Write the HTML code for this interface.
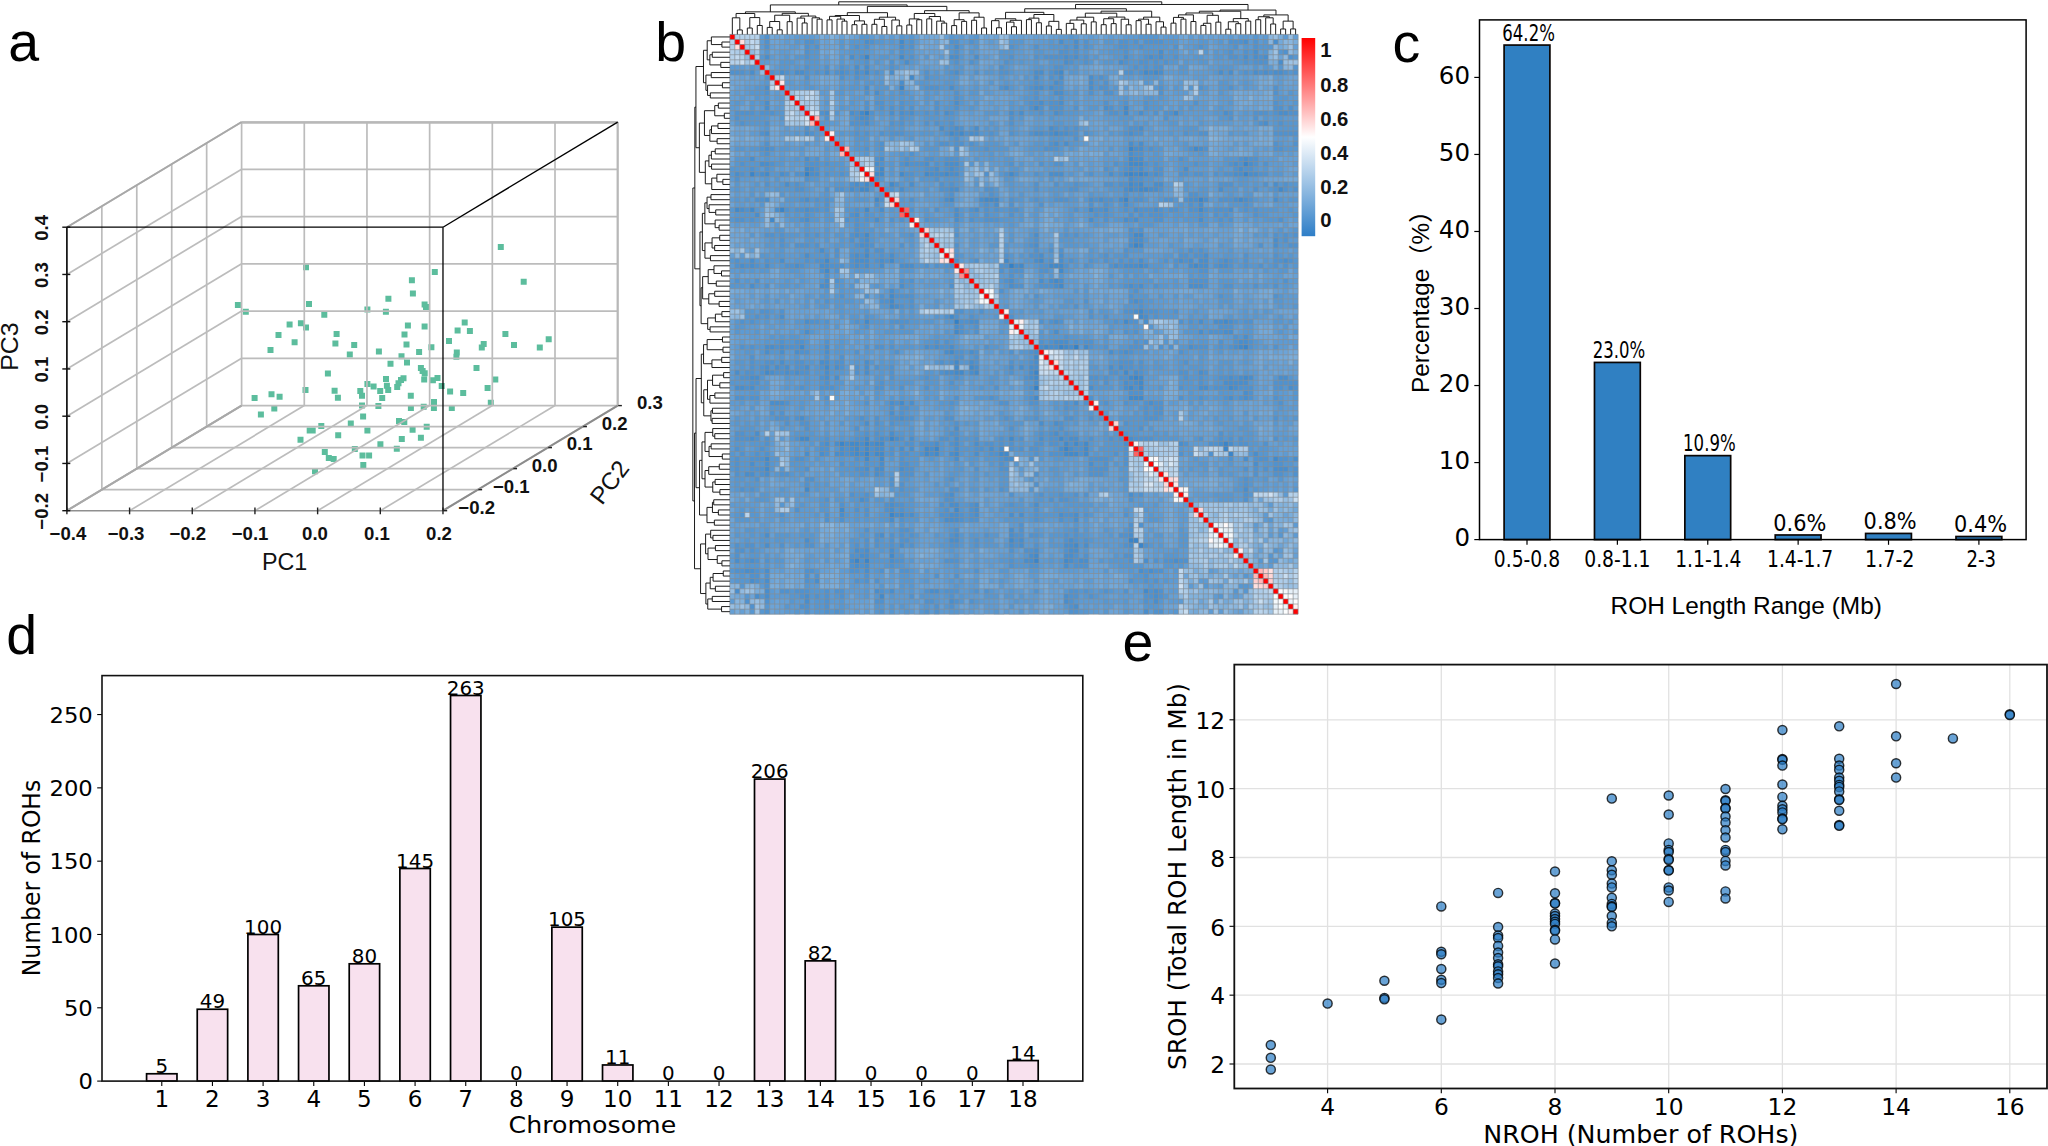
<!DOCTYPE html>
<html><head><meta charset="utf-8"><title>Figure</title>
<style>html,body{margin:0;padding:0;background:#fff}svg{display:block}text{white-space:pre}</style></head>
<body>
<svg width="2048" height="1146" viewBox="0 0 2048 1146">
<rect width="2048" height="1146" fill="#fff"/>
<g font-family="Liberation Sans, sans-serif" font-size="55.5" fill="#000"><text x="8.3" y="61.4">a</text><text x="655.2" y="61.1">b</text><text x="1392.4" y="62.2">c</text><text x="6.2" y="654.0">d</text><text x="1122.5" y="661.2">e</text></g>
<g id="pa"><path d="M497.8 244.1h6v6h-6zM303.0 264.2h6v6h-6zM431.8 268.9h6v6h-6zM408.9 277.3h6v6h-6zM520.7 278.8h6v6h-6zM409.9 290.4h6v6h-6zM385.4 295.8h6v6h-6zM234.9 301.9h6v6h-6zM306.0 300.9h6v6h-6zM421.6 301.6h6v6h-6zM423.0 303.9h6v6h-6zM364.4 306.4h6v6h-6zM242.8 308.7h6v6h-6zM382.9 308.7h6v6h-6zM321.3 311.7h6v6h-6zM461.7 319.5h6v6h-6zM297.9 320.2h6v6h-6zM286.6 321.6h6v6h-6zM404.9 322.6h6v6h-6zM421.6 323.5h6v6h-6zM303.0 324.6h6v6h-6zM454.6 327.6h6v6h-6zM466.9 328.0h6v6h-6zM333.6 330.9h6v6h-6zM502.4 330.9h6v6h-6zM275.5 331.9h6v6h-6zM401.5 331.4h6v6h-6zM545.7 336.3h6v6h-6zM446.0 337.9h6v6h-6zM291.6 339.2h6v6h-6zM332.4 340.4h6v6h-6zM480.7 341.1h6v6h-6zM351.2 341.9h6v6h-6zM403.5 341.6h6v6h-6zM511.0 341.9h6v6h-6zM428.4 344.2h6v6h-6zM478.8 344.6h6v6h-6zM536.8 344.4h6v6h-6zM267.5 347.0h6v6h-6zM375.9 348.5h6v6h-6zM416.1 348.9h6v6h-6zM453.8 349.4h6v6h-6zM346.8 351.5h6v6h-6zM398.5 353.2h6v6h-6zM453.4 353.7h6v6h-6zM387.5 360.7h6v6h-6zM404.0 359.5h6v6h-6zM473.5 364.9h6v6h-6zM417.9 364.9h6v6h-6zM419.6 368.1h6v6h-6zM421.7 370.3h6v6h-6zM324.9 370.6h6v6h-6zM434.5 374.9h6v6h-6zM400.5 375.2h6v6h-6zM383.0 376.1h6v6h-6zM421.2 376.4h6v6h-6zM492.3 376.6h6v6h-6zM429.9 377.2h6v6h-6zM398.0 376.9h6v6h-6zM395.5 380.2h6v6h-6zM364.4 381.1h6v6h-6zM383.9 382.7h6v6h-6zM438.7 383.0h6v6h-6zM370.6 383.5h6v6h-6zM394.2 384.0h6v6h-6zM484.6 384.9h6v6h-6zM302.5 386.9h6v6h-6zM385.2 386.9h6v6h-6zM331.6 387.7h6v6h-6zM357.3 388.0h6v6h-6zM377.2 388.0h6v6h-6zM447.1 388.5h6v6h-6zM460.2 390.0h6v6h-6zM268.5 391.2h6v6h-6zM359.0 392.7h6v6h-6zM407.8 392.8h6v6h-6zM276.6 393.8h6v6h-6zM251.6 395.0h6v6h-6zM334.9 394.8h6v6h-6zM379.2 395.0h6v6h-6zM431.0 399.1h6v6h-6zM487.8 399.8h6v6h-6zM359.0 402.6h6v6h-6zM375.4 403.1h6v6h-6zM420.7 403.8h6v6h-6zM407.9 405.1h6v6h-6zM430.9 405.1h6v6h-6zM448.8 405.1h6v6h-6zM271.3 405.5h6v6h-6zM257.9 411.6h6v6h-6zM360.1 413.6h6v6h-6zM396.0 418.1h6v6h-6zM401.3 418.9h6v6h-6zM347.8 420.4h6v6h-6zM318.3 422.9h6v6h-6zM423.7 423.7h6v6h-6zM409.6 426.7h6v6h-6zM306.7 427.5h6v6h-6zM309.7 427.5h6v6h-6zM364.4 427.4h6v6h-6zM335.2 432.2h6v6h-6zM417.9 434.7h6v6h-6zM398.8 436.0h6v6h-6zM297.5 436.8h6v6h-6zM377.4 441.3h6v6h-6zM393.8 445.8h6v6h-6zM351.8 446.1h6v6h-6zM321.8 449.1h6v6h-6zM359.5 452.4h6v6h-6zM366.1 452.4h6v6h-6zM325.8 454.9h6v6h-6zM330.7 456.1h6v6h-6zM360.3 461.9h6v6h-6zM312.0 468.2h6v6h-6z" fill="#5cbd9d"/>
<g><line x1="241.60" y1="405.60" x2="241.60" y2="122.10" stroke="#bcbcbc" stroke-width="1.7"/><line x1="304.28" y1="405.60" x2="304.28" y2="122.10" stroke="#bcbcbc" stroke-width="1.7"/><line x1="366.96" y1="405.60" x2="366.96" y2="122.10" stroke="#bcbcbc" stroke-width="1.7"/><line x1="429.64" y1="405.60" x2="429.64" y2="122.10" stroke="#bcbcbc" stroke-width="1.7"/><line x1="492.32" y1="405.60" x2="492.32" y2="122.10" stroke="#bcbcbc" stroke-width="1.7"/><line x1="555.00" y1="405.60" x2="555.00" y2="122.10" stroke="#bcbcbc" stroke-width="1.7"/><line x1="617.68" y1="405.60" x2="617.68" y2="122.10" stroke="#bcbcbc" stroke-width="1.7"/><line x1="241.60" y1="405.60" x2="617.68" y2="405.60" stroke="#bcbcbc" stroke-width="1.7"/><line x1="241.60" y1="358.35" x2="617.68" y2="358.35" stroke="#bcbcbc" stroke-width="1.7"/><line x1="241.60" y1="311.10" x2="617.68" y2="311.10" stroke="#bcbcbc" stroke-width="1.7"/><line x1="241.60" y1="263.85" x2="617.68" y2="263.85" stroke="#bcbcbc" stroke-width="1.7"/><line x1="241.60" y1="216.60" x2="617.68" y2="216.60" stroke="#bcbcbc" stroke-width="1.7"/><line x1="241.60" y1="169.35" x2="617.68" y2="169.35" stroke="#bcbcbc" stroke-width="1.7"/><line x1="241.60" y1="122.10" x2="617.68" y2="122.10" stroke="#bcbcbc" stroke-width="1.7"/><line x1="66.90" y1="510.70" x2="241.60" y2="405.60" stroke="#bcbcbc" stroke-width="1.7"/><line x1="66.90" y1="463.45" x2="241.60" y2="358.35" stroke="#bcbcbc" stroke-width="1.7"/><line x1="66.90" y1="416.20" x2="241.60" y2="311.10" stroke="#bcbcbc" stroke-width="1.7"/><line x1="66.90" y1="368.95" x2="241.60" y2="263.85" stroke="#bcbcbc" stroke-width="1.7"/><line x1="66.90" y1="321.70" x2="241.60" y2="216.60" stroke="#bcbcbc" stroke-width="1.7"/><line x1="66.90" y1="274.45" x2="241.60" y2="169.35" stroke="#bcbcbc" stroke-width="1.7"/><line x1="66.90" y1="227.20" x2="241.60" y2="122.10" stroke="#bcbcbc" stroke-width="1.7"/><line x1="101.84" y1="489.68" x2="101.84" y2="206.18" stroke="#bcbcbc" stroke-width="1.7"/><line x1="136.78" y1="468.66" x2="136.78" y2="185.16" stroke="#bcbcbc" stroke-width="1.7"/><line x1="171.72" y1="447.64" x2="171.72" y2="164.14" stroke="#bcbcbc" stroke-width="1.7"/><line x1="206.66" y1="426.62" x2="206.66" y2="143.12" stroke="#bcbcbc" stroke-width="1.7"/><line x1="66.90" y1="510.70" x2="241.60" y2="405.60" stroke="#bcbcbc" stroke-width="1.7"/><line x1="129.58" y1="510.70" x2="304.28" y2="405.60" stroke="#bcbcbc" stroke-width="1.7"/><line x1="192.26" y1="510.70" x2="366.96" y2="405.60" stroke="#bcbcbc" stroke-width="1.7"/><line x1="254.94" y1="510.70" x2="429.64" y2="405.60" stroke="#bcbcbc" stroke-width="1.7"/><line x1="317.62" y1="510.70" x2="492.32" y2="405.60" stroke="#bcbcbc" stroke-width="1.7"/><line x1="380.30" y1="510.70" x2="555.00" y2="405.60" stroke="#bcbcbc" stroke-width="1.7"/><line x1="442.98" y1="510.70" x2="617.68" y2="405.60" stroke="#bcbcbc" stroke-width="1.7"/><line x1="101.84" y1="489.68" x2="477.92" y2="489.68" stroke="#bcbcbc" stroke-width="1.7"/><line x1="136.78" y1="468.66" x2="512.86" y2="468.66" stroke="#bcbcbc" stroke-width="1.7"/><line x1="171.72" y1="447.64" x2="547.80" y2="447.64" stroke="#bcbcbc" stroke-width="1.7"/><line x1="206.66" y1="426.62" x2="582.74" y2="426.62" stroke="#bcbcbc" stroke-width="1.7"/><line x1="241.60" y1="122.50" x2="617.68" y2="122.50" stroke="#b8b8b8" stroke-width="2.5"/><line x1="617.68" y1="405.60" x2="617.68" y2="122.10" stroke="#b8b8b8" stroke-width="2.0"/><line x1="66.90" y1="510.70" x2="241.60" y2="405.60" stroke="#a8a8a8" stroke-width="2.0"/><line x1="66.90" y1="227.20" x2="241.60" y2="122.10" stroke="#a8a8a8" stroke-width="1.8"/><line x1="442.98" y1="510.70" x2="617.68" y2="405.60" stroke="#8c8c8c" stroke-width="2.0"/><line x1="66.90" y1="510.70" x2="442.98" y2="510.70" stroke="#8f8f8f" stroke-width="1.6"/><line x1="66.90" y1="227.20" x2="442.98" y2="227.20" stroke="#000" stroke-width="1.3"/><line x1="442.98" y1="227.20" x2="442.98" y2="510.70" stroke="#000" stroke-width="1.3"/><line x1="442.98" y1="227.20" x2="617.68" y2="122.10" stroke="#000" stroke-width="1.3"/><line x1="66.90" y1="227.20" x2="66.90" y2="510.70" stroke="#000" stroke-width="1.6"/><line x1="66.90" y1="507.50" x2="66.90" y2="514.30" stroke="#222" stroke-width="1.4"/><line x1="129.58" y1="507.50" x2="129.58" y2="514.30" stroke="#222" stroke-width="1.4"/><line x1="192.26" y1="507.50" x2="192.26" y2="514.30" stroke="#222" stroke-width="1.4"/><line x1="254.94" y1="507.50" x2="254.94" y2="514.30" stroke="#222" stroke-width="1.4"/><line x1="317.62" y1="507.50" x2="317.62" y2="514.30" stroke="#222" stroke-width="1.4"/><line x1="380.30" y1="507.50" x2="380.30" y2="514.30" stroke="#222" stroke-width="1.4"/><line x1="442.98" y1="507.50" x2="442.98" y2="514.30" stroke="#222" stroke-width="1.4"/><line x1="62.30" y1="510.70" x2="70.30" y2="510.70" stroke="#111" stroke-width="1.4"/><line x1="62.30" y1="463.45" x2="70.30" y2="463.45" stroke="#111" stroke-width="1.4"/><line x1="62.30" y1="416.20" x2="70.30" y2="416.20" stroke="#111" stroke-width="1.4"/><line x1="62.30" y1="368.95" x2="70.30" y2="368.95" stroke="#111" stroke-width="1.4"/><line x1="62.30" y1="321.70" x2="70.30" y2="321.70" stroke="#111" stroke-width="1.4"/><line x1="62.30" y1="274.45" x2="70.30" y2="274.45" stroke="#111" stroke-width="1.4"/><line x1="62.30" y1="227.20" x2="70.30" y2="227.20" stroke="#111" stroke-width="1.4"/><line x1="443.48" y1="510.70" x2="447.18" y2="510.70" stroke="#222" stroke-width="1.4"/><line x1="478.42" y1="489.68" x2="482.12" y2="489.68" stroke="#222" stroke-width="1.4"/><line x1="513.36" y1="468.66" x2="517.06" y2="468.66" stroke="#222" stroke-width="1.4"/><line x1="548.30" y1="447.64" x2="552.00" y2="447.64" stroke="#222" stroke-width="1.4"/><line x1="583.24" y1="426.62" x2="586.94" y2="426.62" stroke="#222" stroke-width="1.4"/><line x1="618.18" y1="405.60" x2="621.88" y2="405.60" stroke="#222" stroke-width="1.4"/></g>
<g font-family="Liberation Sans, sans-serif" font-weight="bold" font-size="18.6" fill="#111"><text x="49.6" y="540.2">−0.4</text><text x="107.7" y="540.2">−0.3</text><text x="169.4" y="540.2">−0.2</text><text x="231.7" y="540.2">−0.1</text><text x="302.1" y="540.2">0.0</text><text x="364.0" y="540.2">0.1</text><text x="426.1" y="540.2">0.2</text><text transform="translate(48.3,511.3) rotate(-90)" text-anchor="middle">−0.2</text><text transform="translate(48.3,464.1) rotate(-90)" text-anchor="middle">−0.1</text><text transform="translate(48.3,416.8) rotate(-90)" text-anchor="middle">0.0</text><text transform="translate(48.3,369.6) rotate(-90)" text-anchor="middle">0.1</text><text transform="translate(48.3,322.3) rotate(-90)" text-anchor="middle">0.2</text><text transform="translate(48.3,275.1) rotate(-90)" text-anchor="middle">0.3</text><text transform="translate(48.3,227.8) rotate(-90)" text-anchor="middle">0.4</text><text x="458.3" y="513.9">−0.2</text><text x="492.9" y="492.8">−0.1</text><text x="531.7" y="471.5">0.0</text><text x="566.7" y="450.4">0.1</text><text x="601.7" y="429.5">0.2</text><text x="636.9" y="408.6">0.3</text></g>
<g font-family="Liberation Sans, sans-serif" font-size="24.2" fill="#111"><text x="261.9" y="569.9" textLength="45.3" lengthAdjust="spacingAndGlyphs">PC1</text><text transform="translate(18.0,346.6) rotate(-90)" text-anchor="middle" textLength="48.3" lengthAdjust="spacingAndGlyphs">PC3</text><text transform="translate(616.1,487.3) rotate(-53)" text-anchor="middle">PC2</text></g></g>
<g id="pb"><rect x="729.85" y="34.40" width="568.25" height="579.80" fill="#5d9bd4"/>
<path fill="#3281c8" d="M864.44 110.69H869.42V115.78H864.44zM804.62 171.72H809.6V176.81H804.62zM1008.99 263.27H1013.97V268.35H1008.99zM954.16 319.21H959.14V324.3H954.16zM1073.79 344.64H1078.78V349.73H1073.79zM1033.91 385.33H1038.9V390.42H1033.91z"/>
<path fill="#3a85ca" d="M864.44 54.74H869.42V59.83H864.44zM899.33 85.26H904.31V90.35H899.33zM1128.62 146.29H1133.61V151.38H1128.62zM1243.27 161.55H1248.25V166.64H1243.27zM749.79 171.72H754.77V176.81H749.79zM1128.62 171.72H1133.61V176.81H1128.62zM1138.59 171.72H1143.58V176.81H1138.59zM1243.27 171.72H1248.25V176.81H1243.27zM1123.64 197.15H1128.62V202.24H1123.64zM1198.41 197.15H1203.39V202.24H1198.41zM779.7 207.32H784.68V212.41H779.7zM1133.61 242.92H1138.59V248.01H1133.61zM1058.84 344.64H1063.82V349.73H1058.84zM1243.27 344.64H1248.25V349.73H1243.27zM1033.91 370.07H1038.9V375.16H1033.91zM1133.61 375.16H1138.59V380.25H1133.61zM889.36 436.19H894.34V441.28H889.36zM839.51 441.28H844.5V446.36H839.51zM864.44 441.28H869.42V446.36H864.44zM1223.33 441.28H1228.31V446.36H1223.33zM934.22 446.36H939.21V451.45H934.22zM1063.82 446.36H1068.81V451.45H1063.82zM1223.33 446.36H1228.31V451.45H1223.33zM864.44 451.45H869.42V456.54H864.44zM1228.31 451.45H1233.3V456.54H1228.31zM889.36 512.48H894.34V517.57H889.36zM1128.62 537.91H1138.59V543H1128.62zM1138.59 543H1143.58V548.08H1138.59zM854.47 558.25H859.45V563.34H854.47zM864.44 558.25H869.42V563.34H864.44zM1033.91 558.25H1038.9V563.34H1033.91z"/>
<path fill="#418acc" d="M899.33 39.49H904.31V44.57H899.33zM899.33 54.74H904.31V59.83H899.33zM864.44 70H869.42V75.09H864.44zM1058.84 70H1063.82V75.09H1058.84zM1143.58 70H1148.56V75.09H1143.58zM1153.55 70H1158.53V75.09H1153.55zM909.3 75.09H914.28V80.17H909.3zM1033.91 105.6H1038.9V110.69H1033.91zM1123.64 105.6H1128.62V110.69H1123.64zM859.45 110.69H864.44V115.78H859.45zM1123.64 110.69H1128.62V115.78H1123.64zM1173.48 110.69H1178.47V115.78H1173.48zM949.17 131.03H954.16V136.12H949.17zM959.14 131.03H964.13V136.12H959.14zM1053.85 131.03H1058.84V136.12H1053.85zM1193.42 146.29H1198.41V151.38H1193.42zM1128.62 156.46H1133.61V161.55H1128.62zM1128.62 161.55H1143.58V166.64H1128.62zM804.62 166.64H809.6V171.72H804.62zM879.39 166.64H884.37V171.72H879.39zM764.74 171.72H769.73V176.81H764.74zM874.4 171.72H884.37V176.81H874.4zM899.33 171.72H904.31V176.81H899.33zM924.25 171.72H929.24V176.81H924.25zM944.19 171.72H949.17V176.81H944.19zM1008.99 171.72H1013.97V176.81H1008.99zM1123.64 171.72H1128.62V176.81H1123.64zM1133.61 171.72H1138.59V176.81H1133.61zM1143.58 171.72H1148.56V176.81H1143.58zM864.44 181.89H869.42V186.98H864.44zM889.36 181.89H894.34V186.98H889.36zM1128.62 181.89H1133.61V186.98H1128.62zM1138.59 181.89H1143.58V186.98H1138.59zM859.45 186.98H869.42V192.06H859.45zM1128.62 186.98H1133.61V192.06H1128.62zM1138.59 186.98H1148.56V192.06H1138.59zM1278.16 186.98H1283.15V192.06H1278.16zM874.4 197.15H879.39V202.24H874.4zM949.17 197.15H954.16V202.24H949.17zM984.07 197.15H999.02V202.24H984.07zM1238.28 197.15H1243.27V202.24H1238.28zM734.83 207.32H739.82V212.41H734.83zM749.79 207.32H754.77V212.41H749.79zM864.44 207.32H869.42V212.41H864.44zM1088.74 207.32H1093.73V212.41H1088.74zM1198.41 207.32H1203.39V212.41H1198.41zM769.73 217.49H774.71V222.58H769.73zM864.44 232.75H869.42V237.84H864.44zM1133.61 232.75H1143.58V237.84H1133.61zM1138.59 242.92H1143.58V248.01H1138.59zM864.44 253.1H869.42V258.18H864.44zM824.56 258.18H829.54V263.27H824.56zM889.36 258.18H894.34V263.27H889.36zM1004.01 258.18H1008.99V263.27H1004.01zM1038.9 258.18H1043.88V263.27H1038.9zM1018.96 263.27H1023.94V268.35H1018.96zM1048.87 263.27H1063.82V268.35H1048.87zM1138.59 263.27H1143.58V268.35H1138.59zM1193.42 263.27H1198.41V268.35H1193.42zM824.56 268.35H829.54V273.44H824.56zM1058.84 268.35H1063.82V273.44H1058.84zM1053.85 278.53H1058.84V283.61H1053.85zM1058.84 283.61H1063.82V288.7H1058.84zM889.36 293.78H894.34V298.87H889.36zM889.36 298.87H894.34V303.96H889.36zM889.36 303.96H894.34V309.04H889.36zM1138.59 309.04H1143.58V314.13H1138.59zM949.17 314.13H954.16V319.21H949.17zM1138.59 314.13H1143.58V319.21H1138.59zM864.44 319.21H869.42V324.3H864.44zM1123.64 319.21H1128.62V324.3H1123.64zM1223.33 319.21H1228.31V324.3H1223.33zM954.16 329.39H959.14V334.47H954.16zM799.64 344.64H804.62V349.73H799.64zM1043.88 344.64H1048.87V349.73H1043.88zM1063.82 344.64H1068.81V349.73H1063.82zM1083.76 344.64H1088.74V349.73H1083.76zM1238.28 344.64H1243.27V349.73H1238.28zM949.17 349.73H954.16V354.82H949.17zM1033.91 354.82H1038.9V359.9H1033.91zM954.16 359.9H959.14V364.99H954.16zM824.56 364.99H829.54V370.07H824.56zM954.16 364.99H959.14V370.07H954.16zM969.11 364.99H974.1V370.07H969.11zM764.74 370.07H769.73V375.16H764.74zM954.16 370.07H964.13V375.16H954.16zM974.1 370.07H979.08V375.16H974.1zM1123.64 370.07H1128.62V375.16H1123.64zM1033.91 375.16H1038.9V380.25H1033.91zM1128.62 375.16H1133.61V380.25H1128.62zM1138.59 375.16H1143.58V380.25H1138.59zM1243.27 375.16H1248.25V380.25H1243.27zM1138.59 380.25H1143.58V385.33H1138.59zM1128.62 385.33H1133.61V390.42H1128.62zM1138.59 385.33H1143.58V390.42H1138.59zM1228.31 385.33H1233.3V390.42H1228.31zM1033.91 395.5H1038.9V400.59H1033.91zM1128.62 395.5H1143.58V400.59H1128.62zM899.33 400.59H904.31V405.68H899.33zM799.64 436.19H809.6V441.28H799.64zM864.44 436.19H869.42V441.28H864.44zM1008.99 436.19H1013.97V441.28H1008.99zM1058.84 436.19H1063.82V441.28H1058.84zM849.48 441.28H859.45V446.36H849.48zM874.4 441.28H884.37V446.36H874.4zM1063.82 441.28H1068.81V446.36H1063.82zM1073.79 441.28H1078.78V446.36H1073.79zM1083.76 441.28H1088.74V446.36H1083.76zM854.47 446.36H859.45V451.45H854.47zM864.44 446.36H869.42V451.45H864.44zM924.25 446.36H929.24V451.45H924.25zM1083.76 446.36H1088.74V451.45H1083.76zM854.47 451.45H859.45V456.54H854.47zM874.4 451.45H884.37V456.54H874.4zM924.25 451.45H929.24V456.54H924.25zM934.22 451.45H939.21V456.54H934.22zM954.16 451.45H959.14V456.54H954.16zM999.02 451.45H1008.99V456.54H999.02zM1063.82 451.45H1078.78V456.54H1063.82zM1083.76 451.45H1088.74V456.54H1083.76zM764.74 456.54H769.73V461.62H764.74zM864.44 456.54H869.42V461.62H864.44zM879.39 456.54H884.37V461.62H879.39zM1273.18 456.54H1278.16V461.62H1273.18zM764.74 466.71H769.73V471.79H764.74zM804.62 487.05H809.6V492.14H804.62zM839.51 507.39H844.5V512.48H839.51zM954.16 507.39H959.14V512.48H954.16zM899.33 512.48H904.31V517.57H899.33zM1008.99 537.91H1013.97V543H1008.99zM1073.79 543H1078.78V548.08H1073.79zM889.36 553.17H894.34V558.25H889.36zM1033.91 553.17H1038.9V558.25H1033.91zM1063.82 558.25H1068.81V563.34H1063.82zM1143.58 588.77H1148.56V593.86H1143.58zM879.39 593.86H884.37V598.94H879.39z"/>
<path fill="#488ece" d="M864.44 39.49H869.42V44.57H864.44zM1058.84 39.49H1063.82V44.57H1058.84zM1073.79 39.49H1078.78V44.57H1073.79zM1243.27 39.49H1248.25V44.57H1243.27zM1273.18 39.49H1278.16V44.57H1273.18zM899.33 44.57H904.31V49.66H899.33zM954.16 44.57H959.14V49.66H954.16zM1073.79 44.57H1078.78V49.66H1073.79zM1158.53 49.66H1163.51V54.74H1158.53zM1253.24 49.66H1258.22V54.74H1253.24zM764.74 54.74H769.73V59.83H764.74zM849.48 54.74H854.47V59.83H849.48zM949.17 54.74H959.14V59.83H949.17zM974.1 54.74H979.08V59.83H974.1zM1063.82 54.74H1068.81V59.83H1063.82zM1073.79 54.74H1078.78V59.83H1073.79zM1123.64 54.74H1128.62V59.83H1123.64zM1148.56 54.74H1153.55V59.83H1148.56zM1158.53 54.74H1163.51V59.83H1158.53zM1243.27 54.74H1248.25V59.83H1243.27zM1253.24 54.74H1258.22V59.83H1253.24zM1263.21 54.74H1268.19V59.83H1263.21zM904.31 59.83H909.3V64.92H904.31zM1063.82 59.83H1068.81V64.92H1063.82zM1118.65 59.83H1123.64V64.92H1118.65zM1278.16 59.83H1283.15V64.92H1278.16zM854.47 64.92H859.45V70H854.47zM864.44 64.92H869.42V70H864.44zM749.79 70H754.77V75.09H749.79zM779.7 70H784.68V75.09H779.7zM794.65 70H804.62V75.09H794.65zM824.56 70H829.54V75.09H824.56zM839.51 70H844.5V75.09H839.51zM854.47 70H859.45V75.09H854.47zM889.36 70H894.34V75.09H889.36zM954.16 70H959.14V75.09H954.16zM1033.91 70H1043.88V75.09H1033.91zM1053.85 70H1058.84V75.09H1053.85zM1148.56 70H1153.55V75.09H1148.56zM1158.53 70H1163.51V75.09H1158.53zM1218.35 70H1223.33V75.09H1218.35zM1228.31 70H1233.3V75.09H1228.31zM1253.24 70H1258.22V75.09H1253.24zM1263.21 70H1268.19V75.09H1263.21zM1273.18 70H1283.15V75.09H1273.18zM1033.91 75.09H1038.9V80.17H1033.91zM1058.84 75.09H1063.82V80.17H1058.84zM1088.74 75.09H1093.73V80.17H1088.74zM899.33 80.17H904.31V85.26H899.33zM1053.85 80.17H1058.84V85.26H1053.85zM1088.74 80.17H1093.73V85.26H1088.74zM764.74 85.26H769.73V90.35H764.74zM864.44 85.26H869.42V90.35H864.44zM949.17 85.26H954.16V90.35H949.17zM1004.01 85.26H1008.99V90.35H1004.01zM1033.91 85.26H1043.88V90.35H1033.91zM1048.87 85.26H1053.85V90.35H1048.87zM1088.74 85.26H1093.73V90.35H1088.74zM874.4 90.35H879.39V95.43H874.4zM1053.85 90.35H1063.82V95.43H1053.85zM764.74 100.52H769.73V105.6H764.74zM954.16 100.52H959.14V105.6H954.16zM1038.9 100.52H1043.88V105.6H1038.9zM1058.84 100.52H1063.82V105.6H1058.84zM764.74 105.6H769.73V110.69H764.74zM1103.7 105.6H1108.68V110.69H1103.7zM824.56 110.69H829.54V115.78H824.56zM849.48 110.69H854.47V115.78H849.48zM889.36 110.69H894.34V115.78H889.36zM899.33 110.69H904.31V115.78H899.33zM909.3 110.69H914.28V115.78H909.3zM944.19 110.69H949.17V115.78H944.19zM1008.99 110.69H1013.97V115.78H1008.99zM1018.96 110.69H1023.94V115.78H1018.96zM1053.85 110.69H1058.84V115.78H1053.85zM1138.59 110.69H1143.58V115.78H1138.59zM1223.33 110.69H1228.31V115.78H1223.33zM1278.16 110.69H1288.13V115.78H1278.16zM859.45 115.78H869.42V120.86H859.45zM864.44 120.86H869.42V125.95H864.44zM1263.21 120.86H1268.19V125.95H1263.21zM939.21 125.95H944.19V131.03H939.21zM954.16 125.95H959.14V131.03H954.16zM974.1 125.95H979.08V131.03H974.1zM1048.87 125.95H1053.85V131.03H1048.87zM1138.59 125.95H1143.58V131.03H1138.59zM764.74 131.03H769.73V136.12H764.74zM804.62 131.03H809.6V136.12H804.62zM954.16 131.03H959.14V136.12H954.16zM969.11 131.03H979.08V136.12H969.11zM1033.91 131.03H1043.88V136.12H1033.91zM1048.87 131.03H1053.85V136.12H1048.87zM1058.84 131.03H1068.81V136.12H1058.84zM1128.62 131.03H1133.61V136.12H1128.62zM1053.85 141.21H1058.84V146.29H1053.85zM1063.82 141.21H1068.81V146.29H1063.82zM1128.62 141.21H1133.61V146.29H1128.62zM1138.59 141.21H1143.58V146.29H1138.59zM764.74 146.29H769.73V151.38H764.74zM1133.61 146.29H1143.58V151.38H1133.61zM1198.41 146.29H1203.39V151.38H1198.41zM1128.62 151.38H1133.61V156.46H1128.62zM749.79 156.46H754.77V161.55H749.79zM804.62 156.46H809.6V161.55H804.62zM879.39 156.46H884.37V161.55H879.39zM1133.61 156.46H1143.58V161.55H1133.61zM1243.27 156.46H1248.25V161.55H1243.27zM759.76 161.55H769.73V166.64H759.76zM874.4 161.55H879.39V166.64H874.4zM904.31 161.55H909.3V166.64H904.31zM924.25 161.55H929.24V166.64H924.25zM944.19 161.55H959.14V166.64H944.19zM1233.3 161.55H1238.28V166.64H1233.3zM1248.25 161.55H1253.24V166.64H1248.25zM809.6 166.64H814.59V171.72H809.6zM934.22 166.64H939.21V171.72H934.22zM949.17 166.64H954.16V171.72H949.17zM1128.62 166.64H1133.61V171.72H1128.62zM1138.59 166.64H1143.58V171.72H1138.59zM1183.45 166.64H1188.44V171.72H1183.45zM1238.28 166.64H1243.27V171.72H1238.28zM734.83 171.72H739.82V176.81H734.83zM759.76 171.72H764.74V176.81H759.76zM779.7 171.72H784.68V176.81H779.7zM809.6 171.72H819.57V176.81H809.6zM929.24 171.72H944.19V176.81H929.24zM949.17 171.72H959.14V176.81H949.17zM1048.87 171.72H1063.82V176.81H1048.87zM1108.68 171.72H1113.67V176.81H1108.68zM1153.55 171.72H1158.53V176.81H1153.55zM1233.3 171.72H1243.27V176.81H1233.3zM1248.25 171.72H1258.22V176.81H1248.25zM1128.62 176.81H1133.61V181.89H1128.62zM784.68 181.89H789.67V186.98H784.68zM854.47 181.89H859.45V186.98H854.47zM909.3 181.89H914.28V186.98H909.3zM1133.61 181.89H1138.59V186.98H1133.61zM1153.55 181.89H1163.51V186.98H1153.55zM1273.18 181.89H1278.16V186.98H1273.18zM849.48 186.98H854.47V192.06H849.48zM899.33 186.98H904.31V192.06H899.33zM949.17 186.98H959.14V192.06H949.17zM1123.64 186.98H1128.62V192.06H1123.64zM1133.61 186.98H1138.59V192.06H1133.61zM1148.56 186.98H1158.53V192.06H1148.56zM1218.35 186.98H1223.33V192.06H1218.35zM764.74 197.15H769.73V202.24H764.74zM804.62 197.15H809.6V202.24H804.62zM944.19 197.15H949.17V202.24H944.19zM979.08 197.15H984.07V202.24H979.08zM1088.74 197.15H1093.73V202.24H1088.74zM1098.71 197.15H1103.7V202.24H1098.71zM1118.65 197.15H1123.64V202.24H1118.65zM1188.44 197.15H1198.41V202.24H1188.44zM1203.39 197.15H1208.38V202.24H1203.39zM1233.3 197.15H1238.28V202.24H1233.3zM1243.27 197.15H1248.25V202.24H1243.27zM1273.18 197.15H1278.16V202.24H1273.18zM994.04 202.24H999.02V207.32H994.04zM1123.64 202.24H1128.62V207.32H1123.64zM1198.41 202.24H1203.39V207.32H1198.41zM739.82 207.32H744.8V212.41H739.82zM774.71 207.32H779.7V212.41H774.71zM804.62 207.32H809.6V212.41H804.62zM879.39 207.32H884.37V212.41H879.39zM954.16 207.32H959.14V212.41H954.16zM974.1 207.32H979.08V212.41H974.1zM1103.7 207.32H1108.68V212.41H1103.7zM1133.61 207.32H1138.59V212.41H1133.61zM1153.55 207.32H1158.53V212.41H1153.55zM1228.31 207.32H1233.3V212.41H1228.31zM754.77 212.41H759.76V217.49H754.77zM854.47 212.41H859.45V217.49H854.47zM954.16 212.41H959.14V217.49H954.16zM804.62 217.49H809.6V222.58H804.62zM874.4 217.49H879.39V222.58H874.4zM954.16 217.49H959.14V222.58H954.16zM1088.74 217.49H1093.73V222.58H1088.74zM1123.64 217.49H1128.62V222.58H1123.64zM1133.61 217.49H1138.59V222.58H1133.61zM1198.41 217.49H1203.39V222.58H1198.41zM854.47 232.75H859.45V237.84H854.47zM1033.91 232.75H1038.9V237.84H1033.91zM864.44 237.84H869.42V242.92H864.44zM1133.61 237.84H1143.58V242.92H1133.61zM1273.18 237.84H1278.16V242.92H1273.18zM859.45 242.92H869.42V248.01H859.45zM1033.91 242.92H1038.9V248.01H1033.91zM1128.62 242.92H1133.61V248.01H1128.62zM1273.18 242.92H1278.16V248.01H1273.18zM819.57 248.01H824.56V253.1H819.57zM864.44 248.01H869.42V253.1H864.44zM804.62 253.1H809.6V258.18H804.62zM854.47 253.1H859.45V258.18H854.47zM889.36 253.1H894.34V258.18H889.36zM1038.9 253.1H1043.88V258.18H1038.9zM1058.84 253.1H1063.82V258.18H1058.84zM1203.39 253.1H1208.38V258.18H1203.39zM749.79 258.18H754.77V263.27H749.79zM779.7 258.18H784.68V263.27H779.7zM854.47 258.18H869.42V263.27H854.47zM879.39 258.18H884.37V263.27H879.39zM954.16 258.18H959.14V263.27H954.16zM1033.91 258.18H1038.9V263.27H1033.91zM1058.84 258.18H1063.82V263.27H1058.84zM1138.59 258.18H1143.58V263.27H1138.59zM1178.47 258.18H1183.45V263.27H1178.47zM1188.44 258.18H1193.42V263.27H1188.44zM1198.41 258.18H1208.38V263.27H1198.41zM1223.33 258.18H1228.31V263.27H1223.33zM1283.15 258.18H1288.13V263.27H1283.15zM739.82 263.27H744.8V268.35H739.82zM749.79 263.27H754.77V268.35H749.79zM764.74 263.27H769.73V268.35H764.74zM794.65 263.27H799.64V268.35H794.65zM819.57 263.27H829.54V268.35H819.57zM854.47 263.27H859.45V268.35H854.47zM864.44 263.27H869.42V268.35H864.44zM879.39 263.27H884.37V268.35H879.39zM899.33 263.27H914.28V268.35H899.33zM949.17 263.27H954.16V268.35H949.17zM1013.97 263.27H1018.96V268.35H1013.97zM1113.67 263.27H1118.65V268.35H1113.67zM1123.64 263.27H1138.59V268.35H1123.64zM1143.58 263.27H1148.56V268.35H1143.58zM1188.44 263.27H1193.42V268.35H1188.44zM1198.41 263.27H1208.38V268.35H1198.41zM1218.35 263.27H1228.31V268.35H1218.35zM824.56 278.53H829.54V283.61H824.56zM1008.99 278.53H1013.97V283.61H1008.99zM1038.9 278.53H1043.88V283.61H1038.9zM1048.87 278.53H1053.85V283.61H1048.87zM1058.84 278.53H1063.82V283.61H1058.84zM749.79 283.61H754.77V288.7H749.79zM819.57 283.61H829.54V288.7H819.57zM899.33 283.61H904.31V288.7H899.33zM1008.99 283.61H1013.97V288.7H1008.99zM1053.85 283.61H1058.84V288.7H1053.85zM1128.62 283.61H1133.61V288.7H1128.62zM1138.59 283.61H1143.58V288.7H1138.59zM1188.44 283.61H1203.39V288.7H1188.44zM889.36 288.7H894.34V293.78H889.36zM1133.61 298.87H1138.59V303.96H1133.61zM894.34 303.96H899.33V309.04H894.34zM1133.61 309.04H1138.59V314.13H1133.61zM779.7 314.13H784.68V319.21H779.7zM1143.58 314.13H1148.56V319.21H1143.58zM804.62 319.21H809.6V324.3H804.62zM969.11 319.21H979.08V324.3H969.11zM1053.85 319.21H1058.84V324.3H1053.85zM1143.58 319.21H1148.56V324.3H1143.58zM1198.41 319.21H1203.39V324.3H1198.41zM1213.36 319.21H1223.33V324.3H1213.36zM1228.31 319.21H1233.3V324.3H1228.31zM954.16 324.3H959.14V329.39H954.16zM804.62 329.39H809.6V334.47H804.62zM1053.85 329.39H1058.84V334.47H1053.85zM1198.41 329.39H1203.39V334.47H1198.41zM1223.33 329.39H1233.3V334.47H1223.33zM1243.27 334.47H1248.25V339.56H1243.27zM1053.85 339.56H1068.81V344.64H1053.85zM1238.28 339.56H1248.25V344.64H1238.28zM764.74 344.64H774.71V349.73H764.74zM779.7 344.64H784.68V349.73H779.7zM824.56 344.64H829.54V349.73H824.56zM924.25 344.64H929.24V349.73H924.25zM934.22 344.64H939.21V349.73H934.22zM949.17 344.64H954.16V349.73H949.17zM1038.9 344.64H1043.88V349.73H1038.9zM1048.87 344.64H1058.84V349.73H1048.87zM1068.81 344.64H1073.79V349.73H1068.81zM1188.44 344.64H1193.42V349.73H1188.44zM1233.3 344.64H1238.28V349.73H1233.3zM764.74 349.73H769.73V354.82H764.74zM779.7 349.73H784.68V354.82H779.7zM794.65 349.73H799.64V354.82H794.65zM824.56 349.73H829.54V354.82H824.56zM944.19 349.73H949.17V354.82H944.19zM969.11 349.73H974.1V354.82H969.11zM1033.91 349.73H1038.9V354.82H1033.91zM1108.68 349.73H1113.67V354.82H1108.68zM1123.64 349.73H1128.62V354.82H1123.64zM779.7 359.9H784.68V364.99H779.7zM819.57 359.9H829.54V364.99H819.57zM864.44 359.9H869.42V364.99H864.44zM969.11 359.9H974.1V364.99H969.11zM1033.91 359.9H1038.9V364.99H1033.91zM764.74 364.99H769.73V370.07H764.74zM774.71 364.99H779.7V370.07H774.71zM784.68 364.99H789.67V370.07H784.68zM804.62 364.99H809.6V370.07H804.62zM834.53 364.99H839.51V370.07H834.53zM864.44 364.99H869.42V370.07H864.44zM974.1 364.99H979.08V370.07H974.1zM1008.99 364.99H1013.97V370.07H1008.99zM1018.96 364.99H1023.94V370.07H1018.96zM1028.93 364.99H1038.9V370.07H1028.93zM1108.68 364.99H1113.67V370.07H1108.68zM1118.65 364.99H1123.64V370.07H1118.65zM734.83 370.07H739.82V375.16H734.83zM769.73 370.07H774.71V375.16H769.73zM784.68 370.07H789.67V375.16H784.68zM794.65 370.07H799.64V375.16H794.65zM824.56 370.07H829.54V375.16H824.56zM864.44 370.07H869.42V375.16H864.44zM944.19 370.07H954.16V375.16H944.19zM969.11 370.07H974.1V375.16H969.11zM1028.93 370.07H1033.91V375.16H1028.93zM1133.61 370.07H1138.59V375.16H1133.61zM1198.41 370.07H1203.39V375.16H1198.41zM749.79 375.16H759.76V380.25H749.79zM824.56 375.16H829.54V380.25H824.56zM834.53 375.16H839.51V380.25H834.53zM1028.93 375.16H1033.91V380.25H1028.93zM1228.31 375.16H1233.3V380.25H1228.31zM1238.28 375.16H1243.27V380.25H1238.28zM1248.25 375.16H1253.24V380.25H1248.25zM1278.16 375.16H1288.13V380.25H1278.16zM1033.91 380.25H1038.9V385.33H1033.91zM1123.64 380.25H1128.62V385.33H1123.64zM1133.61 380.25H1138.59V385.33H1133.61zM1223.33 380.25H1248.25V385.33H1223.33zM734.83 385.33H744.8V390.42H734.83zM749.79 385.33H754.77V390.42H749.79zM1088.74 385.33H1093.73V390.42H1088.74zM1123.64 385.33H1128.62V390.42H1123.64zM1198.41 385.33H1208.38V390.42H1198.41zM1233.3 385.33H1238.28V390.42H1233.3zM1288.13 385.33H1293.12V390.42H1288.13zM1243.27 390.42H1248.25V395.5H1243.27zM1228.31 395.5H1233.3V400.59H1228.31zM1243.27 395.5H1248.25V400.59H1243.27zM769.73 400.59H784.68V405.68H769.73zM889.36 400.59H894.34V405.68H889.36zM909.3 400.59H914.28V405.68H909.3zM1073.79 400.59H1078.78V405.68H1073.79zM1148.56 400.59H1153.55V405.68H1148.56zM889.36 410.76H894.34V415.85H889.36zM799.64 415.85H804.62V420.93H799.64zM899.33 415.85H904.31V420.93H899.33zM864.44 420.93H869.42V426.02H864.44zM1038.9 420.93H1043.88V426.02H1038.9zM1053.85 420.93H1058.84V426.02H1053.85zM954.16 426.02H959.14V431.11H954.16zM754.77 431.11H759.76V436.19H754.77zM889.36 431.11H894.34V436.19H889.36zM1053.85 431.11H1058.84V436.19H1053.85zM749.79 436.19H754.77V441.28H749.79zM879.39 436.19H884.37V441.28H879.39zM894.34 436.19H899.33V441.28H894.34zM909.3 436.19H914.28V441.28H909.3zM954.16 436.19H959.14V441.28H954.16zM1038.9 436.19H1043.88V441.28H1038.9zM1068.81 436.19H1078.78V441.28H1068.81zM1128.62 436.19H1133.61V441.28H1128.62zM824.56 441.28H829.54V446.36H824.56zM834.53 441.28H839.51V446.36H834.53zM844.5 441.28H849.48V446.36H844.5zM859.45 441.28H864.44V446.36H859.45zM869.42 441.28H874.4V446.36H869.42zM934.22 441.28H939.21V446.36H934.22zM954.16 441.28H959.14V446.36H954.16zM974.1 441.28H979.08V446.36H974.1zM1123.64 441.28H1128.62V446.36H1123.64zM1178.47 441.28H1183.45V446.36H1178.47zM1218.35 441.28H1223.33V446.36H1218.35zM1228.31 441.28H1233.3V446.36H1228.31zM839.51 446.36H844.5V451.45H839.51zM849.48 446.36H854.47V451.45H849.48zM874.4 446.36H884.37V451.45H874.4zM899.33 446.36H904.31V451.45H899.33zM909.3 446.36H914.28V451.45H909.3zM929.24 446.36H934.22V451.45H929.24zM954.16 446.36H959.14V451.45H954.16zM989.05 446.36H994.04V451.45H989.05zM999.02 446.36H1004.01V451.45H999.02zM1058.84 446.36H1063.82V451.45H1058.84zM1068.81 446.36H1073.79V451.45H1068.81zM804.62 451.45H809.6V456.54H804.62zM819.57 451.45H824.56V456.54H819.57zM834.53 451.45H844.5V456.54H834.53zM849.48 451.45H854.47V456.54H849.48zM859.45 451.45H864.44V456.54H859.45zM929.24 451.45H934.22V456.54H929.24zM949.17 451.45H954.16V456.54H949.17zM974.1 451.45H979.08V456.54H974.1zM1253.24 451.45H1258.22V456.54H1253.24zM954.16 456.54H959.14V461.62H954.16zM1004.01 456.54H1013.97V461.62H1004.01zM1243.27 456.54H1248.25V461.62H1243.27zM1293.12 456.54H1298.1V461.62H1293.12zM749.79 461.62H754.77V466.71H749.79zM764.74 461.62H769.73V466.71H764.74zM879.39 461.62H884.37V466.71H879.39zM1088.74 461.62H1093.73V466.71H1088.74zM1253.24 461.62H1258.22V466.71H1253.24zM864.44 466.71H869.42V471.79H864.44zM874.4 466.71H884.37V471.79H874.4zM899.33 466.71H904.31V471.79H899.33zM1273.18 466.71H1288.13V471.79H1273.18zM744.8 471.79H754.77V476.88H744.8zM764.74 471.79H769.73V476.88H764.74zM874.4 471.79H879.39V476.88H874.4zM1243.27 487.05H1248.25V492.14H1243.27zM949.17 492.14H954.16V497.22H949.17zM1128.62 492.14H1133.61V497.22H1128.62zM859.45 497.22H864.44V502.31H859.45zM889.36 502.31H894.34V507.39H889.36zM949.17 502.31H959.14V507.39H949.17zM974.1 502.31H979.08V507.39H974.1zM1033.91 502.31H1038.9V507.39H1033.91zM889.36 507.39H894.34V512.48H889.36zM974.1 507.39H979.08V512.48H974.1zM839.51 512.48H844.5V517.57H839.51zM894.34 512.48H899.33V517.57H894.34zM909.3 512.48H914.28V517.57H909.3zM949.17 512.48H959.14V517.57H949.17zM974.1 512.48H979.08V517.57H974.1zM1008.99 512.48H1013.97V517.57H1008.99zM1018.96 512.48H1023.94V517.57H1018.96zM1058.84 512.48H1063.82V517.57H1058.84zM1073.79 512.48H1078.78V517.57H1073.79zM889.36 517.57H894.34V522.65H889.36zM944.19 517.57H959.14V522.65H944.19zM1073.79 517.57H1078.78V522.65H1073.79zM1008.99 527.74H1013.97V532.82H1008.99zM764.74 532.82H769.73V537.91H764.74zM879.39 532.82H884.37V537.91H879.39zM954.16 532.82H959.14V537.91H954.16zM1008.99 532.82H1013.97V537.91H1008.99zM1128.62 532.82H1133.61V537.91H1128.62zM804.62 537.91H809.6V543H804.62zM949.17 537.91H959.14V543H949.17zM1018.96 537.91H1023.94V543H1018.96zM1068.81 537.91H1073.79V543H1068.81zM764.74 543H769.73V548.08H764.74zM899.33 543H904.31V548.08H899.33zM1008.99 543H1013.97V548.08H1008.99zM1018.96 543H1023.94V548.08H1018.96zM1063.82 543H1073.79V548.08H1063.82zM1083.76 543H1088.74V548.08H1083.76zM1128.62 543H1133.61V548.08H1128.62zM854.47 548.08H859.45V553.17H854.47zM864.44 548.08H869.42V553.17H864.44zM889.36 548.08H894.34V553.17H889.36zM1033.91 548.08H1038.9V553.17H1033.91zM1068.81 548.08H1078.78V553.17H1068.81zM859.45 553.17H869.42V558.25H859.45zM1028.93 553.17H1033.91V558.25H1028.93zM1063.82 553.17H1073.79V558.25H1063.82zM734.83 558.25H739.82V563.34H734.83zM749.79 558.25H754.77V563.34H749.79zM849.48 558.25H854.47V563.34H849.48zM889.36 558.25H894.34V563.34H889.36zM1023.94 558.25H1033.91V563.34H1023.94zM1068.81 558.25H1073.79V563.34H1068.81zM1078.78 558.25H1088.74V563.34H1078.78zM1143.58 558.25H1148.56V563.34H1143.58zM1173.48 558.25H1178.47V563.34H1173.48zM854.47 563.34H859.45V568.43H854.47zM864.44 563.34H869.42V568.43H864.44zM1063.82 563.34H1068.81V568.43H1063.82zM744.8 568.43H754.77V573.51H744.8zM764.74 568.43H769.73V573.51H764.74zM864.44 568.43H869.42V573.51H864.44zM1138.59 568.43H1143.58V573.51H1138.59zM1148.56 568.43H1153.55V573.51H1148.56zM749.79 578.6H754.77V583.68H749.79zM764.74 578.6H769.73V583.68H764.74zM814.59 578.6H819.57V583.68H814.59zM734.83 588.77H739.82V593.86H734.83zM764.74 588.77H769.73V593.86H764.74zM874.4 588.77H879.39V593.86H874.4zM889.36 588.77H894.34V593.86H889.36zM929.24 588.77H939.21V593.86H929.24zM1153.55 588.77H1158.53V593.86H1153.55zM754.77 593.86H759.76V598.94H754.77zM764.74 593.86H769.73V598.94H764.74zM804.62 593.86H809.6V598.94H804.62zM1063.82 593.86H1068.81V598.94H1063.82zM1153.55 593.86H1158.53V598.94H1153.55zM804.62 598.94H809.6V604.03H804.62zM949.17 598.94H954.16V604.03H949.17zM1063.82 598.94H1068.81V604.03H1063.82zM1153.55 598.94H1158.53V604.03H1153.55zM1073.79 604.03H1078.78V609.11H1073.79zM1143.58 609.11H1148.56V614.2H1143.58z"/>
<path fill="#4f92d0" d="M764.74 34.4H769.73V39.49H764.74zM764.74 39.49H769.73V44.57H764.74zM804.62 39.49H814.59V44.57H804.62zM869.42 39.49H874.4V44.57H869.42zM909.3 39.49H914.28V44.57H909.3zM949.17 39.49H959.14V44.57H949.17zM969.11 39.49H974.1V44.57H969.11zM1083.76 39.49H1088.74V44.57H1083.76zM1118.65 39.49H1128.62V44.57H1118.65zM1133.61 39.49H1138.59V44.57H1133.61zM1143.58 39.49H1163.51V44.57H1143.58zM1228.31 39.49H1243.27V44.57H1228.31zM1253.24 39.49H1258.22V44.57H1253.24zM764.74 44.57H769.73V49.66H764.74zM804.62 44.57H809.6V49.66H804.62zM814.59 44.57H819.57V49.66H814.59zM854.47 44.57H859.45V49.66H854.47zM864.44 44.57H869.42V49.66H864.44zM909.3 44.57H914.28V49.66H909.3zM1008.99 44.57H1013.97V49.66H1008.99zM1033.91 44.57H1038.9V49.66H1033.91zM1063.82 44.57H1068.81V49.66H1063.82zM1083.76 44.57H1088.74V49.66H1083.76zM1118.65 44.57H1128.62V49.66H1118.65zM1138.59 44.57H1143.58V49.66H1138.59zM1173.48 44.57H1178.47V49.66H1173.48zM1198.41 44.57H1203.39V49.66H1198.41zM1233.3 44.57H1238.28V49.66H1233.3zM1253.24 44.57H1258.22V49.66H1253.24zM804.62 49.66H809.6V54.74H804.62zM899.33 49.66H904.31V54.74H899.33zM954.16 49.66H959.14V54.74H954.16zM1058.84 49.66H1068.81V54.74H1058.84zM1073.79 49.66H1078.78V54.74H1073.79zM1123.64 49.66H1128.62V54.74H1123.64zM1228.31 49.66H1233.3V54.74H1228.31zM1243.27 49.66H1248.25V54.74H1243.27zM1283.15 49.66H1288.13V54.74H1283.15zM804.62 54.74H809.6V59.83H804.62zM859.45 54.74H864.44V59.83H859.45zM909.3 54.74H914.28V59.83H909.3zM1008.99 54.74H1013.97V59.83H1008.99zM1033.91 54.74H1038.9V59.83H1033.91zM1043.88 54.74H1063.82V59.83H1043.88zM1068.81 54.74H1073.79V59.83H1068.81zM1083.76 54.74H1088.74V59.83H1083.76zM1143.58 54.74H1148.56V59.83H1143.58zM1153.55 54.74H1158.53V59.83H1153.55zM1173.48 54.74H1178.47V59.83H1173.48zM1228.31 54.74H1238.28V59.83H1228.31zM1258.22 54.74H1263.21V59.83H1258.22zM1288.13 54.74H1293.12V59.83H1288.13zM864.44 59.83H869.42V64.92H864.44zM889.36 59.83H894.34V64.92H889.36zM954.16 59.83H959.14V64.92H954.16zM969.11 59.83H974.1V64.92H969.11zM1004.01 59.83H1008.99V64.92H1004.01zM1068.81 59.83H1073.79V64.92H1068.81zM1083.76 59.83H1088.74V64.92H1083.76zM1123.64 59.83H1128.62V64.92H1123.64zM1138.59 59.83H1148.56V64.92H1138.59zM1153.55 59.83H1158.53V64.92H1153.55zM1163.51 59.83H1168.5V64.92H1163.51zM1243.27 59.83H1248.25V64.92H1243.27zM1253.24 59.83H1268.19V64.92H1253.24zM804.62 64.92H809.6V70H804.62zM824.56 64.92H829.54V70H824.56zM839.51 64.92H844.5V70H839.51zM889.36 64.92H894.34V70H889.36zM999.02 64.92H1004.01V70H999.02zM1053.85 64.92H1063.82V70H1053.85zM1133.61 64.92H1138.59V70H1133.61zM1143.58 64.92H1148.56V70H1143.58zM1153.55 64.92H1163.51V70H1153.55zM729.85 70H744.8V75.09H729.85zM769.73 70H774.71V75.09H769.73zM784.68 70H789.67V75.09H784.68zM804.62 70H809.6V75.09H804.62zM814.59 70H819.57V75.09H814.59zM834.53 70H839.51V75.09H834.53zM844.5 70H849.48V75.09H844.5zM859.45 70H864.44V75.09H859.45zM874.4 70H879.39V75.09H874.4zM924.25 70H929.24V75.09H924.25zM949.17 70H954.16V75.09H949.17zM974.1 70H979.08V75.09H974.1zM999.02 70H1008.99V75.09H999.02zM1048.87 70H1053.85V75.09H1048.87zM1123.64 70H1133.61V75.09H1123.64zM1138.59 70H1143.58V75.09H1138.59zM1243.27 70H1248.25V75.09H1243.27zM1258.22 70H1263.21V75.09H1258.22zM1268.19 70H1273.18V75.09H1268.19zM1283.15 70H1288.13V75.09H1283.15zM1293.12 70H1298.1V75.09H1293.12zM764.74 75.09H769.73V80.17H764.74zM804.62 75.09H809.6V80.17H804.62zM839.51 75.09H844.5V80.17H839.51zM854.47 75.09H859.45V80.17H854.47zM924.25 75.09H929.24V80.17H924.25zM1048.87 75.09H1053.85V80.17H1048.87zM1098.71 75.09H1103.7V80.17H1098.71zM1033.91 80.17H1038.9V85.26H1033.91zM1058.84 80.17H1063.82V85.26H1058.84zM1103.7 80.17H1108.68V85.26H1103.7zM924.25 85.26H939.21V90.35H924.25zM999.02 85.26H1004.01V90.35H999.02zM1028.93 85.26H1033.91V90.35H1028.93zM1053.85 85.26H1063.82V90.35H1053.85zM1098.71 85.26H1108.68V90.35H1098.71zM1158.53 85.26H1163.51V90.35H1158.53zM1198.41 85.26H1203.39V90.35H1198.41zM1228.31 85.26H1233.3V90.35H1228.31zM1273.18 85.26H1278.16V90.35H1273.18zM764.74 90.35H769.73V95.43H764.74zM864.44 90.35H869.42V95.43H864.44zM899.33 90.35H904.31V95.43H899.33zM954.16 90.35H959.14V95.43H954.16zM1033.91 90.35H1038.9V95.43H1033.91zM1088.74 90.35H1093.73V95.43H1088.74zM1103.7 90.35H1113.67V95.43H1103.7zM1158.53 90.35H1163.51V95.43H1158.53zM1273.18 90.35H1278.16V95.43H1273.18zM954.16 95.43H959.14V100.52H954.16zM1033.91 95.43H1038.9V100.52H1033.91zM1058.84 95.43H1063.82V100.52H1058.84zM864.44 100.52H869.42V105.6H864.44zM874.4 100.52H884.37V105.6H874.4zM899.33 100.52H904.31V105.6H899.33zM934.22 100.52H939.21V105.6H934.22zM1028.93 100.52H1038.9V105.6H1028.93zM1048.87 100.52H1058.84V105.6H1048.87zM1103.7 100.52H1108.68V105.6H1103.7zM1123.64 100.52H1128.62V105.6H1123.64zM1143.58 100.52H1148.56V105.6H1143.58zM1193.42 100.52H1198.41V105.6H1193.42zM1273.18 100.52H1278.16V105.6H1273.18zM864.44 105.6H869.42V110.69H864.44zM879.39 105.6H884.37V110.69H879.39zM889.36 105.6H894.34V110.69H889.36zM899.33 105.6H904.31V110.69H899.33zM909.3 105.6H914.28V110.69H909.3zM934.22 105.6H939.21V110.69H934.22zM954.16 105.6H959.14V110.69H954.16zM1028.93 105.6H1033.91V110.69H1028.93zM1038.9 105.6H1043.88V110.69H1038.9zM1048.87 105.6H1063.82V110.69H1048.87zM1073.79 105.6H1078.78V110.69H1073.79zM1108.68 105.6H1113.67V110.69H1108.68zM1143.58 105.6H1148.56V110.69H1143.58zM1273.18 105.6H1283.15V110.69H1273.18zM1288.13 105.6H1293.12V110.69H1288.13zM734.83 110.69H754.77V115.78H734.83zM759.76 110.69H774.71V115.78H759.76zM819.57 110.69H824.56V115.78H819.57zM854.47 110.69H859.45V115.78H854.47zM869.42 110.69H874.4V115.78H869.42zM904.31 110.69H909.3V115.78H904.31zM924.25 110.69H929.24V115.78H924.25zM934.22 110.69H939.21V115.78H934.22zM949.17 110.69H954.16V115.78H949.17zM1038.9 110.69H1043.88V115.78H1038.9zM1058.84 110.69H1063.82V115.78H1058.84zM1108.68 110.69H1118.65V115.78H1108.68zM1153.55 110.69H1158.53V115.78H1153.55zM1163.51 110.69H1173.48V115.78H1163.51zM1228.31 110.69H1233.3V115.78H1228.31zM1253.24 110.69H1268.19V115.78H1253.24zM1273.18 110.69H1278.16V115.78H1273.18zM1288.13 110.69H1298.1V115.78H1288.13zM734.83 115.78H739.82V120.86H734.83zM824.56 115.78H829.54V120.86H824.56zM854.47 115.78H859.45V120.86H854.47zM899.33 115.78H904.31V120.86H899.33zM1008.99 115.78H1013.97V120.86H1008.99zM1163.51 115.78H1168.5V120.86H1163.51zM1228.31 115.78H1233.3V120.86H1228.31zM1253.24 115.78H1258.22V120.86H1253.24zM739.82 120.86H744.8V125.95H739.82zM764.74 120.86H769.73V125.95H764.74zM849.48 120.86H864.44V125.95H849.48zM889.36 120.86H894.34V125.95H889.36zM899.33 120.86H904.31V125.95H899.33zM924.25 120.86H929.24V125.95H924.25zM934.22 120.86H939.21V125.95H934.22zM949.17 120.86H954.16V125.95H949.17zM1008.99 120.86H1013.97V125.95H1008.99zM1258.22 120.86H1263.21V125.95H1258.22zM1278.16 120.86H1283.15V125.95H1278.16zM804.62 125.95H809.6V131.03H804.62zM949.17 125.95H954.16V131.03H949.17zM959.14 125.95H964.13V131.03H959.14zM1053.85 125.95H1058.84V131.03H1053.85zM1063.82 125.95H1068.81V131.03H1063.82zM1073.79 125.95H1078.78V131.03H1073.79zM1128.62 125.95H1138.59V131.03H1128.62zM759.76 131.03H764.74V136.12H759.76zM809.6 131.03H814.59V136.12H809.6zM854.47 131.03H859.45V136.12H854.47zM864.44 131.03H869.42V136.12H864.44zM879.39 131.03H884.37V136.12H879.39zM889.36 131.03H904.31V136.12H889.36zM944.19 131.03H949.17V136.12H944.19zM964.13 131.03H969.11V136.12H964.13zM989.05 131.03H994.04V136.12H989.05zM1008.99 131.03H1013.97V136.12H1008.99zM1028.93 131.03H1033.91V136.12H1028.93zM1043.88 131.03H1048.87V136.12H1043.88zM1068.81 131.03H1078.78V136.12H1068.81zM1083.76 131.03H1088.74V136.12H1083.76zM1123.64 131.03H1128.62V136.12H1123.64zM1133.61 131.03H1143.58V136.12H1133.61zM1183.45 131.03H1188.44V136.12H1183.45zM1198.41 131.03H1208.38V136.12H1198.41zM1273.18 131.03H1298.1V136.12H1273.18zM954.16 136.12H959.14V141.21H954.16zM1073.79 136.12H1078.78V141.21H1073.79zM764.74 141.21H769.73V146.29H764.74zM879.39 141.21H884.37V146.29H879.39zM939.21 141.21H949.17V146.29H939.21zM954.16 141.21H964.13V146.29H954.16zM969.11 141.21H974.1V146.29H969.11zM1048.87 141.21H1053.85V146.29H1048.87zM1273.18 141.21H1278.16V146.29H1273.18zM1293.12 141.21H1298.1V146.29H1293.12zM759.76 146.29H764.74V151.38H759.76zM769.73 146.29H774.71V151.38H769.73zM864.44 146.29H869.42V151.38H864.44zM879.39 146.29H884.37V151.38H879.39zM954.16 146.29H959.14V151.38H954.16zM984.07 146.29H989.05V151.38H984.07zM1043.88 146.29H1058.84V151.38H1043.88zM1148.56 146.29H1153.55V151.38H1148.56zM1188.44 146.29H1193.42V151.38H1188.44zM1203.39 146.29H1208.38V151.38H1203.39zM1273.18 146.29H1283.15V151.38H1273.18zM764.74 151.38H769.73V156.46H764.74zM909.3 151.38H914.28V156.46H909.3zM1133.61 151.38H1143.58V156.46H1133.61zM814.59 156.46H819.57V161.55H814.59zM874.4 156.46H879.39V161.55H874.4zM904.31 156.46H909.3V161.55H904.31zM924.25 156.46H934.22V161.55H924.25zM944.19 156.46H959.14V161.55H944.19zM1178.47 156.46H1183.45V161.55H1178.47zM1238.28 156.46H1243.27V161.55H1238.28zM1248.25 156.46H1258.22V161.55H1248.25zM739.82 161.55H744.8V166.64H739.82zM769.73 161.55H774.71V166.64H769.73zM804.62 161.55H819.57V166.64H804.62zM824.56 161.55H829.54V166.64H824.56zM879.39 161.55H884.37V166.64H879.39zM899.33 161.55H904.31V166.64H899.33zM909.3 161.55H924.25V166.64H909.3zM934.22 161.55H939.21V166.64H934.22zM1008.99 161.55H1013.97V166.64H1008.99zM1038.9 161.55H1043.88V166.64H1038.9zM1053.85 161.55H1063.82V166.64H1053.85zM1113.67 161.55H1118.65V166.64H1113.67zM1123.64 161.55H1128.62V166.64H1123.64zM1143.58 161.55H1148.56V166.64H1143.58zM1153.55 161.55H1158.53V166.64H1153.55zM1193.42 161.55H1198.41V166.64H1193.42zM1228.31 161.55H1233.3V166.64H1228.31zM1238.28 161.55H1243.27V166.64H1238.28zM1253.24 161.55H1258.22V166.64H1253.24zM1263.21 161.55H1268.19V166.64H1263.21zM749.79 166.64H754.77V171.72H749.79zM764.74 166.64H769.73V171.72H764.74zM814.59 166.64H819.57V171.72H814.59zM874.4 166.64H879.39V171.72H874.4zM924.25 166.64H934.22V171.72H924.25zM944.19 166.64H949.17V171.72H944.19zM954.16 166.64H959.14V171.72H954.16zM1103.7 166.64H1108.68V171.72H1103.7zM1123.64 166.64H1128.62V171.72H1123.64zM1133.61 166.64H1138.59V171.72H1133.61zM1153.55 166.64H1163.51V171.72H1153.55zM1233.3 166.64H1238.28V171.72H1233.3zM1243.27 166.64H1253.24V171.72H1243.27zM739.82 171.72H744.8V176.81H739.82zM754.77 171.72H759.76V176.81H754.77zM784.68 171.72H789.67V176.81H784.68zM794.65 171.72H804.62V176.81H794.65zM824.56 171.72H829.54V176.81H824.56zM839.51 171.72H844.5V176.81H839.51zM904.31 171.72H914.28V176.81H904.31zM984.07 171.72H989.05V176.81H984.07zM1004.01 171.72H1008.99V176.81H1004.01zM1013.97 171.72H1018.96V176.81H1013.97zM1033.91 171.72H1038.9V176.81H1033.91zM1088.74 171.72H1093.73V176.81H1088.74zM1118.65 171.72H1123.64V176.81H1118.65zM1148.56 171.72H1153.55V176.81H1148.56zM1158.53 171.72H1163.51V176.81H1158.53zM1178.47 171.72H1188.44V176.81H1178.47zM1193.42 171.72H1203.39V176.81H1193.42zM1213.36 171.72H1218.35V176.81H1213.36zM1223.33 171.72H1233.3V176.81H1223.33zM1258.22 171.72H1268.19V176.81H1258.22zM734.83 176.81H739.82V181.89H734.83zM804.62 176.81H809.6V181.89H804.62zM874.4 176.81H879.39V181.89H874.4zM934.22 176.81H939.21V181.89H934.22zM1133.61 176.81H1143.58V181.89H1133.61zM764.74 181.89H769.73V186.98H764.74zM794.65 181.89H799.64V186.98H794.65zM849.48 181.89H854.47V186.98H849.48zM859.45 181.89H864.44V186.98H859.45zM869.42 181.89H874.4V186.98H869.42zM894.34 181.89H899.33V186.98H894.34zM939.21 181.89H944.19V186.98H939.21zM949.17 181.89H954.16V186.98H949.17zM1033.91 181.89H1038.9V186.98H1033.91zM1053.85 181.89H1058.84V186.98H1053.85zM1073.79 181.89H1078.78V186.98H1073.79zM1103.7 181.89H1113.67V186.98H1103.7zM1118.65 181.89H1128.62V186.98H1118.65zM1218.35 181.89H1233.3V186.98H1218.35zM1263.21 181.89H1268.19V186.98H1263.21zM1283.15 181.89H1288.13V186.98H1283.15zM794.65 186.98H804.62V192.06H794.65zM824.56 186.98H829.54V192.06H824.56zM834.53 186.98H844.5V192.06H834.53zM854.47 186.98H859.45V192.06H854.47zM889.36 186.98H894.34V192.06H889.36zM939.21 186.98H949.17V192.06H939.21zM984.07 186.98H994.04V192.06H984.07zM1033.91 186.98H1038.9V192.06H1033.91zM1068.81 186.98H1078.78V192.06H1068.81zM1158.53 186.98H1163.51V192.06H1158.53zM1253.24 186.98H1258.22V192.06H1253.24zM1273.18 186.98H1278.16V192.06H1273.18zM1283.15 186.98H1288.13V192.06H1283.15zM1293.12 186.98H1298.1V192.06H1293.12zM949.17 192.06H954.16V197.15H949.17zM989.05 192.06H994.04V197.15H989.05zM1123.64 192.06H1128.62V197.15H1123.64zM1188.44 192.06H1198.41V197.15H1188.44zM754.77 197.15H764.74V202.24H754.77zM799.64 197.15H804.62V202.24H799.64zM814.59 197.15H819.57V202.24H814.59zM824.56 197.15H829.54V202.24H824.56zM879.39 197.15H884.37V202.24H879.39zM909.3 197.15H914.28V202.24H909.3zM1008.99 197.15H1013.97V202.24H1008.99zM1033.91 197.15H1038.9V202.24H1033.91zM1053.85 197.15H1068.81V202.24H1053.85zM1093.73 197.15H1098.71V202.24H1093.73zM1103.7 197.15H1113.67V202.24H1103.7zM1133.61 197.15H1143.58V202.24H1133.61zM1163.51 197.15H1173.48V202.24H1163.51zM1183.45 197.15H1188.44V202.24H1183.45zM1218.35 197.15H1233.3V202.24H1218.35zM1248.25 197.15H1253.24V202.24H1248.25zM824.56 202.24H829.54V207.32H824.56zM874.4 202.24H879.39V207.32H874.4zM984.07 202.24H989.05V207.32H984.07zM1008.99 202.24H1013.97V207.32H1008.99zM1038.9 202.24H1043.88V207.32H1038.9zM1088.74 202.24H1093.73V207.32H1088.74zM1103.7 202.24H1108.68V207.32H1103.7zM1188.44 202.24H1193.42V207.32H1188.44zM1243.27 202.24H1248.25V207.32H1243.27zM744.8 207.32H749.79V212.41H744.8zM784.68 207.32H789.67V212.41H784.68zM794.65 207.32H804.62V212.41H794.65zM809.6 207.32H819.57V212.41H809.6zM824.56 207.32H829.54V212.41H824.56zM854.47 207.32H859.45V212.41H854.47zM909.3 207.32H914.28V212.41H909.3zM934.22 207.32H939.21V212.41H934.22zM969.11 207.32H974.1V212.41H969.11zM984.07 207.32H989.05V212.41H984.07zM994.04 207.32H999.02V212.41H994.04zM1008.99 207.32H1018.96V212.41H1008.99zM1073.79 207.32H1078.78V212.41H1073.79zM1093.73 207.32H1103.7V212.41H1093.73zM1123.64 207.32H1128.62V212.41H1123.64zM1138.59 207.32H1153.55V212.41H1138.59zM1158.53 207.32H1163.51V212.41H1158.53zM1168.5 207.32H1178.47V212.41H1168.5zM1188.44 207.32H1198.41V212.41H1188.44zM1203.39 207.32H1208.38V212.41H1203.39zM1213.36 207.32H1228.31V212.41H1213.36zM1243.27 207.32H1248.25V212.41H1243.27zM1253.24 207.32H1258.22V212.41H1253.24zM804.62 212.41H809.6V217.49H804.62zM849.48 212.41H854.47V217.49H849.48zM864.44 212.41H869.42V217.49H864.44zM984.07 212.41H989.05V217.49H984.07zM1008.99 212.41H1013.97V217.49H1008.99zM1093.73 212.41H1098.71V217.49H1093.73zM1103.7 212.41H1108.68V217.49H1103.7zM1128.62 212.41H1133.61V217.49H1128.62zM1138.59 212.41H1143.58V217.49H1138.59zM1148.56 212.41H1163.51V217.49H1148.56zM1198.41 212.41H1203.39V217.49H1198.41zM1213.36 212.41H1218.35V217.49H1213.36zM1223.33 212.41H1228.31V217.49H1223.33zM1253.24 212.41H1258.22V217.49H1253.24zM734.83 217.49H744.8V222.58H734.83zM749.79 217.49H754.77V222.58H749.79zM799.64 217.49H804.62V222.58H799.64zM844.5 217.49H849.48V222.58H844.5zM854.47 217.49H859.45V222.58H854.47zM864.44 217.49H869.42V222.58H864.44zM889.36 217.49H894.34V222.58H889.36zM899.33 217.49H904.31V222.58H899.33zM924.25 217.49H929.24V222.58H924.25zM969.11 217.49H974.1V222.58H969.11zM984.07 217.49H999.02V222.58H984.07zM1103.7 217.49H1108.68V222.58H1103.7zM1128.62 217.49H1133.61V222.58H1128.62zM1153.55 217.49H1163.51V222.58H1153.55zM1218.35 217.49H1223.33V222.58H1218.35zM1228.31 217.49H1233.3V222.58H1228.31zM1278.16 217.49H1283.15V222.58H1278.16zM854.47 222.58H859.45V227.67H854.47zM854.47 227.67H859.45V232.75H854.47zM1128.62 227.67H1133.61V232.75H1128.62zM1138.59 227.67H1143.58V232.75H1138.59zM764.74 232.75H774.71V237.84H764.74zM779.7 232.75H784.68V237.84H779.7zM804.62 232.75H809.6V237.84H804.62zM814.59 232.75H819.57V237.84H814.59zM849.48 232.75H854.47V237.84H849.48zM859.45 232.75H864.44V237.84H859.45zM909.3 232.75H914.28V237.84H909.3zM954.16 232.75H959.14V237.84H954.16zM1063.82 232.75H1068.81V237.84H1063.82zM1073.79 232.75H1078.78V237.84H1073.79zM1128.62 232.75H1133.61V237.84H1128.62zM1273.18 232.75H1278.16V237.84H1273.18zM1283.15 232.75H1288.13V237.84H1283.15zM1293.12 232.75H1298.1V237.84H1293.12zM779.7 237.84H784.68V242.92H779.7zM849.48 237.84H854.47V242.92H849.48zM859.45 237.84H864.44V242.92H859.45zM1033.91 237.84H1038.9V242.92H1033.91zM1128.62 237.84H1133.61V242.92H1128.62zM1283.15 237.84H1288.13V242.92H1283.15zM779.7 242.92H784.68V248.01H779.7zM794.65 242.92H809.6V248.01H794.65zM814.59 242.92H819.57V248.01H814.59zM854.47 242.92H859.45V248.01H854.47zM869.42 242.92H874.4V248.01H869.42zM899.33 242.92H904.31V248.01H899.33zM954.16 242.92H959.14V248.01H954.16zM1028.93 242.92H1033.91V248.01H1028.93zM1258.22 242.92H1263.21V248.01H1258.22zM1288.13 242.92H1298.1V248.01H1288.13zM834.53 248.01H839.51V253.1H834.53zM874.4 248.01H884.37V253.1H874.4zM1033.91 248.01H1038.9V253.1H1033.91zM1048.87 248.01H1053.85V253.1H1048.87zM1058.84 248.01H1063.82V253.1H1058.84zM1123.64 248.01H1128.62V253.1H1123.64zM1188.44 248.01H1193.42V253.1H1188.44zM1198.41 248.01H1203.39V253.1H1198.41zM824.56 253.1H829.54V258.18H824.56zM834.53 253.1H839.51V258.18H834.53zM849.48 253.1H854.47V258.18H849.48zM859.45 253.1H864.44V258.18H859.45zM879.39 253.1H884.37V258.18H879.39zM954.16 253.1H959.14V258.18H954.16zM1004.01 253.1H1008.99V258.18H1004.01zM1028.93 253.1H1038.9V258.18H1028.93zM1103.7 253.1H1108.68V258.18H1103.7zM1123.64 253.1H1128.62V258.18H1123.64zM1178.47 253.1H1188.44V258.18H1178.47zM1193.42 253.1H1203.39V258.18H1193.42zM1243.27 253.1H1248.25V258.18H1243.27zM1273.18 253.1H1278.16V258.18H1273.18zM734.83 258.18H739.82V263.27H734.83zM764.74 258.18H769.73V263.27H764.74zM804.62 258.18H809.6V263.27H804.62zM814.59 258.18H824.56V263.27H814.59zM849.48 258.18H854.47V263.27H849.48zM874.4 258.18H879.39V263.27H874.4zM884.37 258.18H889.36V263.27H884.37zM974.1 258.18H979.08V263.27H974.1zM1048.87 258.18H1053.85V263.27H1048.87zM1068.81 258.18H1073.79V263.27H1068.81zM1088.74 258.18H1093.73V263.27H1088.74zM1103.7 258.18H1108.68V263.27H1103.7zM1118.65 258.18H1123.64V263.27H1118.65zM1128.62 258.18H1133.61V263.27H1128.62zM1163.51 258.18H1168.5V263.27H1163.51zM1173.48 258.18H1178.47V263.27H1173.48zM1183.45 258.18H1188.44V263.27H1183.45zM1218.35 258.18H1223.33V263.27H1218.35zM1228.31 258.18H1233.3V263.27H1228.31zM1243.27 258.18H1248.25V263.27H1243.27zM1273.18 258.18H1283.15V263.27H1273.18zM1288.13 258.18H1293.12V263.27H1288.13zM734.83 263.27H739.82V268.35H734.83zM744.8 263.27H749.79V268.35H744.8zM754.77 263.27H759.76V268.35H754.77zM784.68 263.27H794.65V268.35H784.68zM799.64 263.27H804.62V268.35H799.64zM829.54 263.27H844.5V268.35H829.54zM849.48 263.27H854.47V268.35H849.48zM859.45 263.27H864.44V268.35H859.45zM924.25 263.27H929.24V268.35H924.25zM934.22 263.27H939.21V268.35H934.22zM944.19 263.27H949.17V268.35H944.19zM999.02 263.27H1008.99V268.35H999.02zM1038.9 263.27H1048.87V268.35H1038.9zM1063.82 263.27H1068.81V268.35H1063.82zM1083.76 263.27H1088.74V268.35H1083.76zM1108.68 263.27H1113.67V268.35H1108.68zM1118.65 263.27H1123.64V268.35H1118.65zM1173.48 263.27H1178.47V268.35H1173.48zM1213.36 263.27H1218.35V268.35H1213.36zM1228.31 263.27H1233.3V268.35H1228.31zM1243.27 263.27H1248.25V268.35H1243.27zM1258.22 263.27H1263.21V268.35H1258.22zM1273.18 263.27H1278.16V268.35H1273.18zM1283.15 263.27H1288.13V268.35H1283.15zM819.57 268.35H824.56V273.44H819.57zM834.53 268.35H839.51V273.44H834.53zM999.02 268.35H1004.01V273.44H999.02zM1008.99 268.35H1023.94V273.44H1008.99zM1038.9 268.35H1048.87V273.44H1038.9zM1198.41 268.35H1208.38V273.44H1198.41zM824.56 273.44H829.54V278.53H824.56zM1008.99 273.44H1013.97V278.53H1008.99zM734.83 278.53H739.82V283.61H734.83zM754.77 278.53H759.76V283.61H754.77zM834.53 278.53H839.51V283.61H834.53zM899.33 278.53H904.31V283.61H899.33zM909.3 278.53H914.28V283.61H909.3zM1004.01 278.53H1008.99V283.61H1004.01zM1188.44 278.53H1208.38V283.61H1188.44zM1283.15 278.53H1288.13V283.61H1283.15zM764.74 283.61H769.73V288.7H764.74zM949.17 283.61H954.16V288.7H949.17zM1013.97 283.61H1023.94V288.7H1013.97zM1038.9 283.61H1053.85V288.7H1038.9zM1123.64 283.61H1128.62V288.7H1123.64zM1133.61 283.61H1138.59V288.7H1133.61zM1153.55 283.61H1158.53V288.7H1153.55zM1203.39 283.61H1208.38V288.7H1203.39zM1223.33 283.61H1233.3V288.7H1223.33zM1253.24 283.61H1258.22V288.7H1253.24zM1273.18 283.61H1278.16V288.7H1273.18zM999.02 288.7H1004.01V293.78H999.02zM1133.61 288.7H1138.59V293.78H1133.61zM839.51 293.78H844.5V298.87H839.51zM864.44 293.78H869.42V298.87H864.44zM879.39 293.78H884.37V298.87H879.39zM894.34 293.78H914.28V298.87H894.34zM1033.91 293.78H1038.9V298.87H1033.91zM1128.62 293.78H1133.61V298.87H1128.62zM1218.35 293.78H1223.33V298.87H1218.35zM1273.18 293.78H1278.16V298.87H1273.18zM824.56 298.87H829.54V303.96H824.56zM879.39 298.87H889.36V303.96H879.39zM909.3 298.87H914.28V303.96H909.3zM1083.76 298.87H1088.74V303.96H1083.76zM1128.62 298.87H1133.61V303.96H1128.62zM1138.59 298.87H1143.58V303.96H1138.59zM899.33 303.96H904.31V309.04H899.33zM909.3 303.96H914.28V309.04H909.3zM1073.79 303.96H1078.78V309.04H1073.79zM1138.59 303.96H1143.58V309.04H1138.59zM759.76 309.04H769.73V314.13H759.76zM779.7 309.04H784.68V314.13H779.7zM954.16 309.04H964.13V314.13H954.16zM979.08 309.04H984.07V314.13H979.08zM1088.74 309.04H1093.73V314.13H1088.74zM1123.64 309.04H1133.61V314.13H1123.64zM1143.58 309.04H1158.53V314.13H1143.58zM1173.48 309.04H1178.47V314.13H1173.48zM754.77 314.13H759.76V319.21H754.77zM764.74 314.13H769.73V319.21H764.74zM864.44 314.13H869.42V319.21H864.44zM944.19 314.13H949.17V319.21H944.19zM954.16 314.13H959.14V319.21H954.16zM969.11 314.13H974.1V319.21H969.11zM1008.99 314.13H1013.97V319.21H1008.99zM1088.74 314.13H1093.73V319.21H1088.74zM1103.7 314.13H1108.68V319.21H1103.7zM1153.55 314.13H1158.53V319.21H1153.55zM739.82 319.21H744.8V324.3H739.82zM749.79 319.21H754.77V324.3H749.79zM809.6 319.21H819.57V324.3H809.6zM824.56 319.21H829.54V324.3H824.56zM854.47 319.21H859.45V324.3H854.47zM889.36 319.21H909.3V324.3H889.36zM959.14 319.21H969.11V324.3H959.14zM1004.01 319.21H1008.99V324.3H1004.01zM1038.9 319.21H1043.88V324.3H1038.9zM1048.87 319.21H1053.85V324.3H1048.87zM1058.84 319.21H1063.82V324.3H1058.84zM1113.67 319.21H1118.65V324.3H1113.67zM1128.62 319.21H1138.59V324.3H1128.62zM1178.47 319.21H1183.45V324.3H1178.47zM1188.44 319.21H1193.42V324.3H1188.44zM1233.3 319.21H1238.28V324.3H1233.3zM1243.27 319.21H1253.24V324.3H1243.27zM864.44 324.3H869.42V329.39H864.44zM899.33 324.3H904.31V329.39H899.33zM959.14 324.3H964.13V329.39H959.14zM974.1 324.3H979.08V329.39H974.1zM1218.35 324.3H1233.3V329.39H1218.35zM959.14 329.39H964.13V334.47H959.14zM974.1 329.39H979.08V334.47H974.1zM1123.64 329.39H1128.62V334.47H1123.64zM1133.61 329.39H1138.59V334.47H1133.61zM1208.38 329.39H1223.33V334.47H1208.38zM1063.82 334.47H1068.81V339.56H1063.82zM1233.3 334.47H1238.28V339.56H1233.3zM779.7 339.56H784.68V344.64H779.7zM794.65 339.56H804.62V344.64H794.65zM824.56 339.56H829.54V344.64H824.56zM934.22 339.56H939.21V344.64H934.22zM944.19 339.56H949.17V344.64H944.19zM1038.9 339.56H1043.88V344.64H1038.9zM1048.87 339.56H1053.85V344.64H1048.87zM1073.79 339.56H1078.78V344.64H1073.79zM1083.76 339.56H1093.73V344.64H1083.76zM1133.61 339.56H1138.59V344.64H1133.61zM1143.58 339.56H1148.56V344.64H1143.58zM1218.35 339.56H1223.33V344.64H1218.35zM1233.3 339.56H1238.28V344.64H1233.3zM1248.25 339.56H1253.24V344.64H1248.25zM739.82 344.64H744.8V349.73H739.82zM749.79 344.64H754.77V349.73H749.79zM774.71 344.64H779.7V349.73H774.71zM784.68 344.64H799.64V349.73H784.68zM864.44 344.64H869.42V349.73H864.44zM874.4 344.64H884.37V349.73H874.4zM889.36 344.64H894.34V349.73H889.36zM929.24 344.64H934.22V349.73H929.24zM939.21 344.64H949.17V349.73H939.21zM984.07 344.64H989.05V349.73H984.07zM1088.74 344.64H1093.73V349.73H1088.74zM1103.7 344.64H1108.68V349.73H1103.7zM1128.62 344.64H1143.58V349.73H1128.62zM1158.53 344.64H1163.51V349.73H1158.53zM1168.5 344.64H1173.48V349.73H1168.5zM1193.42 344.64H1208.38V349.73H1193.42zM1218.35 344.64H1223.33V349.73H1218.35zM1228.31 344.64H1233.3V349.73H1228.31zM1248.25 344.64H1253.24V349.73H1248.25zM1273.18 344.64H1278.16V349.73H1273.18zM799.64 349.73H809.6V354.82H799.64zM854.47 349.73H859.45V354.82H854.47zM894.34 349.73H899.33V354.82H894.34zM954.16 349.73H964.13V354.82H954.16zM974.1 349.73H979.08V354.82H974.1zM1008.99 349.73H1013.97V354.82H1008.99zM1028.93 349.73H1033.91V354.82H1028.93zM1118.65 349.73H1123.64V354.82H1118.65zM1128.62 349.73H1133.61V354.82H1128.62zM1178.47 349.73H1183.45V354.82H1178.47zM749.79 354.82H754.77V359.9H749.79zM824.56 354.82H829.54V359.9H824.56zM839.51 354.82H844.5V359.9H839.51zM954.16 354.82H964.13V359.9H954.16zM974.1 354.82H979.08V359.9H974.1zM749.79 359.9H754.77V364.99H749.79zM764.74 359.9H774.71V364.99H764.74zM794.65 359.9H804.62V364.99H794.65zM834.53 359.9H844.5V364.99H834.53zM939.21 359.9H944.19V364.99H939.21zM949.17 359.9H954.16V364.99H949.17zM974.1 359.9H979.08V364.99H974.1zM1008.99 359.9H1013.97V364.99H1008.99zM1028.93 359.9H1033.91V364.99H1028.93zM1118.65 359.9H1133.61V364.99H1118.65zM1138.59 359.9H1143.58V364.99H1138.59zM1183.45 359.9H1188.44V364.99H1183.45zM749.79 364.99H754.77V370.07H749.79zM759.76 364.99H764.74V370.07H759.76zM779.7 364.99H784.68V370.07H779.7zM794.65 364.99H804.62V370.07H794.65zM819.57 364.99H824.56V370.07H819.57zM839.51 364.99H844.5V370.07H839.51zM854.47 364.99H859.45V370.07H854.47zM874.4 364.99H879.39V370.07H874.4zM889.36 364.99H894.34V370.07H889.36zM1123.64 364.99H1133.61V370.07H1123.64zM1138.59 364.99H1143.58V370.07H1138.59zM744.8 370.07H754.77V375.16H744.8zM759.76 370.07H764.74V375.16H759.76zM774.71 370.07H784.68V375.16H774.71zM789.67 370.07H794.65V375.16H789.67zM799.64 370.07H809.6V375.16H799.64zM854.47 370.07H859.45V375.16H854.47zM889.36 370.07H894.34V375.16H889.36zM939.21 370.07H944.19V375.16H939.21zM1008.99 370.07H1013.97V375.16H1008.99zM1108.68 370.07H1118.65V375.16H1108.68zM1138.59 370.07H1143.58V375.16H1138.59zM1178.47 370.07H1188.44V375.16H1178.47zM1203.39 370.07H1208.38V375.16H1203.39zM739.82 375.16H749.79V380.25H739.82zM819.57 375.16H824.56V380.25H819.57zM889.36 375.16H894.34V380.25H889.36zM924.25 375.16H929.24V380.25H924.25zM954.16 375.16H959.14V380.25H954.16zM1023.94 375.16H1028.93V380.25H1023.94zM1088.74 375.16H1098.71V380.25H1088.74zM1103.7 375.16H1108.68V380.25H1103.7zM1118.65 375.16H1128.62V380.25H1118.65zM1183.45 375.16H1188.44V380.25H1183.45zM1198.41 375.16H1203.39V380.25H1198.41zM1218.35 375.16H1228.31V380.25H1218.35zM1233.3 375.16H1238.28V380.25H1233.3zM749.79 380.25H759.76V385.33H749.79zM824.56 380.25H829.54V385.33H824.56zM879.39 380.25H884.37V385.33H879.39zM949.17 380.25H954.16V385.33H949.17zM1103.7 380.25H1108.68V385.33H1103.7zM1128.62 380.25H1133.61V385.33H1128.62zM1198.41 380.25H1203.39V385.33H1198.41zM1273.18 380.25H1298.1V385.33H1273.18zM744.8 385.33H749.79V390.42H744.8zM799.64 385.33H804.62V390.42H799.64zM819.57 385.33H834.53V390.42H819.57zM874.4 385.33H884.37V390.42H874.4zM899.33 385.33H904.31V390.42H899.33zM924.25 385.33H929.24V390.42H924.25zM994.04 385.33H999.02V390.42H994.04zM1028.93 385.33H1033.91V390.42H1028.93zM1133.61 385.33H1138.59V390.42H1133.61zM1178.47 385.33H1183.45V390.42H1178.47zM1213.36 385.33H1228.31V390.42H1213.36zM1238.28 385.33H1253.24V390.42H1238.28zM1273.18 385.33H1283.15V390.42H1273.18zM1293.12 385.33H1298.1V390.42H1293.12zM1128.62 390.42H1143.58V395.5H1128.62zM1248.25 390.42H1253.24V395.5H1248.25zM734.83 395.5H744.8V400.59H734.83zM749.79 395.5H759.76V400.59H749.79zM824.56 395.5H829.54V400.59H824.56zM954.16 395.5H959.14V400.59H954.16zM989.05 395.5H994.04V400.59H989.05zM1028.93 395.5H1033.91V400.59H1028.93zM1088.74 395.5H1093.73V400.59H1088.74zM1178.47 395.5H1183.45V400.59H1178.47zM1198.41 395.5H1203.39V400.59H1198.41zM1223.33 395.5H1228.31V400.59H1223.33zM1238.28 395.5H1243.27V400.59H1238.28zM1248.25 395.5H1253.24V400.59H1248.25zM1273.18 395.5H1278.16V400.59H1273.18zM784.68 400.59H789.67V405.68H784.68zM864.44 400.59H869.42V405.68H864.44zM894.34 400.59H899.33V405.68H894.34zM949.17 400.59H954.16V405.68H949.17zM999.02 400.59H1008.99V405.68H999.02zM1028.93 400.59H1038.9V405.68H1028.93zM1063.82 400.59H1068.81V405.68H1063.82zM1083.76 400.59H1088.74V405.68H1083.76zM1103.7 400.59H1108.68V405.68H1103.7zM1123.64 400.59H1128.62V405.68H1123.64zM1143.58 400.59H1148.56V405.68H1143.58zM1153.55 400.59H1163.51V405.68H1153.55zM1278.16 400.59H1283.15V405.68H1278.16zM889.36 405.68H894.34V410.76H889.36zM899.33 405.68H909.3V410.76H899.33zM1063.82 405.68H1068.81V410.76H1063.82zM1143.58 405.68H1148.56V410.76H1143.58zM1153.55 405.68H1163.51V410.76H1153.55zM769.73 410.76H774.71V415.85H769.73zM779.7 410.76H784.68V415.85H779.7zM899.33 410.76H904.31V415.85H899.33zM1143.58 410.76H1148.56V415.85H1143.58zM1153.55 410.76H1163.51V415.85H1153.55zM774.71 415.85H789.67V420.93H774.71zM794.65 415.85H799.64V420.93H794.65zM859.45 415.85H864.44V420.93H859.45zM874.4 415.85H879.39V420.93H874.4zM889.36 415.85H899.33V420.93H889.36zM904.31 415.85H914.28V420.93H904.31zM944.19 415.85H954.16V420.93H944.19zM1004.01 415.85H1008.99V420.93H1004.01zM1033.91 415.85H1038.9V420.93H1033.91zM1063.82 415.85H1073.79V420.93H1063.82zM1088.74 415.85H1093.73V420.93H1088.74zM1143.58 415.85H1158.53V420.93H1143.58zM1273.18 415.85H1278.16V420.93H1273.18zM784.68 420.93H789.67V426.02H784.68zM799.64 420.93H809.6V426.02H799.64zM874.4 420.93H879.39V426.02H874.4zM889.36 420.93H894.34V426.02H889.36zM954.16 420.93H959.14V426.02H954.16zM1058.84 420.93H1063.82V426.02H1058.84zM1123.64 420.93H1128.62V426.02H1123.64zM804.62 426.02H809.6V431.11H804.62zM854.47 426.02H859.45V431.11H854.47zM1008.99 426.02H1013.97V431.11H1008.99zM1058.84 426.02H1063.82V431.11H1058.84zM1138.59 426.02H1143.58V431.11H1138.59zM734.83 431.11H744.8V436.19H734.83zM864.44 431.11H869.42V436.19H864.44zM874.4 431.11H879.39V436.19H874.4zM949.17 431.11H959.14V436.19H949.17zM1038.9 431.11H1043.88V436.19H1038.9zM1048.87 431.11H1053.85V436.19H1048.87zM1063.82 431.11H1068.81V436.19H1063.82zM1123.64 431.11H1128.62V436.19H1123.64zM1218.35 431.11H1223.33V436.19H1218.35zM734.83 436.19H749.79V441.28H734.83zM754.77 436.19H759.76V441.28H754.77zM764.74 436.19H769.73V441.28H764.74zM794.65 436.19H799.64V441.28H794.65zM824.56 436.19H829.54V441.28H824.56zM854.47 436.19H864.44V441.28H854.47zM874.4 436.19H879.39V441.28H874.4zM884.37 436.19H889.36V441.28H884.37zM899.33 436.19H904.31V441.28H899.33zM939.21 436.19H949.17V441.28H939.21zM974.1 436.19H979.08V441.28H974.1zM999.02 436.19H1004.01V441.28H999.02zM1018.96 436.19H1023.94V441.28H1018.96zM1048.87 436.19H1058.84V441.28H1048.87zM1063.82 436.19H1068.81V441.28H1063.82zM1088.74 436.19H1093.73V441.28H1088.74zM1108.68 436.19H1113.67V441.28H1108.68zM1118.65 436.19H1123.64V441.28H1118.65zM1133.61 436.19H1153.55V441.28H1133.61zM1198.41 436.19H1203.39V441.28H1198.41zM1218.35 436.19H1223.33V441.28H1218.35zM1228.31 436.19H1233.3V441.28H1228.31zM1238.28 436.19H1243.27V441.28H1238.28zM1273.18 436.19H1278.16V441.28H1273.18zM764.74 441.28H769.73V446.36H764.74zM819.57 441.28H824.56V446.36H819.57zM904.31 441.28H914.28V446.36H904.31zM919.27 441.28H934.22V446.36H919.27zM949.17 441.28H954.16V446.36H949.17zM984.07 441.28H994.04V446.36H984.07zM999.02 441.28H1004.01V446.36H999.02zM1008.99 441.28H1013.97V446.36H1008.99zM1033.91 441.28H1043.88V446.36H1033.91zM1048.87 441.28H1058.84V446.36H1048.87zM1068.81 441.28H1073.79V446.36H1068.81zM1078.78 441.28H1083.76V446.36H1078.78zM1183.45 441.28H1188.44V446.36H1183.45zM1208.38 441.28H1218.35V446.36H1208.38zM1238.28 441.28H1248.25V446.36H1238.28zM1263.21 441.28H1268.19V446.36H1263.21zM734.83 446.36H739.82V451.45H734.83zM759.76 446.36H764.74V451.45H759.76zM819.57 446.36H829.54V451.45H819.57zM844.5 446.36H849.48V451.45H844.5zM859.45 446.36H864.44V451.45H859.45zM869.42 446.36H874.4V451.45H869.42zM889.36 446.36H894.34V451.45H889.36zM974.1 446.36H984.07V451.45H974.1zM1008.99 446.36H1013.97V451.45H1008.99zM1018.96 446.36H1023.94V451.45H1018.96zM1028.93 446.36H1038.9V451.45H1028.93zM1073.79 446.36H1083.76V451.45H1073.79zM1123.64 446.36H1128.62V451.45H1123.64zM739.82 451.45H744.8V456.54H739.82zM754.77 451.45H759.76V456.54H754.77zM764.74 451.45H769.73V456.54H764.74zM824.56 451.45H829.54V456.54H824.56zM844.5 451.45H849.48V456.54H844.5zM869.42 451.45H874.4V456.54H869.42zM889.36 451.45H894.34V456.54H889.36zM899.33 451.45H909.3V456.54H899.33zM919.27 451.45H924.25V456.54H919.27zM989.05 451.45H999.02V456.54H989.05zM1033.91 451.45H1038.9V456.54H1033.91zM1048.87 451.45H1063.82V456.54H1048.87zM1078.78 451.45H1083.76V456.54H1078.78zM1113.67 451.45H1118.65V456.54H1113.67zM1123.64 451.45H1128.62V456.54H1123.64zM1178.47 451.45H1183.45V456.54H1178.47zM1208.38 451.45H1213.36V456.54H1208.38zM734.83 456.54H739.82V461.62H734.83zM749.79 456.54H764.74V461.62H749.79zM794.65 456.54H804.62V461.62H794.65zM854.47 456.54H859.45V461.62H854.47zM899.33 456.54H904.31V461.62H899.33zM999.02 456.54H1004.01V461.62H999.02zM1028.93 456.54H1033.91V461.62H1028.93zM1088.74 456.54H1108.68V461.62H1088.74zM1123.64 456.54H1128.62V461.62H1123.64zM1228.31 456.54H1233.3V461.62H1228.31zM1253.24 456.54H1268.19V461.62H1253.24zM1278.16 456.54H1288.13V461.62H1278.16zM734.83 461.62H739.82V466.71H734.83zM839.51 461.62H844.5V466.71H839.51zM864.44 461.62H869.42V466.71H864.44zM899.33 461.62H909.3V466.71H899.33zM999.02 461.62H1004.01V466.71H999.02zM1103.7 461.62H1108.68V466.71H1103.7zM1123.64 461.62H1128.62V466.71H1123.64zM1273.18 461.62H1283.15V466.71H1273.18zM734.83 466.71H739.82V471.79H734.83zM749.79 466.71H764.74V471.79H749.79zM804.62 466.71H809.6V471.79H804.62zM854.47 466.71H864.44V471.79H854.47zM904.31 466.71H914.28V471.79H904.31zM974.1 466.71H979.08V471.79H974.1zM999.02 466.71H1008.99V471.79H999.02zM1088.74 466.71H1108.68V471.79H1088.74zM1243.27 466.71H1248.25V471.79H1243.27zM1253.24 466.71H1258.22V471.79H1253.24zM1263.21 466.71H1268.19V471.79H1263.21zM1293.12 466.71H1298.1V471.79H1293.12zM734.83 471.79H739.82V476.88H734.83zM759.76 471.79H764.74V476.88H759.76zM779.7 471.79H789.67V476.88H779.7zM859.45 471.79H869.42V476.88H859.45zM879.39 471.79H884.37V476.88H879.39zM899.33 471.79H914.28V476.88H899.33zM1033.91 471.79H1038.9V476.88H1033.91zM1088.74 471.79H1103.7V476.88H1088.74zM1253.24 471.79H1258.22V476.88H1253.24zM1273.18 471.79H1283.15V476.88H1273.18zM1293.12 471.79H1298.1V476.88H1293.12zM754.77 476.88H759.76V481.96H754.77zM804.62 476.88H814.59V481.96H804.62zM889.36 476.88H894.34V481.96H889.36zM949.17 476.88H954.16V481.96H949.17zM1243.27 476.88H1248.25V481.96H1243.27zM804.62 481.96H809.6V487.05H804.62zM889.36 481.96H894.34V487.05H889.36zM899.33 481.96H904.31V487.05H899.33zM1033.91 481.96H1038.9V487.05H1033.91zM1243.27 481.96H1248.25V487.05H1243.27zM739.82 487.05H744.8V492.14H739.82zM749.79 487.05H754.77V492.14H749.79zM899.33 487.05H904.31V492.14H899.33zM949.17 487.05H959.14V492.14H949.17zM999.02 487.05H1004.01V492.14H999.02zM849.48 492.14H854.47V497.22H849.48zM864.44 492.14H869.42V497.22H864.44zM944.19 492.14H949.17V497.22H944.19zM1008.99 492.14H1013.97V497.22H1008.99zM1038.9 492.14H1043.88V497.22H1038.9zM1058.84 492.14H1063.82V497.22H1058.84zM1073.79 492.14H1078.78V497.22H1073.79zM1083.76 492.14H1088.74V497.22H1083.76zM1138.59 492.14H1143.58V497.22H1138.59zM1243.27 492.14H1248.25V497.22H1243.27zM824.56 497.22H829.54V502.31H824.56zM864.44 497.22H869.42V502.31H864.44zM889.36 497.22H894.34V502.31H889.36zM944.19 497.22H954.16V502.31H944.19zM1048.87 497.22H1053.85V502.31H1048.87zM1058.84 497.22H1068.81V502.31H1058.84zM1128.62 497.22H1133.61V502.31H1128.62zM1243.27 497.22H1248.25V502.31H1243.27zM839.51 502.31H844.5V507.39H839.51zM884.37 502.31H889.36V507.39H884.37zM894.34 502.31H904.31V507.39H894.34zM939.21 502.31H944.19V507.39H939.21zM969.11 502.31H974.1V507.39H969.11zM1008.99 502.31H1013.97V507.39H1008.99zM794.65 507.39H799.64V512.48H794.65zM854.47 507.39H859.45V512.48H854.47zM864.44 507.39H869.42V512.48H864.44zM884.37 507.39H889.36V512.48H884.37zM899.33 507.39H904.31V512.48H899.33zM944.19 507.39H949.17V512.48H944.19zM969.11 507.39H974.1V512.48H969.11zM1033.91 507.39H1038.9V512.48H1033.91zM739.82 512.48H744.8V517.57H739.82zM779.7 512.48H784.68V517.57H779.7zM824.56 512.48H829.54V517.57H824.56zM864.44 512.48H869.42V517.57H864.44zM904.31 512.48H909.3V517.57H904.31zM939.21 512.48H949.17V517.57H939.21zM959.14 512.48H964.13V517.57H959.14zM969.11 512.48H974.1V517.57H969.11zM1033.91 512.48H1038.9V517.57H1033.91zM1063.82 512.48H1073.79V517.57H1063.82zM1083.76 512.48H1088.74V517.57H1083.76zM1123.64 512.48H1128.62V517.57H1123.64zM824.56 517.57H829.54V522.65H824.56zM839.51 517.57H844.5V522.65H839.51zM899.33 517.57H904.31V522.65H899.33zM959.14 517.57H964.13V522.65H959.14zM969.11 517.57H979.08V522.65H969.11zM1033.91 517.57H1038.9V522.65H1033.91zM1058.84 517.57H1063.82V522.65H1058.84zM1018.96 522.65H1023.94V527.74H1018.96zM1128.62 522.65H1133.61V527.74H1128.62zM1138.59 522.65H1143.58V527.74H1138.59zM864.44 527.74H869.42V532.82H864.44zM899.33 527.74H909.3V532.82H899.33zM954.16 527.74H959.14V532.82H954.16zM1018.96 527.74H1023.94V532.82H1018.96zM1073.79 527.74H1078.78V532.82H1073.79zM1128.62 527.74H1133.61V532.82H1128.62zM874.4 532.82H879.39V537.91H874.4zM889.36 532.82H894.34V537.91H889.36zM899.33 532.82H904.31V537.91H899.33zM909.3 532.82H914.28V537.91H909.3zM949.17 532.82H954.16V537.91H949.17zM984.07 532.82H989.05V537.91H984.07zM1013.97 532.82H1023.94V537.91H1013.97zM1028.93 532.82H1038.9V537.91H1028.93zM1063.82 532.82H1068.81V537.91H1063.82zM1073.79 532.82H1078.78V537.91H1073.79zM1118.65 532.82H1128.62V537.91H1118.65zM864.44 537.91H869.42V543H864.44zM874.4 537.91H879.39V543H874.4zM889.36 537.91H894.34V543H889.36zM899.33 537.91H909.3V543H899.33zM974.1 537.91H979.08V543H974.1zM1013.97 537.91H1018.96V543H1013.97zM1063.82 537.91H1068.81V543H1063.82zM1073.79 537.91H1078.78V543H1073.79zM1083.76 537.91H1088.74V543H1083.76zM734.83 543H739.82V548.08H734.83zM744.8 543H754.77V548.08H744.8zM779.7 543H784.68V548.08H779.7zM804.62 543H814.59V548.08H804.62zM854.47 543H859.45V548.08H854.47zM864.44 543H869.42V548.08H864.44zM874.4 543H879.39V548.08H874.4zM889.36 543H894.34V548.08H889.36zM909.3 543H914.28V548.08H909.3zM949.17 543H959.14V548.08H949.17zM974.1 543H979.08V548.08H974.1zM1013.97 543H1018.96V548.08H1013.97zM1033.91 543H1038.9V548.08H1033.91zM1123.64 543H1128.62V548.08H1123.64zM1143.58 543H1148.56V548.08H1143.58zM734.83 548.08H744.8V553.17H734.83zM749.79 548.08H754.77V553.17H749.79zM859.45 548.08H864.44V553.17H859.45zM1008.99 548.08H1013.97V553.17H1008.99zM1023.94 548.08H1033.91V553.17H1023.94zM1063.82 548.08H1068.81V553.17H1063.82zM734.83 553.17H739.82V558.25H734.83zM849.48 553.17H859.45V558.25H849.48zM1073.79 553.17H1078.78V558.25H1073.79zM1083.76 553.17H1088.74V558.25H1083.76zM1123.64 553.17H1133.61V558.25H1123.64zM744.8 558.25H749.79V563.34H744.8zM754.77 558.25H759.76V563.34H754.77zM764.74 558.25H769.73V563.34H764.74zM859.45 558.25H864.44V563.34H859.45zM894.34 558.25H904.31V563.34H894.34zM944.19 558.25H959.14V563.34H944.19zM1008.99 558.25H1013.97V563.34H1008.99zM1073.79 558.25H1078.78V563.34H1073.79zM1128.62 558.25H1133.61V563.34H1128.62zM1153.55 558.25H1158.53V563.34H1153.55zM1163.51 558.25H1173.48V563.34H1163.51zM1178.47 558.25H1188.44V563.34H1178.47zM849.48 563.34H854.47V568.43H849.48zM859.45 563.34H864.44V568.43H859.45zM889.36 563.34H894.34V568.43H889.36zM1008.99 563.34H1013.97V568.43H1008.99zM1028.93 563.34H1038.9V568.43H1028.93zM1073.79 563.34H1088.74V568.43H1073.79zM734.83 568.43H744.8V573.51H734.83zM754.77 568.43H759.76V573.51H754.77zM804.62 568.43H814.59V573.51H804.62zM849.48 568.43H859.45V573.51H849.48zM879.39 568.43H884.37V573.51H879.39zM899.33 568.43H909.3V573.51H899.33zM974.1 568.43H979.08V573.51H974.1zM1143.58 568.43H1148.56V573.51H1143.58zM1153.55 568.43H1163.51V573.51H1153.55zM749.79 573.51H759.76V578.6H749.79zM764.74 573.51H769.73V578.6H764.74zM804.62 573.51H809.6V578.6H804.62zM814.59 573.51H819.57V578.6H814.59zM864.44 573.51H869.42V578.6H864.44zM934.22 573.51H939.21V578.6H934.22zM954.16 573.51H959.14V578.6H954.16zM1143.58 573.51H1148.56V578.6H1143.58zM754.77 578.6H759.76V583.68H754.77zM804.62 578.6H809.6V583.68H804.62zM854.47 578.6H859.45V583.68H854.47zM864.44 578.6H869.42V583.68H864.44zM874.4 578.6H879.39V583.68H874.4zM1128.62 578.6H1133.61V583.68H1128.62zM1143.58 578.6H1148.56V583.68H1143.58zM1153.55 578.6H1158.53V583.68H1153.55zM764.74 583.68H769.73V588.77H764.74zM779.7 588.77H789.67V593.86H779.7zM794.65 588.77H809.6V593.86H794.65zM824.56 588.77H829.54V593.86H824.56zM834.53 588.77H844.5V593.86H834.53zM879.39 588.77H884.37V593.86H879.39zM924.25 588.77H929.24V593.86H924.25zM944.19 588.77H959.14V593.86H944.19zM974.1 588.77H979.08V593.86H974.1zM984.07 588.77H989.05V593.86H984.07zM1033.91 588.77H1038.9V593.86H1033.91zM1068.81 588.77H1078.78V593.86H1068.81zM1083.76 588.77H1088.74V593.86H1083.76zM1103.7 588.77H1108.68V593.86H1103.7zM1123.64 588.77H1128.62V593.86H1123.64zM1148.56 588.77H1153.55V593.86H1148.56zM1158.53 588.77H1163.51V593.86H1158.53zM799.64 593.86H804.62V598.94H799.64zM814.59 593.86H819.57V598.94H814.59zM824.56 593.86H829.54V598.94H824.56zM839.51 593.86H844.5V598.94H839.51zM909.3 593.86H914.28V598.94H909.3zM949.17 593.86H954.16V598.94H949.17zM1068.81 593.86H1078.78V598.94H1068.81zM1088.74 593.86H1093.73V598.94H1088.74zM1143.58 593.86H1153.55V598.94H1143.58zM1158.53 593.86H1163.51V598.94H1158.53zM744.8 598.94H749.79V604.03H744.8zM764.74 598.94H769.73V604.03H764.74zM824.56 598.94H829.54V604.03H824.56zM874.4 598.94H884.37V604.03H874.4zM924.25 598.94H934.22V604.03H924.25zM954.16 598.94H959.14V604.03H954.16zM969.11 598.94H974.1V604.03H969.11zM1068.81 598.94H1073.79V604.03H1068.81zM1143.58 598.94H1148.56V604.03H1143.58zM749.79 604.03H754.77V609.11H749.79zM799.64 604.03H809.6V609.11H799.64zM824.56 604.03H829.54V609.11H824.56zM934.22 604.03H939.21V609.11H934.22zM949.17 604.03H954.16V609.11H949.17zM1068.81 604.03H1073.79V609.11H1068.81zM764.74 609.11H769.73V614.2H764.74zM804.62 609.11H809.6V614.2H804.62zM824.56 609.11H829.54V614.2H824.56zM834.53 609.11H839.51V614.2H834.53zM879.39 609.11H884.37V614.2H879.39zM924.25 609.11H929.24V614.2H924.25zM934.22 609.11H939.21V614.2H934.22zM1068.81 609.11H1078.78V614.2H1068.81zM1153.55 609.11H1163.51V614.2H1153.55z"/>
<path fill="#5697d2" d="M859.45 34.4H869.42V39.49H859.45zM899.33 34.4H904.31V39.49H899.33zM909.3 34.4H914.28V39.49H909.3zM949.17 34.4H954.16V39.49H949.17zM974.1 34.4H979.08V39.49H974.1zM1068.81 34.4H1073.79V39.49H1068.81zM1138.59 34.4H1158.53V39.49H1138.59zM1253.24 34.4H1258.22V39.49H1253.24zM794.65 39.49H799.64V44.57H794.65zM814.59 39.49H819.57V44.57H814.59zM839.51 39.49H844.5V44.57H839.51zM849.48 39.49H864.44V44.57H849.48zM874.4 39.49H884.37V44.57H874.4zM889.36 39.49H894.34V44.57H889.36zM904.31 39.49H909.3V44.57H904.31zM974.1 39.49H979.08V44.57H974.1zM1008.99 39.49H1023.94V44.57H1008.99zM1048.87 39.49H1053.85V44.57H1048.87zM1063.82 39.49H1073.79V44.57H1063.82zM1103.7 39.49H1113.67V44.57H1103.7zM1128.62 39.49H1133.61V44.57H1128.62zM1163.51 39.49H1178.47V44.57H1163.51zM1198.41 39.49H1208.38V44.57H1198.41zM1218.35 39.49H1223.33V44.57H1218.35zM1263.21 39.49H1268.19V44.57H1263.21zM809.6 44.57H814.59V49.66H809.6zM839.51 44.57H844.5V49.66H839.51zM849.48 44.57H854.47V49.66H849.48zM859.45 44.57H864.44V49.66H859.45zM904.31 44.57H909.3V49.66H904.31zM949.17 44.57H954.16V49.66H949.17zM959.14 44.57H964.13V49.66H959.14zM974.1 44.57H979.08V49.66H974.1zM1013.97 44.57H1018.96V49.66H1013.97zM1048.87 44.57H1063.82V49.66H1048.87zM1068.81 44.57H1073.79V49.66H1068.81zM1088.74 44.57H1093.73V49.66H1088.74zM1113.67 44.57H1118.65V49.66H1113.67zM1128.62 44.57H1138.59V49.66H1128.62zM1143.58 44.57H1168.5V49.66H1143.58zM1193.42 44.57H1198.41V49.66H1193.42zM1203.39 44.57H1208.38V49.66H1203.39zM1228.31 44.57H1233.3V49.66H1228.31zM1243.27 44.57H1248.25V49.66H1243.27zM1258.22 44.57H1273.18V49.66H1258.22zM764.74 49.66H769.73V54.74H764.74zM809.6 49.66H819.57V54.74H809.6zM849.48 49.66H869.42V54.74H849.48zM889.36 49.66H894.34V54.74H889.36zM904.31 49.66H914.28V54.74H904.31zM949.17 49.66H954.16V54.74H949.17zM969.11 49.66H974.1V54.74H969.11zM999.02 49.66H1013.97V54.74H999.02zM1033.91 49.66H1043.88V54.74H1033.91zM1068.81 49.66H1073.79V54.74H1068.81zM1083.76 49.66H1088.74V54.74H1083.76zM1108.68 49.66H1123.64V54.74H1108.68zM1143.58 49.66H1158.53V54.74H1143.58zM1168.5 49.66H1178.47V54.74H1168.5zM1203.39 49.66H1208.38V54.74H1203.39zM1213.36 49.66H1218.35V54.74H1213.36zM1223.33 49.66H1228.31V54.74H1223.33zM1248.25 49.66H1253.24V54.74H1248.25zM1263.21 49.66H1268.19V54.74H1263.21zM1278.16 49.66H1283.15V54.74H1278.16zM759.76 54.74H764.74V59.83H759.76zM784.68 54.74H789.67V59.83H784.68zM794.65 54.74H804.62V59.83H794.65zM809.6 54.74H819.57V59.83H809.6zM839.51 54.74H844.5V59.83H839.51zM854.47 54.74H859.45V59.83H854.47zM879.39 54.74H889.36V59.83H879.39zM904.31 54.74H909.3V59.83H904.31zM924.25 54.74H929.24V59.83H924.25zM959.14 54.74H964.13V59.83H959.14zM999.02 54.74H1008.99V59.83H999.02zM1038.9 54.74H1043.88V59.83H1038.9zM1078.78 54.74H1083.76V59.83H1078.78zM1093.73 54.74H1098.71V59.83H1093.73zM1113.67 54.74H1123.64V59.83H1113.67zM1128.62 54.74H1133.61V59.83H1128.62zM1138.59 54.74H1143.58V59.83H1138.59zM1163.51 54.74H1173.48V59.83H1163.51zM1193.42 54.74H1203.39V59.83H1193.42zM1213.36 54.74H1223.33V59.83H1213.36zM1238.28 54.74H1243.27V59.83H1238.28zM1248.25 54.74H1253.24V59.83H1248.25zM1293.12 54.74H1298.1V59.83H1293.12zM779.7 59.83H794.65V64.92H779.7zM804.62 59.83H819.57V64.92H804.62zM839.51 59.83H844.5V64.92H839.51zM854.47 59.83H864.44V64.92H854.47zM874.4 59.83H879.39V64.92H874.4zM899.33 59.83H904.31V64.92H899.33zM909.3 59.83H914.28V64.92H909.3zM949.17 59.83H954.16V64.92H949.17zM974.1 59.83H979.08V64.92H974.1zM1008.99 59.83H1013.97V64.92H1008.99zM1018.96 59.83H1023.94V64.92H1018.96zM1033.91 59.83H1038.9V64.92H1033.91zM1048.87 59.83H1063.82V64.92H1048.87zM1073.79 59.83H1083.76V64.92H1073.79zM1088.74 59.83H1093.73V64.92H1088.74zM1103.7 59.83H1113.67V64.92H1103.7zM1128.62 59.83H1138.59V64.92H1128.62zM1148.56 59.83H1153.55V64.92H1148.56zM1158.53 59.83H1163.51V64.92H1158.53zM1168.5 59.83H1178.47V64.92H1168.5zM1183.45 59.83H1188.44V64.92H1183.45zM1198.41 59.83H1208.38V64.92H1198.41zM1233.3 59.83H1243.27V64.92H1233.3zM1248.25 59.83H1253.24V64.92H1248.25zM749.79 64.92H754.77V70H749.79zM779.7 64.92H789.67V70H779.7zM794.65 64.92H799.64V70H794.65zM809.6 64.92H819.57V70H809.6zM844.5 64.92H849.48V70H844.5zM894.34 64.92H899.33V70H894.34zM944.19 64.92H949.17V70H944.19zM954.16 64.92H964.13V70H954.16zM1004.01 64.92H1008.99V70H1004.01zM1033.91 64.92H1043.88V70H1033.91zM1048.87 64.92H1053.85V70H1048.87zM1063.82 64.92H1068.81V70H1063.82zM1073.79 64.92H1078.78V70H1073.79zM1128.62 64.92H1133.61V70H1128.62zM1138.59 64.92H1143.58V70H1138.59zM1148.56 64.92H1153.55V70H1148.56zM1178.47 64.92H1188.44V70H1178.47zM1218.35 64.92H1233.3V70H1218.35zM1253.24 64.92H1258.22V70H1253.24zM1263.21 64.92H1268.19V70H1263.21zM1278.16 64.92H1283.15V70H1278.16zM1293.12 64.92H1298.1V70H1293.12zM744.8 70H749.79V75.09H744.8zM774.71 70H779.7V75.09H774.71zM789.67 70H794.65V75.09H789.67zM809.6 70H814.59V75.09H809.6zM819.57 70H824.56V75.09H819.57zM849.48 70H854.47V75.09H849.48zM869.42 70H874.4V75.09H869.42zM879.39 70H884.37V75.09H879.39zM934.22 70H939.21V75.09H934.22zM944.19 70H949.17V75.09H944.19zM959.14 70H964.13V75.09H959.14zM984.07 70H994.04V75.09H984.07zM1008.99 70H1013.97V75.09H1008.99zM1028.93 70H1033.91V75.09H1028.93zM1068.81 70H1078.78V75.09H1068.81zM1133.61 70H1138.59V75.09H1133.61zM1178.47 70H1188.44V75.09H1178.47zM1213.36 70H1218.35V75.09H1213.36zM1223.33 70H1228.31V75.09H1223.33zM1238.28 70H1243.27V75.09H1238.28zM1248.25 70H1253.24V75.09H1248.25zM1288.13 70H1293.12V75.09H1288.13zM859.45 75.09H869.42V80.17H859.45zM929.24 75.09H939.21V80.17H929.24zM949.17 75.09H959.14V80.17H949.17zM999.02 75.09H1004.01V80.17H999.02zM1023.94 75.09H1028.93V80.17H1023.94zM1038.9 75.09H1043.88V80.17H1038.9zM1053.85 75.09H1058.84V80.17H1053.85zM1093.73 75.09H1098.71V80.17H1093.73zM1103.7 75.09H1108.68V80.17H1103.7zM1143.58 75.09H1158.53V80.17H1143.58zM764.74 80.17H769.73V85.26H764.74zM804.62 80.17H809.6V85.26H804.62zM854.47 80.17H859.45V85.26H854.47zM864.44 80.17H874.4V85.26H864.44zM879.39 80.17H884.37V85.26H879.39zM919.27 80.17H929.24V85.26H919.27zM944.19 80.17H954.16V85.26H944.19zM989.05 80.17H994.04V85.26H989.05zM1004.01 80.17H1008.99V85.26H1004.01zM1028.93 80.17H1033.91V85.26H1028.93zM1038.9 80.17H1043.88V85.26H1038.9zM1048.87 80.17H1053.85V85.26H1048.87zM1093.73 80.17H1098.71V85.26H1093.73zM1143.58 80.17H1148.56V85.26H1143.58zM1158.53 80.17H1163.51V85.26H1158.53zM1218.35 80.17H1228.31V85.26H1218.35zM1243.27 80.17H1248.25V85.26H1243.27zM754.77 85.26H764.74V90.35H754.77zM804.62 85.26H814.59V90.35H804.62zM839.51 85.26H844.5V90.35H839.51zM849.48 85.26H859.45V90.35H849.48zM874.4 85.26H889.36V90.35H874.4zM919.27 85.26H924.25V90.35H919.27zM939.21 85.26H949.17V90.35H939.21zM954.16 85.26H959.14V90.35H954.16zM974.1 85.26H979.08V90.35H974.1zM1008.99 85.26H1013.97V90.35H1008.99zM1023.94 85.26H1028.93V90.35H1023.94zM1043.88 85.26H1048.87V90.35H1043.88zM1093.73 85.26H1098.71V90.35H1093.73zM1113.67 85.26H1118.65V90.35H1113.67zM1153.55 85.26H1158.53V90.35H1153.55zM1173.48 85.26H1178.47V90.35H1173.48zM1188.44 85.26H1193.42V90.35H1188.44zM1203.39 85.26H1208.38V90.35H1203.39zM1218.35 85.26H1228.31V90.35H1218.35zM1243.27 85.26H1248.25V90.35H1243.27zM749.79 90.35H764.74V95.43H749.79zM839.51 90.35H844.5V95.43H839.51zM879.39 90.35H884.37V95.43H879.39zM889.36 90.35H894.34V95.43H889.36zM904.31 90.35H909.3V95.43H904.31zM924.25 90.35H929.24V95.43H924.25zM934.22 90.35H939.21V95.43H934.22zM969.11 90.35H979.08V95.43H969.11zM1028.93 90.35H1033.91V95.43H1028.93zM1048.87 90.35H1053.85V95.43H1048.87zM1063.82 90.35H1068.81V95.43H1063.82zM1073.79 90.35H1078.78V95.43H1073.79zM1218.35 90.35H1223.33V95.43H1218.35zM1288.13 90.35H1293.12V95.43H1288.13zM754.77 95.43H759.76V100.52H754.77zM764.74 95.43H769.73V100.52H764.74zM874.4 95.43H884.37V100.52H874.4zM889.36 95.43H894.34V100.52H889.36zM899.33 95.43H904.31V100.52H899.33zM909.3 95.43H914.28V100.52H909.3zM924.25 95.43H929.24V100.52H924.25zM959.14 95.43H964.13V100.52H959.14zM1023.94 95.43H1033.91V100.52H1023.94zM1048.87 95.43H1053.85V100.52H1048.87zM1123.64 95.43H1128.62V100.52H1123.64zM1143.58 95.43H1153.55V100.52H1143.58zM1158.53 95.43H1163.51V100.52H1158.53zM1273.18 95.43H1288.13V100.52H1273.18zM734.83 100.52H739.82V105.6H734.83zM749.79 100.52H754.77V105.6H749.79zM759.76 100.52H764.74V105.6H759.76zM824.56 100.52H829.54V105.6H824.56zM849.48 100.52H854.47V105.6H849.48zM889.36 100.52H894.34V105.6H889.36zM904.31 100.52H914.28V105.6H904.31zM924.25 100.52H929.24V105.6H924.25zM949.17 100.52H954.16V105.6H949.17zM959.14 100.52H964.13V105.6H959.14zM974.1 100.52H979.08V105.6H974.1zM1008.99 100.52H1013.97V105.6H1008.99zM1023.94 100.52H1028.93V105.6H1023.94zM1043.88 100.52H1048.87V105.6H1043.88zM1073.79 100.52H1078.78V105.6H1073.79zM1118.65 100.52H1123.64V105.6H1118.65zM1148.56 100.52H1158.53V105.6H1148.56zM1228.31 100.52H1233.3V105.6H1228.31zM1278.16 100.52H1283.15V105.6H1278.16zM1293.12 100.52H1298.1V105.6H1293.12zM749.79 105.6H754.77V110.69H749.79zM839.51 105.6H844.5V110.69H839.51zM874.4 105.6H879.39V110.69H874.4zM944.19 105.6H954.16V110.69H944.19zM969.11 105.6H974.1V110.69H969.11zM1008.99 105.6H1013.97V110.69H1008.99zM1018.96 105.6H1023.94V110.69H1018.96zM1088.74 105.6H1098.71V110.69H1088.74zM1118.65 105.6H1123.64V110.69H1118.65zM1148.56 105.6H1163.51V110.69H1148.56zM1178.47 105.6H1183.45V110.69H1178.47zM1188.44 105.6H1193.42V110.69H1188.44zM1218.35 105.6H1223.33V110.69H1218.35zM754.77 110.69H759.76V115.78H754.77zM774.71 110.69H784.68V115.78H774.71zM834.53 110.69H839.51V115.78H834.53zM879.39 110.69H884.37V115.78H879.39zM914.28 110.69H924.25V115.78H914.28zM929.24 110.69H934.22V115.78H929.24zM954.16 110.69H959.14V115.78H954.16zM984.07 110.69H999.02V115.78H984.07zM1013.97 110.69H1018.96V115.78H1013.97zM1028.93 110.69H1038.9V115.78H1028.93zM1048.87 110.69H1053.85V115.78H1048.87zM1063.82 110.69H1078.78V115.78H1063.82zM1103.7 110.69H1108.68V115.78H1103.7zM1118.65 110.69H1123.64V115.78H1118.65zM1133.61 110.69H1138.59V115.78H1133.61zM1143.58 110.69H1148.56V115.78H1143.58zM1178.47 110.69H1183.45V115.78H1178.47zM1213.36 110.69H1223.33V115.78H1213.36zM1243.27 110.69H1248.25V115.78H1243.27zM1268.19 110.69H1273.18V115.78H1268.19zM739.82 115.78H769.73V120.86H739.82zM779.7 115.78H784.68V120.86H779.7zM849.48 115.78H854.47V120.86H849.48zM869.42 115.78H874.4V120.86H869.42zM889.36 115.78H894.34V120.86H889.36zM904.31 115.78H914.28V120.86H904.31zM924.25 115.78H939.21V120.86H924.25zM944.19 115.78H954.16V120.86H944.19zM1018.96 115.78H1023.94V120.86H1018.96zM1048.87 115.78H1053.85V120.86H1048.87zM1118.65 115.78H1133.61V120.86H1118.65zM1218.35 115.78H1228.31V120.86H1218.35zM1263.21 115.78H1268.19V120.86H1263.21zM1273.18 115.78H1283.15V120.86H1273.18zM734.83 120.86H739.82V125.95H734.83zM744.8 120.86H764.74V125.95H744.8zM819.57 120.86H829.54V125.95H819.57zM869.42 120.86H874.4V125.95H869.42zM894.34 120.86H899.33V125.95H894.34zM909.3 120.86H914.28V125.95H909.3zM939.21 120.86H949.17V125.95H939.21zM989.05 120.86H994.04V125.95H989.05zM1053.85 120.86H1063.82V125.95H1053.85zM1123.64 120.86H1128.62V125.95H1123.64zM1133.61 120.86H1138.59V125.95H1133.61zM1143.58 120.86H1148.56V125.95H1143.58zM1168.5 120.86H1178.47V125.95H1168.5zM1198.41 120.86H1203.39V125.95H1198.41zM1253.24 120.86H1258.22V125.95H1253.24zM1273.18 120.86H1278.16V125.95H1273.18zM1283.15 120.86H1298.1V125.95H1283.15zM764.74 125.95H769.73V131.03H764.74zM814.59 125.95H819.57V131.03H814.59zM854.47 125.95H859.45V131.03H854.47zM889.36 125.95H894.34V131.03H889.36zM899.33 125.95H904.31V131.03H899.33zM944.19 125.95H949.17V131.03H944.19zM969.11 125.95H974.1V131.03H969.11zM984.07 125.95H989.05V131.03H984.07zM994.04 125.95H999.02V131.03H994.04zM1008.99 125.95H1013.97V131.03H1008.99zM1033.91 125.95H1043.88V131.03H1033.91zM1058.84 125.95H1063.82V131.03H1058.84zM1068.81 125.95H1073.79V131.03H1068.81zM1123.64 125.95H1128.62V131.03H1123.64zM1183.45 125.95H1198.41V131.03H1183.45zM1273.18 125.95H1298.1V131.03H1273.18zM794.65 131.03H799.64V136.12H794.65zM814.59 131.03H819.57V136.12H814.59zM839.51 131.03H844.5V136.12H839.51zM849.48 131.03H854.47V136.12H849.48zM859.45 131.03H864.44V136.12H859.45zM884.37 131.03H889.36V136.12H884.37zM904.31 131.03H914.28V136.12H904.31zM919.27 131.03H934.22V136.12H919.27zM939.21 131.03H944.19V136.12H939.21zM979.08 131.03H989.05V136.12H979.08zM994.04 131.03H999.02V136.12H994.04zM1013.97 131.03H1018.96V136.12H1013.97zM1088.74 131.03H1093.73V136.12H1088.74zM1108.68 131.03H1113.67V136.12H1108.68zM1118.65 131.03H1123.64V136.12H1118.65zM1168.5 131.03H1173.48V136.12H1168.5zM1188.44 131.03H1198.41V136.12H1188.44zM1228.31 131.03H1233.3V136.12H1228.31zM1243.27 131.03H1248.25V136.12H1243.27zM854.47 136.12H869.42V141.21H854.47zM889.36 136.12H894.34V141.21H889.36zM909.3 136.12H914.28V141.21H909.3zM949.17 136.12H954.16V141.21H949.17zM1048.87 136.12H1063.82V141.21H1048.87zM1293.12 136.12H1298.1V141.21H1293.12zM804.62 141.21H809.6V146.29H804.62zM854.47 141.21H859.45V146.29H854.47zM864.44 141.21H869.42V146.29H864.44zM874.4 141.21H879.39V146.29H874.4zM924.25 141.21H929.24V146.29H924.25zM934.22 141.21H939.21V146.29H934.22zM949.17 141.21H954.16V146.29H949.17zM974.1 141.21H979.08V146.29H974.1zM984.07 141.21H999.02V146.29H984.07zM1013.97 141.21H1018.96V146.29H1013.97zM1033.91 141.21H1043.88V146.29H1033.91zM1058.84 141.21H1063.82V146.29H1058.84zM1068.81 141.21H1078.78V146.29H1068.81zM1133.61 141.21H1138.59V146.29H1133.61zM1183.45 141.21H1188.44V146.29H1183.45zM1278.16 141.21H1283.15V146.29H1278.16zM734.83 146.29H744.8V151.38H734.83zM749.79 146.29H759.76V151.38H749.79zM779.7 146.29H789.67V151.38H779.7zM799.64 146.29H804.62V151.38H799.64zM824.56 146.29H829.54V151.38H824.56zM854.47 146.29H864.44V151.38H854.47zM874.4 146.29H879.39V151.38H874.4zM924.25 146.29H939.21V151.38H924.25zM969.11 146.29H984.07V151.38H969.11zM989.05 146.29H1008.99V151.38H989.05zM1028.93 146.29H1043.88V151.38H1028.93zM1058.84 146.29H1063.82V151.38H1058.84zM1068.81 146.29H1073.79V151.38H1068.81zM1108.68 146.29H1113.67V151.38H1108.68zM1123.64 146.29H1128.62V151.38H1123.64zM1143.58 146.29H1148.56V151.38H1143.58zM1153.55 146.29H1163.51V151.38H1153.55zM1183.45 146.29H1188.44V151.38H1183.45zM1283.15 146.29H1298.1V151.38H1283.15zM759.76 151.38H764.74V156.46H759.76zM864.44 151.38H869.42V156.46H864.44zM879.39 151.38H884.37V156.46H879.39zM899.33 151.38H904.31V156.46H899.33zM989.05 151.38H994.04V156.46H989.05zM1153.55 151.38H1158.53V156.46H1153.55zM1198.41 151.38H1203.39V156.46H1198.41zM734.83 156.46H749.79V161.55H734.83zM764.74 156.46H769.73V161.55H764.74zM779.7 156.46H784.68V161.55H779.7zM794.65 156.46H799.64V161.55H794.65zM809.6 156.46H814.59V161.55H809.6zM824.56 156.46H829.54V161.55H824.56zM899.33 156.46H904.31V161.55H899.33zM909.3 156.46H914.28V161.55H909.3zM934.22 156.46H944.19V161.55H934.22zM974.1 156.46H979.08V161.55H974.1zM989.05 156.46H994.04V161.55H989.05zM1004.01 156.46H1013.97V161.55H1004.01zM1123.64 156.46H1128.62V161.55H1123.64zM1148.56 156.46H1163.51V161.55H1148.56zM1183.45 156.46H1188.44V161.55H1183.45zM1223.33 156.46H1238.28V161.55H1223.33zM734.83 161.55H739.82V166.64H734.83zM744.8 161.55H759.76V166.64H744.8zM774.71 161.55H784.68V166.64H774.71zM819.57 161.55H824.56V166.64H819.57zM829.54 161.55H844.5V166.64H829.54zM889.36 161.55H894.34V166.64H889.36zM939.21 161.55H944.19V166.64H939.21zM959.14 161.55H964.13V166.64H959.14zM969.11 161.55H974.1V166.64H969.11zM1004.01 161.55H1008.99V166.64H1004.01zM1018.96 161.55H1023.94V166.64H1018.96zM1048.87 161.55H1053.85V166.64H1048.87zM1073.79 161.55H1078.78V166.64H1073.79zM1103.7 161.55H1108.68V166.64H1103.7zM1118.65 161.55H1123.64V166.64H1118.65zM1148.56 161.55H1153.55V166.64H1148.56zM1158.53 161.55H1163.51V166.64H1158.53zM1178.47 161.55H1193.42V166.64H1178.47zM1198.41 161.55H1208.38V166.64H1198.41zM1223.33 161.55H1228.31V166.64H1223.33zM729.85 166.64H749.79V171.72H729.85zM754.77 166.64H759.76V171.72H754.77zM769.73 166.64H774.71V171.72H769.73zM824.56 166.64H834.53V171.72H824.56zM839.51 166.64H844.5V171.72H839.51zM889.36 166.64H894.34V171.72H889.36zM899.33 166.64H904.31V171.72H899.33zM909.3 166.64H924.25V171.72H909.3zM939.21 166.64H944.19V171.72H939.21zM959.14 166.64H964.13V171.72H959.14zM1008.99 166.64H1018.96V171.72H1008.99zM1108.68 166.64H1113.67V171.72H1108.68zM1118.65 166.64H1123.64V171.72H1118.65zM1143.58 166.64H1148.56V171.72H1143.58zM1178.47 166.64H1183.45V171.72H1178.47zM1218.35 166.64H1223.33V171.72H1218.35zM1253.24 166.64H1258.22V171.72H1253.24zM1263.21 166.64H1268.19V171.72H1263.21zM729.85 171.72H734.83V176.81H729.85zM744.8 171.72H749.79V176.81H744.8zM769.73 171.72H779.7V176.81H769.73zM829.54 171.72H839.51V176.81H829.54zM844.5 171.72H849.48V176.81H844.5zM889.36 171.72H894.34V176.81H889.36zM914.28 171.72H924.25V176.81H914.28zM959.14 171.72H964.13V176.81H959.14zM999.02 171.72H1004.01V176.81H999.02zM1038.9 171.72H1043.88V176.81H1038.9zM1068.81 171.72H1073.79V176.81H1068.81zM1083.76 171.72H1088.74V176.81H1083.76zM1103.7 171.72H1108.68V176.81H1103.7zM1113.67 171.72H1118.65V176.81H1113.67zM1188.44 171.72H1193.42V176.81H1188.44zM1203.39 171.72H1208.38V176.81H1203.39zM1218.35 171.72H1223.33V176.81H1218.35zM1273.18 171.72H1283.15V176.81H1273.18zM764.74 176.81H769.73V181.89H764.74zM774.71 176.81H779.7V181.89H774.71zM809.6 176.81H819.57V181.89H809.6zM879.39 176.81H884.37V181.89H879.39zM904.31 176.81H914.28V181.89H904.31zM919.27 176.81H934.22V181.89H919.27zM944.19 176.81H959.14V181.89H944.19zM1004.01 176.81H1013.97V181.89H1004.01zM1048.87 176.81H1053.85V181.89H1048.87zM1143.58 176.81H1153.55V181.89H1143.58zM1238.28 176.81H1248.25V181.89H1238.28zM734.83 181.89H739.82V186.98H734.83zM754.77 181.89H759.76V186.98H754.77zM779.7 181.89H784.68V186.98H779.7zM789.67 181.89H794.65V186.98H789.67zM799.64 181.89H804.62V186.98H799.64zM834.53 181.89H844.5V186.98H834.53zM899.33 181.89H904.31V186.98H899.33zM944.19 181.89H949.17V186.98H944.19zM954.16 181.89H959.14V186.98H954.16zM974.1 181.89H979.08V186.98H974.1zM1008.99 181.89H1013.97V186.98H1008.99zM1063.82 181.89H1073.79V186.98H1063.82zM1078.78 181.89H1088.74V186.98H1078.78zM1113.67 181.89H1118.65V186.98H1113.67zM1143.58 181.89H1153.55V186.98H1143.58zM1183.45 181.89H1188.44V186.98H1183.45zM1238.28 181.89H1248.25V186.98H1238.28zM1253.24 181.89H1258.22V186.98H1253.24zM1278.16 181.89H1283.15V186.98H1278.16zM1288.13 181.89H1298.1V186.98H1288.13zM734.83 186.98H739.82V192.06H734.83zM749.79 186.98H754.77V192.06H749.79zM764.74 186.98H769.73V192.06H764.74zM774.71 186.98H794.65V192.06H774.71zM804.62 186.98H809.6V192.06H804.62zM844.5 186.98H849.48V192.06H844.5zM869.42 186.98H874.4V192.06H869.42zM884.37 186.98H889.36V192.06H884.37zM904.31 186.98H914.28V192.06H904.31zM924.25 186.98H929.24V192.06H924.25zM994.04 186.98H999.02V192.06H994.04zM1008.99 186.98H1013.97V192.06H1008.99zM1048.87 186.98H1068.81V192.06H1048.87zM1108.68 186.98H1123.64V192.06H1108.68zM1183.45 186.98H1188.44V192.06H1183.45zM1198.41 186.98H1208.38V192.06H1198.41zM1223.33 186.98H1238.28V192.06H1223.33zM1243.27 186.98H1248.25V192.06H1243.27zM1268.19 186.98H1273.18V192.06H1268.19zM1288.13 186.98H1293.12V192.06H1288.13zM749.79 192.06H754.77V197.15H749.79zM779.7 192.06H784.68V197.15H779.7zM824.56 192.06H829.54V197.15H824.56zM879.39 192.06H884.37V197.15H879.39zM944.19 192.06H949.17V197.15H944.19zM994.04 192.06H999.02V197.15H994.04zM1018.96 192.06H1023.94V197.15H1018.96zM1053.85 192.06H1058.84V197.15H1053.85zM1088.74 192.06H1093.73V197.15H1088.74zM1138.59 192.06H1143.58V197.15H1138.59zM1198.41 192.06H1208.38V197.15H1198.41zM1228.31 192.06H1233.3V197.15H1228.31zM1243.27 192.06H1253.24V197.15H1243.27zM1273.18 192.06H1278.16V197.15H1273.18zM734.83 197.15H739.82V202.24H734.83zM744.8 197.15H749.79V202.24H744.8zM784.68 197.15H799.64V202.24H784.68zM809.6 197.15H814.59V202.24H809.6zM819.57 197.15H824.56V202.24H819.57zM829.54 197.15H834.53V202.24H829.54zM854.47 197.15H869.42V202.24H854.47zM899.33 197.15H904.31V202.24H899.33zM939.21 197.15H944.19V202.24H939.21zM1013.97 197.15H1023.94V202.24H1013.97zM1028.93 197.15H1033.91V202.24H1028.93zM1038.9 197.15H1043.88V202.24H1038.9zM1048.87 197.15H1053.85V202.24H1048.87zM1068.81 197.15H1078.78V202.24H1068.81zM1083.76 197.15H1088.74V202.24H1083.76zM1113.67 197.15H1118.65V202.24H1113.67zM1128.62 197.15H1133.61V202.24H1128.62zM1143.58 197.15H1148.56V202.24H1143.58zM1158.53 197.15H1163.51V202.24H1158.53zM1173.48 197.15H1178.47V202.24H1173.48zM1253.24 197.15H1258.22V202.24H1253.24zM1278.16 197.15H1283.15V202.24H1278.16zM1288.13 197.15H1298.1V202.24H1288.13zM759.76 202.24H764.74V207.32H759.76zM814.59 202.24H819.57V207.32H814.59zM944.19 202.24H954.16V207.32H944.19zM979.08 202.24H984.07V207.32H979.08zM989.05 202.24H994.04V207.32H989.05zM1108.68 202.24H1113.67V207.32H1108.68zM1118.65 202.24H1123.64V207.32H1118.65zM1128.62 202.24H1133.61V207.32H1128.62zM1178.47 202.24H1183.45V207.32H1178.47zM1193.42 202.24H1198.41V207.32H1193.42zM1228.31 202.24H1243.27V207.32H1228.31zM1248.25 202.24H1253.24V207.32H1248.25zM729.85 207.32H734.83V212.41H729.85zM754.77 207.32H759.76V212.41H754.77zM789.67 207.32H794.65V212.41H789.67zM819.57 207.32H824.56V212.41H819.57zM844.5 207.32H854.47V212.41H844.5zM859.45 207.32H864.44V212.41H859.45zM874.4 207.32H879.39V212.41H874.4zM889.36 207.32H894.34V212.41H889.36zM924.25 207.32H929.24V212.41H924.25zM949.17 207.32H954.16V212.41H949.17zM959.14 207.32H964.13V212.41H959.14zM989.05 207.32H994.04V212.41H989.05zM999.02 207.32H1008.99V212.41H999.02zM1018.96 207.32H1023.94V212.41H1018.96zM1033.91 207.32H1038.9V212.41H1033.91zM1068.81 207.32H1073.79V212.41H1068.81zM1083.76 207.32H1088.74V212.41H1083.76zM1108.68 207.32H1113.67V212.41H1108.68zM1118.65 207.32H1123.64V212.41H1118.65zM1128.62 207.32H1133.61V212.41H1128.62zM1163.51 207.32H1168.5V212.41H1163.51zM1178.47 207.32H1183.45V212.41H1178.47zM1208.38 207.32H1213.36V212.41H1208.38zM1238.28 207.32H1243.27V212.41H1238.28zM1248.25 207.32H1253.24V212.41H1248.25zM1258.22 207.32H1278.16V212.41H1258.22zM1288.13 207.32H1293.12V212.41H1288.13zM734.83 212.41H754.77V217.49H734.83zM784.68 212.41H789.67V217.49H784.68zM794.65 212.41H799.64V217.49H794.65zM809.6 212.41H814.59V217.49H809.6zM824.56 212.41H829.54V217.49H824.56zM869.42 212.41H874.4V217.49H869.42zM879.39 212.41H884.37V217.49H879.39zM924.25 212.41H929.24V217.49H924.25zM959.14 212.41H964.13V217.49H959.14zM969.11 212.41H979.08V217.49H969.11zM989.05 212.41H999.02V217.49H989.05zM1018.96 212.41H1023.94V217.49H1018.96zM1033.91 212.41H1038.9V217.49H1033.91zM1068.81 212.41H1073.79V217.49H1068.81zM1088.74 212.41H1093.73V217.49H1088.74zM1098.71 212.41H1103.7V217.49H1098.71zM1108.68 212.41H1113.67V217.49H1108.68zM1143.58 212.41H1148.56V217.49H1143.58zM1163.51 212.41H1168.5V217.49H1163.51zM1173.48 212.41H1183.45V217.49H1173.48zM1188.44 212.41H1198.41V217.49H1188.44zM1203.39 212.41H1208.38V217.49H1203.39zM1218.35 212.41H1223.33V217.49H1218.35zM1228.31 212.41H1233.3V217.49H1228.31zM1258.22 212.41H1268.19V217.49H1258.22zM1293.12 212.41H1298.1V217.49H1293.12zM729.85 217.49H734.83V222.58H729.85zM744.8 217.49H749.79V222.58H744.8zM754.77 217.49H759.76V222.58H754.77zM789.67 217.49H799.64V222.58H789.67zM809.6 217.49H819.57V222.58H809.6zM824.56 217.49H834.53V222.58H824.56zM849.48 217.49H854.47V222.58H849.48zM859.45 217.49H864.44V222.58H859.45zM869.42 217.49H874.4V222.58H869.42zM879.39 217.49H884.37V222.58H879.39zM929.24 217.49H939.21V222.58H929.24zM959.14 217.49H964.13V222.58H959.14zM974.1 217.49H984.07V222.58H974.1zM999.02 217.49H1013.97V222.58H999.02zM1018.96 217.49H1023.94V222.58H1018.96zM1033.91 217.49H1038.9V222.58H1033.91zM1068.81 217.49H1073.79V222.58H1068.81zM1093.73 217.49H1098.71V222.58H1093.73zM1113.67 217.49H1123.64V222.58H1113.67zM1138.59 217.49H1153.55V222.58H1138.59zM1173.48 217.49H1178.47V222.58H1173.48zM1183.45 217.49H1198.41V222.58H1183.45zM1203.39 217.49H1208.38V222.58H1203.39zM1213.36 217.49H1218.35V222.58H1213.36zM1223.33 217.49H1228.31V222.58H1223.33zM1243.27 217.49H1248.25V222.58H1243.27zM1253.24 217.49H1258.22V222.58H1253.24zM1263.21 217.49H1278.16V222.58H1263.21zM804.62 222.58H809.6V227.67H804.62zM859.45 222.58H869.42V227.67H859.45zM954.16 222.58H959.14V227.67H954.16zM1008.99 222.58H1013.97V227.67H1008.99zM1093.73 222.58H1098.71V227.67H1093.73zM1138.59 222.58H1153.55V227.67H1138.59zM1198.41 222.58H1208.38V227.67H1198.41zM1218.35 222.58H1223.33V227.67H1218.35zM774.71 227.67H784.68V232.75H774.71zM804.62 227.67H809.6V232.75H804.62zM824.56 227.67H829.54V232.75H824.56zM859.45 227.67H874.4V232.75H859.45zM954.16 227.67H959.14V232.75H954.16zM1033.91 227.67H1038.9V232.75H1033.91zM1063.82 227.67H1068.81V232.75H1063.82zM1133.61 227.67H1138.59V232.75H1133.61zM1278.16 227.67H1283.15V232.75H1278.16zM1293.12 227.67H1298.1V232.75H1293.12zM749.79 232.75H754.77V237.84H749.79zM774.71 232.75H779.7V237.84H774.71zM784.68 232.75H799.64V237.84H784.68zM809.6 232.75H814.59V237.84H809.6zM824.56 232.75H829.54V237.84H824.56zM834.53 232.75H844.5V237.84H834.53zM869.42 232.75H874.4V237.84H869.42zM879.39 232.75H884.37V237.84H879.39zM899.33 232.75H909.3V237.84H899.33zM1008.99 232.75H1013.97V237.84H1008.99zM1028.93 232.75H1033.91V237.84H1028.93zM1058.84 232.75H1063.82V237.84H1058.84zM1068.81 232.75H1073.79V237.84H1068.81zM1083.76 232.75H1088.74V237.84H1083.76zM1158.53 232.75H1163.51V237.84H1158.53zM1253.24 232.75H1258.22V237.84H1253.24zM1263.21 232.75H1268.19V237.84H1263.21zM1278.16 232.75H1283.15V237.84H1278.16zM1288.13 232.75H1293.12V237.84H1288.13zM769.73 237.84H774.71V242.92H769.73zM804.62 237.84H814.59V242.92H804.62zM824.56 237.84H829.54V242.92H824.56zM839.51 237.84H844.5V242.92H839.51zM869.42 237.84H874.4V242.92H869.42zM909.3 237.84H914.28V242.92H909.3zM1008.99 237.84H1013.97V242.92H1008.99zM1028.93 237.84H1033.91V242.92H1028.93zM1058.84 237.84H1073.79V242.92H1058.84zM1143.58 237.84H1148.56V242.92H1143.58zM1278.16 237.84H1283.15V242.92H1278.16zM764.74 242.92H774.71V248.01H764.74zM784.68 242.92H789.67V248.01H784.68zM809.6 242.92H814.59V248.01H809.6zM834.53 242.92H844.5V248.01H834.53zM849.48 242.92H854.47V248.01H849.48zM909.3 242.92H914.28V248.01H909.3zM989.05 242.92H999.02V248.01H989.05zM1004.01 242.92H1008.99V248.01H1004.01zM1023.94 242.92H1028.93V248.01H1023.94zM1048.87 242.92H1053.85V248.01H1048.87zM1063.82 242.92H1078.78V248.01H1063.82zM1083.76 242.92H1088.74V248.01H1083.76zM1168.5 242.92H1173.48V248.01H1168.5zM1218.35 242.92H1223.33V248.01H1218.35zM1278.16 242.92H1288.13V248.01H1278.16zM779.7 248.01H784.68V253.1H779.7zM814.59 248.01H819.57V253.1H814.59zM824.56 248.01H829.54V253.1H824.56zM849.48 248.01H864.44V253.1H849.48zM889.36 248.01H894.34V253.1H889.36zM954.16 248.01H959.14V253.1H954.16zM1088.74 248.01H1093.73V253.1H1088.74zM1128.62 248.01H1143.58V253.1H1128.62zM1178.47 248.01H1183.45V253.1H1178.47zM1193.42 248.01H1198.41V253.1H1193.42zM1203.39 248.01H1208.38V253.1H1203.39zM1228.31 248.01H1233.3V253.1H1228.31zM1273.18 248.01H1278.16V253.1H1273.18zM759.76 253.1H769.73V258.18H759.76zM774.71 253.1H784.68V258.18H774.71zM799.64 253.1H804.62V258.18H799.64zM809.6 253.1H824.56V258.18H809.6zM869.42 253.1H879.39V258.18H869.42zM884.37 253.1H889.36V258.18H884.37zM894.34 253.1H899.33V258.18H894.34zM959.14 253.1H964.13V258.18H959.14zM1008.99 253.1H1013.97V258.18H1008.99zM1018.96 253.1H1023.94V258.18H1018.96zM1048.87 253.1H1053.85V258.18H1048.87zM1088.74 253.1H1093.73V258.18H1088.74zM1098.71 253.1H1103.7V258.18H1098.71zM1113.67 253.1H1123.64V258.18H1113.67zM1163.51 253.1H1173.48V258.18H1163.51zM1188.44 253.1H1193.42V258.18H1188.44zM1223.33 253.1H1233.3V258.18H1223.33zM1278.16 253.1H1283.15V258.18H1278.16zM1288.13 253.1H1293.12V258.18H1288.13zM729.85 258.18H734.83V263.27H729.85zM739.82 258.18H749.79V263.27H739.82zM754.77 258.18H759.76V263.27H754.77zM769.73 258.18H779.7V263.27H769.73zM794.65 258.18H804.62V263.27H794.65zM809.6 258.18H814.59V263.27H809.6zM829.54 258.18H839.51V263.27H829.54zM869.42 258.18H874.4V263.27H869.42zM894.34 258.18H904.31V263.27H894.34zM969.11 258.18H974.1V263.27H969.11zM1008.99 258.18H1013.97V263.27H1008.99zM1023.94 258.18H1033.91V263.27H1023.94zM1043.88 258.18H1048.87V263.27H1043.88zM1063.82 258.18H1068.81V263.27H1063.82zM1073.79 258.18H1078.78V263.27H1073.79zM1093.73 258.18H1098.71V263.27H1093.73zM1108.68 258.18H1113.67V263.27H1108.68zM1123.64 258.18H1128.62V263.27H1123.64zM1133.61 258.18H1138.59V263.27H1133.61zM1143.58 258.18H1148.56V263.27H1143.58zM1158.53 258.18H1163.51V263.27H1158.53zM1213.36 258.18H1218.35V263.27H1213.36zM1233.3 258.18H1238.28V263.27H1233.3zM1263.21 258.18H1268.19V263.27H1263.21zM1293.12 258.18H1298.1V263.27H1293.12zM759.76 263.27H764.74V268.35H759.76zM769.73 263.27H774.71V268.35H769.73zM779.7 263.27H784.68V268.35H779.7zM804.62 263.27H809.6V268.35H804.62zM869.42 263.27H879.39V268.35H869.42zM914.28 263.27H924.25V268.35H914.28zM939.21 263.27H944.19V268.35H939.21zM1033.91 263.27H1038.9V268.35H1033.91zM1073.79 263.27H1078.78V268.35H1073.79zM1088.74 263.27H1093.73V268.35H1088.74zM1148.56 263.27H1163.51V268.35H1148.56zM1238.28 263.27H1243.27V268.35H1238.28zM1248.25 263.27H1258.22V268.35H1248.25zM1268.19 263.27H1273.18V268.35H1268.19zM1293.12 263.27H1298.1V268.35H1293.12zM739.82 268.35H744.8V273.44H739.82zM749.79 268.35H754.77V273.44H749.79zM759.76 268.35H769.73V273.44H759.76zM789.67 268.35H799.64V273.44H789.67zM854.47 268.35H869.42V273.44H854.47zM899.33 268.35H914.28V273.44H899.33zM944.19 268.35H949.17V273.44H944.19zM1048.87 268.35H1053.85V273.44H1048.87zM1063.82 268.35H1068.81V273.44H1063.82zM1123.64 268.35H1143.58V273.44H1123.64zM1153.55 268.35H1158.53V273.44H1153.55zM1188.44 268.35H1198.41V273.44H1188.44zM1218.35 268.35H1233.3V273.44H1218.35zM1263.21 268.35H1268.19V273.44H1263.21zM1278.16 268.35H1288.13V273.44H1278.16zM1018.96 273.44H1023.94V278.53H1018.96zM1038.9 273.44H1043.88V278.53H1038.9zM1048.87 273.44H1053.85V278.53H1048.87zM1058.84 273.44H1063.82V278.53H1058.84zM1108.68 273.44H1113.67V278.53H1108.68zM1123.64 273.44H1128.62V278.53H1123.64zM1133.61 273.44H1138.59V278.53H1133.61zM1188.44 273.44H1193.42V278.53H1188.44zM1198.41 273.44H1208.38V278.53H1198.41zM744.8 278.53H749.79V283.61H744.8zM784.68 278.53H789.67V283.61H784.68zM799.64 278.53H804.62V283.61H799.64zM819.57 278.53H824.56V283.61H819.57zM839.51 278.53H844.5V283.61H839.51zM854.47 278.53H859.45V283.61H854.47zM904.31 278.53H909.3V283.61H904.31zM949.17 278.53H954.16V283.61H949.17zM999.02 278.53H1004.01V283.61H999.02zM1013.97 278.53H1018.96V283.61H1013.97zM1043.88 278.53H1048.87V283.61H1043.88zM1123.64 278.53H1153.55V283.61H1123.64zM1173.48 278.53H1178.47V283.61H1173.48zM1218.35 278.53H1233.3V283.61H1218.35zM1273.18 278.53H1278.16V283.61H1273.18zM729.85 283.61H744.8V288.7H729.85zM754.77 283.61H759.76V288.7H754.77zM779.7 283.61H789.67V288.7H779.7zM794.65 283.61H799.64V288.7H794.65zM834.53 283.61H844.5V288.7H834.53zM849.48 283.61H854.47V288.7H849.48zM874.4 283.61H879.39V288.7H874.4zM904.31 283.61H914.28V288.7H904.31zM1004.01 283.61H1008.99V288.7H1004.01zM1033.91 283.61H1038.9V288.7H1033.91zM1083.76 283.61H1088.74V288.7H1083.76zM1108.68 283.61H1113.67V288.7H1108.68zM1118.65 283.61H1123.64V288.7H1118.65zM1143.58 283.61H1148.56V288.7H1143.58zM1158.53 283.61H1168.5V288.7H1158.53zM1173.48 283.61H1178.47V288.7H1173.48zM1218.35 283.61H1223.33V288.7H1218.35zM1243.27 283.61H1248.25V288.7H1243.27zM1263.21 283.61H1268.19V288.7H1263.21zM1283.15 283.61H1288.13V288.7H1283.15zM824.56 288.7H829.54V293.78H824.56zM839.51 288.7H844.5V293.78H839.51zM894.34 288.7H899.33V293.78H894.34zM909.3 288.7H914.28V293.78H909.3zM1073.79 288.7H1078.78V293.78H1073.79zM1083.76 288.7H1088.74V293.78H1083.76zM1128.62 288.7H1133.61V293.78H1128.62zM764.74 293.78H769.73V298.87H764.74zM804.62 293.78H809.6V298.87H804.62zM819.57 293.78H829.54V298.87H819.57zM834.53 293.78H839.51V298.87H834.53zM1083.76 293.78H1088.74V298.87H1083.76zM1133.61 293.78H1148.56V298.87H1133.61zM1158.53 293.78H1163.51V298.87H1158.53zM1173.48 293.78H1178.47V298.87H1173.48zM1223.33 293.78H1233.3V298.87H1223.33zM1278.16 293.78H1283.15V298.87H1278.16zM764.74 298.87H769.73V303.96H764.74zM774.71 298.87H779.7V303.96H774.71zM804.62 298.87H809.6V303.96H804.62zM814.59 298.87H819.57V303.96H814.59zM834.53 298.87H854.47V303.96H834.53zM894.34 298.87H909.3V303.96H894.34zM934.22 298.87H939.21V303.96H934.22zM1033.91 298.87H1038.9V303.96H1033.91zM1063.82 298.87H1073.79V303.96H1063.82zM1143.58 298.87H1153.55V303.96H1143.58zM1218.35 298.87H1233.3V303.96H1218.35zM1273.18 298.87H1283.15V303.96H1273.18zM804.62 303.96H809.6V309.04H804.62zM819.57 303.96H829.54V309.04H819.57zM834.53 303.96H844.5V309.04H834.53zM879.39 303.96H889.36V309.04H879.39zM904.31 303.96H909.3V309.04H904.31zM934.22 303.96H939.21V309.04H934.22zM1004.01 303.96H1008.99V309.04H1004.01zM1033.91 303.96H1038.9V309.04H1033.91zM1058.84 303.96H1068.81V309.04H1058.84zM1083.76 303.96H1088.74V309.04H1083.76zM1123.64 303.96H1138.59V309.04H1123.64zM1143.58 303.96H1148.56V309.04H1143.58zM1218.35 303.96H1223.33V309.04H1218.35zM1228.31 303.96H1233.3V309.04H1228.31zM1278.16 303.96H1283.15V309.04H1278.16zM1293.12 303.96H1298.1V309.04H1293.12zM744.8 309.04H754.77V314.13H744.8zM769.73 309.04H774.71V314.13H769.73zM839.51 309.04H844.5V314.13H839.51zM864.44 309.04H869.42V314.13H864.44zM899.33 309.04H904.31V314.13H899.33zM909.3 309.04H914.28V314.13H909.3zM969.11 309.04H974.1V314.13H969.11zM1008.99 309.04H1013.97V314.13H1008.99zM1018.96 309.04H1023.94V314.13H1018.96zM1038.9 309.04H1043.88V314.13H1038.9zM1098.71 309.04H1108.68V314.13H1098.71zM1158.53 309.04H1173.48V314.13H1158.53zM1193.42 309.04H1198.41V314.13H1193.42zM1243.27 309.04H1248.25V314.13H1243.27zM1253.24 309.04H1258.22V314.13H1253.24zM1263.21 309.04H1268.19V314.13H1263.21zM744.8 314.13H754.77V319.21H744.8zM759.76 314.13H764.74V319.21H759.76zM774.71 314.13H779.7V319.21H774.71zM839.51 314.13H844.5V319.21H839.51zM849.48 314.13H859.45V319.21H849.48zM869.42 314.13H874.4V319.21H869.42zM899.33 314.13H904.31V319.21H899.33zM909.3 314.13H914.28V319.21H909.3zM934.22 314.13H939.21V319.21H934.22zM974.1 314.13H979.08V319.21H974.1zM994.04 314.13H999.02V319.21H994.04zM1053.85 314.13H1063.82V319.21H1053.85zM1123.64 314.13H1133.61V319.21H1123.64zM1148.56 314.13H1153.55V319.21H1148.56zM1158.53 314.13H1178.47V319.21H1158.53zM1188.44 314.13H1193.42V319.21H1188.44zM1203.39 314.13H1208.38V319.21H1203.39zM1228.31 314.13H1233.3V319.21H1228.31zM1243.27 314.13H1248.25V319.21H1243.27zM1253.24 314.13H1258.22V319.21H1253.24zM1278.16 314.13H1283.15V319.21H1278.16zM734.83 319.21H739.82V324.3H734.83zM744.8 319.21H749.79V324.3H744.8zM754.77 319.21H759.76V324.3H754.77zM764.74 319.21H769.73V324.3H764.74zM779.7 319.21H784.68V324.3H779.7zM794.65 319.21H804.62V324.3H794.65zM819.57 319.21H824.56V324.3H819.57zM849.48 319.21H854.47V324.3H849.48zM859.45 319.21H864.44V324.3H859.45zM869.42 319.21H884.37V324.3H869.42zM909.3 319.21H919.27V324.3H909.3zM924.25 319.21H934.22V324.3H924.25zM944.19 319.21H954.16V324.3H944.19zM999.02 319.21H1004.01V324.3H999.02zM1103.7 319.21H1113.67V324.3H1103.7zM1118.65 319.21H1123.64V324.3H1118.65zM1193.42 319.21H1198.41V324.3H1193.42zM1203.39 319.21H1208.38V324.3H1203.39zM1238.28 319.21H1243.27V324.3H1238.28zM1273.18 319.21H1283.15V324.3H1273.18zM1288.13 319.21H1293.12V324.3H1288.13zM734.83 324.3H744.8V329.39H734.83zM804.62 324.3H809.6V329.39H804.62zM824.56 324.3H829.54V329.39H824.56zM834.53 324.3H839.51V329.39H834.53zM859.45 324.3H864.44V329.39H859.45zM889.36 324.3H894.34V329.39H889.36zM969.11 324.3H974.1V329.39H969.11zM1108.68 324.3H1113.67V329.39H1108.68zM1123.64 324.3H1128.62V329.39H1123.64zM1133.61 324.3H1138.59V329.39H1133.61zM1148.56 324.3H1153.55V329.39H1148.56zM1188.44 324.3H1198.41V329.39H1188.44zM1203.39 324.3H1208.38V329.39H1203.39zM1243.27 324.3H1253.24V329.39H1243.27zM1283.15 324.3H1288.13V329.39H1283.15zM734.83 329.39H739.82V334.47H734.83zM754.77 329.39H759.76V334.47H754.77zM799.64 329.39H804.62V334.47H799.64zM809.6 329.39H814.59V334.47H809.6zM854.47 329.39H859.45V334.47H854.47zM884.37 329.39H894.34V334.47H884.37zM899.33 329.39H914.28V334.47H899.33zM944.19 329.39H949.17V334.47H944.19zM964.13 329.39H969.11V334.47H964.13zM999.02 329.39H1004.01V334.47H999.02zM1038.9 329.39H1043.88V334.47H1038.9zM1048.87 329.39H1053.85V334.47H1048.87zM1108.68 329.39H1113.67V334.47H1108.68zM1128.62 329.39H1133.61V334.47H1128.62zM1183.45 329.39H1198.41V334.47H1183.45zM1203.39 329.39H1208.38V334.47H1203.39zM1243.27 329.39H1253.24V334.47H1243.27zM1278.16 329.39H1283.15V334.47H1278.16zM1293.12 329.39H1298.1V334.47H1293.12zM769.73 334.47H774.71V339.56H769.73zM779.7 334.47H784.68V339.56H779.7zM789.67 334.47H799.64V339.56H789.67zM934.22 334.47H939.21V339.56H934.22zM949.17 334.47H954.16V339.56H949.17zM1038.9 334.47H1043.88V339.56H1038.9zM1048.87 334.47H1063.82V339.56H1048.87zM1068.81 334.47H1078.78V339.56H1068.81zM1083.76 334.47H1088.74V339.56H1083.76zM1103.7 334.47H1108.68V339.56H1103.7zM1238.28 334.47H1243.27V339.56H1238.28zM1248.25 334.47H1253.24V339.56H1248.25zM764.74 339.56H769.73V344.64H764.74zM774.71 339.56H779.7V344.64H774.71zM784.68 339.56H794.65V344.64H784.68zM804.62 339.56H809.6V344.64H804.62zM839.51 339.56H844.5V344.64H839.51zM889.36 339.56H894.34V344.64H889.36zM924.25 339.56H934.22V344.64H924.25zM949.17 339.56H954.16V344.64H949.17zM1043.88 339.56H1048.87V344.64H1043.88zM1068.81 339.56H1073.79V344.64H1068.81zM1078.78 339.56H1083.76V344.64H1078.78zM1103.7 339.56H1108.68V344.64H1103.7zM1138.59 339.56H1143.58V344.64H1138.59zM1163.51 339.56H1168.5V344.64H1163.51zM1173.48 339.56H1178.47V344.64H1173.48zM1188.44 339.56H1193.42V344.64H1188.44zM1198.41 339.56H1208.38V344.64H1198.41zM1253.24 339.56H1258.22V344.64H1253.24zM744.8 344.64H749.79V349.73H744.8zM754.77 344.64H764.74V349.73H754.77zM804.62 344.64H809.6V349.73H804.62zM819.57 344.64H824.56V349.73H819.57zM834.53 344.64H844.5V349.73H834.53zM899.33 344.64H914.28V349.73H899.33zM919.27 344.64H924.25V349.73H919.27zM954.16 344.64H959.14V349.73H954.16zM974.1 344.64H979.08V349.73H974.1zM989.05 344.64H999.02V349.73H989.05zM1093.73 344.64H1103.7V349.73H1093.73zM1118.65 344.64H1128.62V349.73H1118.65zM1178.47 344.64H1188.44V349.73H1178.47zM1213.36 344.64H1218.35V349.73H1213.36zM1223.33 344.64H1228.31V349.73H1223.33zM1253.24 344.64H1258.22V349.73H1253.24zM1263.21 344.64H1268.19V349.73H1263.21zM744.8 349.73H754.77V354.82H744.8zM759.76 349.73H764.74V354.82H759.76zM769.73 349.73H779.7V354.82H769.73zM819.57 349.73H824.56V354.82H819.57zM834.53 349.73H844.5V354.82H834.53zM864.44 349.73H869.42V354.82H864.44zM889.36 349.73H894.34V354.82H889.36zM964.13 349.73H969.11V354.82H964.13zM999.02 349.73H1004.01V354.82H999.02zM1018.96 349.73H1028.93V354.82H1018.96zM1113.67 349.73H1118.65V354.82H1113.67zM1133.61 349.73H1148.56V354.82H1133.61zM1183.45 349.73H1188.44V354.82H1183.45zM1198.41 349.73H1208.38V354.82H1198.41zM1218.35 349.73H1223.33V354.82H1218.35zM779.7 354.82H784.68V359.9H779.7zM794.65 354.82H799.64V359.9H794.65zM949.17 354.82H954.16V359.9H949.17zM969.11 354.82H974.1V359.9H969.11zM1028.93 354.82H1033.91V359.9H1028.93zM1118.65 354.82H1128.62V359.9H1118.65zM1198.41 354.82H1203.39V359.9H1198.41zM734.83 359.9H744.8V364.99H734.83zM754.77 359.9H764.74V364.99H754.77zM774.71 359.9H779.7V364.99H774.71zM784.68 359.9H794.65V364.99H784.68zM804.62 359.9H814.59V364.99H804.62zM829.54 359.9H834.53V364.99H829.54zM854.47 359.9H859.45V364.99H854.47zM869.42 359.9H874.4V364.99H869.42zM879.39 359.9H884.37V364.99H879.39zM889.36 359.9H894.34V364.99H889.36zM934.22 359.9H939.21V364.99H934.22zM944.19 359.9H949.17V364.99H944.19zM959.14 359.9H969.11V364.99H959.14zM1018.96 359.9H1028.93V364.99H1018.96zM1108.68 359.9H1118.65V364.99H1108.68zM1153.55 359.9H1158.53V364.99H1153.55zM1178.47 359.9H1183.45V364.99H1178.47zM1198.41 359.9H1203.39V364.99H1198.41zM1218.35 359.9H1233.3V364.99H1218.35zM1243.27 359.9H1248.25V364.99H1243.27zM739.82 364.99H744.8V370.07H739.82zM754.77 364.99H759.76V370.07H754.77zM769.73 364.99H774.71V370.07H769.73zM814.59 364.99H819.57V370.07H814.59zM829.54 364.99H834.53V370.07H829.54zM879.39 364.99H889.36V370.07H879.39zM1004.01 364.99H1008.99V370.07H1004.01zM1023.94 364.99H1028.93V370.07H1023.94zM1088.74 364.99H1098.71V370.07H1088.74zM1113.67 364.99H1118.65V370.07H1113.67zM1133.61 364.99H1138.59V370.07H1133.61zM1143.58 364.99H1148.56V370.07H1143.58zM1153.55 364.99H1163.51V370.07H1153.55zM1178.47 364.99H1183.45V370.07H1178.47zM1188.44 364.99H1203.39V370.07H1188.44zM1218.35 364.99H1223.33V370.07H1218.35zM1228.31 364.99H1233.3V370.07H1228.31zM739.82 370.07H744.8V375.16H739.82zM754.77 370.07H759.76V375.16H754.77zM814.59 370.07H824.56V375.16H814.59zM829.54 370.07H844.5V375.16H829.54zM879.39 370.07H884.37V375.16H879.39zM924.25 370.07H934.22V375.16H924.25zM964.13 370.07H969.11V375.16H964.13zM994.04 370.07H999.02V375.16H994.04zM1004.01 370.07H1008.99V375.16H1004.01zM1023.94 370.07H1028.93V375.16H1023.94zM1118.65 370.07H1123.64V375.16H1118.65zM1128.62 370.07H1133.61V375.16H1128.62zM1143.58 370.07H1148.56V375.16H1143.58zM1193.42 370.07H1198.41V375.16H1193.42zM1218.35 370.07H1223.33V375.16H1218.35zM1228.31 370.07H1233.3V375.16H1228.31zM1243.27 370.07H1248.25V375.16H1243.27zM734.83 375.16H739.82V380.25H734.83zM759.76 375.16H764.74V380.25H759.76zM784.68 375.16H789.67V380.25H784.68zM804.62 375.16H809.6V380.25H804.62zM874.4 375.16H884.37V380.25H874.4zM919.27 375.16H924.25V380.25H919.27zM929.24 375.16H939.21V380.25H929.24zM949.17 375.16H954.16V380.25H949.17zM959.14 375.16H964.13V380.25H959.14zM989.05 375.16H999.02V380.25H989.05zM1098.71 375.16H1103.7V380.25H1098.71zM1108.68 375.16H1113.67V380.25H1108.68zM1178.47 375.16H1183.45V380.25H1178.47zM1188.44 375.16H1198.41V380.25H1188.44zM1203.39 375.16H1208.38V380.25H1203.39zM1213.36 375.16H1218.35V380.25H1213.36zM1273.18 375.16H1278.16V380.25H1273.18zM1288.13 375.16H1293.12V380.25H1288.13zM729.85 380.25H749.79V385.33H729.85zM764.74 380.25H769.73V385.33H764.74zM804.62 380.25H809.6V385.33H804.62zM819.57 380.25H824.56V385.33H819.57zM834.53 380.25H844.5V385.33H834.53zM864.44 380.25H869.42V385.33H864.44zM874.4 380.25H879.39V385.33H874.4zM889.36 380.25H894.34V385.33H889.36zM899.33 380.25H914.28V385.33H899.33zM924.25 380.25H939.21V385.33H924.25zM989.05 380.25H994.04V385.33H989.05zM1023.94 380.25H1033.91V385.33H1023.94zM1088.74 380.25H1098.71V385.33H1088.74zM1118.65 380.25H1123.64V385.33H1118.65zM1178.47 380.25H1193.42V385.33H1178.47zM1203.39 380.25H1208.38V385.33H1203.39zM1213.36 380.25H1223.33V385.33H1213.36zM1248.25 380.25H1253.24V385.33H1248.25zM754.77 385.33H769.73V390.42H754.77zM784.68 385.33H789.67V390.42H784.68zM794.65 385.33H799.64V390.42H794.65zM804.62 385.33H809.6V390.42H804.62zM834.53 385.33H839.51V390.42H834.53zM854.47 385.33H859.45V390.42H854.47zM889.36 385.33H894.34V390.42H889.36zM934.22 385.33H939.21V390.42H934.22zM949.17 385.33H959.14V390.42H949.17zM979.08 385.33H984.07V390.42H979.08zM1023.94 385.33H1028.93V390.42H1023.94zM1093.73 385.33H1113.67V390.42H1093.73zM1118.65 385.33H1123.64V390.42H1118.65zM1158.53 385.33H1163.51V390.42H1158.53zM1183.45 385.33H1198.41V390.42H1183.45zM1208.38 385.33H1213.36V390.42H1208.38zM1283.15 385.33H1288.13V390.42H1283.15zM749.79 390.42H759.76V395.5H749.79zM874.4 390.42H879.39V395.5H874.4zM1028.93 390.42H1033.91V395.5H1028.93zM1188.44 390.42H1193.42V395.5H1188.44zM1218.35 390.42H1233.3V395.5H1218.35zM1273.18 390.42H1278.16V395.5H1273.18zM1293.12 390.42H1298.1V395.5H1293.12zM744.8 395.5H749.79V400.59H744.8zM864.44 395.5H869.42V400.59H864.44zM874.4 395.5H879.39V400.59H874.4zM889.36 395.5H894.34V400.59H889.36zM899.33 395.5H904.31V400.59H899.33zM924.25 395.5H929.24V400.59H924.25zM934.22 395.5H939.21V400.59H934.22zM974.1 395.5H989.05V400.59H974.1zM994.04 395.5H999.02V400.59H994.04zM1023.94 395.5H1028.93V400.59H1023.94zM1123.64 395.5H1128.62V400.59H1123.64zM1188.44 395.5H1198.41V400.59H1188.44zM1203.39 395.5H1208.38V400.59H1203.39zM1213.36 395.5H1223.33V400.59H1213.36zM1233.3 395.5H1238.28V400.59H1233.3zM1278.16 395.5H1283.15V400.59H1278.16zM1293.12 395.5H1298.1V400.59H1293.12zM739.82 400.59H744.8V405.68H739.82zM754.77 400.59H759.76V405.68H754.77zM799.64 400.59H804.62V405.68H799.64zM824.56 400.59H829.54V405.68H824.56zM884.37 400.59H889.36V405.68H884.37zM904.31 400.59H909.3V405.68H904.31zM939.21 400.59H949.17V405.68H939.21zM954.16 400.59H959.14V405.68H954.16zM1053.85 400.59H1058.84V405.68H1053.85zM1068.81 400.59H1073.79V405.68H1068.81zM1098.71 400.59H1103.7V405.68H1098.71zM1128.62 400.59H1138.59V405.68H1128.62zM1188.44 400.59H1193.42V405.68H1188.44zM1198.41 400.59H1203.39V405.68H1198.41zM1223.33 400.59H1228.31V405.68H1223.33zM1273.18 400.59H1278.16V405.68H1273.18zM749.79 405.68H754.77V410.76H749.79zM769.73 405.68H784.68V410.76H769.73zM799.64 405.68H804.62V410.76H799.64zM909.3 405.68H919.27V410.76H909.3zM949.17 405.68H954.16V410.76H949.17zM1033.91 405.68H1038.9V410.76H1033.91zM1053.85 405.68H1058.84V410.76H1053.85zM1068.81 405.68H1078.78V410.76H1068.81zM1138.59 405.68H1143.58V410.76H1138.59zM1148.56 405.68H1153.55V410.76H1148.56zM1278.16 405.68H1283.15V410.76H1278.16zM904.31 410.76H909.3V415.85H904.31zM944.19 410.76H949.17V415.85H944.19zM999.02 410.76H1004.01V415.85H999.02zM1033.91 410.76H1038.9V415.85H1033.91zM1063.82 410.76H1068.81V415.85H1063.82zM1073.79 410.76H1078.78V415.85H1073.79zM1088.74 410.76H1093.73V415.85H1088.74zM1103.7 410.76H1108.68V415.85H1103.7zM1133.61 410.76H1138.59V415.85H1133.61zM1148.56 410.76H1153.55V415.85H1148.56zM1243.27 410.76H1248.25V415.85H1243.27zM1273.18 410.76H1278.16V415.85H1273.18zM734.83 415.85H739.82V420.93H734.83zM754.77 415.85H759.76V420.93H754.77zM769.73 415.85H774.71V420.93H769.73zM804.62 415.85H809.6V420.93H804.62zM854.47 415.85H859.45V420.93H854.47zM864.44 415.85H869.42V420.93H864.44zM999.02 415.85H1004.01V420.93H999.02zM1008.99 415.85H1013.97V420.93H1008.99zM1023.94 415.85H1033.91V420.93H1023.94zM1073.79 415.85H1078.78V420.93H1073.79zM1098.71 415.85H1103.7V420.93H1098.71zM1118.65 415.85H1143.58V420.93H1118.65zM1158.53 415.85H1163.51V420.93H1158.53zM1213.36 415.85H1218.35V420.93H1213.36zM1228.31 415.85H1233.3V420.93H1228.31zM1253.24 415.85H1258.22V420.93H1253.24zM1283.15 415.85H1288.13V420.93H1283.15zM1293.12 415.85H1298.1V420.93H1293.12zM734.83 420.93H739.82V426.02H734.83zM744.8 420.93H749.79V426.02H744.8zM754.77 420.93H759.76V426.02H754.77zM824.56 420.93H829.54V426.02H824.56zM839.51 420.93H844.5V426.02H839.51zM859.45 420.93H864.44V426.02H859.45zM879.39 420.93H884.37V426.02H879.39zM894.34 420.93H909.3V426.02H894.34zM949.17 420.93H954.16V426.02H949.17zM964.13 420.93H969.11V426.02H964.13zM974.1 420.93H979.08V426.02H974.1zM1008.99 420.93H1023.94V426.02H1008.99zM1048.87 420.93H1053.85V426.02H1048.87zM1063.82 420.93H1068.81V426.02H1063.82zM1073.79 420.93H1078.78V426.02H1073.79zM1128.62 420.93H1148.56V426.02H1128.62zM1218.35 420.93H1223.33V426.02H1218.35zM1243.27 420.93H1248.25V426.02H1243.27zM1273.18 420.93H1278.16V426.02H1273.18zM739.82 426.02H754.77V431.11H739.82zM779.7 426.02H784.68V431.11H779.7zM864.44 426.02H869.42V431.11H864.44zM874.4 426.02H884.37V431.11H874.4zM889.36 426.02H894.34V431.11H889.36zM909.3 426.02H914.28V431.11H909.3zM944.19 426.02H949.17V431.11H944.19zM1038.9 426.02H1043.88V431.11H1038.9zM1048.87 426.02H1058.84V431.11H1048.87zM1118.65 426.02H1138.59V431.11H1118.65zM1148.56 426.02H1153.55V431.11H1148.56zM1238.28 426.02H1248.25V431.11H1238.28zM744.8 431.11H754.77V436.19H744.8zM794.65 431.11H814.59V436.19H794.65zM824.56 431.11H829.54V436.19H824.56zM854.47 431.11H864.44V436.19H854.47zM879.39 431.11H884.37V436.19H879.39zM894.34 431.11H904.31V436.19H894.34zM909.3 431.11H914.28V436.19H909.3zM944.19 431.11H949.17V436.19H944.19zM974.1 431.11H979.08V436.19H974.1zM1008.99 431.11H1013.97V436.19H1008.99zM1033.91 431.11H1038.9V436.19H1033.91zM1043.88 431.11H1048.87V436.19H1043.88zM1058.84 431.11H1063.82V436.19H1058.84zM1068.81 431.11H1078.78V436.19H1068.81zM1103.7 431.11H1108.68V436.19H1103.7zM1113.67 431.11H1118.65V436.19H1113.67zM1128.62 431.11H1138.59V436.19H1128.62zM1153.55 431.11H1158.53V436.19H1153.55zM1163.51 431.11H1168.5V436.19H1163.51zM1228.31 431.11H1233.3V436.19H1228.31zM1243.27 431.11H1253.24V436.19H1243.27zM789.67 436.19H794.65V441.28H789.67zM809.6 436.19H824.56V441.28H809.6zM839.51 436.19H844.5V441.28H839.51zM849.48 436.19H854.47V441.28H849.48zM949.17 436.19H954.16V441.28H949.17zM959.14 436.19H974.1V441.28H959.14zM994.04 436.19H999.02V441.28H994.04zM1004.01 436.19H1008.99V441.28H1004.01zM1013.97 436.19H1018.96V441.28H1013.97zM1033.91 436.19H1038.9V441.28H1033.91zM1043.88 436.19H1048.87V441.28H1043.88zM1083.76 436.19H1088.74V441.28H1083.76zM1103.7 436.19H1108.68V441.28H1103.7zM1113.67 436.19H1118.65V441.28H1113.67zM1153.55 436.19H1178.47V441.28H1153.55zM1193.42 436.19H1198.41V441.28H1193.42zM1213.36 436.19H1218.35V441.28H1213.36zM1223.33 436.19H1228.31V441.28H1223.33zM1243.27 436.19H1253.24V441.28H1243.27zM1283.15 436.19H1288.13V441.28H1283.15zM1293.12 436.19H1298.1V441.28H1293.12zM734.83 441.28H744.8V446.36H734.83zM749.79 441.28H764.74V446.36H749.79zM809.6 441.28H814.59V446.36H809.6zM889.36 441.28H904.31V446.36H889.36zM939.21 441.28H944.19V446.36H939.21zM959.14 441.28H964.13V446.36H959.14zM969.11 441.28H974.1V446.36H969.11zM979.08 441.28H984.07V446.36H979.08zM994.04 441.28H999.02V446.36H994.04zM1004.01 441.28H1008.99V446.36H1004.01zM1018.96 441.28H1023.94V446.36H1018.96zM1058.84 441.28H1063.82V446.36H1058.84zM1088.74 441.28H1093.73V446.36H1088.74zM1103.7 441.28H1123.64V446.36H1103.7zM1233.3 441.28H1238.28V446.36H1233.3zM1248.25 441.28H1258.22V446.36H1248.25zM739.82 446.36H744.8V451.45H739.82zM754.77 446.36H759.76V451.45H754.77zM764.74 446.36H769.73V451.45H764.74zM804.62 446.36H809.6V451.45H804.62zM814.59 446.36H819.57V451.45H814.59zM834.53 446.36H839.51V451.45H834.53zM919.27 446.36H924.25V451.45H919.27zM939.21 446.36H944.19V451.45H939.21zM949.17 446.36H954.16V451.45H949.17zM959.14 446.36H974.1V451.45H959.14zM984.07 446.36H989.05V451.45H984.07zM994.04 446.36H999.02V451.45H994.04zM1013.97 446.36H1018.96V451.45H1013.97zM1038.9 446.36H1043.88V451.45H1038.9zM1053.85 446.36H1058.84V451.45H1053.85zM1088.74 446.36H1093.73V451.45H1088.74zM1098.71 446.36H1123.64V451.45H1098.71zM1178.47 446.36H1183.45V451.45H1178.47zM1248.25 446.36H1253.24V451.45H1248.25zM1258.22 446.36H1268.19V451.45H1258.22zM729.85 451.45H734.83V456.54H729.85zM749.79 451.45H754.77V456.54H749.79zM759.76 451.45H764.74V456.54H759.76zM884.37 451.45H889.36V456.54H884.37zM909.3 451.45H919.27V456.54H909.3zM939.21 451.45H944.19V456.54H939.21zM959.14 451.45H964.13V456.54H959.14zM969.11 451.45H974.1V456.54H969.11zM984.07 451.45H989.05V456.54H984.07zM1028.93 451.45H1033.91V456.54H1028.93zM1038.9 451.45H1043.88V456.54H1038.9zM1093.73 451.45H1098.71V456.54H1093.73zM1103.7 451.45H1113.67V456.54H1103.7zM1188.44 451.45H1193.42V456.54H1188.44zM1248.25 451.45H1253.24V456.54H1248.25zM1258.22 451.45H1268.19V456.54H1258.22zM729.85 456.54H734.83V461.62H729.85zM739.82 456.54H749.79V461.62H739.82zM769.73 456.54H779.7V461.62H769.73zM789.67 456.54H794.65V461.62H789.67zM804.62 456.54H809.6V461.62H804.62zM814.59 456.54H819.57V461.62H814.59zM839.51 456.54H844.5V461.62H839.51zM859.45 456.54H864.44V461.62H859.45zM869.42 456.54H879.39V461.62H869.42zM889.36 456.54H894.34V461.62H889.36zM904.31 456.54H919.27V461.62H904.31zM929.24 456.54H934.22V461.62H929.24zM949.17 456.54H954.16V461.62H949.17zM969.11 456.54H979.08V461.62H969.11zM984.07 456.54H999.02V461.62H984.07zM1038.9 456.54H1043.88V461.62H1038.9zM1053.85 456.54H1063.82V461.62H1053.85zM1108.68 456.54H1113.67V461.62H1108.68zM1193.42 456.54H1198.41V461.62H1193.42zM1288.13 456.54H1293.12V461.62H1288.13zM729.85 461.62H734.83V466.71H729.85zM739.82 461.62H749.79V466.71H739.82zM754.77 461.62H764.74V466.71H754.77zM769.73 461.62H774.71V466.71H769.73zM789.67 461.62H804.62V466.71H789.67zM849.48 461.62H859.45V466.71H849.48zM869.42 461.62H879.39V466.71H869.42zM909.3 461.62H919.27V466.71H909.3zM954.16 461.62H959.14V466.71H954.16zM969.11 461.62H974.1V466.71H969.11zM989.05 461.62H994.04V466.71H989.05zM1004.01 461.62H1008.99V466.71H1004.01zM1013.97 461.62H1018.96V466.71H1013.97zM1093.73 461.62H1103.7V466.71H1093.73zM1113.67 461.62H1118.65V466.71H1113.67zM1198.41 461.62H1208.38V466.71H1198.41zM1228.31 461.62H1233.3V466.71H1228.31zM1263.21 461.62H1273.18V466.71H1263.21zM1283.15 461.62H1293.12V466.71H1283.15zM729.85 466.71H734.83V471.79H729.85zM739.82 466.71H749.79V471.79H739.82zM769.73 466.71H774.71V471.79H769.73zM779.7 466.71H784.68V471.79H779.7zM794.65 466.71H804.62V471.79H794.65zM839.51 466.71H854.47V471.79H839.51zM954.16 466.71H964.13V471.79H954.16zM1048.87 466.71H1058.84V471.79H1048.87zM1118.65 466.71H1128.62V471.79H1118.65zM1188.44 466.71H1193.42V471.79H1188.44zM1203.39 466.71H1208.38V471.79H1203.39zM1218.35 466.71H1223.33V471.79H1218.35zM1288.13 466.71H1293.12V471.79H1288.13zM739.82 471.79H744.8V476.88H739.82zM754.77 471.79H759.76V476.88H754.77zM774.71 471.79H779.7V476.88H774.71zM789.67 471.79H794.65V476.88H789.67zM799.64 471.79H804.62V476.88H799.64zM839.51 471.79H844.5V476.88H839.51zM849.48 471.79H859.45V476.88H849.48zM889.36 471.79H894.34V476.88H889.36zM924.25 471.79H929.24V476.88H924.25zM949.17 471.79H959.14V476.88H949.17zM974.1 471.79H979.08V476.88H974.1zM984.07 471.79H989.05V476.88H984.07zM999.02 471.79H1008.99V476.88H999.02zM1053.85 471.79H1058.84V476.88H1053.85zM1073.79 471.79H1078.78V476.88H1073.79zM1103.7 471.79H1108.68V476.88H1103.7zM1123.64 471.79H1128.62V476.88H1123.64zM1218.35 471.79H1223.33V476.88H1218.35zM1228.31 471.79H1233.3V476.88H1228.31zM1283.15 471.79H1288.13V476.88H1283.15zM734.83 476.88H744.8V481.96H734.83zM749.79 476.88H754.77V481.96H749.79zM899.33 476.88H909.3V481.96H899.33zM944.19 476.88H949.17V481.96H944.19zM974.1 476.88H979.08V481.96H974.1zM999.02 476.88H1008.99V481.96H999.02zM1028.93 476.88H1033.91V481.96H1028.93zM1118.65 476.88H1128.62V481.96H1118.65zM1238.28 476.88H1243.27V481.96H1238.28zM1248.25 476.88H1253.24V481.96H1248.25zM1263.21 476.88H1268.19V481.96H1263.21zM1278.16 476.88H1283.15V481.96H1278.16zM734.83 481.96H739.82V487.05H734.83zM744.8 481.96H759.76V487.05H744.8zM814.59 481.96H819.57V487.05H814.59zM824.56 481.96H829.54V487.05H824.56zM934.22 481.96H939.21V487.05H934.22zM944.19 481.96H949.17V487.05H944.19zM999.02 481.96H1008.99V487.05H999.02zM1123.64 481.96H1128.62V487.05H1123.64zM1238.28 481.96H1243.27V487.05H1238.28zM1248.25 481.96H1253.24V487.05H1248.25zM734.83 487.05H739.82V492.14H734.83zM744.8 487.05H749.79V492.14H744.8zM754.77 487.05H759.76V492.14H754.77zM779.7 487.05H784.68V492.14H779.7zM814.59 487.05H819.57V492.14H814.59zM889.36 487.05H894.34V492.14H889.36zM904.31 487.05H914.28V492.14H904.31zM969.11 487.05H979.08V492.14H969.11zM984.07 487.05H989.05V492.14H984.07zM1004.01 487.05H1008.99V492.14H1004.01zM1028.93 487.05H1033.91V492.14H1028.93zM1123.64 487.05H1128.62V492.14H1123.64zM1233.3 487.05H1243.27V492.14H1233.3zM1253.24 487.05H1258.22V492.14H1253.24zM1293.12 487.05H1298.1V492.14H1293.12zM759.76 492.14H769.73V497.22H759.76zM799.64 492.14H809.6V497.22H799.64zM854.47 492.14H864.44V497.22H854.47zM894.34 492.14H909.3V497.22H894.34zM939.21 492.14H944.19V497.22H939.21zM1033.91 492.14H1038.9V497.22H1033.91zM1048.87 492.14H1058.84V497.22H1048.87zM1063.82 492.14H1073.79V497.22H1063.82zM1133.61 492.14H1138.59V497.22H1133.61zM1213.36 492.14H1233.3V497.22H1213.36zM1248.25 492.14H1253.24V497.22H1248.25zM754.77 497.22H769.73V502.31H754.77zM819.57 497.22H824.56V502.31H819.57zM834.53 497.22H844.5V502.31H834.53zM849.48 497.22H859.45V502.31H849.48zM874.4 497.22H884.37V502.31H874.4zM909.3 497.22H914.28V502.31H909.3zM1018.96 497.22H1023.94V502.31H1018.96zM1033.91 497.22H1043.88V502.31H1033.91zM1068.81 497.22H1078.78V502.31H1068.81zM1218.35 497.22H1233.3V502.31H1218.35zM779.7 502.31H784.68V507.39H779.7zM799.64 502.31H804.62V507.39H799.64zM819.57 502.31H829.54V507.39H819.57zM854.47 502.31H859.45V507.39H854.47zM864.44 502.31H869.42V507.39H864.44zM904.31 502.31H914.28V507.39H904.31zM944.19 502.31H949.17V507.39H944.19zM959.14 502.31H969.11V507.39H959.14zM1004.01 502.31H1008.99V507.39H1004.01zM1013.97 502.31H1023.94V507.39H1013.97zM1028.93 502.31H1033.91V507.39H1028.93zM1053.85 502.31H1058.84V507.39H1053.85zM1063.82 502.31H1093.73V507.39H1063.82zM1138.59 502.31H1143.58V507.39H1138.59zM1153.55 502.31H1158.53V507.39H1153.55zM739.82 507.39H744.8V512.48H739.82zM749.79 507.39H754.77V512.48H749.79zM819.57 507.39H829.54V512.48H819.57zM894.34 507.39H899.33V512.48H894.34zM904.31 507.39H914.28V512.48H904.31zM939.21 507.39H944.19V512.48H939.21zM959.14 507.39H964.13V512.48H959.14zM999.02 507.39H1004.01V512.48H999.02zM1008.99 507.39H1023.94V512.48H1008.99zM1053.85 507.39H1068.81V512.48H1053.85zM1073.79 507.39H1078.78V512.48H1073.79zM1083.76 507.39H1088.74V512.48H1083.76zM1123.64 507.39H1128.62V512.48H1123.64zM1143.58 507.39H1148.56V512.48H1143.58zM734.83 512.48H739.82V517.57H734.83zM749.79 512.48H759.76V517.57H749.79zM814.59 512.48H819.57V517.57H814.59zM844.5 512.48H849.48V517.57H844.5zM854.47 512.48H859.45V517.57H854.47zM879.39 512.48H889.36V517.57H879.39zM914.28 512.48H919.27V517.57H914.28zM964.13 512.48H969.11V517.57H964.13zM1028.93 512.48H1033.91V517.57H1028.93zM1038.9 512.48H1058.84V517.57H1038.9zM1088.74 512.48H1093.73V517.57H1088.74zM1148.56 512.48H1153.55V517.57H1148.56zM734.83 517.57H749.79V522.65H734.83zM754.77 517.57H759.76V522.65H754.77zM779.7 517.57H784.68V522.65H779.7zM854.47 517.57H859.45V522.65H854.47zM864.44 517.57H869.42V522.65H864.44zM879.39 517.57H889.36V522.65H879.39zM904.31 517.57H919.27V522.65H904.31zM939.21 517.57H944.19V522.65H939.21zM964.13 517.57H969.11V522.65H964.13zM1004.01 517.57H1023.94V522.65H1004.01zM1028.93 517.57H1033.91V522.65H1028.93zM1038.9 517.57H1043.88V522.65H1038.9zM1063.82 517.57H1073.79V522.65H1063.82zM1083.76 517.57H1088.74V522.65H1083.76zM1148.56 517.57H1158.53V522.65H1148.56zM1268.19 517.57H1273.18V522.65H1268.19zM899.33 522.65H904.31V527.74H899.33zM1073.79 522.65H1078.78V527.74H1073.79zM744.8 527.74H754.77V532.82H744.8zM764.74 527.74H769.73V532.82H764.74zM804.62 527.74H809.6V532.82H804.62zM909.3 527.74H914.28V532.82H909.3zM949.17 527.74H954.16V532.82H949.17zM1033.91 527.74H1038.9V532.82H1033.91zM1063.82 527.74H1073.79V532.82H1063.82zM1083.76 527.74H1088.74V532.82H1083.76zM1103.7 527.74H1108.68V532.82H1103.7zM1123.64 527.74H1128.62V532.82H1123.64zM1178.47 527.74H1183.45V532.82H1178.47zM734.83 532.82H739.82V537.91H734.83zM749.79 532.82H754.77V537.91H749.79zM759.76 532.82H764.74V537.91H759.76zM774.71 532.82H789.67V537.91H774.71zM799.64 532.82H814.59V537.91H799.64zM859.45 532.82H869.42V537.91H859.45zM904.31 532.82H909.3V537.91H904.31zM914.28 532.82H919.27V537.91H914.28zM934.22 532.82H939.21V537.91H934.22zM959.14 532.82H964.13V537.91H959.14zM969.11 532.82H979.08V537.91H969.11zM989.05 532.82H999.02V537.91H989.05zM1038.9 532.82H1043.88V537.91H1038.9zM1048.87 532.82H1063.82V537.91H1048.87zM1068.81 532.82H1073.79V537.91H1068.81zM1078.78 532.82H1088.74V537.91H1078.78zM1108.68 532.82H1113.67V537.91H1108.68zM1153.55 532.82H1163.51V537.91H1153.55zM1178.47 532.82H1188.44V537.91H1178.47zM1278.16 532.82H1283.15V537.91H1278.16zM744.8 537.91H749.79V543H744.8zM759.76 537.91H769.73V543H759.76zM774.71 537.91H784.68V543H774.71zM809.6 537.91H814.59V543H809.6zM849.48 537.91H859.45V543H849.48zM879.39 537.91H884.37V543H879.39zM909.3 537.91H914.28V543H909.3zM944.19 537.91H949.17V543H944.19zM959.14 537.91H964.13V543H959.14zM969.11 537.91H974.1V543H969.11zM984.07 537.91H994.04V543H984.07zM1033.91 537.91H1038.9V543H1033.91zM1048.87 537.91H1053.85V543H1048.87zM1078.78 537.91H1083.76V543H1078.78zM1088.74 537.91H1093.73V543H1088.74zM1123.64 537.91H1128.62V543H1123.64zM1178.47 537.91H1188.44V543H1178.47zM739.82 543H744.8V548.08H739.82zM759.76 543H764.74V548.08H759.76zM794.65 543H799.64V548.08H794.65zM824.56 543H829.54V548.08H824.56zM849.48 543H854.47V548.08H849.48zM879.39 543H889.36V548.08H879.39zM894.34 543H899.33V548.08H894.34zM904.31 543H909.3V548.08H904.31zM939.21 543H949.17V548.08H939.21zM959.14 543H964.13V548.08H959.14zM969.11 543H974.1V548.08H969.11zM984.07 543H999.02V548.08H984.07zM1004.01 543H1008.99V548.08H1004.01zM1048.87 543H1063.82V548.08H1048.87zM1078.78 543H1083.76V548.08H1078.78zM1103.7 543H1108.68V548.08H1103.7zM1118.65 543H1123.64V548.08H1118.65zM1148.56 543H1153.55V548.08H1148.56zM1158.53 543H1163.51V548.08H1158.53zM1178.47 543H1188.44V548.08H1178.47zM754.77 548.08H759.76V553.17H754.77zM849.48 548.08H854.47V553.17H849.48zM879.39 548.08H884.37V553.17H879.39zM894.34 548.08H899.33V553.17H894.34zM949.17 548.08H954.16V553.17H949.17zM1083.76 548.08H1088.74V553.17H1083.76zM1128.62 548.08H1133.61V553.17H1128.62zM1173.48 548.08H1178.47V553.17H1173.48zM1273.18 548.08H1278.16V553.17H1273.18zM749.79 553.17H759.76V558.25H749.79zM764.74 553.17H769.73V558.25H764.74zM869.42 553.17H879.39V558.25H869.42zM894.34 553.17H904.31V558.25H894.34zM954.16 553.17H959.14V558.25H954.16zM1008.99 553.17H1013.97V558.25H1008.99zM1023.94 553.17H1028.93V558.25H1023.94zM1113.67 553.17H1118.65V558.25H1113.67zM1163.51 553.17H1178.47V558.25H1163.51zM1268.19 553.17H1273.18V558.25H1268.19zM739.82 558.25H744.8V563.34H739.82zM774.71 558.25H784.68V563.34H774.71zM804.62 558.25H809.6V563.34H804.62zM824.56 558.25H829.54V563.34H824.56zM869.42 558.25H889.36V563.34H869.42zM909.3 558.25H914.28V563.34H909.3zM974.1 558.25H979.08V563.34H974.1zM999.02 558.25H1008.99V563.34H999.02zM1013.97 558.25H1023.94V563.34H1013.97zM1048.87 558.25H1053.85V563.34H1048.87zM1058.84 558.25H1063.82V563.34H1058.84zM1098.71 558.25H1103.7V563.34H1098.71zM1108.68 558.25H1128.62V563.34H1108.68zM1258.22 558.25H1263.21V563.34H1258.22zM1268.19 558.25H1278.16V563.34H1268.19zM744.8 563.34H759.76V568.43H744.8zM764.74 563.34H769.73V568.43H764.74zM884.37 563.34H889.36V568.43H884.37zM894.34 563.34H904.31V568.43H894.34zM954.16 563.34H959.14V568.43H954.16zM1013.97 563.34H1028.93V568.43H1013.97zM1068.81 563.34H1073.79V568.43H1068.81zM1118.65 563.34H1143.58V568.43H1118.65zM1163.51 563.34H1173.48V568.43H1163.51zM1178.47 563.34H1183.45V568.43H1178.47zM729.85 568.43H734.83V573.51H729.85zM759.76 568.43H764.74V573.51H759.76zM814.59 568.43H819.57V573.51H814.59zM859.45 568.43H864.44V573.51H859.45zM874.4 568.43H879.39V573.51H874.4zM889.36 568.43H894.34V573.51H889.36zM909.3 568.43H914.28V573.51H909.3zM924.25 568.43H929.24V573.51H924.25zM954.16 568.43H959.14V573.51H954.16zM999.02 568.43H1008.99V573.51H999.02zM1028.93 568.43H1038.9V573.51H1028.93zM1103.7 568.43H1108.68V573.51H1103.7zM1128.62 568.43H1133.61V573.51H1128.62zM1173.48 568.43H1178.47V573.51H1173.48zM739.82 573.51H744.8V578.6H739.82zM899.33 573.51H909.3V578.6H899.33zM1133.61 573.51H1143.58V578.6H1133.61zM1243.27 573.51H1248.25V578.6H1243.27zM734.83 578.6H749.79V583.68H734.83zM759.76 578.6H764.74V583.68H759.76zM809.6 578.6H814.59V583.68H809.6zM859.45 578.6H864.44V583.68H859.45zM899.33 578.6H914.28V583.68H899.33zM924.25 578.6H929.24V583.68H924.25zM949.17 578.6H954.16V583.68H949.17zM959.14 578.6H964.13V583.68H959.14zM974.1 578.6H979.08V583.68H974.1zM999.02 578.6H1004.01V583.68H999.02zM1033.91 578.6H1038.9V583.68H1033.91zM1133.61 578.6H1143.58V583.68H1133.61zM1148.56 578.6H1153.55V583.68H1148.56zM1163.51 578.6H1168.5V583.68H1163.51zM739.82 583.68H744.8V588.77H739.82zM804.62 583.68H809.6V588.77H804.62zM879.39 583.68H884.37V588.77H879.39zM899.33 583.68H904.31V588.77H899.33zM909.3 583.68H914.28V588.77H909.3zM954.16 583.68H959.14V588.77H954.16zM1148.56 583.68H1153.55V588.77H1148.56zM1203.39 583.68H1208.38V588.77H1203.39zM1238.28 583.68H1248.25V588.77H1238.28zM789.67 588.77H794.65V593.86H789.67zM809.6 588.77H824.56V593.86H809.6zM864.44 588.77H869.42V593.86H864.44zM884.37 588.77H889.36V593.86H884.37zM899.33 588.77H904.31V593.86H899.33zM909.3 588.77H914.28V593.86H909.3zM939.21 588.77H944.19V593.86H939.21zM969.11 588.77H974.1V593.86H969.11zM989.05 588.77H994.04V593.86H989.05zM1008.99 588.77H1013.97V593.86H1008.99zM1063.82 588.77H1068.81V593.86H1063.82zM1078.78 588.77H1083.76V593.86H1078.78zM1088.74 588.77H1093.73V593.86H1088.74zM1098.71 588.77H1103.7V593.86H1098.71zM1108.68 588.77H1113.67V593.86H1108.68zM1233.3 588.77H1238.28V593.86H1233.3zM1243.27 588.77H1248.25V593.86H1243.27zM744.8 593.86H749.79V598.94H744.8zM759.76 593.86H764.74V598.94H759.76zM789.67 593.86H799.64V598.94H789.67zM809.6 593.86H814.59V598.94H809.6zM819.57 593.86H824.56V598.94H819.57zM834.53 593.86H839.51V598.94H834.53zM864.44 593.86H869.42V598.94H864.44zM874.4 593.86H879.39V598.94H874.4zM889.36 593.86H894.34V598.94H889.36zM919.27 593.86H939.21V598.94H919.27zM944.19 593.86H949.17V598.94H944.19zM959.14 593.86H964.13V598.94H959.14zM984.07 593.86H999.02V598.94H984.07zM1004.01 593.86H1013.97V598.94H1004.01zM1018.96 593.86H1023.94V598.94H1018.96zM1083.76 593.86H1088.74V598.94H1083.76zM1093.73 593.86H1098.71V598.94H1093.73zM1163.51 593.86H1168.5V598.94H1163.51zM1218.35 593.86H1223.33V598.94H1218.35zM789.67 598.94H794.65V604.03H789.67zM814.59 598.94H824.56V604.03H814.59zM839.51 598.94H844.5V604.03H839.51zM934.22 598.94H939.21V604.03H934.22zM959.14 598.94H964.13V604.03H959.14zM974.1 598.94H979.08V604.03H974.1zM1013.97 598.94H1018.96V604.03H1013.97zM1073.79 598.94H1078.78V604.03H1073.79zM1103.7 598.94H1108.68V604.03H1103.7zM1123.64 598.94H1128.62V604.03H1123.64zM1148.56 598.94H1153.55V604.03H1148.56zM1158.53 598.94H1163.51V604.03H1158.53zM764.74 604.03H769.73V609.11H764.74zM784.68 604.03H789.67V609.11H784.68zM814.59 604.03H824.56V609.11H814.59zM839.51 604.03H844.5V609.11H839.51zM874.4 604.03H884.37V609.11H874.4zM889.36 604.03H894.34V609.11H889.36zM899.33 604.03H904.31V609.11H899.33zM924.25 604.03H929.24V609.11H924.25zM944.19 604.03H949.17V609.11H944.19zM1008.99 604.03H1013.97V609.11H1008.99zM1063.82 604.03H1068.81V609.11H1063.82zM1143.58 604.03H1158.53V609.11H1143.58zM749.79 609.11H754.77V614.2H749.79zM759.76 609.11H764.74V614.2H759.76zM794.65 609.11H799.64V614.2H794.65zM814.59 609.11H824.56V614.2H814.59zM829.54 609.11H834.53V614.2H829.54zM839.51 609.11H844.5V614.2H839.51zM874.4 609.11H879.39V614.2H874.4zM889.36 609.11H894.34V614.2H889.36zM904.31 609.11H909.3V614.2H904.31zM919.27 609.11H924.25V614.2H919.27zM949.17 609.11H959.14V614.2H949.17zM994.04 609.11H999.02V614.2H994.04zM1018.96 609.11H1023.94V614.2H1018.96zM1078.78 609.11H1088.74V614.2H1078.78zM1103.7 609.11H1108.68V614.2H1103.7zM1123.64 609.11H1128.62V614.2H1123.64zM1173.48 609.11H1178.47V614.2H1173.48z"/>
<path fill="#65a0d6" d="M784.68 34.4H794.65V39.49H784.68zM814.59 34.4H819.57V39.49H814.59zM839.51 34.4H844.5V39.49H839.51zM854.47 34.4H859.45V39.49H854.47zM914.28 34.4H919.27V39.49H914.28zM944.19 34.4H949.17V39.49H944.19zM1008.99 34.4H1023.94V39.49H1008.99zM1033.91 34.4H1038.9V39.49H1033.91zM1048.87 34.4H1058.84V39.49H1048.87zM1083.76 34.4H1088.74V39.49H1083.76zM1093.73 34.4H1098.71V39.49H1093.73zM1103.7 34.4H1108.68V39.49H1103.7zM1113.67 34.4H1123.64V39.49H1113.67zM1158.53 34.4H1163.51V39.49H1158.53zM1208.38 34.4H1213.36V39.49H1208.38zM1218.35 34.4H1228.31V39.49H1218.35zM1248.25 34.4H1253.24V39.49H1248.25zM1258.22 34.4H1263.21V39.49H1258.22zM1293.12 34.4H1298.1V39.49H1293.12zM779.7 39.49H784.68V44.57H779.7zM789.67 39.49H794.65V44.57H789.67zM824.56 39.49H829.54V44.57H824.56zM834.53 39.49H839.51V44.57H834.53zM844.5 39.49H849.48V44.57H844.5zM934.22 39.49H939.21V44.57H934.22zM984.07 39.49H989.05V44.57H984.07zM994.04 39.49H999.02V44.57H994.04zM1023.94 39.49H1033.91V44.57H1023.94zM1178.47 39.49H1188.44V44.57H1178.47zM1208.38 39.49H1213.36V44.57H1208.38zM1223.33 39.49H1228.31V44.57H1223.33zM769.73 44.57H774.71V49.66H769.73zM779.7 44.57H789.67V49.66H779.7zM824.56 44.57H829.54V49.66H824.56zM874.4 44.57H879.39V49.66H874.4zM884.37 44.57H889.36V49.66H884.37zM914.28 44.57H919.27V49.66H914.28zM989.05 44.57H999.02V49.66H989.05zM1023.94 44.57H1028.93V49.66H1023.94zM1093.73 44.57H1103.7V49.66H1093.73zM1213.36 44.57H1218.35V49.66H1213.36zM1238.28 44.57H1243.27V49.66H1238.28zM1293.12 44.57H1298.1V49.66H1293.12zM759.76 49.66H764.74V54.74H759.76zM774.71 49.66H779.7V54.74H774.71zM789.67 49.66H794.65V54.74H789.67zM874.4 49.66H889.36V54.74H874.4zM894.34 49.66H899.33V54.74H894.34zM914.28 49.66H924.25V54.74H914.28zM929.24 49.66H939.21V54.74H929.24zM1023.94 49.66H1033.91V54.74H1023.94zM1088.74 49.66H1093.73V54.74H1088.74zM1133.61 49.66H1138.59V54.74H1133.61zM1178.47 49.66H1183.45V54.74H1178.47zM1193.42 49.66H1198.41V54.74H1193.42zM774.71 54.74H779.7V59.83H774.71zM789.67 54.74H794.65V59.83H789.67zM844.5 54.74H849.48V59.83H844.5zM934.22 54.74H939.21V59.83H934.22zM964.13 54.74H969.11V59.83H964.13zM979.08 54.74H984.07V59.83H979.08zM989.05 54.74H994.04V59.83H989.05zM1028.93 54.74H1033.91V59.83H1028.93zM1098.71 54.74H1108.68V59.83H1098.71zM1208.38 54.74H1213.36V59.83H1208.38zM769.73 59.83H779.7V64.92H769.73zM799.64 59.83H804.62V64.92H799.64zM819.57 59.83H824.56V64.92H819.57zM844.5 59.83H849.48V64.92H844.5zM869.42 59.83H874.4V64.92H869.42zM894.34 59.83H899.33V64.92H894.34zM934.22 59.83H939.21V64.92H934.22zM964.13 59.83H969.11V64.92H964.13zM994.04 59.83H999.02V64.92H994.04zM1038.9 59.83H1048.87V64.92H1038.9zM744.8 64.92H749.79V70H744.8zM769.73 64.92H774.71V70H769.73zM874.4 64.92H879.39V70H874.4zM904.31 64.92H909.3V70H904.31zM919.27 64.92H924.25V70H919.27zM929.24 64.92H939.21V70H929.24zM969.11 64.92H974.1V70H969.11zM984.07 64.92H989.05V70H984.07zM1018.96 64.92H1028.93V70H1018.96zM1083.76 64.92H1088.74V70H1083.76zM1103.7 64.92H1108.68V70H1103.7zM1113.67 64.92H1123.64V70H1113.67zM1168.5 64.92H1173.48V70H1168.5zM1203.39 64.92H1208.38V70H1203.39zM1238.28 64.92H1253.24V70H1238.28zM1258.22 64.92H1263.21V70H1258.22zM939.21 70H944.19V75.09H939.21zM964.13 70H969.11V75.09H964.13zM979.08 70H984.07V75.09H979.08zM1063.82 70H1068.81V75.09H1063.82zM1078.78 70H1083.76V75.09H1078.78zM1088.74 70H1098.71V75.09H1088.74zM1188.44 70H1193.42V75.09H1188.44zM1233.3 70H1238.28V75.09H1233.3zM739.82 75.09H744.8V80.17H739.82zM754.77 75.09H764.74V80.17H754.77zM784.68 75.09H794.65V80.17H784.68zM799.64 75.09H804.62V80.17H799.64zM809.6 75.09H819.57V80.17H809.6zM869.42 75.09H874.4V80.17H869.42zM919.27 75.09H924.25V80.17H919.27zM989.05 75.09H999.02V80.17H989.05zM1008.99 75.09H1013.97V80.17H1008.99zM1043.88 75.09H1048.87V80.17H1043.88zM1118.65 75.09H1123.64V80.17H1118.65zM1133.61 75.09H1138.59V80.17H1133.61zM1173.48 75.09H1193.42V80.17H1173.48zM1213.36 75.09H1223.33V80.17H1213.36zM1233.3 75.09H1243.27V80.17H1233.3zM1248.25 75.09H1258.22V80.17H1248.25zM1283.15 75.09H1288.13V80.17H1283.15zM744.8 80.17H759.76V85.26H744.8zM794.65 80.17H799.64V85.26H794.65zM809.6 80.17H819.57V85.26H809.6zM844.5 80.17H849.48V85.26H844.5zM859.45 80.17H864.44V85.26H859.45zM969.11 80.17H974.1V85.26H969.11zM984.07 80.17H989.05V85.26H984.07zM1013.97 80.17H1018.96V85.26H1013.97zM1108.68 80.17H1113.67V85.26H1108.68zM1163.51 80.17H1168.5V85.26H1163.51zM1173.48 80.17H1178.47V85.26H1173.48zM1253.24 80.17H1258.22V85.26H1253.24zM1273.18 80.17H1278.16V85.26H1273.18zM1293.12 80.17H1298.1V85.26H1293.12zM734.83 85.26H744.8V90.35H734.83zM784.68 85.26H789.67V90.35H784.68zM819.57 85.26H824.56V90.35H819.57zM834.53 85.26H839.51V90.35H834.53zM869.42 85.26H874.4V90.35H869.42zM964.13 85.26H969.11V90.35H964.13zM979.08 85.26H984.07V90.35H979.08zM989.05 85.26H999.02V90.35H989.05zM1018.96 85.26H1023.94V90.35H1018.96zM1063.82 85.26H1068.81V90.35H1063.82zM1083.76 85.26H1088.74V90.35H1083.76zM1208.38 85.26H1218.35V90.35H1208.38zM1238.28 85.26H1243.27V90.35H1238.28zM1263.21 85.26H1268.19V90.35H1263.21zM1283.15 85.26H1298.1V90.35H1283.15zM729.85 90.35H734.83V95.43H729.85zM739.82 90.35H744.8V95.43H739.82zM769.73 90.35H774.71V95.43H769.73zM779.7 90.35H784.68V95.43H779.7zM844.5 90.35H849.48V95.43H844.5zM854.47 90.35H864.44V95.43H854.47zM869.42 90.35H874.4V95.43H869.42zM884.37 90.35H889.36V95.43H884.37zM914.28 90.35H919.27V95.43H914.28zM939.21 90.35H944.19V95.43H939.21zM964.13 90.35H969.11V95.43H964.13zM994.04 90.35H1008.99V95.43H994.04zM1013.97 90.35H1023.94V95.43H1013.97zM1043.88 90.35H1048.87V95.43H1043.88zM1098.71 90.35H1103.7V95.43H1098.71zM1163.51 90.35H1173.48V95.43H1163.51zM1228.31 90.35H1233.3V95.43H1228.31zM1283.15 90.35H1288.13V95.43H1283.15zM729.85 95.43H739.82V100.52H729.85zM744.8 95.43H754.77V100.52H744.8zM769.73 95.43H774.71V100.52H769.73zM834.53 95.43H839.51V100.52H834.53zM864.44 95.43H869.42V100.52H864.44zM919.27 95.43H924.25V100.52H919.27zM934.22 95.43H944.19V100.52H934.22zM964.13 95.43H969.11V100.52H964.13zM979.08 95.43H984.07V100.52H979.08zM994.04 95.43H999.02V100.52H994.04zM1008.99 95.43H1018.96V100.52H1008.99zM1093.73 95.43H1103.7V100.52H1093.73zM1128.62 95.43H1143.58V100.52H1128.62zM1168.5 95.43H1183.45V100.52H1168.5zM1193.42 95.43H1208.38V100.52H1193.42zM1213.36 95.43H1218.35V100.52H1213.36zM774.71 100.52H779.7V105.6H774.71zM819.57 100.52H824.56V105.6H819.57zM859.45 100.52H864.44V105.6H859.45zM894.34 100.52H899.33V105.6H894.34zM929.24 100.52H934.22V105.6H929.24zM969.11 100.52H974.1V105.6H969.11zM984.07 100.52H989.05V105.6H984.07zM994.04 100.52H1008.99V105.6H994.04zM1018.96 100.52H1023.94V105.6H1018.96zM1068.81 100.52H1073.79V105.6H1068.81zM1078.78 100.52H1083.76V105.6H1078.78zM1113.67 100.52H1118.65V105.6H1113.67zM1128.62 100.52H1133.61V105.6H1128.62zM1168.5 100.52H1178.47V105.6H1168.5zM1253.24 100.52H1258.22V105.6H1253.24zM754.77 105.6H759.76V110.69H754.77zM769.73 105.6H774.71V110.69H769.73zM819.57 105.6H824.56V110.69H819.57zM834.53 105.6H839.51V110.69H834.53zM859.45 105.6H864.44V110.69H859.45zM914.28 105.6H919.27V110.69H914.28zM929.24 105.6H934.22V110.69H929.24zM984.07 105.6H994.04V110.69H984.07zM999.02 105.6H1004.01V110.69H999.02zM1043.88 105.6H1048.87V110.69H1043.88zM1098.71 105.6H1103.7V110.69H1098.71zM1133.61 105.6H1143.58V110.69H1133.61zM1173.48 105.6H1178.47V110.69H1173.48zM1183.45 105.6H1188.44V110.69H1183.45zM1243.27 105.6H1248.25V110.69H1243.27zM1253.24 105.6H1258.22V110.69H1253.24zM839.51 110.69H844.5V115.78H839.51zM959.14 110.69H969.11V115.78H959.14zM974.1 110.69H984.07V115.78H974.1zM999.02 110.69H1004.01V115.78H999.02zM1093.73 110.69H1098.71V115.78H1093.73zM1158.53 110.69H1163.51V115.78H1158.53zM1233.3 110.69H1238.28V115.78H1233.3zM769.73 115.78H779.7V120.86H769.73zM819.57 115.78H824.56V120.86H819.57zM834.53 115.78H839.51V120.86H834.53zM884.37 115.78H889.36V120.86H884.37zM894.34 115.78H899.33V120.86H894.34zM914.28 115.78H919.27V120.86H914.28zM969.11 115.78H984.07V120.86H969.11zM1043.88 115.78H1048.87V120.86H1043.88zM1088.74 115.78H1103.7V120.86H1088.74zM1133.61 115.78H1148.56V120.86H1133.61zM1158.53 115.78H1163.51V120.86H1158.53zM1178.47 115.78H1183.45V120.86H1178.47zM1188.44 115.78H1193.42V120.86H1188.44zM1203.39 115.78H1208.38V120.86H1203.39zM1213.36 115.78H1218.35V120.86H1213.36zM1248.25 115.78H1253.24V120.86H1248.25zM1258.22 115.78H1263.21V120.86H1258.22zM729.85 120.86H734.83V125.95H729.85zM769.73 120.86H779.7V125.95H769.73zM879.39 120.86H889.36V125.95H879.39zM914.28 120.86H919.27V125.95H914.28zM959.14 120.86H964.13V125.95H959.14zM969.11 120.86H974.1V125.95H969.11zM979.08 120.86H989.05V125.95H979.08zM1028.93 120.86H1033.91V125.95H1028.93zM1043.88 120.86H1048.87V125.95H1043.88zM1088.74 120.86H1093.73V125.95H1088.74zM1103.7 120.86H1108.68V125.95H1103.7zM1128.62 120.86H1133.61V125.95H1128.62zM1148.56 120.86H1158.53V125.95H1148.56zM1188.44 120.86H1198.41V125.95H1188.44zM1208.38 120.86H1213.36V125.95H1208.38zM1233.3 120.86H1243.27V125.95H1233.3zM754.77 125.95H759.76V131.03H754.77zM779.7 125.95H784.68V131.03H779.7zM794.65 125.95H804.62V131.03H794.65zM809.6 125.95H814.59V131.03H809.6zM849.48 125.95H854.47V131.03H849.48zM869.42 125.95H884.37V131.03H869.42zM904.31 125.95H914.28V131.03H904.31zM919.27 125.95H924.25V131.03H919.27zM929.24 125.95H939.21V131.03H929.24zM964.13 125.95H969.11V131.03H964.13zM979.08 125.95H984.07V131.03H979.08zM999.02 125.95H1008.99V131.03H999.02zM1018.96 125.95H1023.94V131.03H1018.96zM1088.74 125.95H1098.71V131.03H1088.74zM1118.65 125.95H1123.64V131.03H1118.65zM1158.53 125.95H1168.5V131.03H1158.53zM1198.41 125.95H1203.39V131.03H1198.41zM1233.3 125.95H1243.27V131.03H1233.3zM1253.24 125.95H1258.22V131.03H1253.24zM734.83 131.03H744.8V136.12H734.83zM1078.78 131.03H1083.76V136.12H1078.78zM1098.71 131.03H1108.68V136.12H1098.71zM1143.58 131.03H1148.56V136.12H1143.58zM1248.25 131.03H1258.22V136.12H1248.25zM1263.21 131.03H1268.19V136.12H1263.21zM839.51 136.12H844.5V141.21H839.51zM849.48 136.12H854.47V141.21H849.48zM894.34 136.12H904.31V141.21H894.34zM919.27 136.12H929.24V141.21H919.27zM939.21 136.12H949.17V141.21H939.21zM964.13 136.12H969.11V141.21H964.13zM999.02 136.12H1004.01V141.21H999.02zM1008.99 136.12H1013.97V141.21H1008.99zM1028.93 136.12H1038.9V141.21H1028.93zM1043.88 136.12H1048.87V141.21H1043.88zM1078.78 136.12H1083.76V141.21H1078.78zM1103.7 136.12H1108.68V141.21H1103.7zM1133.61 136.12H1153.55V141.21H1133.61zM1158.53 136.12H1163.51V141.21H1158.53zM1198.41 136.12H1208.38V141.21H1198.41zM1288.13 136.12H1293.12V141.21H1288.13zM734.83 141.21H739.82V146.29H734.83zM779.7 141.21H784.68V146.29H779.7zM789.67 141.21H794.65V146.29H789.67zM799.64 141.21H804.62V146.29H799.64zM809.6 141.21H814.59V146.29H809.6zM849.48 141.21H854.47V146.29H849.48zM869.42 141.21H874.4V146.29H869.42zM929.24 141.21H934.22V146.29H929.24zM979.08 141.21H984.07V146.29H979.08zM1023.94 141.21H1028.93V146.29H1023.94zM1098.71 141.21H1123.64V146.29H1098.71zM1148.56 141.21H1153.55V146.29H1148.56zM1163.51 141.21H1173.48V146.29H1163.51zM1188.44 141.21H1203.39V146.29H1188.44zM729.85 146.29H734.83V151.38H729.85zM804.62 146.29H809.6V151.38H804.62zM829.54 146.29H834.53V151.38H829.54zM869.42 146.29H874.4V151.38H869.42zM1008.99 146.29H1013.97V151.38H1008.99zM1018.96 146.29H1023.94V151.38H1018.96zM1063.82 146.29H1068.81V151.38H1063.82zM1088.74 146.29H1108.68V151.38H1088.74zM1113.67 146.29H1118.65V151.38H1113.67zM1168.5 146.29H1173.48V151.38H1168.5zM1223.33 146.29H1228.31V151.38H1223.33zM1233.3 146.29H1238.28V151.38H1233.3zM1243.27 146.29H1248.25V151.38H1243.27zM1258.22 146.29H1263.21V151.38H1258.22zM1268.19 146.29H1273.18V151.38H1268.19zM734.83 151.38H739.82V156.46H734.83zM749.79 151.38H759.76V156.46H749.79zM774.71 151.38H779.7V156.46H774.71zM784.68 151.38H789.67V156.46H784.68zM854.47 151.38H859.45V156.46H854.47zM919.27 151.38H929.24V156.46H919.27zM969.11 151.38H979.08V156.46H969.11zM994.04 151.38H999.02V156.46H994.04zM1004.01 151.38H1008.99V156.46H1004.01zM1023.94 151.38H1028.93V156.46H1023.94zM1033.91 151.38H1038.9V156.46H1033.91zM1048.87 151.38H1053.85V156.46H1048.87zM1118.65 151.38H1123.64V156.46H1118.65zM1183.45 151.38H1188.44V156.46H1183.45zM1283.15 151.38H1288.13V156.46H1283.15zM1293.12 151.38H1298.1V156.46H1293.12zM819.57 156.46H824.56V161.55H819.57zM829.54 156.46H839.51V161.55H829.54zM894.34 156.46H899.33V161.55H894.34zM964.13 156.46H974.1V161.55H964.13zM1018.96 156.46H1023.94V161.55H1018.96zM1043.88 156.46H1048.87V161.55H1043.88zM1068.81 156.46H1078.78V161.55H1068.81zM1083.76 156.46H1093.73V161.55H1083.76zM1098.71 156.46H1103.7V161.55H1098.71zM1118.65 156.46H1123.64V161.55H1118.65zM1188.44 156.46H1193.42V161.55H1188.44zM1208.38 156.46H1223.33V161.55H1208.38zM1283.15 156.46H1298.1V161.55H1283.15zM729.85 161.55H734.83V166.64H729.85zM784.68 161.55H789.67V166.64H784.68zM844.5 161.55H849.48V166.64H844.5zM894.34 161.55H899.33V166.64H894.34zM1013.97 161.55H1018.96V166.64H1013.97zM1023.94 161.55H1028.93V166.64H1023.94zM1033.91 161.55H1038.9V166.64H1033.91zM1063.82 161.55H1073.79V166.64H1063.82zM1083.76 161.55H1088.74V166.64H1083.76zM1093.73 161.55H1103.7V166.64H1093.73zM1168.5 161.55H1173.48V166.64H1168.5zM1208.38 161.55H1213.36V166.64H1208.38zM1283.15 161.55H1293.12V166.64H1283.15zM774.71 166.64H779.7V171.72H774.71zM784.68 166.64H789.67V171.72H784.68zM794.65 166.64H804.62V171.72H794.65zM1004.01 166.64H1008.99V171.72H1004.01zM1028.93 166.64H1043.88V171.72H1028.93zM1063.82 166.64H1073.79V171.72H1063.82zM1093.73 166.64H1098.71V171.72H1093.73zM1113.67 166.64H1118.65V171.72H1113.67zM1163.51 166.64H1168.5V171.72H1163.51zM1268.19 166.64H1273.18V171.72H1268.19zM1283.15 166.64H1288.13V171.72H1283.15zM789.67 171.72H794.65V176.81H789.67zM884.37 171.72H889.36V176.81H884.37zM894.34 171.72H899.33V176.81H894.34zM1163.51 171.72H1178.47V176.81H1163.51zM1208.38 171.72H1213.36V176.81H1208.38zM1283.15 171.72H1293.12V176.81H1283.15zM754.77 176.81H759.76V181.89H754.77zM769.73 176.81H774.71V181.89H769.73zM779.7 176.81H789.67V181.89H779.7zM819.57 176.81H824.56V181.89H819.57zM834.53 176.81H844.5V181.89H834.53zM889.36 176.81H894.34V181.89H889.36zM1013.97 176.81H1018.96V181.89H1013.97zM1033.91 176.81H1038.9V181.89H1033.91zM1053.85 176.81H1058.84V181.89H1053.85zM1073.79 176.81H1078.78V181.89H1073.79zM1103.7 176.81H1118.65V181.89H1103.7zM1173.48 176.81H1178.47V181.89H1173.48zM1183.45 176.81H1203.39V181.89H1183.45zM1213.36 176.81H1223.33V181.89H1213.36zM1228.31 176.81H1233.3V181.89H1228.31zM1258.22 176.81H1263.21V181.89H1258.22zM739.82 181.89H749.79V186.98H739.82zM759.76 181.89H764.74V186.98H759.76zM819.57 181.89H824.56V186.98H819.57zM879.39 181.89H884.37V186.98H879.39zM919.27 181.89H924.25V186.98H919.27zM934.22 181.89H939.21V186.98H934.22zM1023.94 181.89H1028.93V186.98H1023.94zM1038.9 181.89H1053.85V186.98H1038.9zM1093.73 181.89H1103.7V186.98H1093.73zM1193.42 181.89H1198.41V186.98H1193.42zM1208.38 181.89H1213.36V186.98H1208.38zM1268.19 181.89H1273.18V186.98H1268.19zM744.8 186.98H749.79V192.06H744.8zM814.59 186.98H824.56V192.06H814.59zM874.4 186.98H879.39V192.06H874.4zM929.24 186.98H934.22V192.06H929.24zM969.11 186.98H974.1V192.06H969.11zM979.08 186.98H984.07V192.06H979.08zM1004.01 186.98H1008.99V192.06H1004.01zM1088.74 186.98H1093.73V192.06H1088.74zM1098.71 186.98H1103.7V192.06H1098.71zM1208.38 186.98H1213.36V192.06H1208.38zM1238.28 186.98H1243.27V192.06H1238.28zM739.82 192.06H749.79V197.15H739.82zM784.68 192.06H789.67V197.15H784.68zM809.6 192.06H819.57V197.15H809.6zM864.44 192.06H869.42V197.15H864.44zM899.33 192.06H904.31V197.15H899.33zM929.24 192.06H944.19V197.15H929.24zM954.16 192.06H959.14V197.15H954.16zM1013.97 192.06H1018.96V197.15H1013.97zM1023.94 192.06H1033.91V197.15H1023.94zM1038.9 192.06H1043.88V197.15H1038.9zM1073.79 192.06H1078.78V197.15H1073.79zM1083.76 192.06H1088.74V197.15H1083.76zM1108.68 192.06H1113.67V197.15H1108.68zM1143.58 192.06H1158.53V197.15H1143.58zM1163.51 192.06H1173.48V197.15H1163.51zM1183.45 192.06H1188.44V197.15H1183.45zM1213.36 192.06H1223.33V197.15H1213.36zM1238.28 192.06H1243.27V197.15H1238.28zM1263.21 192.06H1268.19V197.15H1263.21zM1278.16 192.06H1298.1V197.15H1278.16zM869.42 197.15H874.4V202.24H869.42zM919.27 197.15H924.25V202.24H919.27zM959.14 197.15H964.13V202.24H959.14zM1004.01 197.15H1008.99V202.24H1004.01zM1023.94 197.15H1028.93V202.24H1023.94zM1148.56 197.15H1153.55V202.24H1148.56zM1268.19 197.15H1273.18V202.24H1268.19zM744.8 202.24H749.79V207.32H744.8zM754.77 202.24H759.76V207.32H754.77zM794.65 202.24H799.64V207.32H794.65zM809.6 202.24H814.59V207.32H809.6zM829.54 202.24H834.53V207.32H829.54zM849.48 202.24H859.45V207.32H849.48zM864.44 202.24H869.42V207.32H864.44zM929.24 202.24H939.21V207.32H929.24zM1053.85 202.24H1063.82V207.32H1053.85zM1083.76 202.24H1088.74V207.32H1083.76zM1093.73 202.24H1098.71V207.32H1093.73zM1113.67 202.24H1118.65V207.32H1113.67zM1138.59 202.24H1153.55V207.32H1138.59zM1203.39 202.24H1208.38V207.32H1203.39zM1223.33 202.24H1228.31V207.32H1223.33zM1258.22 202.24H1263.21V207.32H1258.22zM1288.13 202.24H1298.1V207.32H1288.13zM829.54 207.32H834.53V212.41H829.54zM884.37 207.32H889.36V212.41H884.37zM914.28 207.32H919.27V212.41H914.28zM929.24 207.32H934.22V212.41H929.24zM1028.93 207.32H1033.91V212.41H1028.93zM1058.84 207.32H1063.82V212.41H1058.84zM1233.3 207.32H1238.28V212.41H1233.3zM759.76 212.41H764.74V217.49H759.76zM819.57 212.41H824.56V217.49H819.57zM919.27 212.41H924.25V217.49H919.27zM934.22 212.41H944.19V217.49H934.22zM979.08 212.41H984.07V217.49H979.08zM999.02 212.41H1004.01V217.49H999.02zM1048.87 212.41H1053.85V217.49H1048.87zM1058.84 212.41H1063.82V217.49H1058.84zM1073.79 212.41H1083.76V217.49H1073.79zM1208.38 212.41H1213.36V217.49H1208.38zM819.57 217.49H824.56V222.58H819.57zM919.27 217.49H924.25V222.58H919.27zM949.17 217.49H954.16V222.58H949.17zM964.13 217.49H969.11V222.58H964.13zM1028.93 217.49H1033.91V222.58H1028.93zM1038.9 217.49H1043.88V222.58H1038.9zM1058.84 217.49H1063.82V222.58H1058.84zM1233.3 217.49H1243.27V222.58H1233.3zM1248.25 217.49H1253.24V222.58H1248.25zM1288.13 217.49H1293.12V222.58H1288.13zM729.85 222.58H734.83V227.67H729.85zM739.82 222.58H749.79V227.67H739.82zM784.68 222.58H789.67V227.67H784.68zM799.64 222.58H804.62V227.67H799.64zM809.6 222.58H819.57V227.67H809.6zM899.33 222.58H904.31V227.67H899.33zM924.25 222.58H939.21V227.67H924.25zM949.17 222.58H954.16V227.67H949.17zM959.14 222.58H964.13V227.67H959.14zM969.11 222.58H979.08V227.67H969.11zM989.05 222.58H994.04V227.67H989.05zM999.02 222.58H1004.01V227.67H999.02zM1068.81 222.58H1073.79V227.67H1068.81zM1133.61 222.58H1138.59V227.67H1133.61zM1158.53 222.58H1173.48V227.67H1158.53zM1193.42 222.58H1198.41V227.67H1193.42zM1258.22 222.58H1278.16V227.67H1258.22zM744.8 227.67H749.79V232.75H744.8zM759.76 227.67H764.74V232.75H759.76zM769.73 227.67H774.71V232.75H769.73zM789.67 227.67H794.65V232.75H789.67zM819.57 227.67H824.56V232.75H819.57zM829.54 227.67H834.53V232.75H829.54zM844.5 227.67H849.48V232.75H844.5zM874.4 227.67H879.39V232.75H874.4zM889.36 227.67H894.34V232.75H889.36zM904.31 227.67H914.28V232.75H904.31zM974.1 227.67H979.08V232.75H974.1zM984.07 227.67H994.04V232.75H984.07zM1004.01 227.67H1008.99V232.75H1004.01zM1018.96 227.67H1028.93V232.75H1018.96zM1048.87 227.67H1053.85V232.75H1048.87zM1058.84 227.67H1063.82V232.75H1058.84zM1068.81 227.67H1073.79V232.75H1068.81zM1078.78 227.67H1093.73V232.75H1078.78zM1123.64 227.67H1128.62V232.75H1123.64zM1153.55 227.67H1168.5V232.75H1153.55zM1188.44 227.67H1193.42V232.75H1188.44zM1198.41 227.67H1203.39V232.75H1198.41zM1218.35 227.67H1233.3V232.75H1218.35zM1243.27 227.67H1248.25V232.75H1243.27zM1258.22 227.67H1263.21V232.75H1258.22zM1283.15 227.67H1288.13V232.75H1283.15zM829.54 232.75H834.53V237.84H829.54zM844.5 232.75H849.48V237.84H844.5zM914.28 232.75H919.27V237.84H914.28zM959.14 232.75H964.13V237.84H959.14zM969.11 232.75H974.1V237.84H969.11zM989.05 232.75H994.04V237.84H989.05zM1004.01 232.75H1008.99V237.84H1004.01zM1013.97 232.75H1028.93V237.84H1013.97zM1038.9 232.75H1053.85V237.84H1038.9zM1093.73 232.75H1098.71V237.84H1093.73zM1118.65 232.75H1123.64V237.84H1118.65zM1148.56 232.75H1158.53V237.84H1148.56zM1168.5 232.75H1178.47V237.84H1168.5zM1193.42 232.75H1198.41V237.84H1193.42zM1203.39 232.75H1213.36V237.84H1203.39zM1218.35 232.75H1233.3V237.84H1218.35zM1243.27 232.75H1248.25V237.84H1243.27zM1268.19 232.75H1273.18V237.84H1268.19zM744.8 237.84H749.79V242.92H744.8zM759.76 237.84H764.74V242.92H759.76zM794.65 237.84H804.62V242.92H794.65zM819.57 237.84H824.56V242.92H819.57zM834.53 237.84H839.51V242.92H834.53zM879.39 237.84H889.36V242.92H879.39zM894.34 237.84H904.31V242.92H894.34zM914.28 237.84H919.27V242.92H914.28zM959.14 237.84H964.13V242.92H959.14zM984.07 237.84H994.04V242.92H984.07zM1004.01 237.84H1008.99V242.92H1004.01zM1038.9 237.84H1043.88V242.92H1038.9zM1088.74 237.84H1098.71V242.92H1088.74zM1148.56 237.84H1158.53V242.92H1148.56zM1168.5 237.84H1178.47V242.92H1168.5zM1198.41 237.84H1203.39V242.92H1198.41zM1218.35 237.84H1228.31V242.92H1218.35zM1243.27 237.84H1248.25V242.92H1243.27zM1253.24 237.84H1268.19V242.92H1253.24zM734.83 242.92H739.82V248.01H734.83zM744.8 242.92H764.74V248.01H744.8zM789.67 242.92H794.65V248.01H789.67zM819.57 242.92H824.56V248.01H819.57zM874.4 242.92H879.39V248.01H874.4zM884.37 242.92H889.36V248.01H884.37zM894.34 242.92H899.33V248.01H894.34zM904.31 242.92H909.3V248.01H904.31zM914.28 242.92H919.27V248.01H914.28zM959.14 242.92H964.13V248.01H959.14zM984.07 242.92H989.05V248.01H984.07zM1038.9 242.92H1048.87V248.01H1038.9zM1103.7 242.92H1108.68V248.01H1103.7zM1113.67 242.92H1118.65V248.01H1113.67zM1158.53 242.92H1168.5V248.01H1158.53zM1188.44 242.92H1193.42V248.01H1188.44zM1203.39 242.92H1208.38V248.01H1203.39zM1263.21 242.92H1273.18V248.01H1263.21zM764.74 248.01H769.73V253.1H764.74zM784.68 248.01H794.65V253.1H784.68zM829.54 248.01H834.53V253.1H829.54zM884.37 248.01H889.36V253.1H884.37zM904.31 248.01H909.3V253.1H904.31zM969.11 248.01H979.08V253.1H969.11zM989.05 248.01H994.04V253.1H989.05zM1073.79 248.01H1078.78V253.1H1073.79zM1113.67 248.01H1123.64V253.1H1113.67zM1163.51 248.01H1173.48V253.1H1163.51zM1208.38 248.01H1218.35V253.1H1208.38zM1233.3 248.01H1243.27V253.1H1233.3zM1248.25 248.01H1258.22V253.1H1248.25zM1263.21 248.01H1268.19V253.1H1263.21zM1288.13 248.01H1293.12V253.1H1288.13zM729.85 253.1H734.83V258.18H729.85zM829.54 253.1H834.53V258.18H829.54zM964.13 253.1H969.11V258.18H964.13zM974.1 253.1H979.08V258.18H974.1zM984.07 253.1H989.05V258.18H984.07zM994.04 253.1H999.02V258.18H994.04zM1013.97 253.1H1018.96V258.18H1013.97zM1173.48 253.1H1178.47V258.18H1173.48zM1238.28 253.1H1243.27V258.18H1238.28zM1268.19 253.1H1273.18V258.18H1268.19zM909.3 258.18H919.27V263.27H909.3zM964.13 258.18H969.11V263.27H964.13zM984.07 258.18H999.02V263.27H984.07zM1013.97 258.18H1018.96V263.27H1013.97zM1078.78 258.18H1083.76V263.27H1078.78zM1148.56 258.18H1153.55V263.27H1148.56zM1258.22 258.18H1263.21V263.27H1258.22zM884.37 263.27H889.36V268.35H884.37zM1078.78 263.27H1083.76V268.35H1078.78zM1093.73 263.27H1108.68V268.35H1093.73zM804.62 268.35H809.6V273.44H804.62zM814.59 268.35H819.57V273.44H814.59zM889.36 268.35H894.34V273.44H889.36zM914.28 268.35H919.27V273.44H914.28zM924.25 268.35H939.21V273.44H924.25zM1073.79 268.35H1078.78V273.44H1073.79zM1083.76 268.35H1088.74V273.44H1083.76zM1113.67 268.35H1118.65V273.44H1113.67zM1143.58 268.35H1148.56V273.44H1143.58zM1163.51 268.35H1168.5V273.44H1163.51zM1178.47 268.35H1183.45V273.44H1178.47zM1208.38 268.35H1213.36V273.44H1208.38zM1233.3 268.35H1243.27V273.44H1233.3zM1258.22 268.35H1263.21V273.44H1258.22zM749.79 273.44H759.76V278.53H749.79zM764.74 273.44H769.73V278.53H764.74zM779.7 273.44H794.65V278.53H779.7zM804.62 273.44H809.6V278.53H804.62zM819.57 273.44H824.56V278.53H819.57zM829.54 273.44H834.53V278.53H829.54zM849.48 273.44H854.47V278.53H849.48zM909.3 273.44H914.28V278.53H909.3zM944.19 273.44H954.16V278.53H944.19zM1033.91 273.44H1038.9V278.53H1033.91zM1043.88 273.44H1048.87V278.53H1043.88zM1063.82 273.44H1068.81V278.53H1063.82zM1113.67 273.44H1118.65V278.53H1113.67zM1128.62 273.44H1133.61V278.53H1128.62zM1153.55 273.44H1163.51V278.53H1153.55zM1218.35 273.44H1233.3V278.53H1218.35zM1263.21 273.44H1273.18V278.53H1263.21zM1293.12 273.44H1298.1V278.53H1293.12zM759.76 278.53H764.74V283.61H759.76zM774.71 278.53H779.7V283.61H774.71zM794.65 278.53H799.64V283.61H794.65zM809.6 278.53H819.57V283.61H809.6zM844.5 278.53H854.47V283.61H844.5zM879.39 278.53H884.37V283.61H879.39zM914.28 278.53H919.27V283.61H914.28zM924.25 278.53H929.24V283.61H924.25zM939.21 278.53H944.19V283.61H939.21zM1028.93 278.53H1038.9V283.61H1028.93zM1083.76 278.53H1088.74V283.61H1083.76zM1103.7 278.53H1108.68V283.61H1103.7zM1113.67 278.53H1118.65V283.61H1113.67zM1153.55 278.53H1158.53V283.61H1153.55zM1178.47 278.53H1188.44V283.61H1178.47zM1208.38 278.53H1218.35V283.61H1208.38zM1248.25 278.53H1253.24V283.61H1248.25zM804.62 283.61H814.59V288.7H804.62zM844.5 283.61H849.48V288.7H844.5zM914.28 283.61H924.25V288.7H914.28zM939.21 283.61H949.17V288.7H939.21zM1028.93 283.61H1033.91V288.7H1028.93zM1068.81 283.61H1073.79V288.7H1068.81zM1088.74 283.61H1093.73V288.7H1088.74zM1098.71 283.61H1108.68V288.7H1098.71zM1183.45 283.61H1188.44V288.7H1183.45zM1208.38 283.61H1218.35V288.7H1208.38zM1293.12 283.61H1298.1V288.7H1293.12zM749.79 288.7H754.77V293.78H749.79zM764.74 288.7H769.73V293.78H764.74zM779.7 288.7H784.68V293.78H779.7zM789.67 288.7H794.65V293.78H789.67zM804.62 288.7H824.56V293.78H804.62zM834.53 288.7H839.51V293.78H834.53zM879.39 288.7H884.37V293.78H879.39zM904.31 288.7H909.3V293.78H904.31zM1028.93 288.7H1038.9V293.78H1028.93zM1053.85 288.7H1073.79V293.78H1053.85zM1143.58 288.7H1148.56V293.78H1143.58zM1153.55 288.7H1163.51V293.78H1153.55zM1198.41 288.7H1203.39V293.78H1198.41zM1213.36 288.7H1218.35V293.78H1213.36zM1243.27 288.7H1248.25V293.78H1243.27zM1253.24 288.7H1258.22V293.78H1253.24zM1273.18 288.7H1283.15V293.78H1273.18zM734.83 293.78H739.82V298.87H734.83zM759.76 293.78H764.74V298.87H759.76zM774.71 293.78H779.7V298.87H774.71zM794.65 293.78H804.62V298.87H794.65zM814.59 293.78H819.57V298.87H814.59zM919.27 293.78H924.25V298.87H919.27zM929.24 293.78H939.21V298.87H929.24zM944.19 293.78H954.16V298.87H944.19zM1043.88 293.78H1053.85V298.87H1043.88zM1078.78 293.78H1083.76V298.87H1078.78zM1088.74 293.78H1098.71V298.87H1088.74zM1123.64 293.78H1128.62V298.87H1123.64zM1148.56 293.78H1158.53V298.87H1148.56zM1163.51 293.78H1173.48V298.87H1163.51zM1203.39 293.78H1208.38V298.87H1203.39zM1248.25 293.78H1253.24V298.87H1248.25zM739.82 298.87H744.8V303.96H739.82zM749.79 298.87H754.77V303.96H749.79zM769.73 298.87H774.71V303.96H769.73zM779.7 298.87H784.68V303.96H779.7zM799.64 298.87H804.62V303.96H799.64zM914.28 298.87H934.22V303.96H914.28zM939.21 298.87H944.19V303.96H939.21zM949.17 298.87H954.16V303.96H949.17zM1023.94 298.87H1028.93V303.96H1023.94zM1053.85 298.87H1063.82V303.96H1053.85zM1078.78 298.87H1083.76V303.96H1078.78zM1088.74 298.87H1093.73V303.96H1088.74zM1118.65 298.87H1123.64V303.96H1118.65zM1168.5 298.87H1173.48V303.96H1168.5zM1183.45 298.87H1193.42V303.96H1183.45zM1198.41 298.87H1203.39V303.96H1198.41zM1208.38 298.87H1218.35V303.96H1208.38zM1233.3 298.87H1238.28V303.96H1233.3zM1253.24 298.87H1258.22V303.96H1253.24zM734.83 303.96H744.8V309.04H734.83zM754.77 303.96H759.76V309.04H754.77zM769.73 303.96H774.71V309.04H769.73zM779.7 303.96H799.64V309.04H779.7zM844.5 303.96H849.48V309.04H844.5zM944.19 303.96H954.16V309.04H944.19zM1023.94 303.96H1033.91V309.04H1023.94zM1053.85 303.96H1058.84V309.04H1053.85zM1078.78 303.96H1083.76V309.04H1078.78zM1098.71 303.96H1108.68V309.04H1098.71zM1118.65 303.96H1123.64V309.04H1118.65zM1163.51 303.96H1178.47V309.04H1163.51zM1193.42 303.96H1198.41V309.04H1193.42zM1203.39 303.96H1218.35V309.04H1203.39zM1223.33 303.96H1228.31V309.04H1223.33zM1233.3 303.96H1243.27V309.04H1233.3zM1248.25 303.96H1258.22V309.04H1248.25zM1263.21 303.96H1268.19V309.04H1263.21zM784.68 309.04H789.67V314.13H784.68zM794.65 309.04H809.6V314.13H794.65zM819.57 309.04H824.56V314.13H819.57zM829.54 309.04H834.53V314.13H829.54zM904.31 309.04H909.3V314.13H904.31zM914.28 309.04H919.27V314.13H914.28zM1023.94 309.04H1028.93V314.13H1023.94zM1043.88 309.04H1053.85V314.13H1043.88zM1058.84 309.04H1078.78V314.13H1058.84zM1083.76 309.04H1088.74V314.13H1083.76zM1093.73 309.04H1098.71V314.13H1093.73zM1178.47 309.04H1188.44V314.13H1178.47zM1228.31 309.04H1238.28V314.13H1228.31zM1248.25 309.04H1253.24V314.13H1248.25zM1258.22 309.04H1263.21V314.13H1258.22zM1273.18 309.04H1278.16V314.13H1273.18zM784.68 314.13H789.67V319.21H784.68zM794.65 314.13H799.64V319.21H794.65zM819.57 314.13H824.56V319.21H819.57zM844.5 314.13H849.48V319.21H844.5zM859.45 314.13H864.44V319.21H859.45zM879.39 314.13H884.37V319.21H879.39zM889.36 314.13H894.34V319.21H889.36zM919.27 314.13H934.22V319.21H919.27zM1023.94 314.13H1038.9V319.21H1023.94zM1043.88 314.13H1053.85V319.21H1043.88zM1073.79 314.13H1078.78V319.21H1073.79zM1083.76 314.13H1088.74V319.21H1083.76zM1183.45 314.13H1188.44V319.21H1183.45zM1233.3 314.13H1238.28V319.21H1233.3zM1283.15 314.13H1288.13V319.21H1283.15zM729.85 319.21H734.83V324.3H729.85zM769.73 319.21H774.71V324.3H769.73zM789.67 319.21H794.65V324.3H789.67zM829.54 319.21H834.53V324.3H829.54zM839.51 319.21H844.5V324.3H839.51zM1083.76 319.21H1093.73V324.3H1083.76zM1098.71 319.21H1103.7V324.3H1098.71zM1253.24 319.21H1273.18V324.3H1253.24zM1293.12 319.21H1298.1V324.3H1293.12zM729.85 324.3H734.83V329.39H729.85zM774.71 324.3H779.7V329.39H774.71zM784.68 324.3H794.65V329.39H784.68zM854.47 324.3H859.45V329.39H854.47zM869.42 324.3H874.4V329.39H869.42zM884.37 324.3H889.36V329.39H884.37zM924.25 324.3H929.24V329.39H924.25zM944.19 324.3H954.16V329.39H944.19zM1063.82 324.3H1068.81V329.39H1063.82zM1178.47 324.3H1188.44V329.39H1178.47zM1238.28 324.3H1243.27V329.39H1238.28zM1253.24 324.3H1258.22V329.39H1253.24zM1278.16 324.3H1283.15V329.39H1278.16zM1293.12 324.3H1298.1V329.39H1293.12zM729.85 329.39H734.83V334.47H729.85zM759.76 329.39H764.74V334.47H759.76zM779.7 329.39H789.67V334.47H779.7zM794.65 329.39H799.64V334.47H794.65zM819.57 329.39H824.56V334.47H819.57zM839.51 329.39H844.5V334.47H839.51zM849.48 329.39H854.47V334.47H849.48zM919.27 329.39H929.24V334.47H919.27zM1073.79 329.39H1078.78V334.47H1073.79zM1083.76 329.39H1093.73V334.47H1083.76zM1103.7 329.39H1108.68V334.47H1103.7zM1113.67 329.39H1123.64V334.47H1113.67zM1158.53 329.39H1163.51V334.47H1158.53zM1178.47 329.39H1183.45V334.47H1178.47zM1233.3 329.39H1238.28V334.47H1233.3zM1253.24 329.39H1258.22V334.47H1253.24zM1288.13 329.39H1293.12V334.47H1288.13zM734.83 334.47H749.79V339.56H734.83zM759.76 334.47H764.74V339.56H759.76zM834.53 334.47H839.51V339.56H834.53zM844.5 334.47H849.48V339.56H844.5zM854.47 334.47H859.45V339.56H854.47zM874.4 334.47H879.39V339.56H874.4zM884.37 334.47H894.34V339.56H884.37zM919.27 334.47H929.24V339.56H919.27zM989.05 334.47H1008.99V339.56H989.05zM1098.71 334.47H1103.7V339.56H1098.71zM1133.61 334.47H1138.59V339.56H1133.61zM1163.51 334.47H1168.5V339.56H1163.51zM1188.44 334.47H1193.42V339.56H1188.44zM1218.35 334.47H1223.33V339.56H1218.35zM1278.16 334.47H1283.15V339.56H1278.16zM734.83 339.56H739.82V344.64H734.83zM744.8 339.56H754.77V344.64H744.8zM814.59 339.56H819.57V344.64H814.59zM829.54 339.56H834.53V344.64H829.54zM859.45 339.56H864.44V344.64H859.45zM884.37 339.56H889.36V344.64H884.37zM899.33 339.56H904.31V344.64H899.33zM909.3 339.56H914.28V344.64H909.3zM969.11 339.56H984.07V344.64H969.11zM994.04 339.56H999.02V344.64H994.04zM1004.01 339.56H1008.99V344.64H1004.01zM1098.71 339.56H1103.7V344.64H1098.71zM1108.68 339.56H1113.67V344.64H1108.68zM1118.65 339.56H1123.64V344.64H1118.65zM1178.47 339.56H1188.44V344.64H1178.47zM1208.38 339.56H1218.35V344.64H1208.38zM1263.21 339.56H1268.19V344.64H1263.21zM729.85 344.64H734.83V349.73H729.85zM829.54 344.64H834.53V349.73H829.54zM844.5 344.64H849.48V349.73H844.5zM854.47 344.64H864.44V349.73H854.47zM869.42 344.64H874.4V349.73H869.42zM964.13 344.64H974.1V349.73H964.13zM979.08 344.64H984.07V349.73H979.08zM1004.01 344.64H1008.99V349.73H1004.01zM1108.68 344.64H1118.65V349.73H1108.68zM1148.56 344.64H1153.55V349.73H1148.56zM1208.38 344.64H1213.36V349.73H1208.38zM1268.19 344.64H1273.18V349.73H1268.19zM754.77 349.73H759.76V354.82H754.77zM859.45 349.73H864.44V354.82H859.45zM874.4 349.73H879.39V354.82H874.4zM884.37 349.73H889.36V354.82H884.37zM909.3 349.73H914.28V354.82H909.3zM924.25 349.73H939.21V354.82H924.25zM1088.74 349.73H1103.7V354.82H1088.74zM1148.56 349.73H1153.55V354.82H1148.56zM1158.53 349.73H1168.5V354.82H1158.53zM1173.48 349.73H1178.47V354.82H1173.48zM1223.33 349.73H1228.31V354.82H1223.33zM1238.28 349.73H1243.27V354.82H1238.28zM1253.24 349.73H1258.22V354.82H1253.24zM1273.18 349.73H1278.16V354.82H1273.18zM754.77 354.82H759.76V359.9H754.77zM769.73 354.82H774.71V359.9H769.73zM784.68 354.82H789.67V359.9H784.68zM799.64 354.82H804.62V359.9H799.64zM809.6 354.82H819.57V359.9H809.6zM829.54 354.82H834.53V359.9H829.54zM849.48 354.82H854.47V359.9H849.48zM874.4 354.82H879.39V359.9H874.4zM924.25 354.82H929.24V359.9H924.25zM934.22 354.82H939.21V359.9H934.22zM964.13 354.82H969.11V359.9H964.13zM984.07 354.82H989.05V359.9H984.07zM999.02 354.82H1008.99V359.9H999.02zM1103.7 354.82H1108.68V359.9H1103.7zM1113.67 354.82H1118.65V359.9H1113.67zM1133.61 354.82H1138.59V359.9H1133.61zM1143.58 354.82H1163.51V359.9H1143.58zM1213.36 354.82H1223.33V359.9H1213.36zM1228.31 354.82H1233.3V359.9H1228.31zM1248.25 354.82H1253.24V359.9H1248.25zM729.85 359.9H734.83V364.99H729.85zM844.5 359.9H849.48V364.99H844.5zM874.4 359.9H879.39V364.99H874.4zM904.31 359.9H909.3V364.99H904.31zM919.27 359.9H929.24V364.99H919.27zM984.07 359.9H989.05V364.99H984.07zM999.02 359.9H1008.99V364.99H999.02zM1093.73 359.9H1098.71V364.99H1093.73zM1103.7 359.9H1108.68V364.99H1103.7zM1148.56 359.9H1153.55V364.99H1148.56zM1168.5 359.9H1173.48V364.99H1168.5zM1208.38 359.9H1218.35V364.99H1208.38zM1233.3 359.9H1238.28V364.99H1233.3zM1263.21 359.9H1278.16V364.99H1263.21zM1283.15 359.9H1288.13V364.99H1283.15zM1293.12 359.9H1298.1V364.99H1293.12zM729.85 364.99H734.83V370.07H729.85zM869.42 364.99H874.4V370.07H869.42zM894.34 364.99H899.33V370.07H894.34zM979.08 364.99H984.07V370.07H979.08zM989.05 364.99H999.02V370.07H989.05zM1098.71 364.99H1103.7V370.07H1098.71zM1168.5 364.99H1173.48V370.07H1168.5zM1233.3 364.99H1243.27V370.07H1233.3zM1248.25 364.99H1258.22V370.07H1248.25zM1273.18 364.99H1298.1V370.07H1273.18zM894.34 370.07H914.28V375.16H894.34zM919.27 370.07H924.25V375.16H919.27zM979.08 370.07H984.07V375.16H979.08zM989.05 370.07H994.04V375.16H989.05zM999.02 370.07H1004.01V375.16H999.02zM1103.7 370.07H1108.68V375.16H1103.7zM1148.56 370.07H1153.55V375.16H1148.56zM1208.38 370.07H1213.36V375.16H1208.38zM1238.28 370.07H1243.27V375.16H1238.28zM1268.19 370.07H1273.18V375.16H1268.19zM1278.16 370.07H1283.15V375.16H1278.16zM1288.13 370.07H1298.1V375.16H1288.13zM764.74 375.16H769.73V380.25H764.74zM779.7 375.16H784.68V380.25H779.7zM839.51 375.16H844.5V380.25H839.51zM854.47 375.16H864.44V380.25H854.47zM964.13 375.16H969.11V380.25H964.13zM979.08 375.16H984.07V380.25H979.08zM999.02 375.16H1004.01V380.25H999.02zM1013.97 375.16H1018.96V380.25H1013.97zM1263.21 375.16H1268.19V380.25H1263.21zM794.65 380.25H799.64V385.33H794.65zM849.48 380.25H864.44V385.33H849.48zM914.28 380.25H924.25V385.33H914.28zM974.1 380.25H984.07V385.33H974.1zM999.02 380.25H1004.01V385.33H999.02zM1098.71 380.25H1103.7V385.33H1098.71zM1113.67 380.25H1118.65V385.33H1113.67zM1148.56 380.25H1168.5V385.33H1148.56zM1208.38 380.25H1213.36V385.33H1208.38zM1263.21 380.25H1273.18V385.33H1263.21zM849.48 385.33H854.47V390.42H849.48zM869.42 385.33H874.4V390.42H869.42zM884.37 385.33H889.36V390.42H884.37zM904.31 385.33H909.3V390.42H904.31zM939.21 385.33H944.19V390.42H939.21zM959.14 385.33H964.13V390.42H959.14zM999.02 385.33H1008.99V390.42H999.02zM1018.96 385.33H1023.94V390.42H1018.96zM1113.67 385.33H1118.65V390.42H1113.67zM1258.22 385.33H1263.21V390.42H1258.22zM764.74 390.42H769.73V395.5H764.74zM794.65 390.42H799.64V395.5H794.65zM824.56 390.42H834.53V395.5H824.56zM904.31 390.42H909.3V395.5H904.31zM919.27 390.42H924.25V395.5H919.27zM949.17 390.42H959.14V395.5H949.17zM984.07 390.42H999.02V395.5H984.07zM1088.74 390.42H1108.68V395.5H1088.74zM1148.56 390.42H1153.55V395.5H1148.56zM1158.53 390.42H1163.51V395.5H1158.53zM1178.47 390.42H1188.44V395.5H1178.47zM1203.39 390.42H1218.35V395.5H1203.39zM1253.24 390.42H1258.22V395.5H1253.24zM1288.13 390.42H1293.12V395.5H1288.13zM729.85 395.5H734.83V400.59H729.85zM759.76 395.5H764.74V400.59H759.76zM779.7 395.5H784.68V400.59H779.7zM849.48 395.5H859.45V400.59H849.48zM884.37 395.5H889.36V400.59H884.37zM894.34 395.5H899.33V400.59H894.34zM919.27 395.5H924.25V400.59H919.27zM959.14 395.5H964.13V400.59H959.14zM969.11 395.5H974.1V400.59H969.11zM999.02 395.5H1013.97V400.59H999.02zM1018.96 395.5H1023.94V400.59H1018.96zM1093.73 395.5H1098.71V400.59H1093.73zM1108.68 395.5H1118.65V400.59H1108.68zM1268.19 395.5H1273.18V400.59H1268.19zM744.8 400.59H749.79V405.68H744.8zM764.74 400.59H769.73V405.68H764.74zM809.6 400.59H824.56V405.68H809.6zM839.51 400.59H844.5V405.68H839.51zM849.48 400.59H854.47V405.68H849.48zM879.39 400.59H884.37V405.68H879.39zM919.27 400.59H924.25V405.68H919.27zM929.24 400.59H934.22V405.68H929.24zM974.1 400.59H979.08V405.68H974.1zM984.07 400.59H994.04V405.68H984.07zM1008.99 400.59H1013.97V405.68H1008.99zM1018.96 400.59H1023.94V405.68H1018.96zM1038.9 400.59H1043.88V405.68H1038.9zM1078.78 400.59H1083.76V405.68H1078.78zM1113.67 400.59H1123.64V405.68H1113.67zM1193.42 400.59H1198.41V405.68H1193.42zM1208.38 400.59H1218.35V405.68H1208.38zM1238.28 400.59H1248.25V405.68H1238.28zM1253.24 400.59H1258.22V405.68H1253.24zM1268.19 400.59H1273.18V405.68H1268.19zM1288.13 400.59H1293.12V405.68H1288.13zM729.85 405.68H734.83V410.76H729.85zM739.82 405.68H744.8V410.76H739.82zM764.74 405.68H769.73V410.76H764.74zM789.67 405.68H794.65V410.76H789.67zM804.62 405.68H814.59V410.76H804.62zM819.57 405.68H824.56V410.76H819.57zM839.51 405.68H844.5V410.76H839.51zM854.47 405.68H864.44V410.76H854.47zM874.4 405.68H879.39V410.76H874.4zM894.34 405.68H899.33V410.76H894.34zM924.25 405.68H934.22V410.76H924.25zM954.16 405.68H959.14V410.76H954.16zM984.07 405.68H989.05V410.76H984.07zM999.02 405.68H1004.01V410.76H999.02zM1038.9 405.68H1043.88V410.76H1038.9zM1048.87 405.68H1053.85V410.76H1048.87zM1078.78 405.68H1088.74V410.76H1078.78zM1098.71 405.68H1103.7V410.76H1098.71zM1133.61 405.68H1138.59V410.76H1133.61zM1188.44 405.68H1193.42V410.76H1188.44zM1198.41 405.68H1208.38V410.76H1198.41zM1218.35 405.68H1223.33V410.76H1218.35zM1243.27 405.68H1248.25V410.76H1243.27zM1253.24 405.68H1258.22V410.76H1253.24zM739.82 410.76H744.8V415.85H739.82zM749.79 410.76H754.77V415.85H749.79zM784.68 410.76H794.65V415.85H784.68zM799.64 410.76H804.62V415.85H799.64zM809.6 410.76H814.59V415.85H809.6zM824.56 410.76H829.54V415.85H824.56zM834.53 410.76H844.5V415.85H834.53zM849.48 410.76H859.45V415.85H849.48zM874.4 410.76H884.37V415.85H874.4zM954.16 410.76H959.14V415.85H954.16zM974.1 410.76H979.08V415.85H974.1zM994.04 410.76H999.02V415.85H994.04zM1008.99 410.76H1013.97V415.85H1008.99zM1023.94 410.76H1033.91V415.85H1023.94zM1038.9 410.76H1043.88V415.85H1038.9zM1053.85 410.76H1058.84V415.85H1053.85zM1068.81 410.76H1073.79V415.85H1068.81zM1078.78 410.76H1083.76V415.85H1078.78zM1093.73 410.76H1098.71V415.85H1093.73zM1118.65 410.76H1123.64V415.85H1118.65zM1128.62 410.76H1133.61V415.85H1128.62zM1168.5 410.76H1173.48V415.85H1168.5zM1193.42 410.76H1198.41V415.85H1193.42zM1208.38 410.76H1218.35V415.85H1208.38zM1253.24 410.76H1258.22V415.85H1253.24zM1288.13 410.76H1298.1V415.85H1288.13zM729.85 415.85H734.83V420.93H729.85zM749.79 415.85H754.77V420.93H749.79zM759.76 415.85H764.74V420.93H759.76zM814.59 415.85H819.57V420.93H814.59zM824.56 415.85H844.5V420.93H824.56zM869.42 415.85H874.4V420.93H869.42zM934.22 415.85H939.21V420.93H934.22zM954.16 415.85H959.14V420.93H954.16zM969.11 415.85H979.08V420.93H969.11zM994.04 415.85H999.02V420.93H994.04zM1018.96 415.85H1023.94V420.93H1018.96zM1043.88 415.85H1053.85V420.93H1043.88zM1058.84 415.85H1063.82V420.93H1058.84zM1078.78 415.85H1083.76V420.93H1078.78zM1113.67 415.85H1118.65V420.93H1113.67zM1163.51 415.85H1168.5V420.93H1163.51zM1193.42 415.85H1203.39V420.93H1193.42zM1208.38 415.85H1213.36V420.93H1208.38zM1233.3 415.85H1243.27V420.93H1233.3zM1258.22 415.85H1273.18V420.93H1258.22zM774.71 420.93H779.7V426.02H774.71zM834.53 420.93H839.51V426.02H834.53zM869.42 420.93H874.4V426.02H869.42zM884.37 420.93H889.36V426.02H884.37zM1028.93 420.93H1038.9V426.02H1028.93zM1083.76 420.93H1088.74V426.02H1083.76zM1118.65 420.93H1123.64V426.02H1118.65zM1148.56 420.93H1178.47V426.02H1148.56zM1238.28 420.93H1243.27V426.02H1238.28zM1278.16 420.93H1283.15V426.02H1278.16zM729.85 426.02H734.83V431.11H729.85zM759.76 426.02H764.74V431.11H759.76zM794.65 426.02H799.64V431.11H794.65zM834.53 426.02H844.5V431.11H834.53zM859.45 426.02H864.44V431.11H859.45zM869.42 426.02H874.4V431.11H869.42zM894.34 426.02H899.33V431.11H894.34zM934.22 426.02H944.19V431.11H934.22zM959.14 426.02H974.1V431.11H959.14zM1018.96 426.02H1023.94V431.11H1018.96zM1033.91 426.02H1038.9V431.11H1033.91zM1043.88 426.02H1048.87V431.11H1043.88zM1068.81 426.02H1078.78V431.11H1068.81zM1083.76 426.02H1093.73V431.11H1083.76zM1103.7 426.02H1108.68V431.11H1103.7zM1143.58 426.02H1148.56V431.11H1143.58zM1153.55 426.02H1168.5V431.11H1153.55zM1173.48 426.02H1178.47V431.11H1173.48zM1198.41 426.02H1203.39V431.11H1198.41zM1213.36 426.02H1223.33V431.11H1213.36zM1253.24 426.02H1258.22V431.11H1253.24zM1278.16 426.02H1283.15V431.11H1278.16zM729.85 431.11H734.83V436.19H729.85zM759.76 431.11H764.74V436.19H759.76zM769.73 431.11H774.71V436.19H769.73zM819.57 431.11H824.56V436.19H819.57zM834.53 431.11H839.51V436.19H834.53zM844.5 431.11H854.47V436.19H844.5zM924.25 431.11H929.24V436.19H924.25zM939.21 431.11H944.19V436.19H939.21zM989.05 431.11H999.02V436.19H989.05zM1018.96 431.11H1023.94V436.19H1018.96zM1028.93 431.11H1033.91V436.19H1028.93zM1088.74 431.11H1093.73V436.19H1088.74zM1098.71 431.11H1103.7V436.19H1098.71zM1108.68 431.11H1113.67V436.19H1108.68zM1168.5 431.11H1173.48V436.19H1168.5zM1188.44 431.11H1218.35V436.19H1188.44zM1288.13 431.11H1298.1V436.19H1288.13zM919.27 436.19H924.25V441.28H919.27zM984.07 436.19H989.05V441.28H984.07zM1183.45 436.19H1193.42V441.28H1183.45zM1203.39 436.19H1213.36V441.28H1203.39zM1263.21 436.19H1268.19V441.28H1263.21zM789.67 441.28H799.64V446.36H789.67zM814.59 441.28H819.57V446.36H814.59zM964.13 441.28H969.11V446.36H964.13zM1098.71 441.28H1103.7V446.36H1098.71zM1268.19 441.28H1278.16V446.36H1268.19zM1283.15 441.28H1293.12V446.36H1283.15zM744.8 446.36H749.79V451.45H744.8zM769.73 446.36H774.71V451.45H769.73zM789.67 446.36H794.65V451.45H789.67zM799.64 446.36H804.62V451.45H799.64zM809.6 446.36H814.59V451.45H809.6zM829.54 446.36H834.53V451.45H829.54zM914.28 446.36H919.27V451.45H914.28zM1023.94 446.36H1028.93V451.45H1023.94zM1043.88 446.36H1048.87V451.45H1043.88zM1093.73 446.36H1098.71V451.45H1093.73zM1278.16 446.36H1298.1V451.45H1278.16zM789.67 451.45H794.65V456.54H789.67zM799.64 451.45H804.62V456.54H799.64zM809.6 451.45H814.59V456.54H809.6zM829.54 451.45H834.53V456.54H829.54zM894.34 451.45H899.33V456.54H894.34zM1268.19 451.45H1273.18V456.54H1268.19zM1278.16 451.45H1283.15V456.54H1278.16zM1293.12 451.45H1298.1V456.54H1293.12zM809.6 456.54H814.59V461.62H809.6zM824.56 456.54H834.53V461.62H824.56zM884.37 456.54H889.36V461.62H884.37zM894.34 456.54H899.33V461.62H894.34zM959.14 456.54H964.13V461.62H959.14zM979.08 456.54H984.07V461.62H979.08zM1043.88 456.54H1048.87V461.62H1043.88zM1113.67 456.54H1118.65V461.62H1113.67zM1178.47 456.54H1183.45V461.62H1178.47zM1213.36 456.54H1218.35V461.62H1213.36zM1233.3 456.54H1243.27V461.62H1233.3zM1248.25 456.54H1253.24V461.62H1248.25zM814.59 461.62H819.57V466.71H814.59zM829.54 461.62H839.51V466.71H829.54zM884.37 461.62H899.33V466.71H884.37zM924.25 461.62H934.22V466.71H924.25zM949.17 461.62H954.16V466.71H949.17zM984.07 461.62H989.05V466.71H984.07zM1033.91 461.62H1053.85V466.71H1033.91zM1058.84 461.62H1063.82V466.71H1058.84zM1068.81 461.62H1073.79V466.71H1068.81zM1078.78 461.62H1083.76V466.71H1078.78zM1108.68 461.62H1113.67V466.71H1108.68zM1178.47 461.62H1188.44V466.71H1178.47zM1218.35 461.62H1223.33V466.71H1218.35zM1233.3 461.62H1248.25V466.71H1233.3zM814.59 466.71H819.57V471.79H814.59zM884.37 466.71H889.36V471.79H884.37zM919.27 466.71H934.22V471.79H919.27zM964.13 466.71H974.1V471.79H964.13zM979.08 466.71H989.05V471.79H979.08zM1043.88 466.71H1048.87V471.79H1043.88zM1068.81 466.71H1073.79V471.79H1068.81zM1108.68 466.71H1118.65V471.79H1108.68zM1183.45 466.71H1188.44V471.79H1183.45zM1213.36 466.71H1218.35V471.79H1213.36zM1248.25 466.71H1253.24V471.79H1248.25zM729.85 471.79H734.83V476.88H729.85zM804.62 471.79H814.59V476.88H804.62zM819.57 471.79H824.56V476.88H819.57zM829.54 471.79H834.53V476.88H829.54zM914.28 471.79H924.25V476.88H914.28zM934.22 471.79H939.21V476.88H934.22zM964.13 471.79H969.11V476.88H964.13zM979.08 471.79H984.07V476.88H979.08zM1018.96 471.79H1023.94V476.88H1018.96zM1038.9 471.79H1048.87V476.88H1038.9zM1068.81 471.79H1073.79V476.88H1068.81zM1078.78 471.79H1083.76V476.88H1078.78zM1108.68 471.79H1118.65V476.88H1108.68zM1188.44 471.79H1198.41V476.88H1188.44zM1238.28 471.79H1243.27V476.88H1238.28zM1258.22 471.79H1263.21V476.88H1258.22zM774.71 476.88H779.7V481.96H774.71zM784.68 476.88H789.67V481.96H784.68zM819.57 476.88H824.56V481.96H819.57zM834.53 476.88H839.51V481.96H834.53zM859.45 476.88H869.42V481.96H859.45zM884.37 476.88H889.36V481.96H884.37zM914.28 476.88H924.25V481.96H914.28zM934.22 476.88H944.19V481.96H934.22zM959.14 476.88H964.13V481.96H959.14zM984.07 476.88H989.05V481.96H984.07zM994.04 476.88H999.02V481.96H994.04zM1023.94 476.88H1028.93V481.96H1023.94zM1038.9 476.88H1043.88V481.96H1038.9zM1068.81 476.88H1073.79V481.96H1068.81zM1103.7 476.88H1118.65V481.96H1103.7zM1228.31 476.88H1233.3V481.96H1228.31zM1273.18 476.88H1278.16V481.96H1273.18zM1283.15 476.88H1288.13V481.96H1283.15zM1293.12 476.88H1298.1V481.96H1293.12zM759.76 481.96H764.74V487.05H759.76zM784.68 481.96H799.64V487.05H784.68zM834.53 481.96H844.5V487.05H834.53zM854.47 481.96H859.45V487.05H854.47zM864.44 481.96H869.42V487.05H864.44zM884.37 481.96H889.36V487.05H884.37zM914.28 481.96H919.27V487.05H914.28zM924.25 481.96H934.22V487.05H924.25zM939.21 481.96H944.19V487.05H939.21zM984.07 481.96H999.02V487.05H984.07zM1048.87 481.96H1058.84V487.05H1048.87zM1098.71 481.96H1103.7V487.05H1098.71zM1108.68 481.96H1113.67V487.05H1108.68zM1118.65 481.96H1123.64V487.05H1118.65zM1218.35 481.96H1223.33V487.05H1218.35zM1253.24 481.96H1263.21V487.05H1253.24zM1268.19 481.96H1273.18V487.05H1268.19zM1278.16 481.96H1283.15V487.05H1278.16zM769.73 487.05H779.7V492.14H769.73zM789.67 487.05H804.62V492.14H789.67zM864.44 487.05H874.4V492.14H864.44zM924.25 487.05H934.22V492.14H924.25zM944.19 487.05H949.17V492.14H944.19zM994.04 487.05H999.02V492.14H994.04zM1038.9 487.05H1043.88V492.14H1038.9zM1108.68 487.05H1118.65V492.14H1108.68zM1193.42 487.05H1203.39V492.14H1193.42zM1223.33 487.05H1233.3V492.14H1223.33zM1268.19 487.05H1273.18V492.14H1268.19zM1278.16 487.05H1283.15V492.14H1278.16zM734.83 492.14H739.82V497.22H734.83zM744.8 492.14H749.79V497.22H744.8zM769.73 492.14H774.71V497.22H769.73zM789.67 492.14H794.65V497.22H789.67zM809.6 492.14H814.59V497.22H809.6zM959.14 492.14H964.13V497.22H959.14zM969.11 492.14H974.1V497.22H969.11zM999.02 492.14H1004.01V497.22H999.02zM1013.97 492.14H1023.94V497.22H1013.97zM1028.93 492.14H1033.91V497.22H1028.93zM1078.78 492.14H1083.76V497.22H1078.78zM1143.58 492.14H1153.55V497.22H1143.58zM1188.44 492.14H1193.42V497.22H1188.44zM734.83 497.22H739.82V502.31H734.83zM769.73 497.22H774.71V502.31H769.73zM799.64 497.22H804.62V502.31H799.64zM844.5 497.22H849.48V502.31H844.5zM869.42 497.22H874.4V502.31H869.42zM884.37 497.22H889.36V502.31H884.37zM969.11 497.22H979.08V502.31H969.11zM989.05 497.22H994.04V502.31H989.05zM999.02 497.22H1008.99V502.31H999.02zM1013.97 497.22H1018.96V502.31H1013.97zM1028.93 497.22H1033.91V502.31H1028.93zM1078.78 497.22H1083.76V502.31H1078.78zM1123.64 497.22H1128.62V502.31H1123.64zM1148.56 497.22H1158.53V502.31H1148.56zM1193.42 497.22H1198.41V502.31H1193.42zM1208.38 497.22H1213.36V502.31H1208.38zM1248.25 497.22H1253.24V502.31H1248.25zM764.74 502.31H774.71V507.39H764.74zM809.6 502.31H819.57V507.39H809.6zM834.53 502.31H839.51V507.39H834.53zM849.48 502.31H854.47V507.39H849.48zM869.42 502.31H874.4V507.39H869.42zM919.27 502.31H924.25V507.39H919.27zM934.22 502.31H939.21V507.39H934.22zM989.05 502.31H994.04V507.39H989.05zM1023.94 502.31H1028.93V507.39H1023.94zM1093.73 502.31H1098.71V507.39H1093.73zM1118.65 502.31H1128.62V507.39H1118.65zM1158.53 502.31H1163.51V507.39H1158.53zM1178.47 502.31H1183.45V507.39H1178.47zM744.8 507.39H749.79V512.48H744.8zM789.67 507.39H794.65V512.48H789.67zM814.59 507.39H819.57V512.48H814.59zM834.53 507.39H839.51V512.48H834.53zM869.42 507.39H879.39V512.48H869.42zM914.28 507.39H919.27V512.48H914.28zM924.25 507.39H929.24V512.48H924.25zM994.04 507.39H999.02V512.48H994.04zM1088.74 507.39H1093.73V512.48H1088.74zM1098.71 507.39H1108.68V512.48H1098.71zM1118.65 507.39H1123.64V512.48H1118.65zM1158.53 507.39H1163.51V512.48H1158.53zM1173.48 507.39H1178.47V512.48H1173.48zM1183.45 507.39H1188.44V512.48H1183.45zM789.67 512.48H794.65V517.57H789.67zM819.57 512.48H824.56V517.57H819.57zM829.54 512.48H839.51V517.57H829.54zM869.42 512.48H874.4V517.57H869.42zM919.27 512.48H924.25V517.57H919.27zM929.24 512.48H934.22V517.57H929.24zM979.08 512.48H984.07V517.57H979.08zM989.05 512.48H994.04V517.57H989.05zM1093.73 512.48H1098.71V517.57H1093.73zM1103.7 512.48H1108.68V517.57H1103.7zM1113.67 512.48H1123.64V517.57H1113.67zM1173.48 512.48H1178.47V517.57H1173.48zM759.76 517.57H764.74V522.65H759.76zM789.67 517.57H794.65V522.65H789.67zM809.6 517.57H814.59V522.65H809.6zM829.54 517.57H834.53V522.65H829.54zM894.34 517.57H899.33V522.65H894.34zM924.25 517.57H929.24V522.65H924.25zM934.22 517.57H939.21V522.65H934.22zM984.07 517.57H989.05V522.65H984.07zM994.04 517.57H999.02V522.65H994.04zM1078.78 517.57H1083.76V522.65H1078.78zM1093.73 517.57H1098.71V522.65H1093.73zM1118.65 517.57H1128.62V522.65H1118.65zM729.85 522.65H739.82V527.74H729.85zM749.79 522.65H754.77V527.74H749.79zM779.7 522.65H784.68V527.74H779.7zM814.59 522.65H819.57V527.74H814.59zM849.48 522.65H859.45V527.74H849.48zM864.44 522.65H869.42V527.74H864.44zM874.4 522.65H884.37V527.74H874.4zM904.31 522.65H909.3V527.74H904.31zM924.25 522.65H929.24V527.74H924.25zM939.21 522.65H944.19V527.74H939.21zM959.14 522.65H964.13V527.74H959.14zM969.11 522.65H979.08V527.74H969.11zM989.05 522.65H999.02V527.74H989.05zM1028.93 522.65H1038.9V527.74H1028.93zM1048.87 522.65H1053.85V527.74H1048.87zM1058.84 522.65H1063.82V527.74H1058.84zM1068.81 522.65H1073.79V527.74H1068.81zM1078.78 522.65H1083.76V527.74H1078.78zM1088.74 522.65H1093.73V527.74H1088.74zM1098.71 522.65H1108.68V527.74H1098.71zM1118.65 522.65H1128.62V527.74H1118.65zM1183.45 522.65H1188.44V527.74H1183.45zM739.82 527.74H744.8V532.82H739.82zM769.73 527.74H774.71V532.82H769.73zM779.7 527.74H784.68V532.82H779.7zM789.67 527.74H794.65V532.82H789.67zM809.6 527.74H814.59V532.82H809.6zM849.48 527.74H854.47V532.82H849.48zM869.42 527.74H874.4V532.82H869.42zM884.37 527.74H889.36V532.82H884.37zM939.21 527.74H944.19V532.82H939.21zM969.11 527.74H984.07V532.82H969.11zM989.05 527.74H999.02V532.82H989.05zM1028.93 527.74H1033.91V532.82H1028.93zM1043.88 527.74H1053.85V532.82H1043.88zM1078.78 527.74H1083.76V532.82H1078.78zM1088.74 527.74H1093.73V532.82H1088.74zM1098.71 527.74H1103.7V532.82H1098.71zM1113.67 527.74H1123.64V532.82H1113.67zM1143.58 527.74H1148.56V532.82H1143.58zM1153.55 527.74H1158.53V532.82H1153.55zM1253.24 527.74H1258.22V532.82H1253.24zM1268.19 527.74H1273.18V532.82H1268.19zM1283.15 527.74H1288.13V532.82H1283.15zM729.85 532.82H734.83V537.91H729.85zM769.73 532.82H774.71V537.91H769.73zM849.48 532.82H854.47V537.91H849.48zM869.42 532.82H874.4V537.91H869.42zM884.37 532.82H889.36V537.91H884.37zM919.27 532.82H934.22V537.91H919.27zM964.13 532.82H969.11V537.91H964.13zM1023.94 532.82H1028.93V537.91H1023.94zM1043.88 532.82H1048.87V537.91H1043.88zM1093.73 532.82H1098.71V537.91H1093.73zM1113.67 532.82H1118.65V537.91H1113.67zM1148.56 532.82H1153.55V537.91H1148.56zM1168.5 532.82H1173.48V537.91H1168.5zM729.85 537.91H739.82V543H729.85zM839.51 537.91H844.5V543H839.51zM894.34 537.91H899.33V543H894.34zM919.27 537.91H934.22V543H919.27zM964.13 537.91H969.11V543H964.13zM994.04 537.91H999.02V543H994.04zM1038.9 537.91H1043.88V543H1038.9zM1173.48 537.91H1178.47V543H1173.48zM784.68 543H789.67V548.08H784.68zM869.42 543H874.4V548.08H869.42zM919.27 543H929.24V548.08H919.27zM964.13 543H969.11V548.08H964.13zM999.02 543H1004.01V548.08H999.02zM1043.88 543H1048.87V548.08H1043.88zM1163.51 543H1168.5V548.08H1163.51zM1173.48 543H1178.47V548.08H1173.48zM764.74 548.08H774.71V553.17H764.74zM804.62 548.08H809.6V553.17H804.62zM814.59 548.08H824.56V553.17H814.59zM839.51 548.08H844.5V553.17H839.51zM899.33 548.08H904.31V553.17H899.33zM909.3 548.08H914.28V553.17H909.3zM939.21 548.08H944.19V553.17H939.21zM959.14 548.08H964.13V553.17H959.14zM989.05 548.08H1008.99V553.17H989.05zM1018.96 548.08H1023.94V553.17H1018.96zM1048.87 548.08H1058.84V553.17H1048.87zM1103.7 548.08H1108.68V553.17H1103.7zM1143.58 548.08H1153.55V553.17H1143.58zM1258.22 548.08H1263.21V553.17H1258.22zM739.82 553.17H744.8V558.25H739.82zM759.76 553.17H764.74V558.25H759.76zM769.73 553.17H774.71V558.25H769.73zM779.7 553.17H784.68V558.25H779.7zM814.59 553.17H824.56V558.25H814.59zM879.39 553.17H889.36V558.25H879.39zM909.3 553.17H914.28V558.25H909.3zM939.21 553.17H949.17V558.25H939.21zM959.14 553.17H964.13V558.25H959.14zM994.04 553.17H999.02V558.25H994.04zM1013.97 553.17H1018.96V558.25H1013.97zM1038.9 553.17H1043.88V558.25H1038.9zM1053.85 553.17H1063.82V558.25H1053.85zM1088.74 553.17H1093.73V558.25H1088.74zM1103.7 553.17H1113.67V558.25H1103.7zM1143.58 553.17H1153.55V558.25H1143.58zM1158.53 553.17H1163.51V558.25H1158.53zM1278.16 553.17H1283.15V558.25H1278.16zM1293.12 553.17H1298.1V558.25H1293.12zM759.76 558.25H764.74V563.34H759.76zM799.64 558.25H804.62V563.34H799.64zM839.51 558.25H844.5V563.34H839.51zM919.27 558.25H934.22V563.34H919.27zM979.08 558.25H984.07V563.34H979.08zM1088.74 558.25H1098.71V563.34H1088.74zM1148.56 558.25H1153.55V563.34H1148.56zM729.85 563.34H734.83V568.43H729.85zM759.76 563.34H764.74V568.43H759.76zM769.73 563.34H774.71V568.43H769.73zM809.6 563.34H814.59V568.43H809.6zM824.56 563.34H829.54V568.43H824.56zM909.3 563.34H914.28V568.43H909.3zM939.21 563.34H944.19V568.43H939.21zM969.11 563.34H974.1V568.43H969.11zM984.07 563.34H989.05V568.43H984.07zM994.04 563.34H1004.01V568.43H994.04zM1043.88 563.34H1048.87V568.43H1043.88zM1053.85 563.34H1058.84V568.43H1053.85zM1143.58 563.34H1148.56V568.43H1143.58zM1153.55 563.34H1158.53V568.43H1153.55zM1183.45 563.34H1188.44V568.43H1183.45zM1258.22 563.34H1263.21V568.43H1258.22zM769.73 568.43H779.7V573.51H769.73zM794.65 568.43H804.62V573.51H794.65zM819.57 568.43H829.54V573.51H819.57zM929.24 568.43H934.22V573.51H929.24zM939.21 568.43H944.19V573.51H939.21zM979.08 568.43H984.07V573.51H979.08zM989.05 568.43H999.02V573.51H989.05zM1008.99 568.43H1023.94V573.51H1008.99zM1038.9 568.43H1043.88V573.51H1038.9zM1053.85 568.43H1058.84V573.51H1053.85zM1078.78 568.43H1083.76V573.51H1078.78zM1088.74 568.43H1103.7V573.51H1088.74zM1113.67 568.43H1118.65V573.51H1113.67zM1168.5 568.43H1173.48V573.51H1168.5zM1213.36 568.43H1218.35V573.51H1213.36zM729.85 573.51H734.83V578.6H729.85zM759.76 573.51H764.74V578.6H759.76zM809.6 573.51H814.59V578.6H809.6zM839.51 573.51H844.5V578.6H839.51zM869.42 573.51H874.4V578.6H869.42zM894.34 573.51H899.33V578.6H894.34zM914.28 573.51H924.25V578.6H914.28zM929.24 573.51H934.22V578.6H929.24zM949.17 573.51H954.16V578.6H949.17zM959.14 573.51H964.13V578.6H959.14zM999.02 573.51H1004.01V578.6H999.02zM1008.99 573.51H1013.97V578.6H1008.99zM1073.79 573.51H1078.78V578.6H1073.79zM1103.7 573.51H1108.68V578.6H1103.7zM1158.53 573.51H1163.51V578.6H1158.53zM1168.5 573.51H1173.48V578.6H1168.5zM1233.3 573.51H1238.28V578.6H1233.3zM1248.25 573.51H1253.24V578.6H1248.25zM779.7 578.6H784.68V583.68H779.7zM824.56 578.6H829.54V583.68H824.56zM884.37 578.6H889.36V583.68H884.37zM914.28 578.6H919.27V583.68H914.28zM929.24 578.6H944.19V583.68H929.24zM964.13 578.6H969.11V583.68H964.13zM994.04 578.6H999.02V583.68H994.04zM1008.99 578.6H1013.97V583.68H1008.99zM1028.93 578.6H1033.91V583.68H1028.93zM1048.87 578.6H1053.85V583.68H1048.87zM1063.82 578.6H1073.79V583.68H1063.82zM1103.7 578.6H1108.68V583.68H1103.7zM1123.64 578.6H1128.62V583.68H1123.64zM839.51 583.68H844.5V588.77H839.51zM859.45 583.68H864.44V588.77H859.45zM874.4 583.68H879.39V588.77H874.4zM889.36 583.68H894.34V588.77H889.36zM914.28 583.68H919.27V588.77H914.28zM924.25 583.68H929.24V588.77H924.25zM934.22 583.68H939.21V588.77H934.22zM944.19 583.68H949.17V588.77H944.19zM964.13 583.68H969.11V588.77H964.13zM1008.99 583.68H1013.97V588.77H1008.99zM1033.91 583.68H1038.9V588.77H1033.91zM1048.87 583.68H1053.85V588.77H1048.87zM1058.84 583.68H1063.82V588.77H1058.84zM1068.81 583.68H1073.79V588.77H1068.81zM1083.76 583.68H1093.73V588.77H1083.76zM1103.7 583.68H1108.68V588.77H1103.7zM1128.62 583.68H1133.61V588.77H1128.62zM1138.59 583.68H1143.58V588.77H1138.59zM1168.5 583.68H1178.47V588.77H1168.5zM1213.36 583.68H1218.35V588.77H1213.36zM774.71 588.77H779.7V593.86H774.71zM914.28 588.77H919.27V593.86H914.28zM979.08 588.77H984.07V593.86H979.08zM999.02 588.77H1004.01V593.86H999.02zM1038.9 588.77H1043.88V593.86H1038.9zM1048.87 588.77H1058.84V593.86H1048.87zM1128.62 588.77H1133.61V593.86H1128.62zM1163.51 588.77H1168.5V593.86H1163.51zM884.37 593.86H889.36V598.94H884.37zM979.08 593.86H984.07V598.94H979.08zM1013.97 593.86H1018.96V598.94H1013.97zM1023.94 593.86H1028.93V598.94H1023.94zM1053.85 593.86H1063.82V598.94H1053.85zM1108.68 593.86H1118.65V598.94H1108.68zM1133.61 593.86H1143.58V598.94H1133.61zM1168.5 593.86H1178.47V598.94H1168.5zM1238.28 593.86H1243.27V598.94H1238.28zM769.73 598.94H774.71V604.03H769.73zM779.7 598.94H789.67V604.03H779.7zM844.5 598.94H869.42V604.03H844.5zM884.37 598.94H889.36V604.03H884.37zM919.27 598.94H924.25V604.03H919.27zM1004.01 598.94H1008.99V604.03H1004.01zM1048.87 598.94H1058.84V604.03H1048.87zM1128.62 598.94H1138.59V604.03H1128.62zM1163.51 598.94H1168.5V604.03H1163.51zM1213.36 598.94H1218.35V604.03H1213.36zM779.7 604.03H784.68V609.11H779.7zM829.54 604.03H834.53V609.11H829.54zM849.48 604.03H859.45V609.11H849.48zM864.44 604.03H869.42V609.11H864.44zM884.37 604.03H889.36V609.11H884.37zM894.34 604.03H899.33V609.11H894.34zM909.3 604.03H914.28V609.11H909.3zM939.21 604.03H944.19V609.11H939.21zM1018.96 604.03H1023.94V609.11H1018.96zM1053.85 604.03H1063.82V609.11H1053.85zM1078.78 604.03H1083.76V609.11H1078.78zM1088.74 604.03H1093.73V609.11H1088.74zM1098.71 604.03H1103.7V609.11H1098.71zM1118.65 604.03H1123.64V609.11H1118.65zM1128.62 604.03H1138.59V609.11H1128.62zM729.85 609.11H734.83V614.2H729.85zM739.82 609.11H744.8V614.2H739.82zM774.71 609.11H784.68V614.2H774.71zM844.5 609.11H854.47V614.2H844.5zM884.37 609.11H889.36V614.2H884.37zM894.34 609.11H899.33V614.2H894.34zM964.13 609.11H969.11V614.2H964.13zM974.1 609.11H979.08V614.2H974.1zM1008.99 609.11H1018.96V614.2H1008.99zM1048.87 609.11H1063.82V614.2H1048.87zM1098.71 609.11H1103.7V614.2H1098.71zM1118.65 609.11H1123.64V614.2H1118.65zM1133.61 609.11H1143.58V614.2H1133.61zM1163.51 609.11H1168.5V614.2H1163.51zM1238.28 609.11H1243.27V614.2H1238.28z"/>
<path fill="#6ca4d8" d="M774.71 34.4H779.7V39.49H774.71zM824.56 34.4H829.54V39.49H824.56zM849.48 34.4H854.47V39.49H849.48zM874.4 34.4H879.39V39.49H874.4zM884.37 34.4H889.36V39.49H884.37zM894.34 34.4H899.33V39.49H894.34zM924.25 34.4H929.24V39.49H924.25zM964.13 34.4H969.11V39.49H964.13zM984.07 34.4H989.05V39.49H984.07zM994.04 34.4H999.02V39.49H994.04zM1023.94 34.4H1033.91V39.49H1023.94zM1038.9 34.4H1043.88V39.49H1038.9zM1078.78 34.4H1083.76V39.49H1078.78zM1178.47 34.4H1183.45V39.49H1178.47zM1193.42 34.4H1198.41V39.49H1193.42zM1203.39 34.4H1208.38V39.49H1203.39zM1213.36 34.4H1218.35V39.49H1213.36zM1233.3 34.4H1238.28V39.49H1233.3zM769.73 39.49H779.7V44.57H769.73zM819.57 39.49H824.56V44.57H819.57zM919.27 39.49H929.24V44.57H919.27zM1098.71 39.49H1103.7V44.57H1098.71zM774.71 44.57H779.7V49.66H774.71zM799.64 44.57H804.62V49.66H799.64zM819.57 44.57H824.56V49.66H819.57zM829.54 44.57H839.51V49.66H829.54zM844.5 44.57H849.48V49.66H844.5zM924.25 44.57H939.21V49.66H924.25zM964.13 44.57H969.11V49.66H964.13zM984.07 44.57H989.05V49.66H984.07zM1208.38 44.57H1213.36V49.66H1208.38zM769.73 49.66H774.71V54.74H769.73zM794.65 49.66H804.62V54.74H794.65zM824.56 49.66H829.54V54.74H824.56zM834.53 49.66H839.51V54.74H834.53zM924.25 49.66H929.24V54.74H924.25zM939.21 49.66H944.19V54.74H939.21zM964.13 49.66H969.11V54.74H964.13zM979.08 49.66H999.02V54.74H979.08zM1093.73 49.66H1098.71V54.74H1093.73zM1208.38 49.66H1213.36V54.74H1208.38zM819.57 54.74H824.56V59.83H819.57zM834.53 54.74H839.51V59.83H834.53zM919.27 54.74H924.25V59.83H919.27zM1278.16 54.74H1283.15V59.83H1278.16zM829.54 59.83H839.51V64.92H829.54zM884.37 59.83H889.36V64.92H884.37zM919.27 59.83H934.22V64.92H919.27zM984.07 59.83H994.04V64.92H984.07zM1093.73 59.83H1098.71V64.92H1093.73zM1178.47 59.83H1183.45V64.92H1178.47zM1208.38 59.83H1213.36V64.92H1208.38zM829.54 64.92H834.53V70H829.54zM914.28 64.92H919.27V70H914.28zM939.21 64.92H944.19V70H939.21zM964.13 64.92H969.11V70H964.13zM979.08 64.92H984.07V70H979.08zM994.04 64.92H999.02V70H994.04zM1013.97 64.92H1018.96V70H1013.97zM1078.78 64.92H1083.76V70H1078.78zM1088.74 64.92H1093.73V70H1088.74zM1108.68 64.92H1113.67V70H1108.68zM1163.51 64.92H1168.5V70H1163.51zM1173.48 64.92H1178.47V70H1173.48zM1193.42 64.92H1203.39V70H1193.42zM1098.71 70H1103.7V75.09H1098.71zM734.83 75.09H739.82V80.17H734.83zM744.8 75.09H749.79V80.17H744.8zM794.65 75.09H799.64V80.17H794.65zM824.56 75.09H829.54V80.17H824.56zM834.53 75.09H839.51V80.17H834.53zM959.14 75.09H964.13V80.17H959.14zM974.1 75.09H979.08V80.17H974.1zM984.07 75.09H989.05V80.17H984.07zM1018.96 75.09H1023.94V80.17H1018.96zM1063.82 75.09H1068.81V80.17H1063.82zM1073.79 75.09H1078.78V80.17H1073.79zM1083.76 75.09H1088.74V80.17H1083.76zM1208.38 75.09H1213.36V80.17H1208.38zM1263.21 75.09H1268.19V80.17H1263.21zM1288.13 75.09H1298.1V80.17H1288.13zM729.85 80.17H744.8V85.26H729.85zM824.56 80.17H829.54V85.26H824.56zM834.53 80.17H839.51V85.26H834.53zM889.36 80.17H894.34V85.26H889.36zM994.04 80.17H999.02V85.26H994.04zM1063.82 80.17H1068.81V85.26H1063.82zM1073.79 80.17H1078.78V85.26H1073.79zM1083.76 80.17H1088.74V85.26H1083.76zM1168.5 80.17H1173.48V85.26H1168.5zM1203.39 80.17H1218.35V85.26H1203.39zM1233.3 80.17H1238.28V85.26H1233.3zM1283.15 80.17H1293.12V85.26H1283.15zM829.54 85.26H834.53V90.35H829.54zM904.31 85.26H909.3V90.35H904.31zM1068.81 85.26H1073.79V90.35H1068.81zM1078.78 85.26H1083.76V90.35H1078.78zM1168.5 85.26H1173.48V90.35H1168.5zM1268.19 85.26H1273.18V90.35H1268.19zM919.27 90.35H924.25V95.43H919.27zM1078.78 90.35H1083.76V95.43H1078.78zM1208.38 90.35H1218.35V95.43H1208.38zM1243.27 90.35H1248.25V95.43H1243.27zM1253.24 90.35H1263.21V95.43H1253.24zM819.57 95.43H824.56V100.52H819.57zM914.28 95.43H919.27V100.52H914.28zM989.05 95.43H994.04V100.52H989.05zM999.02 95.43H1008.99V100.52H999.02zM1078.78 95.43H1083.76V100.52H1078.78zM1208.38 95.43H1213.36V100.52H1208.38zM1243.27 95.43H1248.25V100.52H1243.27zM1253.24 95.43H1258.22V100.52H1253.24zM744.8 100.52H749.79V105.6H744.8zM769.73 100.52H774.71V105.6H769.73zM834.53 100.52H839.51V105.6H834.53zM844.5 100.52H849.48V105.6H844.5zM869.42 100.52H874.4V105.6H869.42zM919.27 100.52H924.25V105.6H919.27zM979.08 100.52H984.07V105.6H979.08zM1208.38 100.52H1218.35V105.6H1208.38zM1233.3 100.52H1238.28V105.6H1233.3zM1258.22 100.52H1273.18V105.6H1258.22zM739.82 105.6H749.79V110.69H739.82zM869.42 105.6H874.4V110.69H869.42zM979.08 105.6H984.07V110.69H979.08zM1004.01 105.6H1008.99V110.69H1004.01zM1078.78 105.6H1083.76V110.69H1078.78zM1163.51 105.6H1168.5V110.69H1163.51zM1233.3 105.6H1238.28V110.69H1233.3zM1248.25 105.6H1253.24V110.69H1248.25zM1263.21 105.6H1268.19V110.69H1263.21zM1098.71 110.69H1103.7V115.78H1098.71zM839.51 115.78H844.5V120.86H839.51zM874.4 115.78H879.39V120.86H874.4zM959.14 115.78H969.11V120.86H959.14zM989.05 115.78H1008.99V120.86H989.05zM1023.94 115.78H1033.91V120.86H1023.94zM1153.55 115.78H1158.53V120.86H1153.55zM1208.38 115.78H1213.36V120.86H1208.38zM1233.3 115.78H1238.28V120.86H1233.3zM839.51 120.86H844.5V125.95H839.51zM964.13 120.86H969.11V125.95H964.13zM974.1 120.86H979.08V125.95H974.1zM999.02 120.86H1004.01V125.95H999.02zM1023.94 120.86H1028.93V125.95H1023.94zM1093.73 120.86H1103.7V125.95H1093.73zM1178.47 120.86H1183.45V125.95H1178.47zM1248.25 120.86H1253.24V125.95H1248.25zM734.83 125.95H744.8V131.03H734.83zM749.79 125.95H754.77V131.03H749.79zM789.67 125.95H794.65V131.03H789.67zM834.53 125.95H849.48V131.03H834.53zM914.28 125.95H919.27V131.03H914.28zM1023.94 125.95H1028.93V131.03H1023.94zM1098.71 125.95H1103.7V131.03H1098.71zM1108.68 125.95H1118.65V131.03H1108.68zM1153.55 125.95H1158.53V131.03H1153.55zM1203.39 125.95H1208.38V131.03H1203.39zM1228.31 125.95H1233.3V131.03H1228.31zM1243.27 125.95H1253.24V131.03H1243.27zM729.85 131.03H734.83V136.12H729.85zM744.8 131.03H749.79V136.12H744.8zM769.73 131.03H779.7V136.12H769.73zM999.02 131.03H1008.99V136.12H999.02zM1218.35 131.03H1228.31V136.12H1218.35zM739.82 136.12H744.8V141.21H739.82zM754.77 136.12H764.74V141.21H754.77zM779.7 136.12H784.68V141.21H779.7zM834.53 136.12H839.51V141.21H834.53zM879.39 136.12H889.36V141.21H879.39zM914.28 136.12H919.27V141.21H914.28zM929.24 136.12H934.22V141.21H929.24zM984.07 136.12H989.05V141.21H984.07zM994.04 136.12H999.02V141.21H994.04zM1013.97 136.12H1028.93V141.21H1013.97zM1088.74 136.12H1093.73V141.21H1088.74zM1108.68 136.12H1123.64V141.21H1108.68zM1163.51 136.12H1173.48V141.21H1163.51zM1178.47 136.12H1188.44V141.21H1178.47zM1193.42 136.12H1198.41V141.21H1193.42zM1228.31 136.12H1233.3V141.21H1228.31zM1243.27 136.12H1248.25V141.21H1243.27zM1253.24 136.12H1258.22V141.21H1253.24zM739.82 141.21H759.76V146.29H739.82zM769.73 141.21H779.7V146.29H769.73zM794.65 141.21H799.64V146.29H794.65zM819.57 141.21H824.56V146.29H819.57zM829.54 141.21H834.53V146.29H829.54zM914.28 141.21H924.25V146.29H914.28zM1004.01 141.21H1008.99V146.29H1004.01zM1018.96 141.21H1023.94V146.29H1018.96zM1088.74 141.21H1093.73V146.29H1088.74zM1158.53 141.21H1163.51V146.29H1158.53zM1218.35 141.21H1233.3V146.29H1218.35zM1238.28 141.21H1243.27V146.29H1238.28zM1248.25 141.21H1253.24V146.29H1248.25zM809.6 146.29H824.56V151.38H809.6zM939.21 146.29H949.17V151.38H939.21zM1013.97 146.29H1018.96V151.38H1013.97zM1083.76 146.29H1088.74V151.38H1083.76zM1163.51 146.29H1168.5V151.38H1163.51zM1173.48 146.29H1178.47V151.38H1173.48zM1213.36 146.29H1223.33V151.38H1213.36zM1248.25 146.29H1253.24V151.38H1248.25zM739.82 151.38H744.8V156.46H739.82zM794.65 151.38H799.64V156.46H794.65zM819.57 151.38H824.56V156.46H819.57zM849.48 151.38H854.47V156.46H849.48zM884.37 151.38H889.36V156.46H884.37zM944.19 151.38H949.17V156.46H944.19zM1043.88 151.38H1048.87V156.46H1043.88zM1073.79 151.38H1078.78V156.46H1073.79zM1083.76 151.38H1088.74V156.46H1083.76zM1108.68 151.38H1118.65V156.46H1108.68zM1173.48 151.38H1183.45V156.46H1173.48zM1218.35 151.38H1228.31V156.46H1218.35zM1258.22 151.38H1268.19V156.46H1258.22zM729.85 156.46H734.83V161.55H729.85zM844.5 156.46H849.48V161.55H844.5zM884.37 156.46H889.36V161.55H884.37zM1013.97 156.46H1018.96V161.55H1013.97zM1023.94 156.46H1033.91V161.55H1023.94zM1078.78 156.46H1083.76V161.55H1078.78zM1093.73 156.46H1098.71V161.55H1093.73zM1163.51 156.46H1168.5V161.55H1163.51zM1278.16 156.46H1283.15V161.55H1278.16zM884.37 166.64H889.36V171.72H884.37zM894.34 166.64H899.33V171.72H894.34zM979.08 166.64H984.07V171.72H979.08zM1083.76 166.64H1088.74V171.72H1083.76zM1098.71 166.64H1103.7V171.72H1098.71zM1168.5 166.64H1173.48V171.72H1168.5zM1208.38 166.64H1213.36V171.72H1208.38zM1288.13 166.64H1298.1V171.72H1288.13zM994.04 171.72H999.02V176.81H994.04zM1078.78 171.72H1083.76V176.81H1078.78zM794.65 176.81H804.62V181.89H794.65zM914.28 176.81H919.27V181.89H914.28zM984.07 176.81H989.05V181.89H984.07zM999.02 176.81H1004.01V181.89H999.02zM1028.93 176.81H1033.91V181.89H1028.93zM1043.88 176.81H1048.87V181.89H1043.88zM1063.82 176.81H1068.81V181.89H1063.82zM1088.74 176.81H1103.7V181.89H1088.74zM1168.5 176.81H1173.48V181.89H1168.5zM1223.33 176.81H1228.31V181.89H1223.33zM1263.21 176.81H1283.15V181.89H1263.21zM729.85 181.89H734.83V186.98H729.85zM809.6 181.89H814.59V186.98H809.6zM989.05 181.89H994.04V186.98H989.05zM999.02 181.89H1004.01V186.98H999.02zM829.54 186.98H834.53V192.06H829.54zM964.13 186.98H969.11V192.06H964.13zM999.02 186.98H1004.01V192.06H999.02zM729.85 192.06H734.83V197.15H729.85zM754.77 192.06H759.76V197.15H754.77zM829.54 192.06H834.53V197.15H829.54zM844.5 192.06H854.47V197.15H844.5zM859.45 192.06H864.44V197.15H859.45zM904.31 192.06H919.27V197.15H904.31zM999.02 192.06H1004.01V197.15H999.02zM1043.88 192.06H1048.87V197.15H1043.88zM1063.82 192.06H1068.81V197.15H1063.82zM1078.78 192.06H1083.76V197.15H1078.78zM774.71 197.15H779.7V202.24H774.71zM969.11 197.15H974.1V202.24H969.11zM1078.78 197.15H1083.76V202.24H1078.78zM729.85 202.24H734.83V207.32H729.85zM859.45 202.24H864.44V207.32H859.45zM914.28 202.24H929.24V207.32H914.28zM954.16 202.24H959.14V207.32H954.16zM974.1 202.24H979.08V207.32H974.1zM1004.01 202.24H1008.99V207.32H1004.01zM1013.97 202.24H1018.96V207.32H1013.97zM1023.94 202.24H1033.91V207.32H1023.94zM1043.88 202.24H1048.87V207.32H1043.88zM1078.78 202.24H1083.76V207.32H1078.78zM1253.24 202.24H1258.22V207.32H1253.24zM1263.21 202.24H1268.19V207.32H1263.21zM1023.94 207.32H1028.93V212.41H1023.94zM1048.87 207.32H1058.84V212.41H1048.87zM779.7 212.41H784.68V217.49H779.7zM884.37 212.41H889.36V217.49H884.37zM914.28 212.41H919.27V217.49H914.28zM964.13 212.41H969.11V217.49H964.13zM1038.9 212.41H1043.88V217.49H1038.9zM1233.3 212.41H1243.27V217.49H1233.3zM884.37 217.49H889.36V222.58H884.37zM1023.94 217.49H1028.93V222.58H1023.94zM1078.78 217.49H1083.76V222.58H1078.78zM759.76 222.58H764.74V227.67H759.76zM789.67 222.58H794.65V227.67H789.67zM819.57 222.58H824.56V227.67H819.57zM829.54 222.58H839.51V227.67H829.54zM869.42 222.58H874.4V227.67H869.42zM884.37 222.58H889.36V227.67H884.37zM894.34 222.58H899.33V227.67H894.34zM904.31 222.58H909.3V227.67H904.31zM939.21 222.58H949.17V227.67H939.21zM979.08 222.58H984.07V227.67H979.08zM1018.96 222.58H1023.94V227.67H1018.96zM1073.79 222.58H1078.78V227.67H1073.79zM1083.76 222.58H1088.74V227.67H1083.76zM1108.68 222.58H1123.64V227.67H1108.68zM1178.47 222.58H1188.44V227.67H1178.47zM1208.38 222.58H1218.35V227.67H1208.38zM1243.27 222.58H1253.24V227.67H1243.27zM1278.16 222.58H1283.15V227.67H1278.16zM1288.13 222.58H1298.1V227.67H1288.13zM734.83 227.67H739.82V232.75H734.83zM749.79 227.67H759.76V232.75H749.79zM784.68 227.67H789.67V232.75H784.68zM794.65 227.67H799.64V232.75H794.65zM834.53 227.67H839.51V232.75H834.53zM894.34 227.67H899.33V232.75H894.34zM1013.97 227.67H1018.96V232.75H1013.97zM1038.9 227.67H1043.88V232.75H1038.9zM1053.85 227.67H1058.84V232.75H1053.85zM1093.73 227.67H1098.71V232.75H1093.73zM1103.7 227.67H1108.68V232.75H1103.7zM1143.58 227.67H1153.55V232.75H1143.58zM1168.5 227.67H1183.45V232.75H1168.5zM1193.42 227.67H1198.41V232.75H1193.42zM1203.39 227.67H1208.38V232.75H1203.39zM1213.36 227.67H1218.35V232.75H1213.36zM1268.19 227.67H1273.18V232.75H1268.19zM729.85 232.75H749.79V237.84H729.85zM754.77 232.75H759.76V237.84H754.77zM894.34 232.75H899.33V237.84H894.34zM964.13 232.75H969.11V237.84H964.13zM979.08 232.75H984.07V237.84H979.08zM1098.71 232.75H1103.7V237.84H1098.71zM1183.45 232.75H1188.44V237.84H1183.45zM1248.25 232.75H1253.24V237.84H1248.25zM739.82 237.84H744.8V242.92H739.82zM754.77 237.84H759.76V242.92H754.77zM829.54 237.84H834.53V242.92H829.54zM979.08 237.84H984.07V242.92H979.08zM1013.97 237.84H1023.94V242.92H1013.97zM1043.88 237.84H1053.85V242.92H1043.88zM1098.71 237.84H1103.7V242.92H1098.71zM1108.68 237.84H1118.65V242.92H1108.68zM1123.64 237.84H1128.62V242.92H1123.64zM1158.53 237.84H1168.5V242.92H1158.53zM1188.44 237.84H1198.41V242.92H1188.44zM1208.38 237.84H1213.36V242.92H1208.38zM1268.19 237.84H1273.18V242.92H1268.19zM739.82 242.92H744.8V248.01H739.82zM979.08 242.92H984.07V248.01H979.08zM1098.71 242.92H1103.7V248.01H1098.71zM1108.68 242.92H1113.67V248.01H1108.68zM1118.65 242.92H1123.64V248.01H1118.65zM1183.45 242.92H1188.44V248.01H1183.45zM1208.38 242.92H1218.35V248.01H1208.38zM1238.28 242.92H1253.24V248.01H1238.28zM744.8 248.01H749.79V253.1H744.8zM759.76 248.01H764.74V253.1H759.76zM839.51 248.01H844.5V253.1H839.51zM914.28 248.01H919.27V253.1H914.28zM959.14 248.01H969.11V253.1H959.14zM1008.99 248.01H1023.94V253.1H1008.99zM1063.82 248.01H1073.79V253.1H1063.82zM1098.71 248.01H1103.7V253.1H1098.71zM1143.58 248.01H1163.51V253.1H1143.58zM1258.22 248.01H1263.21V253.1H1258.22zM1268.19 248.01H1273.18V253.1H1268.19zM839.51 253.1H849.48V258.18H839.51zM914.28 253.1H919.27V258.18H914.28zM979.08 253.1H984.07V258.18H979.08zM989.05 253.1H994.04V258.18H989.05zM1078.78 253.1H1083.76V258.18H1078.78zM894.34 263.27H899.33V268.35H894.34zM1168.5 263.27H1173.48V268.35H1168.5zM769.73 268.35H774.71V273.44H769.73zM809.6 268.35H814.59V273.44H809.6zM939.21 268.35H944.19V273.44H939.21zM1023.94 268.35H1033.91V273.44H1023.94zM1078.78 268.35H1083.76V273.44H1078.78zM1103.7 268.35H1108.68V273.44H1103.7zM1213.36 268.35H1218.35V273.44H1213.36zM1248.25 268.35H1253.24V273.44H1248.25zM1288.13 268.35H1293.12V273.44H1288.13zM729.85 273.44H734.83V278.53H729.85zM739.82 273.44H749.79V278.53H739.82zM759.76 273.44H764.74V278.53H759.76zM809.6 273.44H819.57V278.53H809.6zM879.39 273.44H884.37V278.53H879.39zM904.31 273.44H909.3V278.53H904.31zM924.25 273.44H929.24V278.53H924.25zM939.21 273.44H944.19V278.53H939.21zM1073.79 273.44H1078.78V278.53H1073.79zM1083.76 273.44H1093.73V278.53H1083.76zM1103.7 273.44H1108.68V278.53H1103.7zM1118.65 273.44H1123.64V278.53H1118.65zM1163.51 273.44H1178.47V278.53H1163.51zM1183.45 273.44H1188.44V278.53H1183.45zM1213.36 273.44H1218.35V278.53H1213.36zM1233.3 273.44H1248.25V278.53H1233.3zM1283.15 273.44H1293.12V278.53H1283.15zM889.36 278.53H894.34V283.61H889.36zM1078.78 278.53H1083.76V283.61H1078.78zM1088.74 278.53H1093.73V283.61H1088.74zM1238.28 278.53H1243.27V283.61H1238.28zM1258.22 278.53H1263.21V283.61H1258.22zM769.73 283.61H774.71V288.7H769.73zM814.59 283.61H819.57V288.7H814.59zM894.34 283.61H899.33V288.7H894.34zM1078.78 283.61H1083.76V288.7H1078.78zM744.8 288.7H749.79V293.78H744.8zM759.76 288.7H764.74V293.78H759.76zM794.65 288.7H804.62V293.78H794.65zM859.45 288.7H864.44V293.78H859.45zM914.28 288.7H919.27V293.78H914.28zM924.25 288.7H939.21V293.78H924.25zM944.19 288.7H949.17V293.78H944.19zM1008.99 288.7H1013.97V293.78H1008.99zM1048.87 288.7H1053.85V293.78H1048.87zM1078.78 288.7H1083.76V293.78H1078.78zM1093.73 288.7H1098.71V293.78H1093.73zM1103.7 288.7H1108.68V293.78H1103.7zM1123.64 288.7H1128.62V293.78H1123.64zM1148.56 288.7H1153.55V293.78H1148.56zM1163.51 288.7H1178.47V293.78H1163.51zM1193.42 288.7H1198.41V293.78H1193.42zM1203.39 288.7H1213.36V293.78H1203.39zM1238.28 288.7H1243.27V293.78H1238.28zM1248.25 288.7H1253.24V293.78H1248.25zM1288.13 288.7H1298.1V293.78H1288.13zM729.85 293.78H734.83V298.87H729.85zM739.82 293.78H749.79V298.87H739.82zM754.77 293.78H759.76V298.87H754.77zM769.73 293.78H774.71V298.87H769.73zM829.54 293.78H834.53V298.87H829.54zM869.42 293.78H874.4V298.87H869.42zM1008.99 293.78H1013.97V298.87H1008.99zM1028.93 293.78H1033.91V298.87H1028.93zM1098.71 293.78H1103.7V298.87H1098.71zM1108.68 293.78H1123.64V298.87H1108.68zM1178.47 293.78H1183.45V298.87H1178.47zM1193.42 293.78H1203.39V298.87H1193.42zM1208.38 293.78H1213.36V298.87H1208.38zM1233.3 293.78H1243.27V298.87H1233.3zM1253.24 293.78H1258.22V298.87H1253.24zM744.8 298.87H749.79V303.96H744.8zM754.77 298.87H759.76V303.96H754.77zM789.67 298.87H794.65V303.96H789.67zM809.6 298.87H814.59V303.96H809.6zM874.4 298.87H879.39V303.96H874.4zM944.19 298.87H949.17V303.96H944.19zM1008.99 298.87H1013.97V303.96H1008.99zM1018.96 298.87H1023.94V303.96H1018.96zM1043.88 298.87H1053.85V303.96H1043.88zM1093.73 298.87H1098.71V303.96H1093.73zM1108.68 298.87H1118.65V303.96H1108.68zM1123.64 298.87H1128.62V303.96H1123.64zM1178.47 298.87H1183.45V303.96H1178.47zM1238.28 298.87H1243.27V303.96H1238.28zM1258.22 298.87H1263.21V303.96H1258.22zM729.85 303.96H734.83V309.04H729.85zM744.8 303.96H749.79V309.04H744.8zM759.76 303.96H764.74V309.04H759.76zM774.71 303.96H779.7V309.04H774.71zM809.6 303.96H814.59V309.04H809.6zM829.54 303.96H834.53V309.04H829.54zM864.44 303.96H869.42V309.04H864.44zM1008.99 303.96H1013.97V309.04H1008.99zM1018.96 303.96H1023.94V309.04H1018.96zM1038.9 303.96H1048.87V309.04H1038.9zM1093.73 303.96H1098.71V309.04H1093.73zM1113.67 303.96H1118.65V309.04H1113.67zM1178.47 303.96H1193.42V309.04H1178.47zM789.67 309.04H794.65V314.13H789.67zM809.6 309.04H819.57V314.13H809.6zM824.56 309.04H829.54V314.13H824.56zM869.42 309.04H889.36V314.13H869.42zM1113.67 309.04H1118.65V314.13H1113.67zM1213.36 309.04H1228.31V314.13H1213.36zM1278.16 309.04H1298.1V314.13H1278.16zM789.67 314.13H794.65V319.21H789.67zM799.64 314.13H804.62V319.21H799.64zM809.6 314.13H814.59V319.21H809.6zM824.56 314.13H829.54V319.21H824.56zM834.53 314.13H839.51V319.21H834.53zM894.34 314.13H899.33V319.21H894.34zM1078.78 314.13H1083.76V319.21H1078.78zM1178.47 314.13H1183.45V319.21H1178.47zM1213.36 314.13H1223.33V319.21H1213.36zM1268.19 314.13H1273.18V319.21H1268.19zM1288.13 314.13H1293.12V319.21H1288.13zM939.21 319.21H944.19V324.3H939.21zM979.08 319.21H999.02V324.3H979.08zM1063.82 319.21H1068.81V324.3H1063.82zM1093.73 319.21H1098.71V324.3H1093.73zM759.76 324.3H764.74V329.39H759.76zM829.54 324.3H834.53V329.39H829.54zM839.51 324.3H844.5V329.39H839.51zM849.48 324.3H854.47V329.39H849.48zM894.34 324.3H899.33V329.39H894.34zM919.27 324.3H924.25V329.39H919.27zM929.24 324.3H934.22V329.39H929.24zM939.21 324.3H944.19V329.39H939.21zM1038.9 324.3H1043.88V329.39H1038.9zM1073.79 324.3H1078.78V329.39H1073.79zM1083.76 324.3H1098.71V329.39H1083.76zM1103.7 324.3H1108.68V329.39H1103.7zM1263.21 324.3H1268.19V329.39H1263.21zM1288.13 324.3H1293.12V329.39H1288.13zM769.73 329.39H774.71V334.47H769.73zM829.54 329.39H839.51V334.47H829.54zM914.28 329.39H919.27V334.47H914.28zM929.24 329.39H934.22V334.47H929.24zM939.21 329.39H944.19V334.47H939.21zM989.05 329.39H999.02V334.47H989.05zM1043.88 329.39H1048.87V334.47H1043.88zM729.85 334.47H734.83V339.56H729.85zM809.6 334.47H824.56V339.56H809.6zM829.54 334.47H834.53V339.56H829.54zM849.48 334.47H854.47V339.56H849.48zM894.34 334.47H904.31V339.56H894.34zM909.3 334.47H914.28V339.56H909.3zM959.14 334.47H964.13V339.56H959.14zM1093.73 334.47H1098.71V339.56H1093.73zM1123.64 334.47H1128.62V339.56H1123.64zM1178.47 334.47H1188.44V339.56H1178.47zM1213.36 334.47H1218.35V339.56H1213.36zM1253.24 334.47H1278.16V339.56H1253.24zM1293.12 334.47H1298.1V339.56H1293.12zM729.85 339.56H734.83V344.64H729.85zM809.6 339.56H814.59V344.64H809.6zM849.48 339.56H854.47V344.64H849.48zM869.42 339.56H874.4V344.64H869.42zM894.34 339.56H899.33V344.64H894.34zM959.14 339.56H964.13V344.64H959.14zM984.07 339.56H989.05V344.64H984.07zM1113.67 339.56H1118.65V344.64H1113.67zM1268.19 339.56H1273.18V344.64H1268.19zM1163.51 344.64H1168.5V349.73H1163.51zM1288.13 344.64H1293.12V349.73H1288.13zM729.85 349.73H734.83V354.82H729.85zM904.31 349.73H909.3V354.82H904.31zM919.27 349.73H924.25V354.82H919.27zM994.04 349.73H999.02V354.82H994.04zM1013.97 349.73H1018.96V354.82H1013.97zM1208.38 349.73H1213.36V354.82H1208.38zM1263.21 349.73H1268.19V354.82H1263.21zM1278.16 349.73H1288.13V354.82H1278.16zM844.5 354.82H849.48V359.9H844.5zM869.42 354.82H874.4V359.9H869.42zM884.37 354.82H889.36V359.9H884.37zM894.34 354.82H899.33V359.9H894.34zM929.24 354.82H934.22V359.9H929.24zM989.05 354.82H999.02V359.9H989.05zM1018.96 354.82H1023.94V359.9H1018.96zM1088.74 354.82H1098.71V359.9H1088.74zM1168.5 354.82H1173.48V359.9H1168.5zM1193.42 354.82H1198.41V359.9H1193.42zM1223.33 354.82H1228.31V359.9H1223.33zM1233.3 354.82H1243.27V359.9H1233.3zM1253.24 354.82H1258.22V359.9H1253.24zM1263.21 354.82H1268.19V359.9H1263.21zM899.33 359.9H904.31V364.99H899.33zM929.24 359.9H934.22V364.99H929.24zM979.08 359.9H984.07V364.99H979.08zM989.05 359.9H994.04V364.99H989.05zM1098.71 359.9H1103.7V364.99H1098.71zM1253.24 359.9H1258.22V364.99H1253.24zM1278.16 359.9H1283.15V364.99H1278.16zM899.33 364.99H904.31V370.07H899.33zM919.27 364.99H924.25V370.07H919.27zM1208.38 364.99H1213.36V370.07H1208.38zM1268.19 364.99H1273.18V370.07H1268.19zM1258.22 370.07H1268.19V375.16H1258.22zM1273.18 370.07H1278.16V375.16H1273.18zM1283.15 370.07H1288.13V375.16H1283.15zM769.73 375.16H779.7V380.25H769.73zM869.42 375.16H874.4V380.25H869.42zM884.37 375.16H889.36V380.25H884.37zM939.21 375.16H944.19V380.25H939.21zM1008.99 375.16H1013.97V380.25H1008.99zM1158.53 375.16H1168.5V380.25H1158.53zM1258.22 375.16H1263.21V380.25H1258.22zM1268.19 375.16H1273.18V380.25H1268.19zM779.7 380.25H784.68V385.33H779.7zM939.21 380.25H944.19V385.33H939.21zM1258.22 380.25H1263.21V385.33H1258.22zM769.73 385.33H779.7V390.42H769.73zM844.5 385.33H849.48V390.42H844.5zM914.28 385.33H919.27V390.42H914.28zM964.13 385.33H969.11V390.42H964.13zM1013.97 385.33H1018.96V390.42H1013.97zM1163.51 385.33H1168.5V390.42H1163.51zM1268.19 385.33H1273.18V390.42H1268.19zM729.85 390.42H734.83V395.5H729.85zM759.76 390.42H764.74V395.5H759.76zM779.7 390.42H794.65V395.5H779.7zM799.64 390.42H804.62V395.5H799.64zM849.48 390.42H854.47V395.5H849.48zM864.44 390.42H869.42V395.5H864.44zM884.37 390.42H899.33V395.5H884.37zM909.3 390.42H914.28V395.5H909.3zM944.19 390.42H949.17V395.5H944.19zM959.14 390.42H964.13V395.5H959.14zM969.11 390.42H984.07V395.5H969.11zM1004.01 390.42H1008.99V395.5H1004.01zM1108.68 390.42H1123.64V395.5H1108.68zM1143.58 390.42H1148.56V395.5H1143.58zM1153.55 390.42H1158.53V395.5H1153.55zM1258.22 390.42H1268.19V395.5H1258.22zM769.73 395.5H779.7V400.59H769.73zM839.51 395.5H849.48V400.59H839.51zM859.45 395.5H864.44V400.59H859.45zM914.28 395.5H919.27V400.59H914.28zM964.13 395.5H969.11V400.59H964.13zM1013.97 395.5H1018.96V400.59H1013.97zM1173.48 395.5H1178.47V400.59H1173.48zM1258.22 395.5H1263.21V400.59H1258.22zM759.76 400.59H764.74V405.68H759.76zM829.54 400.59H839.51V405.68H829.54zM869.42 400.59H874.4V405.68H869.42zM964.13 400.59H974.1V405.68H964.13zM1013.97 400.59H1018.96V405.68H1013.97zM1043.88 400.59H1048.87V405.68H1043.88zM1163.51 400.59H1168.5V405.68H1163.51zM1178.47 400.59H1188.44V405.68H1178.47zM1203.39 400.59H1208.38V405.68H1203.39zM1233.3 400.59H1238.28V405.68H1233.3zM1248.25 400.59H1253.24V405.68H1248.25zM1258.22 400.59H1263.21V405.68H1258.22zM744.8 405.68H749.79V410.76H744.8zM754.77 405.68H759.76V410.76H754.77zM814.59 405.68H819.57V410.76H814.59zM849.48 405.68H854.47V410.76H849.48zM869.42 405.68H874.4V410.76H869.42zM919.27 405.68H924.25V410.76H919.27zM979.08 405.68H984.07V410.76H979.08zM989.05 405.68H999.02V410.76H989.05zM1008.99 405.68H1018.96V410.76H1008.99zM1023.94 405.68H1028.93V410.76H1023.94zM1043.88 405.68H1048.87V410.76H1043.88zM1113.67 405.68H1123.64V410.76H1113.67zM1163.51 405.68H1183.45V410.76H1163.51zM1213.36 405.68H1218.35V410.76H1213.36zM1233.3 405.68H1243.27V410.76H1233.3zM1248.25 405.68H1253.24V410.76H1248.25zM1258.22 405.68H1273.18V410.76H1258.22zM734.83 410.76H739.82V415.85H734.83zM764.74 410.76H769.73V415.85H764.74zM804.62 410.76H809.6V415.85H804.62zM814.59 410.76H824.56V415.85H814.59zM859.45 410.76H864.44V415.85H859.45zM869.42 410.76H874.4V415.85H869.42zM924.25 410.76H944.19V415.85H924.25zM984.07 410.76H989.05V415.85H984.07zM1048.87 410.76H1053.85V415.85H1048.87zM1163.51 410.76H1168.5V415.85H1163.51zM1198.41 410.76H1203.39V415.85H1198.41zM1233.3 410.76H1243.27V415.85H1233.3zM1248.25 410.76H1253.24V415.85H1248.25zM1263.21 410.76H1268.19V415.85H1263.21zM919.27 415.85H924.25V420.93H919.27zM959.14 415.85H969.11V420.93H959.14zM979.08 415.85H984.07V420.93H979.08zM1013.97 415.85H1018.96V420.93H1013.97zM1168.5 415.85H1173.48V420.93H1168.5zM1183.45 415.85H1188.44V420.93H1183.45zM1248.25 415.85H1253.24V420.93H1248.25zM759.76 420.93H764.74V426.02H759.76zM819.57 420.93H824.56V426.02H819.57zM829.54 420.93H834.53V426.02H829.54zM844.5 420.93H849.48V426.02H844.5zM914.28 420.93H919.27V426.02H914.28zM929.24 420.93H939.21V426.02H929.24zM984.07 420.93H994.04V426.02H984.07zM1078.78 420.93H1083.76V426.02H1078.78zM1193.42 420.93H1198.41V426.02H1193.42zM1203.39 420.93H1213.36V426.02H1203.39zM1253.24 420.93H1268.19V426.02H1253.24zM1293.12 420.93H1298.1V426.02H1293.12zM819.57 426.02H824.56V431.11H819.57zM829.54 426.02H834.53V431.11H829.54zM844.5 426.02H849.48V431.11H844.5zM914.28 426.02H919.27V431.11H914.28zM929.24 426.02H934.22V431.11H929.24zM984.07 426.02H1004.01V431.11H984.07zM1028.93 426.02H1033.91V431.11H1028.93zM1078.78 426.02H1083.76V431.11H1078.78zM1093.73 426.02H1098.71V431.11H1093.73zM1168.5 426.02H1173.48V431.11H1168.5zM1178.47 426.02H1198.41V431.11H1178.47zM1203.39 426.02H1208.38V431.11H1203.39zM1263.21 426.02H1268.19V431.11H1263.21zM1288.13 426.02H1298.1V431.11H1288.13zM829.54 431.11H834.53V436.19H829.54zM914.28 431.11H919.27V436.19H914.28zM934.22 431.11H939.21V436.19H934.22zM964.13 431.11H969.11V436.19H964.13zM984.07 431.11H989.05V436.19H984.07zM1078.78 431.11H1083.76V436.19H1078.78zM1093.73 431.11H1098.71V436.19H1093.73zM1178.47 431.11H1188.44V436.19H1178.47zM1263.21 431.11H1273.18V436.19H1263.21zM929.24 436.19H934.22V441.28H929.24zM979.08 436.19H984.07V441.28H979.08zM989.05 436.19H994.04V441.28H989.05zM1023.94 436.19H1028.93V441.28H1023.94zM1258.22 436.19H1263.21V441.28H1258.22zM1288.13 451.45H1293.12V456.54H1288.13zM919.27 456.54H924.25V461.62H919.27zM939.21 456.54H944.19V461.62H939.21zM1078.78 456.54H1083.76V461.62H1078.78zM1183.45 456.54H1188.44V461.62H1183.45zM1208.38 456.54H1213.36V461.62H1208.38zM919.27 461.62H924.25V466.71H919.27zM939.21 461.62H944.19V466.71H939.21zM979.08 461.62H984.07V466.71H979.08zM1208.38 461.62H1213.36V466.71H1208.38zM1248.25 461.62H1253.24V466.71H1248.25zM809.6 466.71H814.59V471.79H809.6zM819.57 466.71H824.56V471.79H819.57zM939.21 466.71H944.19V471.79H939.21zM1078.78 466.71H1083.76V471.79H1078.78zM834.53 471.79H839.51V476.88H834.53zM929.24 471.79H934.22V476.88H929.24zM939.21 471.79H944.19V476.88H939.21zM1063.82 471.79H1068.81V476.88H1063.82zM1178.47 471.79H1183.45V476.88H1178.47zM1208.38 471.79H1218.35V476.88H1208.38zM1248.25 471.79H1253.24V476.88H1248.25zM759.76 476.88H764.74V481.96H759.76zM799.64 476.88H804.62V481.96H799.64zM829.54 476.88H834.53V481.96H829.54zM839.51 476.88H844.5V481.96H839.51zM849.48 476.88H854.47V481.96H849.48zM929.24 476.88H934.22V481.96H929.24zM964.13 476.88H969.11V481.96H964.13zM979.08 476.88H984.07V481.96H979.08zM1033.91 476.88H1038.9V481.96H1033.91zM1063.82 476.88H1068.81V481.96H1063.82zM1073.79 476.88H1078.78V481.96H1073.79zM1088.74 476.88H1103.7V481.96H1088.74zM1178.47 476.88H1208.38V481.96H1178.47zM1218.35 476.88H1228.31V481.96H1218.35zM1268.19 476.88H1273.18V481.96H1268.19zM1288.13 476.88H1293.12V481.96H1288.13zM774.71 481.96H784.68V487.05H774.71zM829.54 481.96H834.53V487.05H829.54zM859.45 481.96H864.44V487.05H859.45zM869.42 481.96H874.4V487.05H869.42zM919.27 481.96H924.25V487.05H919.27zM954.16 481.96H959.14V487.05H954.16zM964.13 481.96H969.11V487.05H964.13zM979.08 481.96H984.07V487.05H979.08zM1043.88 481.96H1048.87V487.05H1043.88zM1093.73 481.96H1098.71V487.05H1093.73zM1103.7 481.96H1108.68V487.05H1103.7zM1113.67 481.96H1118.65V487.05H1113.67zM1178.47 481.96H1183.45V487.05H1178.47zM1188.44 481.96H1193.42V487.05H1188.44zM1223.33 481.96H1233.3V487.05H1223.33zM1288.13 481.96H1293.12V487.05H1288.13zM759.76 487.05H764.74V492.14H759.76zM839.51 487.05H849.48V492.14H839.51zM919.27 487.05H924.25V492.14H919.27zM964.13 487.05H969.11V492.14H964.13zM979.08 487.05H984.07V492.14H979.08zM1083.76 487.05H1088.74V492.14H1083.76zM1093.73 487.05H1098.71V492.14H1093.73zM1188.44 487.05H1193.42V492.14H1188.44zM1203.39 487.05H1208.38V492.14H1203.39zM1213.36 487.05H1223.33V492.14H1213.36zM1288.13 487.05H1293.12V492.14H1288.13zM729.85 492.14H734.83V497.22H729.85zM754.77 492.14H759.76V497.22H754.77zM814.59 492.14H819.57V497.22H814.59zM829.54 492.14H834.53V497.22H829.54zM844.5 492.14H849.48V497.22H844.5zM914.28 492.14H924.25V497.22H914.28zM984.07 492.14H999.02V497.22H984.07zM1004.01 492.14H1008.99V497.22H1004.01zM1023.94 492.14H1028.93V497.22H1023.94zM1088.74 492.14H1098.71V497.22H1088.74zM1113.67 492.14H1123.64V497.22H1113.67zM1158.53 492.14H1173.48V497.22H1158.53zM829.54 497.22H834.53V502.31H829.54zM914.28 497.22H919.27V502.31H914.28zM924.25 497.22H929.24V502.31H924.25zM934.22 497.22H939.21V502.31H934.22zM964.13 497.22H969.11V502.31H964.13zM994.04 497.22H999.02V502.31H994.04zM1023.94 497.22H1028.93V502.31H1023.94zM1088.74 497.22H1093.73V502.31H1088.74zM1103.7 497.22H1108.68V502.31H1103.7zM1113.67 497.22H1123.64V502.31H1113.67zM1143.58 497.22H1148.56V502.31H1143.58zM1163.51 497.22H1168.5V502.31H1163.51zM1258.22 497.22H1263.21V502.31H1258.22zM929.24 502.31H934.22V507.39H929.24zM994.04 502.31H999.02V507.39H994.04zM1113.67 502.31H1118.65V507.39H1113.67zM1163.51 502.31H1178.47V507.39H1163.51zM729.85 507.39H734.83V512.48H729.85zM759.76 507.39H764.74V512.48H759.76zM829.54 507.39H834.53V512.48H829.54zM919.27 507.39H924.25V512.48H919.27zM929.24 507.39H934.22V512.48H929.24zM979.08 507.39H989.05V512.48H979.08zM1043.88 507.39H1048.87V512.48H1043.88zM1108.68 507.39H1118.65V512.48H1108.68zM1163.51 507.39H1168.5V512.48H1163.51zM759.76 512.48H764.74V517.57H759.76zM984.07 512.48H989.05V517.57H984.07zM1098.71 512.48H1103.7V517.57H1098.71zM1163.51 512.48H1168.5V517.57H1163.51zM1283.15 512.48H1288.13V517.57H1283.15zM729.85 517.57H734.83V522.65H729.85zM774.71 517.57H779.7V522.65H774.71zM819.57 517.57H824.56V522.65H819.57zM919.27 517.57H924.25V522.65H919.27zM979.08 517.57H984.07V522.65H979.08zM1088.74 517.57H1093.73V522.65H1088.74zM1108.68 517.57H1118.65V522.65H1108.68zM1163.51 517.57H1168.5V522.65H1163.51zM1173.48 517.57H1178.47V522.65H1173.48zM739.82 522.65H749.79V527.74H739.82zM754.77 522.65H759.76V527.74H754.77zM769.73 522.65H779.7V527.74H769.73zM784.68 522.65H799.64V527.74H784.68zM809.6 522.65H814.59V527.74H809.6zM859.45 522.65H864.44V527.74H859.45zM914.28 522.65H919.27V527.74H914.28zM929.24 522.65H939.21V527.74H929.24zM979.08 522.65H989.05V527.74H979.08zM1038.9 522.65H1043.88V527.74H1038.9zM1053.85 522.65H1058.84V527.74H1053.85zM1108.68 522.65H1113.67V527.74H1108.68zM1143.58 522.65H1153.55V527.74H1143.58zM1158.53 522.65H1163.51V527.74H1158.53zM1268.19 522.65H1273.18V527.74H1268.19zM729.85 527.74H734.83V532.82H729.85zM774.71 527.74H779.7V532.82H774.71zM784.68 527.74H789.67V532.82H784.68zM794.65 527.74H799.64V532.82H794.65zM839.51 527.74H844.5V532.82H839.51zM914.28 527.74H924.25V532.82H914.28zM934.22 527.74H939.21V532.82H934.22zM959.14 527.74H969.11V532.82H959.14zM999.02 527.74H1008.99V532.82H999.02zM1023.94 527.74H1028.93V532.82H1023.94zM1093.73 527.74H1098.71V532.82H1093.73zM1158.53 527.74H1163.51V532.82H1158.53zM1173.48 527.74H1178.47V532.82H1173.48zM824.56 532.82H829.54V537.91H824.56zM834.53 532.82H849.48V537.91H834.53zM999.02 532.82H1008.99V537.91H999.02zM1163.51 532.82H1168.5V537.91H1163.51zM1173.48 532.82H1178.47V537.91H1173.48zM824.56 537.91H829.54V543H824.56zM834.53 537.91H839.51V543H834.53zM844.5 537.91H849.48V543H844.5zM869.42 537.91H874.4V543H869.42zM999.02 537.91H1004.01V543H999.02zM1043.88 537.91H1048.87V543H1043.88zM1163.51 537.91H1173.48V543H1163.51zM1263.21 537.91H1268.19V543H1263.21zM819.57 543H824.56V548.08H819.57zM829.54 543H839.51V548.08H829.54zM1168.5 543H1173.48V548.08H1168.5zM1278.16 543H1283.15V548.08H1278.16zM729.85 548.08H734.83V553.17H729.85zM774.71 548.08H779.7V553.17H774.71zM794.65 548.08H804.62V553.17H794.65zM809.6 548.08H814.59V553.17H809.6zM904.31 548.08H909.3V553.17H904.31zM964.13 548.08H969.11V553.17H964.13zM984.07 548.08H989.05V553.17H984.07zM1043.88 548.08H1048.87V553.17H1043.88zM1088.74 548.08H1103.7V553.17H1088.74zM1293.12 548.08H1298.1V553.17H1293.12zM834.53 553.17H839.51V558.25H834.53zM904.31 553.17H909.3V558.25H904.31zM934.22 553.17H939.21V558.25H934.22zM964.13 553.17H974.1V558.25H964.13zM979.08 553.17H994.04V558.25H979.08zM1043.88 553.17H1048.87V558.25H1043.88zM1093.73 553.17H1103.7V558.25H1093.73zM1253.24 553.17H1258.22V558.25H1253.24zM784.68 558.25H794.65V563.34H784.68zM819.57 558.25H824.56V563.34H819.57zM829.54 558.25H834.53V563.34H829.54zM914.28 558.25H919.27V563.34H914.28zM934.22 558.25H939.21V563.34H934.22zM964.13 558.25H969.11V563.34H964.13zM799.64 563.34H804.62V568.43H799.64zM814.59 563.34H824.56V568.43H814.59zM834.53 563.34H844.5V568.43H834.53zM914.28 563.34H919.27V568.43H914.28zM924.25 563.34H929.24V568.43H924.25zM934.22 563.34H939.21V568.43H934.22zM959.14 563.34H964.13V568.43H959.14zM979.08 563.34H984.07V568.43H979.08zM1088.74 563.34H1108.68V568.43H1088.74zM1148.56 563.34H1153.55V568.43H1148.56zM1158.53 563.34H1163.51V568.43H1158.53zM784.68 568.43H794.65V573.51H784.68zM829.54 568.43H834.53V573.51H829.54zM894.34 568.43H899.33V573.51H894.34zM984.07 568.43H989.05V573.51H984.07zM1023.94 568.43H1028.93V573.51H1023.94zM1043.88 568.43H1053.85V573.51H1043.88zM1108.68 568.43H1113.67V573.51H1108.68zM1238.28 568.43H1243.27V573.51H1238.28zM784.68 573.51H789.67V578.6H784.68zM794.65 573.51H799.64V578.6H794.65zM844.5 573.51H849.48V578.6H844.5zM939.21 573.51H944.19V578.6H939.21zM969.11 573.51H974.1V578.6H969.11zM989.05 573.51H994.04V578.6H989.05zM1023.94 573.51H1028.93V578.6H1023.94zM1058.84 573.51H1073.79V578.6H1058.84zM1078.78 573.51H1098.71V578.6H1078.78zM1108.68 573.51H1113.67V578.6H1108.68zM1123.64 573.51H1128.62V578.6H1123.64zM1183.45 573.51H1188.44V578.6H1183.45zM769.73 578.6H774.71V583.68H769.73zM794.65 578.6H804.62V583.68H794.65zM844.5 578.6H849.48V583.68H844.5zM869.42 578.6H874.4V583.68H869.42zM894.34 578.6H899.33V583.68H894.34zM1013.97 578.6H1018.96V583.68H1013.97zM1023.94 578.6H1028.93V583.68H1023.94zM1038.9 578.6H1048.87V583.68H1038.9zM1058.84 578.6H1063.82V583.68H1058.84zM1078.78 578.6H1083.76V583.68H1078.78zM1093.73 578.6H1103.7V583.68H1093.73zM1108.68 578.6H1123.64V583.68H1108.68zM1223.33 578.6H1228.31V583.68H1223.33zM779.7 583.68H784.68V588.77H779.7zM794.65 583.68H799.64V588.77H794.65zM869.42 583.68H874.4V588.77H869.42zM919.27 583.68H924.25V588.77H919.27zM929.24 583.68H934.22V588.77H929.24zM939.21 583.68H944.19V588.77H939.21zM1004.01 583.68H1008.99V588.77H1004.01zM1023.94 583.68H1033.91V588.77H1023.94zM1053.85 583.68H1058.84V588.77H1053.85zM1063.82 583.68H1068.81V588.77H1063.82zM1073.79 583.68H1078.78V588.77H1073.79zM1093.73 583.68H1098.71V588.77H1093.73zM1118.65 583.68H1123.64V588.77H1118.65zM1163.51 583.68H1168.5V588.77H1163.51zM1208.38 583.68H1213.36V588.77H1208.38zM869.42 588.77H874.4V593.86H869.42zM1023.94 588.77H1028.93V593.86H1023.94zM1058.84 588.77H1063.82V593.86H1058.84zM749.79 593.86H754.77V598.94H749.79zM849.48 593.86H854.47V598.94H849.48zM869.42 593.86H874.4V598.94H869.42zM914.28 593.86H919.27V598.94H914.28zM999.02 593.86H1004.01V598.94H999.02zM1038.9 593.86H1043.88V598.94H1038.9zM1048.87 593.86H1053.85V598.94H1048.87zM1228.31 593.86H1233.3V598.94H1228.31zM774.71 598.94H779.7V604.03H774.71zM964.13 598.94H969.11V604.03H964.13zM999.02 598.94H1004.01V604.03H999.02zM1038.9 598.94H1043.88V604.03H1038.9zM1058.84 598.94H1063.82V604.03H1058.84zM1198.41 598.94H1203.39V604.03H1198.41zM769.73 604.03H779.7V609.11H769.73zM859.45 604.03H864.44V609.11H859.45zM914.28 604.03H919.27V609.11H914.28zM959.14 604.03H969.11V609.11H959.14zM979.08 604.03H984.07V609.11H979.08zM999.02 604.03H1008.99V609.11H999.02zM1013.97 604.03H1018.96V609.11H1013.97zM1033.91 604.03H1038.9V609.11H1033.91zM1113.67 604.03H1118.65V609.11H1113.67zM1138.59 604.03H1143.58V609.11H1138.59zM1163.51 604.03H1178.47V609.11H1163.51zM769.73 609.11H774.71V614.2H769.73zM859.45 609.11H864.44V614.2H859.45zM914.28 609.11H919.27V614.2H914.28zM979.08 609.11H984.07V614.2H979.08zM999.02 609.11H1004.01V614.2H999.02zM1023.94 609.11H1028.93V614.2H1023.94zM1108.68 609.11H1118.65V614.2H1108.68zM1233.3 609.11H1238.28V614.2H1233.3z"/>
<path fill="#73a9da" d="M769.73 34.4H774.71V39.49H769.73zM779.7 34.4H784.68V39.49H779.7zM834.53 34.4H839.51V39.49H834.53zM929.24 34.4H939.21V39.49H929.24zM989.05 34.4H994.04V39.49H989.05zM1043.88 34.4H1048.87V39.49H1043.88zM1098.71 34.4H1103.7V39.49H1098.71zM1183.45 34.4H1188.44V39.49H1183.45zM829.54 39.49H834.53V44.57H829.54zM929.24 39.49H934.22V44.57H929.24zM979.08 39.49H984.07V44.57H979.08zM1278.16 39.49H1283.15V44.57H1278.16zM979.08 44.57H984.07V49.66H979.08zM1178.47 44.57H1183.45V49.66H1178.47zM1278.16 44.57H1283.15V49.66H1278.16zM819.57 49.66H824.56V54.74H819.57zM1183.45 49.66H1188.44V54.74H1183.45zM829.54 54.74H834.53V59.83H829.54zM929.24 54.74H934.22V59.83H929.24zM994.04 54.74H999.02V59.83H994.04zM979.08 59.83H984.07V64.92H979.08zM1093.73 64.92H1103.7V70H1093.73zM1188.44 64.92H1193.42V70H1188.44zM729.85 75.09H734.83V80.17H729.85zM819.57 75.09H824.56V80.17H819.57zM829.54 75.09H834.53V80.17H829.54zM889.36 75.09H894.34V80.17H889.36zM899.33 75.09H904.31V80.17H899.33zM914.28 75.09H919.27V80.17H914.28zM964.13 75.09H969.11V80.17H964.13zM979.08 75.09H984.07V80.17H979.08zM1068.81 75.09H1073.79V80.17H1068.81zM1108.68 75.09H1113.67V80.17H1108.68zM1163.51 75.09H1173.48V80.17H1163.51zM1258.22 75.09H1263.21V80.17H1258.22zM819.57 80.17H824.56V85.26H819.57zM829.54 80.17H834.53V85.26H829.54zM894.34 80.17H899.33V85.26H894.34zM959.14 80.17H969.11V85.26H959.14zM979.08 80.17H984.07V85.26H979.08zM1068.81 80.17H1073.79V85.26H1068.81zM1113.67 80.17H1118.65V85.26H1113.67zM1258.22 80.17H1268.19V85.26H1258.22zM729.85 85.26H734.83V90.35H729.85zM909.3 85.26H914.28V90.35H909.3zM1133.61 85.26H1138.59V90.35H1133.61zM1258.22 85.26H1263.21V90.35H1258.22zM979.08 90.35H984.07V95.43H979.08zM1123.64 90.35H1128.62V95.43H1123.64zM1233.3 90.35H1243.27V95.43H1233.3zM1248.25 90.35H1253.24V95.43H1248.25zM1263.21 90.35H1268.19V95.43H1263.21zM844.5 95.43H849.48V100.52H844.5zM869.42 95.43H874.4V100.52H869.42zM984.07 95.43H989.05V100.52H984.07zM1238.28 95.43H1243.27V100.52H1238.28zM1258.22 95.43H1268.19V100.52H1258.22zM1238.28 100.52H1253.24V105.6H1238.28zM1208.38 105.6H1213.36V110.69H1208.38zM1238.28 105.6H1243.27V110.69H1238.28zM1258.22 105.6H1263.21V110.69H1258.22zM1268.19 105.6H1273.18V110.69H1268.19zM844.5 110.69H849.48V115.78H844.5zM844.5 115.78H849.48V120.86H844.5zM844.5 120.86H849.48V125.95H844.5zM744.8 125.95H749.79V131.03H744.8zM769.73 125.95H779.7V131.03H769.73zM829.54 125.95H834.53V131.03H829.54zM1213.36 125.95H1218.35V131.03H1213.36zM1263.21 125.95H1268.19V131.03H1263.21zM1213.36 131.03H1218.35V136.12H1213.36zM1258.22 131.03H1263.21V136.12H1258.22zM1268.19 131.03H1273.18V136.12H1268.19zM734.83 136.12H739.82V141.21H734.83zM749.79 136.12H754.77V141.21H749.79zM769.73 136.12H779.7V141.21H769.73zM819.57 136.12H824.56V141.21H819.57zM844.5 136.12H849.48V141.21H844.5zM869.42 136.12H874.4V141.21H869.42zM1004.01 136.12H1008.99V141.21H1004.01zM1093.73 136.12H1098.71V141.21H1093.73zM1153.55 136.12H1158.53V141.21H1153.55zM1188.44 136.12H1193.42V141.21H1188.44zM1223.33 136.12H1228.31V141.21H1223.33zM1233.3 136.12H1243.27V141.21H1233.3zM1248.25 136.12H1253.24V141.21H1248.25zM1263.21 136.12H1268.19V141.21H1263.21zM729.85 141.21H734.83V146.29H729.85zM844.5 141.21H849.48V146.29H844.5zM1093.73 141.21H1098.71V146.29H1093.73zM1208.38 141.21H1218.35V146.29H1208.38zM1253.24 141.21H1268.19V146.29H1253.24zM1078.78 146.29H1083.76V151.38H1078.78zM1238.28 146.29H1243.27V151.38H1238.28zM789.67 151.38H794.65V156.46H789.67zM804.62 151.38H819.57V156.46H804.62zM829.54 151.38H839.51V156.46H829.54zM869.42 151.38H874.4V156.46H869.42zM939.21 151.38H944.19V156.46H939.21zM1008.99 151.38H1013.97V156.46H1008.99zM1018.96 151.38H1023.94V156.46H1018.96zM1063.82 151.38H1073.79V156.46H1063.82zM1093.73 151.38H1098.71V156.46H1093.73zM1163.51 151.38H1173.48V156.46H1163.51zM1228.31 151.38H1238.28V156.46H1228.31zM1243.27 151.38H1253.24V156.46H1243.27zM1268.19 151.38H1273.18V156.46H1268.19zM1078.78 161.55H1083.76V166.64H1078.78zM1023.94 166.64H1028.93V171.72H1023.94zM789.67 176.81H794.65V181.89H789.67zM829.54 176.81H834.53V181.89H829.54zM844.5 176.81H849.48V181.89H844.5zM884.37 176.81H889.36V181.89H884.37zM894.34 176.81H899.33V181.89H894.34zM1018.96 176.81H1028.93V181.89H1018.96zM1078.78 176.81H1088.74V181.89H1078.78zM1163.51 176.81H1168.5V181.89H1163.51zM1208.38 176.81H1213.36V181.89H1208.38zM1283.15 176.81H1298.1V181.89H1283.15zM964.13 181.89H969.11V186.98H964.13zM869.42 192.06H874.4V197.15H869.42zM959.14 192.06H964.13V197.15H959.14zM969.11 192.06H979.08V197.15H969.11zM1004.01 192.06H1008.99V197.15H1004.01zM1253.24 192.06H1263.21V197.15H1253.24zM1268.19 192.06H1273.18V197.15H1268.19zM769.73 197.15H774.71V202.24H769.73zM964.13 197.15H969.11V202.24H964.13zM774.71 202.24H779.7V207.32H774.71zM869.42 202.24H874.4V207.32H869.42zM969.11 202.24H974.1V207.32H969.11zM1208.38 202.24H1213.36V207.32H1208.38zM1268.19 202.24H1273.18V207.32H1268.19zM769.73 207.32H774.71V212.41H769.73zM1043.88 207.32H1048.87V212.41H1043.88zM1023.94 212.41H1028.93V217.49H1023.94zM1053.85 212.41H1058.84V217.49H1053.85zM779.7 217.49H784.68V222.58H779.7zM1043.88 217.49H1053.85V222.58H1043.88zM769.73 222.58H774.71V227.67H769.73zM919.27 222.58H924.25V227.67H919.27zM964.13 222.58H969.11V227.67H964.13zM1023.94 222.58H1033.91V227.67H1023.94zM1038.9 222.58H1043.88V227.67H1038.9zM1048.87 222.58H1063.82V227.67H1048.87zM1233.3 222.58H1243.27V227.67H1233.3zM914.28 227.67H919.27V232.75H914.28zM959.14 227.67H964.13V232.75H959.14zM979.08 227.67H984.07V232.75H979.08zM994.04 227.67H999.02V232.75H994.04zM1098.71 227.67H1103.7V232.75H1098.71zM1113.67 227.67H1123.64V232.75H1113.67zM1183.45 227.67H1188.44V232.75H1183.45zM1208.38 227.67H1213.36V232.75H1208.38zM1233.3 227.67H1238.28V232.75H1233.3zM1253.24 227.67H1258.22V232.75H1253.24zM1233.3 232.75H1243.27V237.84H1233.3zM729.85 237.84H739.82V242.92H729.85zM749.79 237.84H754.77V242.92H749.79zM964.13 237.84H969.11V242.92H964.13zM1118.65 237.84H1123.64V242.92H1118.65zM1183.45 237.84H1188.44V242.92H1183.45zM1213.36 237.84H1218.35V242.92H1213.36zM1238.28 237.84H1243.27V242.92H1238.28zM1248.25 237.84H1253.24V242.92H1248.25zM729.85 242.92H734.83V248.01H729.85zM964.13 242.92H969.11V248.01H964.13zM1233.3 242.92H1238.28V248.01H1233.3zM844.5 248.01H849.48V253.1H844.5zM984.07 248.01H989.05V253.1H984.07zM994.04 248.01H999.02V253.1H994.04zM1083.76 248.01H1088.74V253.1H1083.76zM979.08 258.18H984.07V263.27H979.08zM774.71 268.35H779.7V273.44H774.71zM884.37 268.35H889.36V273.44H884.37zM919.27 268.35H924.25V273.44H919.27zM1088.74 268.35H1093.73V273.44H1088.74zM769.73 273.44H779.7V278.53H769.73zM874.4 273.44H879.39V278.53H874.4zM889.36 273.44H894.34V278.53H889.36zM914.28 273.44H919.27V278.53H914.28zM929.24 273.44H939.21V278.53H929.24zM1028.93 273.44H1033.91V278.53H1028.93zM1068.81 273.44H1073.79V278.53H1068.81zM1078.78 273.44H1083.76V278.53H1078.78zM1098.71 273.44H1103.7V278.53H1098.71zM1148.56 273.44H1153.55V278.53H1148.56zM1178.47 273.44H1183.45V278.53H1178.47zM1208.38 273.44H1213.36V278.53H1208.38zM1248.25 273.44H1253.24V278.53H1248.25zM1258.22 273.44H1263.21V278.53H1258.22zM884.37 278.53H889.36V283.61H884.37zM894.34 278.53H899.33V283.61H894.34zM1023.94 278.53H1028.93V283.61H1023.94zM1093.73 278.53H1103.7V283.61H1093.73zM884.37 283.61H889.36V288.7H884.37zM1023.94 283.61H1028.93V288.7H1023.94zM1093.73 283.61H1098.71V288.7H1093.73zM734.83 288.7H744.8V293.78H734.83zM754.77 288.7H759.76V293.78H754.77zM769.73 288.7H779.7V293.78H769.73zM784.68 288.7H789.67V293.78H784.68zM919.27 288.7H924.25V293.78H919.27zM949.17 288.7H954.16V293.78H949.17zM1018.96 288.7H1023.94V293.78H1018.96zM1043.88 288.7H1048.87V293.78H1043.88zM1088.74 288.7H1093.73V293.78H1088.74zM1098.71 288.7H1103.7V293.78H1098.71zM1108.68 288.7H1123.64V293.78H1108.68zM1178.47 288.7H1193.42V293.78H1178.47zM1258.22 288.7H1268.19V293.78H1258.22zM789.67 293.78H794.65V298.87H789.67zM939.21 293.78H944.19V298.87H939.21zM1013.97 293.78H1023.94V298.87H1013.97zM1258.22 293.78H1273.18V298.87H1258.22zM729.85 298.87H734.83V303.96H729.85zM1013.97 298.87H1018.96V303.96H1013.97zM1098.71 298.87H1103.7V303.96H1098.71zM1268.19 298.87H1273.18V303.96H1268.19zM749.79 303.96H754.77V309.04H749.79zM919.27 303.96H924.25V309.04H919.27zM939.21 303.96H944.19V309.04H939.21zM1013.97 303.96H1018.96V309.04H1013.97zM1108.68 303.96H1113.67V309.04H1108.68zM1258.22 303.96H1263.21V309.04H1258.22zM1268.19 303.96H1273.18V309.04H1268.19zM1078.78 309.04H1083.76V314.13H1078.78zM1208.38 309.04H1213.36V314.13H1208.38zM829.54 314.13H834.53V319.21H829.54zM884.37 314.13H889.36V319.21H884.37zM1208.38 314.13H1213.36V319.21H1208.38zM844.5 319.21H849.48V324.3H844.5zM1068.81 319.21H1073.79V324.3H1068.81zM1078.78 319.21H1083.76V324.3H1078.78zM984.07 324.3H999.02V329.39H984.07zM1098.71 324.3H1103.7V329.39H1098.71zM1258.22 324.3H1263.21V329.39H1258.22zM1268.19 324.3H1273.18V329.39H1268.19zM844.5 329.39H849.48V334.47H844.5zM869.42 329.39H874.4V334.47H869.42zM979.08 329.39H989.05V334.47H979.08zM1068.81 329.39H1073.79V334.47H1068.81zM1098.71 329.39H1103.7V334.47H1098.71zM1258.22 329.39H1273.18V334.47H1258.22zM859.45 334.47H864.44V339.56H859.45zM869.42 334.47H874.4V339.56H869.42zM904.31 334.47H909.3V339.56H904.31zM914.28 334.47H919.27V339.56H914.28zM969.11 334.47H979.08V339.56H969.11zM1108.68 334.47H1113.67V339.56H1108.68zM1118.65 334.47H1123.64V339.56H1118.65zM1148.56 334.47H1153.55V339.56H1148.56zM1208.38 334.47H1213.36V339.56H1208.38zM1288.13 334.47H1293.12V339.56H1288.13zM914.28 339.56H919.27V344.64H914.28zM964.13 339.56H969.11V344.64H964.13zM914.28 349.73H919.27V354.82H914.28zM1168.5 349.73H1173.48V354.82H1168.5zM1258.22 349.73H1263.21V354.82H1258.22zM1268.19 349.73H1273.18V354.82H1268.19zM1288.13 349.73H1298.1V354.82H1288.13zM729.85 354.82H734.83V359.9H729.85zM899.33 354.82H904.31V359.9H899.33zM909.3 354.82H914.28V359.9H909.3zM979.08 354.82H984.07V359.9H979.08zM1163.51 354.82H1168.5V359.9H1163.51zM1208.38 354.82H1213.36V359.9H1208.38zM1273.18 354.82H1288.13V359.9H1273.18zM909.3 359.9H919.27V364.99H909.3zM1258.22 359.9H1263.21V364.99H1258.22zM904.31 364.99H909.3V370.07H904.31zM914.28 364.99H919.27V370.07H914.28zM1258.22 364.99H1263.21V370.07H1258.22zM914.28 370.07H919.27V375.16H914.28zM844.5 375.16H849.48V380.25H844.5zM1168.5 375.16H1178.47V380.25H1168.5zM769.73 380.25H779.7V385.33H769.73zM844.5 380.25H849.48V385.33H844.5zM964.13 380.25H969.11V385.33H964.13zM1008.99 380.25H1013.97V385.33H1008.99zM1018.96 380.25H1023.94V385.33H1018.96zM1173.48 380.25H1178.47V385.33H1173.48zM1173.48 385.33H1178.47V390.42H1173.48zM839.51 390.42H844.5V395.5H839.51zM854.47 390.42H859.45V395.5H854.47zM869.42 390.42H874.4V395.5H869.42zM964.13 390.42H969.11V395.5H964.13zM999.02 390.42H1004.01V395.5H999.02zM1008.99 390.42H1013.97V395.5H1008.99zM1268.19 390.42H1273.18V395.5H1268.19zM869.42 395.5H874.4V400.59H869.42zM939.21 395.5H944.19V400.59H939.21zM1163.51 395.5H1173.48V400.59H1163.51zM959.14 400.59H964.13V405.68H959.14zM979.08 400.59H984.07V405.68H979.08zM759.76 405.68H764.74V410.76H759.76zM829.54 405.68H839.51V410.76H829.54zM844.5 405.68H849.48V410.76H844.5zM969.11 405.68H979.08V410.76H969.11zM1208.38 405.68H1213.36V410.76H1208.38zM729.85 410.76H734.83V415.85H729.85zM759.76 410.76H764.74V415.85H759.76zM919.27 410.76H924.25V415.85H919.27zM964.13 410.76H974.1V415.85H964.13zM979.08 410.76H984.07V415.85H979.08zM989.05 410.76H994.04V415.85H989.05zM1013.97 410.76H1023.94V415.85H1013.97zM1108.68 410.76H1118.65V415.85H1108.68zM1203.39 410.76H1208.38V415.85H1203.39zM1258.22 410.76H1263.21V415.85H1258.22zM1268.19 410.76H1273.18V415.85H1268.19zM769.73 420.93H774.71V426.02H769.73zM979.08 420.93H984.07V426.02H979.08zM994.04 420.93H999.02V426.02H994.04zM1023.94 420.93H1028.93V426.02H1023.94zM1098.71 420.93H1103.7V426.02H1098.71zM1178.47 420.93H1183.45V426.02H1178.47zM1188.44 420.93H1193.42V426.02H1188.44zM1268.19 420.93H1273.18V426.02H1268.19zM774.71 426.02H779.7V431.11H774.71zM919.27 426.02H924.25V431.11H919.27zM979.08 426.02H984.07V431.11H979.08zM1098.71 426.02H1103.7V431.11H1098.71zM1208.38 426.02H1213.36V431.11H1208.38zM1268.19 426.02H1273.18V431.11H1268.19zM919.27 431.11H924.25V436.19H919.27zM929.24 431.11H934.22V436.19H929.24zM979.08 431.11H984.07V436.19H979.08zM1023.94 431.11H1028.93V436.19H1023.94zM1258.22 431.11H1263.21V436.19H1258.22zM784.68 436.19H789.67V441.28H784.68zM1268.19 436.19H1273.18V441.28H1268.19zM779.7 446.36H784.68V451.45H779.7zM964.13 461.62H969.11V466.71H964.13zM1023.94 461.62H1028.93V466.71H1023.94zM829.54 466.71H834.53V471.79H829.54zM1208.38 466.71H1213.36V471.79H1208.38zM769.73 476.88H774.71V481.96H769.73zM844.5 476.88H849.48V481.96H844.5zM869.42 476.88H874.4V481.96H869.42zM1043.88 476.88H1048.87V481.96H1043.88zM1083.76 476.88H1088.74V481.96H1083.76zM1213.36 476.88H1218.35V481.96H1213.36zM769.73 481.96H774.71V487.05H769.73zM844.5 481.96H849.48V487.05H844.5zM1038.9 481.96H1043.88V487.05H1038.9zM1063.82 481.96H1068.81V487.05H1063.82zM1083.76 481.96H1088.74V487.05H1083.76zM1193.42 481.96H1208.38V487.05H1193.42zM1063.82 487.05H1078.78V492.14H1063.82zM1208.38 487.05H1213.36V492.14H1208.38zM739.82 492.14H744.8V497.22H739.82zM964.13 492.14H969.11V497.22H964.13zM979.08 492.14H984.07V497.22H979.08zM1108.68 492.14H1113.67V497.22H1108.68zM729.85 497.22H734.83V502.31H729.85zM744.8 497.22H749.79V502.31H744.8zM919.27 497.22H924.25V502.31H919.27zM929.24 497.22H934.22V502.31H929.24zM979.08 497.22H984.07V502.31H979.08zM759.76 502.31H764.74V507.39H759.76zM829.54 502.31H834.53V507.39H829.54zM979.08 502.31H984.07V507.39H979.08zM1108.68 502.31H1113.67V507.39H1108.68zM1168.5 507.39H1173.48V512.48H1168.5zM1268.19 507.39H1273.18V512.48H1268.19zM1293.12 507.39H1298.1V512.48H1293.12zM1168.5 512.48H1173.48V517.57H1168.5zM1098.71 517.57H1103.7V522.65H1098.71zM1168.5 517.57H1173.48V522.65H1168.5zM1288.13 517.57H1293.12V522.65H1288.13zM799.64 522.65H804.62V527.74H799.64zM834.53 522.65H839.51V527.74H834.53zM869.42 522.65H874.4V527.74H869.42zM894.34 522.65H899.33V527.74H894.34zM919.27 522.65H924.25V527.74H919.27zM964.13 522.65H969.11V527.74H964.13zM999.02 522.65H1008.99V527.74H999.02zM1023.94 522.65H1028.93V527.74H1023.94zM1043.88 522.65H1048.87V527.74H1043.88zM1093.73 522.65H1098.71V527.74H1093.73zM1113.67 522.65H1118.65V527.74H1113.67zM1153.55 522.65H1158.53V527.74H1153.55zM1173.48 522.65H1178.47V527.74H1173.48zM1258.22 522.65H1263.21V527.74H1258.22zM819.57 527.74H829.54V532.82H819.57zM834.53 527.74H839.51V532.82H834.53zM929.24 527.74H934.22V532.82H929.24zM1163.51 527.74H1168.5V532.82H1163.51zM829.54 537.91H834.53V543H829.54zM1283.15 537.91H1288.13V543H1283.15zM844.5 543H849.48V548.08H844.5zM1258.22 543H1263.21V548.08H1258.22zM784.68 548.08H789.67V553.17H784.68zM829.54 548.08H834.53V553.17H829.54zM844.5 548.08H849.48V553.17H844.5zM914.28 548.08H929.24V553.17H914.28zM934.22 548.08H939.21V553.17H934.22zM784.68 553.17H804.62V558.25H784.68zM829.54 553.17H834.53V558.25H829.54zM839.51 553.17H844.5V558.25H839.51zM914.28 553.17H919.27V558.25H914.28zM924.25 553.17H934.22V558.25H924.25zM794.65 558.25H799.64V563.34H794.65zM844.5 558.25H849.48V563.34H844.5zM1288.13 558.25H1293.12V563.34H1288.13zM784.68 563.34H789.67V568.43H784.68zM794.65 563.34H799.64V568.43H794.65zM829.54 563.34H834.53V568.43H829.54zM844.5 563.34H849.48V568.43H844.5zM929.24 563.34H934.22V568.43H929.24zM964.13 563.34H969.11V568.43H964.13zM1263.21 563.34H1268.19V568.43H1263.21zM834.53 568.43H839.51V573.51H834.53zM884.37 568.43H889.36V573.51H884.37zM919.27 568.43H924.25V573.51H919.27zM769.73 573.51H784.68V578.6H769.73zM789.67 573.51H794.65V578.6H789.67zM799.64 573.51H804.62V578.6H799.64zM824.56 573.51H829.54V578.6H824.56zM834.53 573.51H839.51V578.6H834.53zM884.37 573.51H889.36V578.6H884.37zM964.13 573.51H969.11V578.6H964.13zM979.08 573.51H989.05V578.6H979.08zM994.04 573.51H999.02V578.6H994.04zM1013.97 573.51H1023.94V578.6H1013.97zM1038.9 573.51H1043.88V578.6H1038.9zM1048.87 573.51H1058.84V578.6H1048.87zM1098.71 573.51H1103.7V578.6H1098.71zM1118.65 573.51H1123.64V578.6H1118.65zM1208.38 573.51H1213.36V578.6H1208.38zM1228.31 573.51H1233.3V578.6H1228.31zM774.71 578.6H779.7V583.68H774.71zM784.68 578.6H794.65V583.68H784.68zM819.57 578.6H824.56V583.68H819.57zM829.54 578.6H839.51V583.68H829.54zM979.08 578.6H989.05V583.68H979.08zM1018.96 578.6H1023.94V583.68H1018.96zM1248.25 578.6H1253.24V583.68H1248.25zM799.64 583.68H804.62V588.77H799.64zM824.56 583.68H829.54V588.77H824.56zM844.5 583.68H849.48V588.77H844.5zM884.37 583.68H889.36V588.77H884.37zM894.34 583.68H899.33V588.77H894.34zM984.07 583.68H999.02V588.77H984.07zM1013.97 583.68H1023.94V588.77H1013.97zM1038.9 583.68H1043.88V588.77H1038.9zM1078.78 583.68H1083.76V588.77H1078.78zM1098.71 583.68H1103.7V588.77H1098.71zM1108.68 583.68H1118.65V588.77H1108.68zM1123.64 583.68H1128.62V588.77H1123.64zM1193.42 583.68H1198.41V588.77H1193.42zM1043.88 588.77H1048.87V593.86H1043.88zM734.83 593.86H744.8V598.94H734.83zM1043.88 593.86H1048.87V598.94H1043.88zM869.42 598.94H874.4V604.03H869.42zM1043.88 598.94H1048.87V604.03H1043.88zM1223.33 598.94H1228.31V604.03H1223.33zM869.42 604.03H874.4V609.11H869.42zM1023.94 604.03H1028.93V609.11H1023.94zM1038.9 604.03H1043.88V609.11H1038.9zM1203.39 604.03H1208.38V609.11H1203.39zM1243.27 604.03H1248.25V609.11H1243.27zM869.42 609.11H874.4V614.2H869.42zM1038.9 609.11H1043.88V614.2H1038.9zM1193.42 609.11H1198.41V614.2H1193.42z"/>
<path fill="#7aaddb" d="M819.57 34.4H824.56V39.49H819.57zM844.5 34.4H849.48V39.49H844.5zM919.27 34.4H924.25V39.49H919.27zM979.08 34.4H984.07V39.49H979.08zM1278.16 34.4H1283.15V39.49H1278.16zM1293.12 39.49H1298.1V44.57H1293.12zM919.27 44.57H924.25V49.66H919.27zM829.54 49.66H834.53V54.74H829.54zM1293.12 49.66H1298.1V54.74H1293.12zM944.19 54.74H949.17V59.83H944.19zM1268.19 59.83H1278.16V64.92H1268.19zM1273.18 64.92H1278.16V70H1273.18zM1078.78 75.09H1083.76V80.17H1078.78zM1113.67 75.09H1118.65V80.17H1113.67zM1268.19 75.09H1273.18V80.17H1268.19zM1078.78 80.17H1083.76V85.26H1078.78zM1128.62 80.17H1138.59V85.26H1128.62zM1268.19 80.17H1273.18V85.26H1268.19zM889.36 85.26H894.34V90.35H889.36zM1138.59 85.26H1143.58V90.35H1138.59zM1138.59 90.35H1143.58V95.43H1138.59zM1188.44 90.35H1193.42V95.43H1188.44zM1268.19 90.35H1273.18V95.43H1268.19zM1233.3 95.43H1238.28V100.52H1233.3zM1268.19 95.43H1273.18V100.52H1268.19zM1078.78 115.78H1083.76V120.86H1078.78zM729.85 125.95H734.83V131.03H729.85zM1218.35 125.95H1228.31V131.03H1218.35zM1258.22 125.95H1263.21V131.03H1258.22zM1268.19 125.95H1273.18V131.03H1268.19zM1208.38 131.03H1213.36V136.12H1208.38zM744.8 136.12H749.79V141.21H744.8zM1098.71 136.12H1103.7V141.21H1098.71zM1218.35 136.12H1223.33V141.21H1218.35zM1258.22 136.12H1263.21V141.21H1258.22zM1268.19 136.12H1273.18V141.21H1268.19zM1268.19 141.21H1273.18V146.29H1268.19zM964.13 146.29H969.11V151.38H964.13zM1208.38 146.29H1213.36V151.38H1208.38zM729.85 151.38H734.83V156.46H729.85zM949.17 151.38H954.16V156.46H949.17zM1013.97 151.38H1018.96V156.46H1013.97zM1078.78 151.38H1083.76V156.46H1078.78zM1088.74 151.38H1093.73V156.46H1088.74zM1098.71 151.38H1103.7V156.46H1098.71zM1208.38 151.38H1218.35V156.46H1208.38zM1238.28 151.38H1243.27V156.46H1238.28zM964.13 166.64H969.11V171.72H964.13zM994.04 166.64H999.02V171.72H994.04zM969.11 171.72H974.1V176.81H969.11zM1068.81 176.81H1073.79V181.89H1068.81zM969.11 181.89H974.1V186.98H969.11zM919.27 192.06H924.25V197.15H919.27zM964.13 192.06H969.11V197.15H964.13zM1208.38 192.06H1213.36V197.15H1208.38zM779.7 197.15H784.68V202.24H779.7zM959.14 202.24H969.11V207.32H959.14zM999.02 202.24H1004.01V207.32H999.02zM1043.88 212.41H1048.87V217.49H1043.88zM729.85 227.67H734.83V232.75H729.85zM739.82 227.67H744.8V232.75H739.82zM884.37 227.67H889.36V232.75H884.37zM964.13 227.67H969.11V232.75H964.13zM1043.88 227.67H1048.87V232.75H1043.88zM1108.68 227.67H1113.67V232.75H1108.68zM1248.25 227.67H1253.24V232.75H1248.25zM1233.3 237.84H1238.28V242.92H1233.3zM1078.78 248.01H1083.76V253.1H1078.78zM749.79 253.1H754.77V258.18H749.79zM844.5 258.18H849.48V263.27H844.5zM894.34 268.35H899.33V273.44H894.34zM1093.73 268.35H1103.7V273.44H1093.73zM839.51 273.44H844.5V278.53H839.51zM859.45 273.44H864.44V278.53H859.45zM884.37 273.44H889.36V278.53H884.37zM894.34 273.44H899.33V278.53H894.34zM919.27 273.44H924.25V278.53H919.27zM864.44 278.53H869.42V283.61H864.44zM874.4 278.53H879.39V283.61H874.4zM729.85 288.7H734.83V293.78H729.85zM1013.97 288.7H1018.96V293.78H1013.97zM1023.94 288.7H1028.93V293.78H1023.94zM1038.9 288.7H1043.88V293.78H1038.9zM1233.3 288.7H1238.28V293.78H1233.3zM1268.19 288.7H1273.18V293.78H1268.19zM859.45 303.96H864.44V309.04H859.45zM894.34 309.04H899.33V314.13H894.34zM1138.59 319.21H1143.58V324.3H1138.59zM844.5 324.3H849.48V329.39H844.5zM979.08 324.3H984.07V329.39H979.08zM1078.78 324.3H1083.76V329.39H1078.78zM1153.55 324.3H1158.53V329.39H1153.55zM1078.78 329.39H1083.76V334.47H1078.78zM1093.73 329.39H1098.71V334.47H1093.73zM1143.58 329.39H1148.56V334.47H1143.58zM979.08 334.47H984.07V339.56H979.08zM1113.67 334.47H1118.65V339.56H1113.67zM1143.58 334.47H1148.56V339.56H1143.58zM1153.55 334.47H1158.53V339.56H1153.55zM1153.55 339.56H1158.53V344.64H1153.55zM979.08 349.73H984.07V354.82H979.08zM904.31 354.82H909.3V359.9H904.31zM919.27 354.82H924.25V359.9H919.27zM1098.71 354.82H1103.7V359.9H1098.71zM1258.22 354.82H1263.21V359.9H1258.22zM1268.19 354.82H1273.18V359.9H1268.19zM1288.13 354.82H1298.1V359.9H1288.13zM1288.13 359.9H1293.12V364.99H1288.13zM869.42 380.25H874.4V385.33H869.42zM1168.5 385.33H1173.48V390.42H1168.5zM769.73 390.42H779.7V395.5H769.73zM809.6 390.42H814.59V395.5H809.6zM844.5 390.42H849.48V395.5H844.5zM939.21 390.42H944.19V395.5H939.21zM1013.97 390.42H1023.94V395.5H1013.97zM1163.51 390.42H1178.47V395.5H1163.51zM844.5 400.59H849.48V405.68H844.5zM959.14 405.68H964.13V410.76H959.14zM1018.96 405.68H1023.94V410.76H1018.96zM1183.45 405.68H1188.44V410.76H1183.45zM829.54 410.76H834.53V415.85H829.54zM844.5 410.76H849.48V415.85H844.5zM959.14 410.76H964.13V415.85H959.14zM1043.88 410.76H1048.87V415.85H1043.88zM1183.45 410.76H1188.44V415.85H1183.45zM919.27 420.93H924.25V426.02H919.27zM1183.45 420.93H1188.44V426.02H1183.45zM769.73 426.02H774.71V431.11H769.73zM1023.94 426.02H1028.93V431.11H1023.94zM1258.22 426.02H1263.21V431.11H1258.22zM774.71 441.28H779.7V446.36H774.71zM774.71 446.36H779.7V451.45H774.71zM779.7 451.45H789.67V456.54H779.7zM1008.99 451.45H1013.97V456.54H1008.99zM1018.96 456.54H1028.93V461.62H1018.96zM1013.97 466.71H1018.96V471.79H1013.97zM1023.94 466.71H1033.91V471.79H1023.94zM1078.78 476.88H1083.76V481.96H1078.78zM1208.38 476.88H1213.36V481.96H1208.38zM1073.79 481.96H1083.76V487.05H1073.79zM1183.45 481.96H1188.44V487.05H1183.45zM1208.38 481.96H1218.35V487.05H1208.38zM1078.78 487.05H1083.76V492.14H1078.78zM1093.73 497.22H1103.7V502.31H1093.73zM1108.68 497.22H1113.67V502.31H1108.68zM1168.5 497.22H1173.48V502.31H1168.5zM784.68 502.31H789.67V507.39H784.68zM1263.21 502.31H1268.19V507.39H1263.21zM1293.12 502.31H1298.1V507.39H1293.12zM1253.24 507.39H1258.22V512.48H1253.24zM1288.13 512.48H1293.12V517.57H1288.13zM1278.16 517.57H1288.13V522.65H1278.16zM824.56 522.65H829.54V527.74H824.56zM839.51 522.65H849.48V527.74H839.51zM884.37 522.65H889.36V527.74H884.37zM1163.51 522.65H1173.48V527.74H1163.51zM844.5 527.74H849.48V532.82H844.5zM1168.5 527.74H1173.48V532.82H1168.5zM819.57 532.82H824.56V537.91H819.57zM829.54 532.82H834.53V537.91H829.54zM1253.24 532.82H1263.21V537.91H1253.24zM1273.18 532.82H1278.16V537.91H1273.18zM819.57 537.91H824.56V543H819.57zM1253.24 543H1258.22V548.08H1253.24zM1283.15 543H1288.13V548.08H1283.15zM1293.12 543H1298.1V548.08H1293.12zM789.67 548.08H794.65V553.17H789.67zM929.24 548.08H934.22V553.17H929.24zM979.08 548.08H984.07V553.17H979.08zM1253.24 548.08H1258.22V553.17H1253.24zM844.5 553.17H849.48V558.25H844.5zM1258.22 553.17H1263.21V558.25H1258.22zM1253.24 558.25H1258.22V563.34H1253.24zM919.27 563.34H924.25V568.43H919.27zM1253.24 563.34H1258.22V568.43H1253.24zM1193.42 568.43H1198.41V573.51H1193.42zM1218.35 568.43H1223.33V573.51H1218.35zM1228.31 568.43H1238.28V573.51H1228.31zM1243.27 568.43H1253.24V573.51H1243.27zM819.57 573.51H824.56V578.6H819.57zM829.54 573.51H834.53V578.6H829.54zM1043.88 573.51H1048.87V578.6H1043.88zM1113.67 573.51H1118.65V578.6H1113.67zM1218.35 573.51H1223.33V578.6H1218.35zM1238.28 573.51H1243.27V578.6H1238.28zM1188.44 578.6H1193.42V583.68H1188.44zM754.77 583.68H759.76V588.77H754.77zM769.73 583.68H779.7V588.77H769.73zM784.68 583.68H794.65V588.77H784.68zM819.57 583.68H824.56V588.77H819.57zM829.54 583.68H839.51V588.77H829.54zM979.08 583.68H984.07V588.77H979.08zM1043.88 583.68H1048.87V588.77H1043.88zM754.77 588.77H764.74V593.86H754.77zM1218.35 588.77H1223.33V593.86H1218.35zM729.85 593.86H734.83V598.94H729.85zM1203.39 593.86H1208.38V598.94H1203.39zM1203.39 598.94H1208.38V604.03H1203.39zM1228.31 598.94H1233.3V604.03H1228.31zM1043.88 604.03H1053.85V609.11H1043.88zM1198.41 604.03H1203.39V609.11H1198.41zM734.83 609.11H739.82V614.2H734.83zM744.8 609.11H749.79V614.2H744.8zM1043.88 609.11H1048.87V614.2H1043.88zM1188.44 609.11H1193.42V614.2H1188.44zM1228.31 609.11H1233.3V614.2H1228.31z"/>
<path fill="#81b2dd" d="M829.54 34.4H834.53V39.49H829.54zM939.21 39.49H944.19V44.57H939.21zM999.02 44.57H1004.01V49.66H999.02zM1283.15 44.57H1288.13V49.66H1283.15zM1268.19 49.66H1273.18V54.74H1268.19zM884.37 70H889.36V75.09H884.37zM904.31 80.17H909.3V85.26H904.31zM1248.25 95.43H1253.24V100.52H1248.25zM729.85 136.12H734.83V141.21H729.85zM1213.36 136.12H1218.35V141.21H1213.36zM884.37 141.21H889.36V146.29H884.37zM894.34 141.21H899.33V146.29H894.34zM894.34 146.29H899.33V151.38H894.34zM904.31 146.29H909.3V151.38H904.31zM984.07 161.55H989.05V166.64H984.07zM969.11 166.64H974.1V171.72H969.11zM969.11 176.81H974.1V181.89H969.11zM1178.47 186.98H1183.45V192.06H1178.47zM764.74 192.06H769.73V197.15H764.74zM834.53 192.06H839.51V197.15H834.53zM834.53 202.24H844.5V207.32H834.53zM774.71 212.41H779.7V217.49H774.71zM839.51 212.41H844.5V217.49H839.51zM1043.88 222.58H1048.87V227.67H1043.88zM1078.78 222.58H1083.76V227.67H1078.78zM1238.28 227.67H1243.27V232.75H1238.28zM734.83 248.01H739.82V253.1H734.83zM979.08 248.01H984.07V253.1H979.08zM1023.94 273.44H1028.93V278.53H1023.94zM1093.73 273.44H1098.71V278.53H1093.73zM859.45 278.53H864.44V283.61H859.45zM869.42 278.53H874.4V283.61H869.42zM939.21 288.7H944.19V293.78H939.21zM854.47 293.78H859.45V298.87H854.47zM739.82 309.04H744.8V314.13H739.82zM1068.81 324.3H1073.79V329.39H1068.81zM1148.56 329.39H1153.55V334.47H1148.56zM1163.51 329.39H1168.5V334.47H1163.51zM964.13 334.47H969.11V339.56H964.13zM1168.5 339.56H1173.48V344.64H1168.5zM914.28 354.82H919.27V359.9H914.28zM1013.97 380.25H1018.96V385.33H1013.97zM1168.5 380.25H1173.48V385.33H1168.5zM914.28 390.42H919.27V395.5H914.28zM964.13 405.68H969.11V410.76H964.13zM1018.96 461.62H1023.94V466.71H1018.96zM1018.96 476.88H1023.94V481.96H1018.96zM1028.93 481.96H1033.91V487.05H1028.93zM1068.81 481.96H1073.79V487.05H1068.81zM879.39 492.14H884.37V497.22H879.39zM1193.42 502.31H1198.41V507.39H1193.42zM1278.16 502.31H1288.13V507.39H1278.16zM1188.44 507.39H1193.42V512.48H1188.44zM1278.16 507.39H1283.15V512.48H1278.16zM1288.13 507.39H1293.12V512.48H1288.13zM1258.22 512.48H1263.21V517.57H1258.22zM1273.18 512.48H1283.15V517.57H1273.18zM1273.18 517.57H1278.16V522.65H1273.18zM1278.16 522.65H1283.15V527.74H1278.16zM829.54 527.74H834.53V532.82H829.54zM1288.13 532.82H1293.12V537.91H1288.13zM1253.24 537.91H1258.22V543H1253.24zM1288.13 537.91H1293.12V543H1288.13zM1273.18 543H1278.16V548.08H1273.18zM919.27 553.17H924.25V558.25H919.27zM1273.18 553.17H1278.16V558.25H1273.18zM1283.15 558.25H1288.13V563.34H1283.15zM1293.12 558.25H1298.1V563.34H1293.12zM789.67 563.34H794.65V568.43H789.67zM1293.12 563.34H1298.1V568.43H1293.12zM1223.33 568.43H1228.31V573.51H1223.33zM1198.41 573.51H1203.39V578.6H1198.41zM744.8 583.68H749.79V588.77H744.8zM1198.41 588.77H1208.38V593.86H1198.41zM1228.31 588.77H1233.3V593.86H1228.31zM1238.28 588.77H1243.27V593.86H1238.28zM1188.44 593.86H1203.39V598.94H1188.44zM1208.38 593.86H1213.36V598.94H1208.38zM739.82 598.94H744.8V604.03H739.82zM1188.44 598.94H1193.42V604.03H1188.44zM1243.27 598.94H1248.25V604.03H1243.27zM1193.42 604.03H1198.41V609.11H1193.42zM1218.35 604.03H1228.31V609.11H1218.35zM1243.27 609.11H1253.24V614.2H1243.27z"/>
<path fill="#89b6df" d="M1268.19 34.4H1273.18V39.49H1268.19zM944.19 39.49H949.17V44.57H944.19zM1004.01 39.49H1008.99V44.57H1004.01zM1268.19 39.49H1273.18V44.57H1268.19zM1283.15 39.49H1293.12V44.57H1283.15zM1268.19 54.74H1273.18V59.83H1268.19zM1283.15 64.92H1288.13V70H1283.15zM894.34 70H904.31V75.09H894.34zM894.34 75.09H899.33V80.17H894.34zM909.3 80.17H914.28V85.26H909.3zM1153.55 80.17H1158.53V85.26H1153.55zM1128.62 85.26H1133.61V90.35H1128.62zM1128.62 90.35H1133.61V95.43H1128.62zM1143.58 90.35H1158.53V95.43H1143.58zM1208.38 125.95H1213.36V131.03H1208.38zM1208.38 136.12H1213.36V141.21H1208.38zM889.36 141.21H894.34V146.29H889.36zM974.1 161.55H979.08V166.64H974.1zM979.08 176.81H984.07V181.89H979.08zM989.05 176.81H999.02V181.89H989.05zM994.04 181.89H999.02V186.98H994.04zM1173.48 192.06H1183.45V197.15H1173.48zM834.53 197.15H839.51V202.24H834.53zM764.74 202.24H774.71V207.32H764.74zM764.74 207.32H769.73V212.41H764.74zM774.71 217.49H779.7V222.58H774.71zM1053.85 248.01H1058.84V253.1H1053.85zM734.83 253.1H739.82V258.18H734.83zM969.11 268.35H974.1V273.44H969.11zM974.1 273.44H979.08V278.53H974.1zM1053.85 273.44H1058.84V278.53H1053.85zM959.14 278.53H964.13V283.61H959.14zM854.47 283.61H859.45V288.7H854.47zM964.13 283.61H969.11V288.7H964.13zM869.42 288.7H874.4V293.78H869.42zM994.04 288.7H999.02V293.78H994.04zM869.42 298.87H874.4V303.96H869.42zM869.42 303.96H879.39V309.04H869.42zM979.08 303.96H984.07V309.04H979.08zM734.83 314.13H739.82V319.21H734.83zM1163.51 324.3H1168.5V329.39H1163.51zM1173.48 324.3H1178.47V329.39H1173.48zM1168.5 329.39H1173.48V334.47H1168.5zM1153.55 344.64H1158.53V349.73H1153.55zM1173.48 344.64H1178.47V349.73H1173.48zM939.21 364.99H944.19V370.07H939.21zM964.13 364.99H969.11V370.07H964.13zM779.7 441.28H789.67V446.36H779.7zM1198.41 446.36H1203.39V451.45H1198.41zM1233.3 451.45H1238.28V456.54H1233.3zM784.68 456.54H789.67V461.62H784.68zM784.68 461.62H789.67V466.71H784.68zM774.71 466.71H779.7V471.79H774.71zM784.68 466.71H789.67V471.79H784.68zM1033.91 466.71H1038.9V471.79H1033.91zM1013.97 476.88H1018.96V481.96H1013.97zM1018.96 481.96H1023.94V487.05H1018.96zM884.37 487.05H889.36V492.14H884.37zM1013.97 487.05H1018.96V492.14H1013.97zM1033.91 487.05H1038.9V492.14H1033.91zM884.37 492.14H889.36V497.22H884.37zM1133.61 512.48H1138.59V517.57H1133.61zM1213.36 512.48H1218.35V517.57H1213.36zM1253.24 512.48H1258.22V517.57H1253.24zM1293.12 512.48H1298.1V517.57H1293.12zM819.57 522.65H824.56V527.74H819.57zM829.54 522.65H834.53V527.74H829.54zM1243.27 522.65H1248.25V527.74H1243.27zM1198.41 527.74H1203.39V532.82H1198.41zM1258.22 527.74H1263.21V532.82H1258.22zM1273.18 527.74H1278.16V532.82H1273.18zM1233.3 537.91H1238.28V543H1233.3zM1268.19 537.91H1283.15V543H1268.19zM1268.19 543H1273.18V548.08H1268.19zM1138.59 548.08H1143.58V553.17H1138.59zM1223.33 548.08H1228.31V553.17H1223.33zM1268.19 548.08H1273.18V553.17H1268.19zM1288.13 548.08H1293.12V553.17H1288.13zM1263.21 553.17H1268.19V558.25H1263.21zM1208.38 558.25H1213.36V563.34H1208.38zM1198.41 568.43H1203.39V573.51H1198.41zM1213.36 573.51H1218.35V578.6H1213.36zM1238.28 578.6H1243.27V583.68H1238.28zM729.85 583.68H739.82V588.77H729.85zM749.79 583.68H754.77V588.77H749.79zM1223.33 583.68H1238.28V588.77H1223.33zM1213.36 588.77H1218.35V593.86H1213.36zM1223.33 588.77H1228.31V593.86H1223.33zM1223.33 593.86H1228.31V598.94H1223.33zM734.83 598.94H739.82V604.03H734.83zM759.76 598.94H764.74V604.03H759.76zM734.83 604.03H739.82V609.11H734.83zM1233.3 604.03H1238.28V609.11H1233.3zM1198.41 609.11H1203.39V614.2H1198.41z"/>
<path fill="#90bae1" d="M1004.01 34.4H1008.99V39.49H1004.01zM1273.18 44.57H1278.16V49.66H1273.18zM749.79 49.66H754.77V54.74H749.79zM1288.13 49.66H1293.12V54.74H1288.13zM744.8 54.74H749.79V59.83H744.8zM1283.15 54.74H1288.13V59.83H1283.15zM764.74 64.92H769.73V70H764.74zM1288.13 64.92H1293.12V70H1288.13zM759.76 70H764.74V75.09H759.76zM909.3 70H919.27V75.09H909.3zM884.37 80.17H889.36V85.26H884.37zM1188.44 80.17H1198.41V85.26H1188.44zM914.28 85.26H919.27V90.35H914.28zM1133.61 90.35H1138.59V95.43H1133.61zM1188.44 95.43H1193.42V100.52H1188.44zM1078.78 120.86H1083.76V125.95H1078.78zM974.1 136.12H979.08V141.21H974.1zM889.36 146.29H894.34V151.38H889.36zM949.17 146.29H954.16V151.38H949.17zM964.13 151.38H969.11V156.46H964.13zM1058.84 156.46H1063.82V161.55H1058.84zM984.07 166.64H989.05V171.72H984.07zM1173.48 186.98H1178.47V192.06H1173.48zM774.71 192.06H779.7V197.15H774.71zM839.51 197.15H844.5V202.24H839.51zM764.74 217.49H769.73V222.58H764.74zM764.74 222.58H769.73V227.67H764.74zM779.7 222.58H784.68V227.67H779.7zM1053.85 237.84H1058.84V242.92H1053.85zM944.19 242.92H949.17V248.01H944.19zM934.22 253.1H939.21V258.18H934.22zM839.51 258.18H844.5V263.27H839.51zM989.05 263.27H994.04V268.35H989.05zM844.5 273.44H849.48V278.53H844.5zM829.54 283.61H834.53V288.7H829.54zM994.04 283.61H999.02V288.7H994.04zM859.45 293.78H864.44V298.87H859.45zM954.16 298.87H959.14V303.96H954.16zM974.1 303.96H979.08V309.04H974.1zM729.85 314.13H734.83V319.21H729.85zM1148.56 319.21H1153.55V324.3H1148.56zM1168.5 319.21H1178.47V324.3H1168.5zM1158.53 324.3H1163.51V329.39H1158.53zM1173.48 329.39H1178.47V334.47H1173.48zM1033.91 334.47H1038.9V339.56H1033.91zM1173.48 334.47H1178.47V339.56H1173.48zM1033.91 339.56H1038.9V344.64H1033.91zM1023.94 344.64H1033.91V349.73H1023.94zM929.24 364.99H934.22V370.07H929.24zM849.48 370.07H854.47V375.16H849.48zM814.59 390.42H819.57V395.5H814.59zM784.68 446.36H789.67V451.45H784.68zM1243.27 451.45H1248.25V456.54H1243.27zM1008.99 461.62H1013.97V466.71H1008.99zM1013.97 471.79H1018.96V476.88H1013.97zM1008.99 481.96H1013.97V487.05H1008.99zM879.39 487.05H884.37V492.14H879.39zM1008.99 487.05H1013.97V492.14H1008.99zM1018.96 487.05H1028.93V492.14H1018.96zM1278.16 492.14H1283.15V497.22H1278.16zM774.71 502.31H779.7V507.39H774.71zM789.67 502.31H794.65V507.39H789.67zM1248.25 502.31H1253.24V507.39H1248.25zM1273.18 502.31H1278.16V507.39H1273.18zM1288.13 502.31H1293.12V507.39H1288.13zM774.71 507.39H779.7V512.48H774.71zM1228.31 507.39H1233.3V512.48H1228.31zM1248.25 507.39H1253.24V512.48H1248.25zM1283.15 507.39H1288.13V512.48H1283.15zM1258.22 517.57H1263.21V522.65H1258.22zM1293.12 517.57H1298.1V522.65H1293.12zM1248.25 522.65H1253.24V527.74H1248.25zM1273.18 522.65H1278.16V527.74H1273.18zM1288.13 527.74H1293.12V532.82H1288.13zM1263.21 532.82H1268.19V537.91H1263.21zM1283.15 532.82H1288.13V537.91H1283.15zM1243.27 537.91H1248.25V543H1243.27zM1293.12 537.91H1298.1V543H1293.12zM1193.42 543H1198.41V548.08H1193.42zM1233.3 543H1238.28V548.08H1233.3zM1248.25 543H1253.24V548.08H1248.25zM1288.13 543H1293.12V548.08H1288.13zM1228.31 548.08H1233.3V553.17H1228.31zM1263.21 548.08H1268.19V553.17H1263.21zM1243.27 553.17H1248.25V558.25H1243.27zM1138.59 558.25H1143.58V563.34H1138.59zM1223.33 558.25H1228.31V563.34H1223.33zM1238.28 558.25H1243.27V563.34H1238.28zM1278.16 558.25H1283.15V563.34H1278.16zM1188.44 563.34H1198.41V568.43H1188.44zM1208.38 563.34H1213.36V568.43H1208.38zM1228.31 563.34H1233.3V568.43H1228.31zM1278.16 563.34H1288.13V568.43H1278.16zM1203.39 573.51H1208.38V578.6H1203.39zM1218.35 578.6H1223.33V583.68H1218.35zM1233.3 578.6H1238.28V583.68H1233.3zM739.82 588.77H744.8V593.86H739.82zM1188.44 588.77H1193.42V593.86H1188.44zM1208.38 588.77H1213.36V593.86H1208.38zM1178.47 593.86H1183.45V598.94H1178.47zM1243.27 593.86H1253.24V598.94H1243.27zM749.79 598.94H754.77V604.03H749.79zM1193.42 598.94H1198.41V604.03H1193.42zM1218.35 598.94H1223.33V604.03H1218.35zM1248.25 598.94H1253.24V604.03H1248.25zM744.8 604.03H749.79V609.11H744.8zM759.76 604.03H764.74V609.11H759.76zM1188.44 604.03H1193.42V609.11H1188.44zM1213.36 604.03H1218.35V609.11H1213.36zM1228.31 604.03H1233.3V609.11H1228.31zM1203.39 609.11H1208.38V614.2H1203.39zM1223.33 609.11H1228.31V614.2H1223.33z"/>
<path fill="#97bfe3" d="M939.21 34.4H944.19V39.49H939.21zM999.02 34.4H1004.01V39.49H999.02zM1273.18 34.4H1278.16V39.49H1273.18zM1288.13 34.4H1293.12V39.49H1288.13zM1273.18 54.74H1278.16V59.83H1273.18zM944.19 59.83H949.17V64.92H944.19zM1283.15 59.83H1288.13V64.92H1283.15zM884.37 75.09H889.36V80.17H884.37zM904.31 75.09H909.3V80.17H904.31zM1123.64 80.17H1128.62V85.26H1123.64zM1138.59 80.17H1143.58V85.26H1138.59zM1183.45 80.17H1188.44V85.26H1183.45zM1143.58 85.26H1148.56V90.35H1143.58zM789.67 90.35H794.65V95.43H789.67zM784.68 95.43H789.67V100.52H784.68zM829.54 95.43H834.53V100.52H829.54zM804.62 105.6H809.6V110.69H804.62zM829.54 105.6H834.53V110.69H829.54zM799.64 110.69H804.62V115.78H799.64zM789.67 136.12H794.65V141.21H789.67zM799.64 136.12H804.62V141.21H799.64zM909.3 141.21H914.28V146.29H909.3zM859.45 161.55H864.44V166.64H859.45zM854.47 166.64H859.45V171.72H854.47zM974.1 166.64H979.08V171.72H974.1zM989.05 171.72H994.04V176.81H989.05zM964.13 176.81H969.11V181.89H964.13zM769.73 192.06H774.71V197.15H769.73zM1178.47 197.15H1183.45V202.24H1178.47zM1168.5 202.24H1173.48V207.32H1168.5zM769.73 212.41H774.71V217.49H769.73zM834.53 217.49H839.51V222.58H834.53zM934.22 227.67H939.21V232.75H934.22zM949.17 227.67H954.16V232.75H949.17zM919.27 242.92H924.25V248.01H919.27zM1053.85 242.92H1058.84V248.01H1053.85zM729.85 248.01H734.83V253.1H729.85zM754.77 253.1H759.76V258.18H754.77zM1053.85 253.1H1058.84V258.18H1053.85zM919.27 258.18H924.25V263.27H919.27zM994.04 268.35H999.02V273.44H994.04zM1053.85 268.35H1058.84V273.44H1053.85zM869.42 273.44H874.4V278.53H869.42zM969.11 273.44H974.1V278.53H969.11zM964.13 278.53H969.11V283.61H964.13zM979.08 278.53H984.07V283.61H979.08zM989.05 278.53H994.04V283.61H989.05zM859.45 283.61H864.44V288.7H859.45zM969.11 288.7H974.1V293.78H969.11zM864.44 298.87H869.42V303.96H864.44zM969.11 298.87H974.1V303.96H969.11zM959.14 303.96H964.13V309.04H959.14zM729.85 309.04H734.83V314.13H729.85zM1028.93 319.21H1033.91V324.3H1028.93zM1163.51 319.21H1168.5V324.3H1163.51zM1023.94 329.39H1033.91V334.47H1023.94zM1018.96 334.47H1023.94V339.56H1018.96zM1028.93 334.47H1033.91V339.56H1028.93zM1158.53 334.47H1163.51V339.56H1158.53zM1168.5 334.47H1173.48V339.56H1168.5zM1008.99 339.56H1013.97V344.64H1008.99zM1018.96 339.56H1028.93V344.64H1018.96zM1158.53 339.56H1163.51V344.64H1158.53zM1143.58 344.64H1148.56V349.73H1143.58zM1068.81 349.73H1073.79V354.82H1068.81zM1078.78 349.73H1083.76V354.82H1078.78zM934.22 364.99H939.21V370.07H934.22zM944.19 364.99H949.17V370.07H944.19zM959.14 364.99H964.13V370.07H959.14zM1078.78 375.16H1083.76V380.25H1078.78zM1038.9 380.25H1043.88V385.33H1038.9zM1038.9 390.42H1043.88V395.5H1038.9zM1063.82 390.42H1068.81V395.5H1063.82zM774.71 436.19H779.7V441.28H774.71zM1158.53 441.28H1168.5V446.36H1158.53zM774.71 451.45H779.7V456.54H774.71zM1238.28 451.45H1243.27V456.54H1238.28zM779.7 456.54H784.68V461.62H779.7zM1033.91 456.54H1038.9V461.62H1033.91zM1023.94 471.79H1033.91V476.88H1023.94zM1128.62 471.79H1133.61V476.88H1128.62zM1008.99 476.88H1013.97V481.96H1008.99zM1128.62 476.88H1133.61V481.96H1128.62zM894.34 481.96H899.33V487.05H894.34zM1023.94 481.96H1028.93V487.05H1023.94zM889.36 492.14H894.34V497.22H889.36zM774.71 497.22H779.7V502.31H774.71zM1253.24 497.22H1258.22V502.31H1253.24zM1283.15 497.22H1288.13V502.31H1283.15zM1203.39 502.31H1208.38V507.39H1203.39zM1218.35 502.31H1223.33V507.39H1218.35zM1233.3 502.31H1238.28V507.39H1233.3zM1253.24 502.31H1263.21V507.39H1253.24zM1203.39 507.39H1208.38V512.48H1203.39zM1233.3 507.39H1238.28V512.48H1233.3zM1263.21 507.39H1268.19V512.48H1263.21zM1208.38 512.48H1213.36V517.57H1208.38zM1248.25 512.48H1253.24V517.57H1248.25zM1188.44 517.57H1198.41V522.65H1188.44zM1208.38 517.57H1218.35V522.65H1208.38zM1228.31 517.57H1238.28V522.65H1228.31zM1253.24 517.57H1258.22V522.65H1253.24zM1198.41 522.65H1208.38V527.74H1198.41zM1203.39 527.74H1208.38V532.82H1203.39zM1233.3 527.74H1238.28V532.82H1233.3zM1243.27 527.74H1248.25V532.82H1243.27zM1263.21 527.74H1268.19V532.82H1263.21zM1188.44 532.82H1193.42V537.91H1188.44zM1238.28 532.82H1248.25V537.91H1238.28zM1203.39 543H1208.38V548.08H1203.39zM1188.44 548.08H1198.41V553.17H1188.44zM1203.39 548.08H1208.38V553.17H1203.39zM1213.36 548.08H1218.35V553.17H1213.36zM1243.27 548.08H1248.25V553.17H1243.27zM1283.15 548.08H1288.13V553.17H1283.15zM1138.59 553.17H1143.58V558.25H1138.59zM1218.35 553.17H1223.33V558.25H1218.35zM1248.25 553.17H1253.24V558.25H1248.25zM1213.36 558.25H1223.33V563.34H1213.36zM1233.3 558.25H1238.28V563.34H1233.3zM1248.25 558.25H1253.24V563.34H1248.25zM1198.41 563.34H1203.39V568.43H1198.41zM1238.28 563.34H1248.25V568.43H1238.28zM1273.18 563.34H1278.16V568.43H1273.18zM1183.45 568.43H1193.42V573.51H1183.45zM1203.39 568.43H1208.38V573.51H1203.39zM1188.44 573.51H1193.42V578.6H1188.44zM1193.42 578.6H1198.41V583.68H1193.42zM1213.36 578.6H1218.35V583.68H1213.36zM1288.13 578.6H1293.12V583.68H1288.13zM1288.13 583.68H1293.12V588.77H1288.13zM729.85 588.77H734.83V593.86H729.85zM749.79 588.77H754.77V593.86H749.79zM1248.25 588.77H1253.24V593.86H1248.25zM754.77 598.94H759.76V604.03H754.77zM1183.45 598.94H1188.44V604.03H1183.45zM1233.3 598.94H1238.28V604.03H1233.3zM729.85 604.03H734.83V609.11H729.85zM1263.21 604.03H1273.18V609.11H1263.21z"/>
<path fill="#9ec3e5" d="M999.02 39.49H1004.01V44.57H999.02zM1004.01 44.57H1008.99V49.66H1004.01zM1288.13 44.57H1293.12V49.66H1288.13zM944.19 49.66H949.17V54.74H944.19zM1273.18 49.66H1278.16V54.74H1273.18zM939.21 59.83H944.19V64.92H939.21zM1288.13 59.83H1298.1V64.92H1288.13zM904.31 70H909.3V75.09H904.31zM1118.65 85.26H1123.64V90.35H1118.65zM1183.45 85.26H1188.44V90.35H1183.45zM814.59 90.35H819.57V95.43H814.59zM1118.65 90.35H1123.64V95.43H1118.65zM799.64 95.43H804.62V100.52H799.64zM1183.45 95.43H1188.44V100.52H1183.45zM804.62 100.52H809.6V105.6H804.62zM814.59 100.52H819.57V105.6H814.59zM789.67 105.6H794.65V110.69H789.67zM794.65 110.69H799.64V115.78H794.65zM829.54 115.78H834.53V120.86H829.54zM784.68 120.86H789.67V125.95H784.68zM794.65 120.86H799.64V125.95H794.65zM809.6 136.12H814.59V141.21H809.6zM904.31 141.21H909.3V146.29H904.31zM899.33 146.29H904.31V151.38H899.33zM959.14 151.38H964.13V156.46H959.14zM854.47 156.46H859.45V161.55H854.47zM869.42 156.46H874.4V161.55H869.42zM849.48 161.55H854.47V166.64H849.48zM964.13 171.72H969.11V176.81H964.13zM974.1 171.72H984.07V176.81H974.1zM849.48 176.81H854.47V181.89H849.48zM979.08 181.89H984.07V186.98H979.08zM1178.47 181.89H1183.45V186.98H1178.47zM839.51 207.32H844.5V212.41H839.51zM764.74 212.41H769.73V217.49H764.74zM834.53 212.41H839.51V217.49H834.53zM934.22 237.84H939.21V242.92H934.22zM944.19 237.84H949.17V242.92H944.19zM929.24 242.92H934.22V248.01H929.24zM949.17 242.92H954.16V248.01H949.17zM754.77 248.01H759.76V253.1H754.77zM744.8 253.1H749.79V258.18H744.8zM929.24 253.1H934.22V258.18H929.24zM934.22 258.18H939.21V263.27H934.22zM964.13 263.27H969.11V268.35H964.13zM844.5 268.35H849.48V273.44H844.5zM984.07 268.35H994.04V273.44H984.07zM864.44 273.44H869.42V278.53H864.44zM954.16 273.44H959.14V278.53H954.16zM979.08 273.44H984.07V278.53H979.08zM974.1 278.53H979.08V283.61H974.1zM984.07 278.53H989.05V283.61H984.07zM994.04 278.53H999.02V283.61H994.04zM864.44 283.61H869.42V288.7H864.44zM969.11 283.61H974.1V288.7H969.11zM984.07 283.61H989.05V288.7H984.07zM864.44 288.7H869.42V293.78H864.44zM874.4 288.7H879.39V293.78H874.4zM964.13 288.7H969.11V293.78H964.13zM959.14 293.78H964.13V298.87H959.14zM969.11 293.78H979.08V298.87H969.11zM959.14 298.87H964.13V303.96H959.14zM969.11 303.96H974.1V309.04H969.11zM734.83 309.04H739.82V314.13H734.83zM739.82 314.13H744.8V319.21H739.82zM1168.5 324.3H1173.48V329.39H1168.5zM1148.56 339.56H1153.55V344.64H1148.56zM1063.82 349.73H1068.81V354.82H1063.82zM1083.76 349.73H1088.74V354.82H1083.76zM1078.78 354.82H1083.76V359.9H1078.78zM1063.82 364.99H1068.81V370.07H1063.82zM1073.79 364.99H1078.78V370.07H1073.79zM1038.9 375.16H1043.88V380.25H1038.9zM1053.85 375.16H1058.84V380.25H1053.85zM1078.78 380.25H1083.76V385.33H1078.78zM1053.85 385.33H1058.84V390.42H1053.85zM1078.78 385.33H1083.76V390.42H1078.78zM1043.88 390.42H1048.87V395.5H1043.88zM1068.81 390.42H1078.78V395.5H1068.81zM1038.9 395.5H1043.88V400.59H1038.9zM779.7 431.11H789.67V436.19H779.7zM1148.56 451.45H1158.53V456.54H1148.56zM1203.39 451.45H1208.38V456.54H1203.39zM1028.93 461.62H1033.91V466.71H1028.93zM1138.59 461.62H1143.58V466.71H1138.59zM1138.59 466.71H1143.58V471.79H1138.59zM1013.97 481.96H1018.96V487.05H1013.97zM874.4 492.14H879.39V497.22H874.4zM779.7 497.22H784.68V502.31H779.7zM789.67 497.22H794.65V502.31H789.67zM1263.21 497.22H1273.18V502.31H1263.21zM1288.13 497.22H1293.12V502.31H1288.13zM1198.41 502.31H1203.39V507.39H1198.41zM1208.38 502.31H1218.35V507.39H1208.38zM1243.27 502.31H1248.25V507.39H1243.27zM1208.38 507.39H1213.36V512.48H1208.38zM1218.35 507.39H1223.33V512.48H1218.35zM1238.28 507.39H1248.25V512.48H1238.28zM1258.22 507.39H1263.21V512.48H1258.22zM1273.18 507.39H1278.16V512.48H1273.18zM1188.44 512.48H1193.42V517.57H1188.44zM1228.31 512.48H1233.3V517.57H1228.31zM1268.19 512.48H1273.18V517.57H1268.19zM1138.59 517.57H1143.58V522.65H1138.59zM1238.28 517.57H1243.27V522.65H1238.28zM1188.44 522.65H1198.41V527.74H1188.44zM1233.3 522.65H1238.28V527.74H1233.3zM1263.21 522.65H1268.19V527.74H1263.21zM1288.13 522.65H1293.12V527.74H1288.13zM1188.44 527.74H1193.42V532.82H1188.44zM1293.12 527.74H1298.1V532.82H1293.12zM1193.42 532.82H1198.41V537.91H1193.42zM1198.41 543H1203.39V548.08H1198.41zM1208.38 548.08H1213.36V553.17H1208.38zM1193.42 553.17H1198.41V558.25H1193.42zM1203.39 553.17H1208.38V558.25H1203.39zM1283.15 553.17H1293.12V558.25H1283.15zM1188.44 558.25H1198.41V563.34H1188.44zM1288.13 568.43H1293.12V573.51H1288.13zM1193.42 573.51H1198.41V578.6H1193.42zM1183.45 578.6H1188.44V583.68H1183.45zM1208.38 578.6H1213.36V583.68H1208.38zM1183.45 583.68H1188.44V588.77H1183.45zM1198.41 583.68H1203.39V588.77H1198.41zM1283.15 583.68H1288.13V588.77H1283.15zM1293.12 583.68H1298.1V588.77H1293.12zM744.8 588.77H749.79V593.86H744.8zM1193.42 588.77H1198.41V593.86H1193.42zM1238.28 598.94H1243.27V604.03H1238.28zM1268.19 598.94H1273.18V604.03H1268.19zM739.82 604.03H744.8V609.11H739.82zM754.77 604.03H759.76V609.11H754.77zM1183.45 604.03H1188.44V609.11H1183.45zM1208.38 604.03H1213.36V609.11H1208.38zM1238.28 604.03H1243.27V609.11H1238.28zM1253.24 604.03H1258.22V609.11H1253.24zM754.77 609.11H759.76V614.2H754.77zM1213.36 609.11H1218.35V614.2H1213.36zM1268.19 609.11H1273.18V614.2H1268.19z"/>
<path fill="#a5c8e7" d="M744.8 44.57H749.79V49.66H744.8zM939.21 44.57H944.19V49.66H939.21zM739.82 49.66H744.8V54.74H739.82zM754.77 49.66H759.76V54.74H754.77zM744.8 59.83H749.79V64.92H744.8zM829.54 90.35H834.53V95.43H829.54zM814.59 95.43H819.57V100.52H814.59zM814.59 105.6H819.57V110.69H814.59zM789.67 120.86H794.65V125.95H789.67zM799.64 120.86H804.62V125.95H799.64zM1083.76 120.86H1088.74V125.95H1083.76zM784.68 136.12H789.67V141.21H784.68zM899.33 141.21H904.31V146.29H899.33zM884.37 146.29H889.36V151.38H884.37zM914.28 146.29H919.27V151.38H914.28zM959.14 146.29H964.13V151.38H959.14zM1063.82 156.46H1068.81V161.55H1063.82zM964.13 161.55H969.11V166.64H964.13zM839.51 192.06H844.5V197.15H839.51zM834.53 207.32H839.51V212.41H834.53zM839.51 222.58H844.5V227.67H839.51zM929.24 227.67H934.22V232.75H929.24zM939.21 227.67H949.17V232.75H939.21zM999.02 227.67H1004.01V232.75H999.02zM944.19 232.75H949.17V237.84H944.19zM919.27 237.84H924.25V242.92H919.27zM939.21 237.84H944.19V242.92H939.21zM949.17 237.84H954.16V242.92H949.17zM939.21 242.92H944.19V248.01H939.21zM739.82 248.01H744.8V253.1H739.82zM919.27 248.01H924.25V253.1H919.27zM929.24 248.01H939.21V253.1H929.24zM919.27 253.1H929.24V258.18H919.27zM999.02 253.1H1004.01V258.18H999.02zM929.24 258.18H934.22V263.27H929.24zM1053.85 258.18H1058.84V263.27H1053.85zM969.11 263.27H974.1V268.35H969.11zM979.08 263.27H989.05V268.35H979.08zM994.04 263.27H999.02V268.35H994.04zM839.51 268.35H844.5V273.44H839.51zM974.1 268.35H979.08V273.44H974.1zM854.47 273.44H859.45V278.53H854.47zM984.07 273.44H994.04V278.53H984.07zM954.16 278.53H959.14V283.61H954.16zM959.14 283.61H964.13V288.7H959.14zM979.08 283.61H984.07V288.7H979.08zM954.16 288.7H959.14V293.78H954.16zM974.1 288.7H979.08V293.78H974.1zM954.16 293.78H959.14V298.87H954.16zM964.13 293.78H969.11V298.87H964.13zM964.13 298.87H969.11V303.96H964.13zM994.04 298.87H999.02V303.96H994.04zM954.16 303.96H959.14V309.04H954.16zM989.05 303.96H994.04V309.04H989.05zM919.27 309.04H924.25V314.13H919.27zM944.19 309.04H949.17V314.13H944.19zM1033.91 319.21H1038.9V324.3H1033.91zM1158.53 319.21H1163.51V324.3H1158.53zM1023.94 324.3H1033.91V329.39H1023.94zM1013.97 334.47H1018.96V339.56H1013.97zM1013.97 339.56H1018.96V344.64H1013.97zM1008.99 344.64H1013.97V349.73H1008.99zM1063.82 354.82H1073.79V359.9H1063.82zM1063.82 359.9H1068.81V364.99H1063.82zM1073.79 359.9H1078.78V364.99H1073.79zM949.17 364.99H954.16V370.07H949.17zM1073.79 370.07H1088.74V375.16H1073.79zM849.48 375.16H854.47V380.25H849.48zM1043.88 375.16H1053.85V380.25H1043.88zM1068.81 375.16H1078.78V380.25H1068.81zM1043.88 380.25H1048.87V385.33H1043.88zM1063.82 380.25H1068.81V385.33H1063.82zM1073.79 380.25H1078.78V385.33H1073.79zM1048.87 385.33H1053.85V390.42H1048.87zM1058.84 385.33H1073.79V390.42H1058.84zM1058.84 390.42H1063.82V395.5H1058.84zM814.59 395.5H819.57V400.59H814.59zM1058.84 395.5H1063.82V400.59H1058.84zM1178.47 410.76H1183.45V415.85H1178.47zM1143.58 446.36H1153.55V451.45H1143.58zM1168.5 446.36H1173.48V451.45H1168.5zM1233.3 446.36H1238.28V451.45H1233.3zM1158.53 451.45H1168.5V456.54H1158.53zM1218.35 451.45H1228.31V456.54H1218.35zM1133.61 456.54H1138.59V461.62H1133.61zM1133.61 461.62H1138.59V466.71H1133.61zM1008.99 471.79H1013.97V476.88H1008.99zM1138.59 471.79H1143.58V476.88H1138.59zM1138.59 476.88H1143.58V481.96H1138.59zM1133.61 481.96H1138.59V487.05H1133.61zM1098.71 492.14H1103.7V497.22H1098.71zM1223.33 502.31H1233.3V507.39H1223.33zM1238.28 502.31H1243.27V507.39H1238.28zM1213.36 507.39H1218.35V512.48H1213.36zM1223.33 507.39H1228.31V512.48H1223.33zM1218.35 512.48H1223.33V517.57H1218.35zM1238.28 512.48H1248.25V517.57H1238.28zM1218.35 517.57H1223.33V522.65H1218.35zM1283.15 522.65H1288.13V527.74H1283.15zM1193.42 527.74H1198.41V532.82H1193.42zM1248.25 527.74H1253.24V532.82H1248.25zM1138.59 532.82H1143.58V537.91H1138.59zM1198.41 532.82H1208.38V537.91H1198.41zM1248.25 532.82H1253.24V537.91H1248.25zM1138.59 537.91H1143.58V543H1138.59zM1188.44 537.91H1198.41V543H1188.44zM1258.22 537.91H1263.21V543H1258.22zM1188.44 543H1193.42V548.08H1188.44zM1263.21 543H1268.19V548.08H1263.21zM1133.61 548.08H1138.59V553.17H1133.61zM1188.44 553.17H1193.42V558.25H1188.44zM1198.41 553.17H1203.39V558.25H1198.41zM1198.41 558.25H1203.39V563.34H1198.41zM1263.21 558.25H1268.19V563.34H1263.21zM1213.36 563.34H1223.33V568.43H1213.36zM1288.13 563.34H1293.12V568.43H1288.13zM1223.33 573.51H1228.31V578.6H1223.33zM1228.31 578.6H1233.3V583.68H1228.31zM1243.27 578.6H1248.25V583.68H1243.27zM1208.38 598.94H1213.36V604.03H1208.38zM1248.25 604.03H1253.24V609.11H1248.25z"/>
<path fill="#adcce9" d="M744.8 39.49H749.79V44.57H744.8zM734.83 49.66H739.82V54.74H734.83zM774.71 75.09H779.7V80.17H774.71zM769.73 80.17H774.71V85.26H769.73zM1118.65 80.17H1123.64V85.26H1118.65zM1148.56 85.26H1153.55V90.35H1148.56zM1193.42 85.26H1198.41V90.35H1193.42zM794.65 90.35H809.6V95.43H794.65zM1193.42 90.35H1198.41V95.43H1193.42zM784.68 100.52H789.67V105.6H784.68zM799.64 100.52H804.62V105.6H799.64zM809.6 100.52H814.59V105.6H809.6zM784.68 105.6H789.67V110.69H784.68zM794.65 105.6H799.64V110.69H794.65zM784.68 110.69H789.67V115.78H784.68zM794.65 115.78H799.64V120.86H794.65zM969.11 136.12H974.1V141.21H969.11zM979.08 136.12H984.07V141.21H979.08zM859.45 156.46H869.42V161.55H859.45zM869.42 161.55H874.4V166.64H869.42zM849.48 166.64H854.47V171.72H849.48zM849.48 171.72H854.47V176.81H849.48zM854.47 176.81H859.45V181.89H854.47zM1163.51 202.24H1168.5V207.32H1163.51zM929.24 232.75H934.22V237.84H929.24zM1053.85 232.75H1058.84V237.84H1053.85zM924.25 237.84H929.24V242.92H924.25zM974.1 263.27H979.08V268.35H974.1zM979.08 268.35H984.07V273.44H979.08zM829.54 278.53H834.53V283.61H829.54zM954.16 283.61H959.14V288.7H954.16zM829.54 288.7H834.53V293.78H829.54zM959.14 288.7H964.13V293.78H959.14zM994.04 293.78H999.02V298.87H994.04zM984.07 303.96H989.05V309.04H984.07zM1153.55 319.21H1158.53V324.3H1153.55zM1033.91 324.3H1038.9V329.39H1033.91zM1033.91 329.39H1038.9V334.47H1033.91zM1013.97 344.64H1023.94V349.73H1013.97zM1073.79 349.73H1078.78V354.82H1073.79zM1083.76 354.82H1088.74V359.9H1083.76zM1078.78 359.9H1088.74V364.99H1078.78zM924.25 364.99H929.24V370.07H924.25zM1068.81 364.99H1073.79V370.07H1068.81zM1083.76 364.99H1088.74V370.07H1083.76zM1053.85 380.25H1058.84V385.33H1053.85zM1083.76 380.25H1088.74V385.33H1083.76zM1038.9 385.33H1043.88V390.42H1038.9zM1048.87 390.42H1053.85V395.5H1048.87zM1043.88 395.5H1058.84V400.59H1043.88zM1068.81 395.5H1073.79V400.59H1068.81zM774.71 431.11H779.7V436.19H774.71zM1143.58 441.28H1148.56V446.36H1143.58zM1168.5 441.28H1173.48V446.36H1168.5zM1153.55 446.36H1168.5V451.45H1153.55zM1173.48 446.36H1178.47V451.45H1173.48zM1203.39 446.36H1208.38V451.45H1203.39zM1218.35 446.36H1223.33V451.45H1218.35zM1238.28 446.36H1248.25V451.45H1238.28zM1143.58 451.45H1148.56V456.54H1143.58zM1168.5 451.45H1178.47V456.54H1168.5zM1198.41 451.45H1203.39V456.54H1198.41zM1128.62 456.54H1133.61V461.62H1128.62zM1138.59 456.54H1143.58V461.62H1138.59zM779.7 461.62H784.68V466.71H779.7zM1008.99 466.71H1013.97V471.79H1008.99zM1133.61 466.71H1138.59V471.79H1133.61zM1133.61 471.79H1138.59V476.88H1133.61zM894.34 476.88H899.33V481.96H894.34zM1133.61 476.88H1138.59V481.96H1133.61zM1128.62 481.96H1133.61V487.05H1128.62zM1138.59 481.96H1143.58V487.05H1138.59zM1133.61 487.05H1143.58V492.14H1133.61zM1273.18 497.22H1283.15V502.31H1273.18zM779.7 507.39H789.67V512.48H779.7zM1138.59 512.48H1143.58V517.57H1138.59zM1233.3 512.48H1238.28V517.57H1233.3zM1133.61 517.57H1138.59V522.65H1133.61zM1243.27 517.57H1253.24V522.65H1243.27zM1238.28 522.65H1243.27V527.74H1238.28zM1238.28 527.74H1243.27V532.82H1238.28zM1133.61 532.82H1138.59V537.91H1133.61zM1233.3 532.82H1238.28V537.91H1233.3zM1238.28 537.91H1243.27V543H1238.28zM1248.25 537.91H1253.24V543H1248.25zM1238.28 543H1248.25V548.08H1238.28zM1198.41 548.08H1203.39V553.17H1198.41zM1218.35 548.08H1223.33V553.17H1218.35zM1133.61 553.17H1138.59V558.25H1133.61zM1208.38 553.17H1218.35V558.25H1208.38zM1223.33 553.17H1233.3V558.25H1223.33zM1133.61 558.25H1138.59V563.34H1133.61zM1203.39 558.25H1208.38V563.34H1203.39zM1228.31 558.25H1233.3V563.34H1228.31zM1203.39 563.34H1208.38V568.43H1203.39zM1223.33 563.34H1228.31V568.43H1223.33zM1273.18 568.43H1278.16V573.51H1273.18zM1283.15 568.43H1288.13V573.51H1283.15zM1273.18 573.51H1283.15V578.6H1273.18zM1288.13 573.51H1293.12V578.6H1288.13zM1278.16 578.6H1288.13V583.68H1278.16zM1278.16 583.68H1283.15V588.77H1278.16zM1183.45 588.77H1188.44V593.86H1183.45zM1253.24 588.77H1263.21V593.86H1253.24zM1183.45 593.86H1188.44V598.94H1183.45zM1258.22 593.86H1273.18V598.94H1258.22zM1253.24 598.94H1258.22V604.03H1253.24zM1263.21 598.94H1268.19V604.03H1263.21zM1258.22 604.03H1263.21V609.11H1258.22z"/>
<path fill="#b4d1eb" d="M734.83 34.4H759.76V39.49H734.83zM729.85 39.49H734.83V44.57H729.85zM754.77 39.49H759.76V44.57H754.77zM729.85 44.57H734.83V49.66H729.85zM749.79 44.57H754.77V49.66H749.79zM729.85 49.66H734.83V54.74H729.85zM729.85 54.74H734.83V59.83H729.85zM739.82 54.74H744.8V59.83H739.82zM754.77 54.74H759.76V59.83H754.77zM729.85 59.83H739.82V64.92H729.85zM749.79 59.83H754.77V64.92H749.79zM1118.65 70H1123.64V75.09H1118.65zM809.6 95.43H814.59V100.52H809.6zM829.54 100.52H834.53V105.6H829.54zM829.54 110.69H834.53V115.78H829.54zM789.67 115.78H794.65V120.86H789.67zM794.65 136.12H799.64V141.21H794.65zM804.62 136.12H809.6V141.21H804.62zM909.3 146.29H914.28V151.38H909.3zM1053.85 156.46H1058.84V161.55H1053.85zM864.44 161.55H869.42V166.64H864.44zM854.47 171.72H859.45V176.81H854.47zM1173.48 181.89H1178.47V186.98H1173.48zM889.36 192.06H894.34V197.15H889.36zM884.37 197.15H889.36V202.24H884.37zM1158.53 202.24H1163.51V207.32H1158.53zM839.51 217.49H844.5V222.58H839.51zM939.21 232.75H944.19V237.84H939.21zM999.02 237.84H1004.01V242.92H999.02zM999.02 242.92H1004.01V248.01H999.02zM924.25 248.01H929.24V253.1H924.25zM999.02 248.01H1004.01V253.1H999.02zM994.04 273.44H999.02V278.53H994.04zM989.05 283.61H994.04V288.7H989.05zM974.1 298.87H979.08V303.96H974.1zM964.13 303.96H969.11V309.04H964.13zM929.24 309.04H944.19V314.13H929.24zM1023.94 319.21H1028.93V324.3H1023.94zM1008.99 334.47H1013.97V339.56H1008.99zM1068.81 359.9H1073.79V364.99H1068.81zM849.48 364.99H854.47V370.07H849.48zM1078.78 364.99H1083.76V370.07H1078.78zM1068.81 370.07H1073.79V375.16H1068.81zM1083.76 375.16H1088.74V380.25H1083.76zM1048.87 380.25H1053.85V385.33H1048.87zM1058.84 380.25H1063.82V385.33H1058.84zM1083.76 385.33H1088.74V390.42H1083.76zM1053.85 390.42H1058.84V395.5H1053.85zM1083.76 390.42H1088.74V395.5H1083.76zM1063.82 395.5H1068.81V400.59H1063.82zM1073.79 395.5H1083.76V400.59H1073.79zM1178.47 415.85H1183.45V420.93H1178.47zM764.74 431.11H769.73V436.19H764.74zM1148.56 441.28H1153.55V446.36H1148.56zM1173.48 441.28H1178.47V446.36H1173.48zM1213.36 451.45H1218.35V456.54H1213.36zM1128.62 461.62H1133.61V466.71H1128.62zM1163.51 461.62H1168.5V466.71H1163.51zM1168.5 466.71H1173.48V471.79H1168.5zM894.34 471.79H899.33V476.88H894.34zM1168.5 471.79H1173.48V476.88H1168.5zM1148.56 476.88H1153.55V481.96H1148.56zM1153.55 481.96H1163.51V487.05H1153.55zM874.4 487.05H879.39V492.14H874.4zM1128.62 487.05H1133.61V492.14H1128.62zM1103.7 492.14H1108.68V497.22H1103.7zM1273.18 492.14H1278.16V497.22H1273.18zM1288.13 492.14H1298.1V497.22H1288.13zM1223.33 512.48H1228.31V517.57H1223.33zM1223.33 517.57H1228.31V522.65H1223.33zM1138.59 527.74H1143.58V532.82H1138.59zM1198.41 537.91H1208.38V543H1198.41zM1278.16 568.43H1283.15V573.51H1278.16zM1293.12 568.43H1298.1V573.51H1293.12zM1273.18 578.6H1278.16V583.68H1273.18zM1293.12 578.6H1298.1V583.68H1293.12zM1178.47 588.77H1183.45V593.86H1178.47zM1263.21 588.77H1268.19V593.86H1263.21zM1253.24 593.86H1258.22V598.94H1253.24zM1178.47 604.03H1183.45V609.11H1178.47zM1178.47 609.11H1183.45V614.2H1178.47zM1253.24 609.11H1258.22V614.2H1253.24zM1263.21 609.11H1268.19V614.2H1263.21z"/>
<path fill="#bbd5ed" d="M1198.41 49.66H1203.39V54.74H1198.41zM794.65 95.43H799.64V100.52H794.65zM789.67 100.52H794.65V105.6H789.67zM809.6 105.6H814.59V110.69H809.6zM799.64 115.78H804.62V120.86H799.64zM934.22 232.75H939.21V237.84H934.22zM949.17 232.75H954.16V237.84H949.17zM999.02 232.75H1004.01V237.84H999.02zM924.25 242.92H929.24V248.01H924.25zM924.25 258.18H929.24V263.27H924.25zM924.25 309.04H929.24V314.13H924.25zM1058.84 359.9H1063.82V364.99H1058.84zM1048.87 370.07H1053.85V375.16H1048.87zM1063.82 370.07H1068.81V375.16H1063.82zM1058.84 375.16H1063.82V380.25H1058.84zM1138.59 441.28H1143.58V446.36H1138.59zM1153.55 441.28H1158.53V446.36H1153.55zM1208.38 446.36H1218.35V451.45H1208.38zM1228.31 446.36H1233.3V451.45H1228.31zM1128.62 451.45H1133.61V456.54H1128.62zM1158.53 456.54H1163.51V461.62H1158.53zM1128.62 466.71H1133.61V471.79H1128.62zM1173.48 466.71H1178.47V471.79H1173.48zM1143.58 471.79H1148.56V476.88H1143.58zM1153.55 487.05H1158.53V492.14H1153.55zM1258.22 492.14H1268.19V497.22H1258.22zM744.8 512.48H749.79V517.57H744.8zM1203.39 512.48H1208.38V517.57H1203.39zM1198.41 517.57H1203.39V522.65H1198.41zM1133.61 522.65H1138.59V527.74H1133.61zM1133.61 527.74H1138.59V532.82H1133.61zM1133.61 543H1138.59V548.08H1133.61zM1248.25 548.08H1253.24V553.17H1248.25zM1233.3 563.34H1238.28V568.43H1233.3zM1178.47 573.51H1183.45V578.6H1178.47zM1293.12 573.51H1298.1V578.6H1293.12zM1178.47 578.6H1183.45V583.68H1178.47zM1258.22 609.11H1263.21V614.2H1258.22z"/>
<path fill="#c2d9ef" d="M749.79 39.49H754.77V44.57H749.79zM734.83 54.74H739.82V59.83H734.83zM779.7 75.09H784.68V80.17H779.7zM769.73 85.26H774.71V90.35H769.73zM809.6 90.35H814.59V95.43H809.6zM804.62 95.43H809.6V100.52H804.62zM789.67 110.69H794.65V115.78H789.67zM784.68 115.78H789.67V120.86H784.68zM999.02 258.18H1004.01V263.27H999.02zM949.17 309.04H954.16V314.13H949.17zM1058.84 349.73H1063.82V354.82H1058.84zM1048.87 354.82H1053.85V359.9H1048.87zM1073.79 354.82H1078.78V359.9H1073.79zM1043.88 359.9H1048.87V364.99H1043.88zM1058.84 364.99H1063.82V370.07H1058.84zM1038.9 370.07H1043.88V375.16H1038.9zM1053.85 370.07H1058.84V375.16H1053.85zM1043.88 385.33H1048.87V390.42H1043.88zM1193.42 446.36H1198.41V451.45H1193.42zM1163.51 456.54H1168.5V461.62H1163.51zM1173.48 461.62H1178.47V466.71H1173.48zM1163.51 466.71H1168.5V471.79H1163.51zM1173.48 471.79H1178.47V476.88H1173.48zM1143.58 476.88H1148.56V481.96H1143.58zM1153.55 476.88H1158.53V481.96H1153.55zM1148.56 487.05H1153.55V492.14H1148.56zM1158.53 487.05H1163.51V492.14H1158.53zM1253.24 492.14H1258.22V497.22H1253.24zM1133.61 507.39H1138.59V512.48H1133.61zM1178.47 568.43H1183.45V573.51H1178.47zM1273.18 583.68H1278.16V588.77H1273.18zM1268.19 588.77H1273.18V593.86H1268.19z"/>
<path fill="#c9def1" d="M754.77 44.57H759.76V49.66H754.77zM739.82 59.83H744.8V64.92H739.82zM894.34 192.06H899.33V197.15H894.34zM884.37 202.24H889.36V207.32H884.37zM1053.85 349.73H1058.84V354.82H1053.85zM1058.84 354.82H1063.82V359.9H1058.84zM1038.9 364.99H1043.88V370.07H1038.9zM1043.88 370.07H1048.87V375.16H1043.88zM1193.42 451.45H1198.41V456.54H1193.42zM1173.48 456.54H1178.47V461.62H1173.48zM1158.53 466.71H1163.51V471.79H1158.53zM1153.55 471.79H1158.53V476.88H1153.55zM1143.58 487.05H1148.56V492.14H1143.58zM1293.12 497.22H1298.1V502.31H1293.12zM1138.59 507.39H1143.58V512.48H1138.59zM1283.15 573.51H1288.13V578.6H1283.15zM1258.22 598.94H1263.21V604.03H1258.22zM1183.45 609.11H1188.44V614.2H1183.45z"/>
<path fill="#d1e2f3" d="M814.59 110.69H819.57V115.78H814.59zM804.62 120.86H809.6V125.95H804.62zM1053.85 354.82H1058.84V359.9H1053.85zM1043.88 364.99H1048.87V370.07H1043.88zM1168.5 456.54H1173.48V461.62H1168.5zM1143.58 481.96H1148.56V487.05H1143.58zM1268.19 492.14H1273.18V497.22H1268.19zM1178.47 583.68H1183.45V588.77H1178.47z"/>
<path fill="#d8e7f4" d="M809.6 110.69H814.59V115.78H809.6zM804.62 115.78H809.6V120.86H804.62zM1168.5 461.62H1173.48V466.71H1168.5zM1148.56 481.96H1153.55V487.05H1148.56zM1228.31 522.65H1233.3V527.74H1228.31zM1208.38 543H1213.36V548.08H1208.38z"/>
<path fill="#dfebf6" d="M1048.87 349.73H1053.85V354.82H1048.87zM1038.9 359.9H1043.88V364.99H1038.9zM1158.53 461.62H1163.51V466.71H1158.53zM1148.56 471.79H1153.55V476.88H1148.56zM1218.35 522.65H1223.33V527.74H1218.35zM1208.38 532.82H1213.36V537.91H1208.38z"/>
<path fill="#e6f0f8" d="M944.19 248.01H949.17V253.1H944.19zM939.21 253.1H944.19V258.18H939.21zM1013.97 319.21H1018.96V324.3H1013.97zM1008.99 324.3H1013.97V329.39H1008.99zM1223.33 527.74H1233.3V532.82H1223.33zM1213.36 537.91H1218.35V543H1213.36zM1228.31 537.91H1233.3V543H1228.31zM1213.36 543H1218.35V548.08H1213.36zM1223.33 543H1228.31V548.08H1223.33zM1288.13 588.77H1298.1V593.86H1288.13zM1293.12 593.86H1298.1V598.94H1293.12zM1273.18 604.03H1278.16V609.11H1273.18zM1273.18 609.11H1283.15V614.2H1273.18z"/>
<path fill="#edf4fa" d="M864.44 166.64H874.4V171.72H864.44zM859.45 171.72H864.44V176.81H859.45zM859.45 176.81H864.44V181.89H859.45zM1018.96 324.3H1023.94V329.39H1018.96zM1013.97 329.39H1018.96V334.47H1013.97zM1213.36 522.65H1218.35V527.74H1213.36zM1208.38 527.74H1213.36V532.82H1208.38zM1223.33 532.82H1228.31V537.91H1223.33zM1218.35 537.91H1223.33V543H1218.35zM1288.13 598.94H1293.12V604.03H1288.13zM1283.15 604.03H1288.13V609.11H1283.15z"/>
<path fill="#f5f9fc" d="M984.07 288.7H994.04V293.78H984.07zM979.08 293.78H984.07V298.87H979.08zM989.05 293.78H994.04V298.87H989.05zM979.08 298.87H989.05V303.96H979.08zM1148.56 456.54H1153.55V461.62H1148.56zM1143.58 461.62H1148.56V466.71H1143.58zM1183.45 487.05H1188.44V492.14H1183.45zM1173.48 497.22H1178.47V502.31H1173.48zM1218.35 527.74H1223.33V532.82H1218.35zM1213.36 532.82H1218.35V537.91H1213.36zM1228.31 532.82H1233.3V537.91H1228.31zM1218.35 543H1223.33V548.08H1218.35zM1283.15 588.77H1288.13V593.86H1283.15zM1273.18 598.94H1278.16V604.03H1273.18z"/>
<path fill="#fcfdfe" d="M1083.76 136.12H1088.74V141.21H1083.76zM1133.61 314.13H1138.59V319.21H1133.61zM829.54 395.5H834.53V400.59H829.54zM1004.01 446.36H1008.99V451.45H1004.01zM1153.55 461.62H1158.53V466.71H1153.55zM1148.56 466.71H1153.55V471.79H1148.56zM1278.16 588.77H1283.15V593.86H1278.16zM1273.18 593.86H1278.16V598.94H1273.18zM1283.15 593.86H1293.12V598.94H1283.15zM1278.16 598.94H1283.15V604.03H1278.16zM1293.12 598.94H1298.1V604.03H1293.12zM1278.16 604.03H1283.15V609.11H1278.16zM1283.15 609.11H1288.13V614.2H1283.15z"/>
<path fill="#fffafa" d="M1143.58 324.3H1148.56V329.39H1143.58zM1013.97 456.54H1018.96V461.62H1013.97zM1153.55 456.54H1158.53V461.62H1153.55zM1143.58 466.71H1148.56V471.79H1143.58zM1223.33 522.65H1228.31V527.74H1223.33zM1208.38 537.91H1213.36V543H1208.38z"/>
<path fill="#fff1f1" d="M829.54 131.03H834.53V136.12H829.54zM824.56 136.12H829.54V141.21H824.56zM914.28 217.49H919.27V222.58H914.28zM909.3 222.58H914.28V227.67H909.3zM1004.01 309.04H1008.99V314.13H1004.01zM999.02 314.13H1004.01V319.21H999.02zM1018.96 319.21H1023.94V324.3H1018.96zM1008.99 329.39H1013.97V334.47H1008.99zM1043.88 349.73H1048.87V354.82H1043.88zM1038.9 354.82H1043.88V359.9H1038.9zM1093.73 400.59H1098.71V405.68H1093.73zM1088.74 405.68H1093.73V410.76H1088.74zM1133.61 441.28H1138.59V446.36H1133.61zM1128.62 446.36H1133.61V451.45H1128.62zM1178.47 487.05H1183.45V492.14H1178.47zM1173.48 492.14H1178.47V497.22H1173.48zM1183.45 492.14H1188.44V497.22H1183.45zM1178.47 497.22H1183.45V502.31H1178.47zM1238.28 548.08H1243.27V553.17H1238.28zM1233.3 553.17H1238.28V558.25H1233.3zM1293.12 604.03H1298.1V609.11H1293.12zM1288.13 609.11H1293.12V614.2H1288.13z"/>
<path fill="#ffe9e9" d="M779.7 80.17H784.68V85.26H779.7zM774.71 85.26H779.7V90.35H774.71zM949.17 253.1H954.16V258.18H949.17zM944.19 258.18H949.17V263.27H944.19zM959.14 263.27H964.13V268.35H959.14zM954.16 268.35H959.14V273.44H954.16zM1163.51 471.79H1168.5V476.88H1163.51zM1158.53 476.88H1163.51V481.96H1158.53zM1173.48 481.96H1178.47V487.05H1173.48zM1168.5 487.05H1173.48V492.14H1168.5z"/>
<path fill="#ffe0e0" d="M739.82 39.49H744.8V44.57H739.82zM734.83 44.57H739.82V49.66H734.83zM869.42 171.72H874.4V176.81H869.42zM864.44 176.81H869.42V181.89H864.44zM949.17 248.01H954.16V253.1H949.17zM939.21 258.18H944.19V263.27H939.21zM1053.85 359.9H1058.84V364.99H1053.85zM1048.87 364.99H1053.85V370.07H1048.87zM1173.48 476.88H1178.47V481.96H1173.48zM1163.51 487.05H1168.5V492.14H1163.51zM1268.19 568.43H1273.18V573.51H1268.19zM1253.24 583.68H1258.22V588.77H1253.24z"/>
<path fill="#ffd7d7" d="M894.34 197.15H899.33V202.24H894.34zM889.36 202.24H894.34V207.32H889.36zM924.25 227.67H929.24V232.75H924.25zM919.27 232.75H924.25V237.84H919.27zM1113.67 420.93H1118.65V426.02H1113.67zM1108.68 426.02H1113.67V431.11H1108.68zM1168.5 476.88H1173.48V481.96H1168.5zM1163.51 481.96H1168.5V487.05H1163.51zM1198.41 507.39H1203.39V512.48H1198.41zM1193.42 512.48H1198.41V517.57H1193.42zM1268.19 573.51H1273.18V578.6H1268.19zM1258.22 583.68H1263.21V588.77H1258.22z"/>
<path fill="#ffcece" d="M1263.21 568.43H1268.19V573.51H1263.21zM1253.24 578.6H1258.22V583.68H1253.24zM1268.19 578.6H1273.18V583.68H1268.19zM1263.21 583.68H1268.19V588.77H1263.21z"/>
<path fill="#ffb8b8" d="M814.59 115.78H819.57V120.86H814.59zM809.6 120.86H814.59V125.95H809.6zM844.5 146.29H849.48V151.38H844.5zM839.51 151.38H844.5V156.46H839.51zM1258.22 568.43H1263.21V573.51H1258.22zM1253.24 573.51H1258.22V578.6H1253.24zM1263.21 573.51H1268.19V578.6H1263.21zM1258.22 578.6H1263.21V583.68H1258.22z"/>
<path fill="#ff8c8c" d="M964.13 268.35H969.11V273.44H964.13zM959.14 273.44H964.13V278.53H959.14z"/>
<path fill="#ff6161" d="M904.31 207.32H909.3V212.41H904.31zM899.33 212.41H904.31V217.49H899.33zM1138.59 446.36H1143.58V451.45H1138.59zM1133.61 451.45H1138.59V456.54H1133.61z"/>
<path fill="#ff0000" d="M729.85 34.4H734.83V39.49H729.85zM734.83 39.49H739.82V44.57H734.83zM739.82 44.57H744.8V49.66H739.82zM744.8 49.66H749.79V54.74H744.8zM749.79 54.74H754.77V59.83H749.79zM754.77 59.83H759.76V64.92H754.77zM759.76 64.92H764.74V70H759.76zM764.74 70H769.73V75.09H764.74zM769.73 75.09H774.71V80.17H769.73zM774.71 80.17H779.7V85.26H774.71zM779.7 85.26H784.68V90.35H779.7zM784.68 90.35H789.67V95.43H784.68zM789.67 95.43H794.65V100.52H789.67zM794.65 100.52H799.64V105.6H794.65zM799.64 105.6H804.62V110.69H799.64zM804.62 110.69H809.6V115.78H804.62zM809.6 115.78H814.59V120.86H809.6zM814.59 120.86H819.57V125.95H814.59zM819.57 125.95H824.56V131.03H819.57zM824.56 131.03H829.54V136.12H824.56zM829.54 136.12H834.53V141.21H829.54zM834.53 141.21H839.51V146.29H834.53zM839.51 146.29H844.5V151.38H839.51zM844.5 151.38H849.48V156.46H844.5zM849.48 156.46H854.47V161.55H849.48zM854.47 161.55H859.45V166.64H854.47zM859.45 166.64H864.44V171.72H859.45zM864.44 171.72H869.42V176.81H864.44zM869.42 176.81H874.4V181.89H869.42zM874.4 181.89H879.39V186.98H874.4zM879.39 186.98H884.37V192.06H879.39zM884.37 192.06H889.36V197.15H884.37zM889.36 197.15H894.34V202.24H889.36zM894.34 202.24H899.33V207.32H894.34zM899.33 207.32H904.31V212.41H899.33zM904.31 212.41H909.3V217.49H904.31zM909.3 217.49H914.28V222.58H909.3zM914.28 222.58H919.27V227.67H914.28zM919.27 227.67H924.25V232.75H919.27zM924.25 232.75H929.24V237.84H924.25zM929.24 237.84H934.22V242.92H929.24zM934.22 242.92H939.21V248.01H934.22zM939.21 248.01H944.19V253.1H939.21zM944.19 253.1H949.17V258.18H944.19zM949.17 258.18H954.16V263.27H949.17zM954.16 263.27H959.14V268.35H954.16zM959.14 268.35H964.13V273.44H959.14zM964.13 273.44H969.11V278.53H964.13zM969.11 278.53H974.1V283.61H969.11zM974.1 283.61H979.08V288.7H974.1zM979.08 288.7H984.07V293.78H979.08zM984.07 293.78H989.05V298.87H984.07zM989.05 298.87H994.04V303.96H989.05zM994.04 303.96H999.02V309.04H994.04zM999.02 309.04H1004.01V314.13H999.02zM1004.01 314.13H1008.99V319.21H1004.01zM1008.99 319.21H1013.97V324.3H1008.99zM1013.97 324.3H1018.96V329.39H1013.97zM1018.96 329.39H1023.94V334.47H1018.96zM1023.94 334.47H1028.93V339.56H1023.94zM1028.93 339.56H1033.91V344.64H1028.93zM1033.91 344.64H1038.9V349.73H1033.91zM1038.9 349.73H1043.88V354.82H1038.9zM1043.88 354.82H1048.87V359.9H1043.88zM1048.87 359.9H1053.85V364.99H1048.87zM1053.85 364.99H1058.84V370.07H1053.85zM1058.84 370.07H1063.82V375.16H1058.84zM1063.82 375.16H1068.81V380.25H1063.82zM1068.81 380.25H1073.79V385.33H1068.81zM1073.79 385.33H1078.78V390.42H1073.79zM1078.78 390.42H1083.76V395.5H1078.78zM1083.76 395.5H1088.74V400.59H1083.76zM1088.74 400.59H1093.73V405.68H1088.74zM1093.73 405.68H1098.71V410.76H1093.73zM1098.71 410.76H1103.7V415.85H1098.71zM1103.7 415.85H1108.68V420.93H1103.7zM1108.68 420.93H1113.67V426.02H1108.68zM1113.67 426.02H1118.65V431.11H1113.67zM1118.65 431.11H1123.64V436.19H1118.65zM1123.64 436.19H1128.62V441.28H1123.64zM1128.62 441.28H1133.61V446.36H1128.62zM1133.61 446.36H1138.59V451.45H1133.61zM1138.59 451.45H1143.58V456.54H1138.59zM1143.58 456.54H1148.56V461.62H1143.58zM1148.56 461.62H1153.55V466.71H1148.56zM1153.55 466.71H1158.53V471.79H1153.55zM1158.53 471.79H1163.51V476.88H1158.53zM1163.51 476.88H1168.5V481.96H1163.51zM1168.5 481.96H1173.48V487.05H1168.5zM1173.48 487.05H1178.47V492.14H1173.48zM1178.47 492.14H1183.45V497.22H1178.47zM1183.45 497.22H1188.44V502.31H1183.45zM1188.44 502.31H1193.42V507.39H1188.44zM1193.42 507.39H1198.41V512.48H1193.42zM1198.41 512.48H1203.39V517.57H1198.41zM1203.39 517.57H1208.38V522.65H1203.39zM1208.38 522.65H1213.36V527.74H1208.38zM1213.36 527.74H1218.35V532.82H1213.36zM1218.35 532.82H1223.33V537.91H1218.35zM1223.33 537.91H1228.31V543H1223.33zM1228.31 543H1233.3V548.08H1228.31zM1233.3 548.08H1238.28V553.17H1233.3zM1238.28 553.17H1243.27V558.25H1238.28zM1243.27 558.25H1248.25V563.34H1243.27zM1248.25 563.34H1253.24V568.43H1248.25zM1253.24 568.43H1258.22V573.51H1253.24zM1258.22 573.51H1263.21V578.6H1258.22zM1263.21 578.6H1268.19V583.68H1263.21zM1268.19 583.68H1273.18V588.77H1268.19zM1273.18 588.77H1278.16V593.86H1273.18zM1278.16 593.86H1283.15V598.94H1278.16zM1283.15 598.94H1288.13V604.03H1283.15zM1288.13 604.03H1293.12V609.11H1288.13zM1293.12 609.11H1298.1V614.2H1293.12z"/>
<path d="M729.85 34.40V614.20M734.83 34.40V614.20M739.82 34.40V614.20M744.8 34.40V614.20M749.79 34.40V614.20M754.77 34.40V614.20M759.76 34.40V614.20M764.74 34.40V614.20M769.73 34.40V614.20M774.71 34.40V614.20M779.7 34.40V614.20M784.68 34.40V614.20M789.67 34.40V614.20M794.65 34.40V614.20M799.64 34.40V614.20M804.62 34.40V614.20M809.6 34.40V614.20M814.59 34.40V614.20M819.57 34.40V614.20M824.56 34.40V614.20M829.54 34.40V614.20M834.53 34.40V614.20M839.51 34.40V614.20M844.5 34.40V614.20M849.48 34.40V614.20M854.47 34.40V614.20M859.45 34.40V614.20M864.44 34.40V614.20M869.42 34.40V614.20M874.4 34.40V614.20M879.39 34.40V614.20M884.37 34.40V614.20M889.36 34.40V614.20M894.34 34.40V614.20M899.33 34.40V614.20M904.31 34.40V614.20M909.3 34.40V614.20M914.28 34.40V614.20M919.27 34.40V614.20M924.25 34.40V614.20M929.24 34.40V614.20M934.22 34.40V614.20M939.21 34.40V614.20M944.19 34.40V614.20M949.17 34.40V614.20M954.16 34.40V614.20M959.14 34.40V614.20M964.13 34.40V614.20M969.11 34.40V614.20M974.1 34.40V614.20M979.08 34.40V614.20M984.07 34.40V614.20M989.05 34.40V614.20M994.04 34.40V614.20M999.02 34.40V614.20M1004.01 34.40V614.20M1008.99 34.40V614.20M1013.97 34.40V614.20M1018.96 34.40V614.20M1023.94 34.40V614.20M1028.93 34.40V614.20M1033.91 34.40V614.20M1038.9 34.40V614.20M1043.88 34.40V614.20M1048.87 34.40V614.20M1053.85 34.40V614.20M1058.84 34.40V614.20M1063.82 34.40V614.20M1068.81 34.40V614.20M1073.79 34.40V614.20M1078.78 34.40V614.20M1083.76 34.40V614.20M1088.74 34.40V614.20M1093.73 34.40V614.20M1098.71 34.40V614.20M1103.7 34.40V614.20M1108.68 34.40V614.20M1113.67 34.40V614.20M1118.65 34.40V614.20M1123.64 34.40V614.20M1128.62 34.40V614.20M1133.61 34.40V614.20M1138.59 34.40V614.20M1143.58 34.40V614.20M1148.56 34.40V614.20M1153.55 34.40V614.20M1158.53 34.40V614.20M1163.51 34.40V614.20M1168.5 34.40V614.20M1173.48 34.40V614.20M1178.47 34.40V614.20M1183.45 34.40V614.20M1188.44 34.40V614.20M1193.42 34.40V614.20M1198.41 34.40V614.20M1203.39 34.40V614.20M1208.38 34.40V614.20M1213.36 34.40V614.20M1218.35 34.40V614.20M1223.33 34.40V614.20M1228.31 34.40V614.20M1233.3 34.40V614.20M1238.28 34.40V614.20M1243.27 34.40V614.20M1248.25 34.40V614.20M1253.24 34.40V614.20M1258.22 34.40V614.20M1263.21 34.40V614.20M1268.19 34.40V614.20M1273.18 34.40V614.20M1278.16 34.40V614.20M1283.15 34.40V614.20M1288.13 34.40V614.20M1293.12 34.40V614.20M1298.1 34.40V614.20M729.85 34.4H1298.10M729.85 39.49H1298.10M729.85 44.57H1298.10M729.85 49.66H1298.10M729.85 54.74H1298.10M729.85 59.83H1298.10M729.85 64.92H1298.10M729.85 70H1298.10M729.85 75.09H1298.10M729.85 80.17H1298.10M729.85 85.26H1298.10M729.85 90.35H1298.10M729.85 95.43H1298.10M729.85 100.52H1298.10M729.85 105.6H1298.10M729.85 110.69H1298.10M729.85 115.78H1298.10M729.85 120.86H1298.10M729.85 125.95H1298.10M729.85 131.03H1298.10M729.85 136.12H1298.10M729.85 141.21H1298.10M729.85 146.29H1298.10M729.85 151.38H1298.10M729.85 156.46H1298.10M729.85 161.55H1298.10M729.85 166.64H1298.10M729.85 171.72H1298.10M729.85 176.81H1298.10M729.85 181.89H1298.10M729.85 186.98H1298.10M729.85 192.06H1298.10M729.85 197.15H1298.10M729.85 202.24H1298.10M729.85 207.32H1298.10M729.85 212.41H1298.10M729.85 217.49H1298.10M729.85 222.58H1298.10M729.85 227.67H1298.10M729.85 232.75H1298.10M729.85 237.84H1298.10M729.85 242.92H1298.10M729.85 248.01H1298.10M729.85 253.1H1298.10M729.85 258.18H1298.10M729.85 263.27H1298.10M729.85 268.35H1298.10M729.85 273.44H1298.10M729.85 278.53H1298.10M729.85 283.61H1298.10M729.85 288.7H1298.10M729.85 293.78H1298.10M729.85 298.87H1298.10M729.85 303.96H1298.10M729.85 309.04H1298.10M729.85 314.13H1298.10M729.85 319.21H1298.10M729.85 324.3H1298.10M729.85 329.39H1298.10M729.85 334.47H1298.10M729.85 339.56H1298.10M729.85 344.64H1298.10M729.85 349.73H1298.10M729.85 354.82H1298.10M729.85 359.9H1298.10M729.85 364.99H1298.10M729.85 370.07H1298.10M729.85 375.16H1298.10M729.85 380.25H1298.10M729.85 385.33H1298.10M729.85 390.42H1298.10M729.85 395.5H1298.10M729.85 400.59H1298.10M729.85 405.68H1298.10M729.85 410.76H1298.10M729.85 415.85H1298.10M729.85 420.93H1298.10M729.85 426.02H1298.10M729.85 431.11H1298.10M729.85 436.19H1298.10M729.85 441.28H1298.10M729.85 446.36H1298.10M729.85 451.45H1298.10M729.85 456.54H1298.10M729.85 461.62H1298.10M729.85 466.71H1298.10M729.85 471.79H1298.10M729.85 476.88H1298.10M729.85 481.96H1298.10M729.85 487.05H1298.10M729.85 492.14H1298.10M729.85 497.22H1298.10M729.85 502.31H1298.10M729.85 507.39H1298.10M729.85 512.48H1298.10M729.85 517.57H1298.10M729.85 522.65H1298.10M729.85 527.74H1298.10M729.85 532.82H1298.10M729.85 537.91H1298.10M729.85 543H1298.10M729.85 548.08H1298.10M729.85 553.17H1298.10M729.85 558.25H1298.10M729.85 563.34H1298.10M729.85 568.43H1298.10M729.85 573.51H1298.10M729.85 578.6H1298.10M729.85 583.68H1298.10M729.85 588.77H1298.10M729.85 593.86H1298.10M729.85 598.94H1298.10M729.85 604.03H1298.10M729.85 609.11H1298.10M729.85 614.2H1298.10" stroke="#8c8c8c" stroke-width="0.62" fill="none"/>
<path d="M981.57 34.40V27.98H986.56V34.40M1180.96 34.40V19.15H1185.95V34.40M916.77 34.40V19.73H921.76V34.40M1146.07 34.40V24.24H1151.05V34.40M926.74 34.40V18.88H931.73V34.40M951.67 34.40V25.60H956.65V34.40M817.08 34.40V19.18H822.07V34.40M861.94 34.40V24.29H866.93V34.40M757.27 34.40V25.49H762.25V34.40M1036.41 34.40V22.78H1041.39V34.40M1056.34 34.40V29.39H1061.33V34.40M996.53 34.40V27.75H1001.51V34.40M881.88 34.40V26.47H886.87V34.40M1200.90 34.40V25.42H1205.88V34.40M1111.18 34.40V23.63H1116.16V34.40M787.17 34.40V21.66H792.16V34.40M1270.68 34.40V24.00H1275.67V34.40M1225.82 34.40V29.20H1230.81V34.40M1091.24 34.40V21.89H1096.22V34.40M971.61 34.40V20.26H976.59V34.40M1026.44 34.40V19.61H1031.42V34.40M802.13 34.40V22.97H807.11V34.40M1215.85 34.40V22.15H1220.84V34.40M827.05 34.40V19.87H832.04V34.40M1190.93 34.40V21.53H1195.91V34.40M1046.38 34.40V26.01H1051.36V34.40M1280.65 34.40V28.99H1285.64V34.40M1235.79 34.40V23.66H1240.78V34.40M842.00 34.40V21.13H846.99V34.40M851.97 34.40V24.70H856.96V34.40M961.64 34.40V21.38H966.62V34.40M1071.30 34.40V29.23H1076.28V34.40M1126.13 34.40V24.80H1131.11V34.40M896.84 34.40V25.86H901.82V34.40M767.23 34.40V27.42H772.22V34.40M941.70 34.40V23.09H946.68V34.40M871.91 34.40V24.30H876.90V34.40M1170.99 34.40V23.14H1175.98V34.40M1011.48 34.40V26.72H1016.47V34.40M737.33 34.40V29.95H742.31V34.40M747.30 34.40V28.02H752.28V34.40M1081.27 34.40V23.80H1086.25V34.40M1161.02 34.40V27.08H1166.01V34.40M1245.76 34.40V21.10H1250.75V34.40M906.81 34.40V25.03H911.79V34.40M1255.73 34.40V19.71H1260.72V34.40M1290.62 34.40V28.94H1295.61V34.40M1101.21 34.40V24.70H1106.19V34.40M777.20 34.40V29.83H782.19V34.40M1136.10 34.40V20.63H1141.08V34.40M732.34 34.40V17.81H739.82V29.95M1066.31 34.40V23.38H1073.79V29.23M991.54 34.40V20.66H999.02V27.75M1006.50 34.40V22.13H1013.97V26.72M1283.15 28.99V21.13H1293.12V28.94M769.73 27.42V21.53H779.70V29.83M1156.04 34.40V21.75H1163.51V27.08M797.14 34.40V18.10H804.62V22.97M891.85 34.40V19.99H899.33V25.86M1203.39 25.42V23.28H1210.87V34.40M1121.14 34.40V19.23H1128.62V24.80M1048.87 26.01V21.33H1058.84V29.39M874.40 24.30V19.29H884.37V26.47M936.71 34.40V21.11H944.19V23.09M1228.31 29.20V21.75H1238.28V23.66M854.47 24.70V20.88H864.44V24.29M749.79 28.02V17.59H759.76V25.49M1265.70 34.40V17.81H1273.18V24.00M1070.05 23.38V20.05H1083.76V23.80M1010.24 22.13V20.31H1021.45V34.40M974.10 20.26V17.22H984.07V27.98M1103.70 24.70V18.74H1113.67V23.63M1138.59 20.63V19.18H1148.56V24.24M837.02 34.40V19.08H844.50V21.13M954.16 25.60V19.69H964.13V21.38M1207.13 23.28V15.30H1218.35V22.15M1028.93 19.61V18.13H1038.90V22.78M1173.48 23.14V17.40H1183.45V19.15M909.30 25.03V18.91H919.27V19.73M1233.30 21.75V18.60H1248.25V21.10M812.10 34.40V17.79H819.57V19.18M1258.22 19.71V16.72H1269.44V17.81M774.71 21.53V15.23H789.67V21.66M929.24 18.88V16.53H940.45V21.11M829.54 19.87V16.34H840.76V19.08M1178.47 17.40V14.86H1193.42V21.53M1143.58 19.18V17.15H1159.78V21.75M879.39 19.29V17.20H895.59V19.99M1108.68 18.74V17.08H1124.88V19.23M1076.91 20.05V17.21H1093.73V21.89M800.88 18.10V16.05H815.84V17.79M835.15 16.34V15.50H859.45V20.88M995.28 20.66V18.78H1015.84V20.31M1033.91 18.13V14.50H1053.85V21.33M959.14 19.69V12.86H979.08V17.22M736.08 17.81V13.47H754.77V17.59M914.28 18.91V13.47H934.84V16.53M1085.32 17.21V13.18H1116.78V17.08M1263.83 16.72V14.92H1288.13V21.13M1185.95 14.86V12.99H1212.74V15.30M1005.56 18.78V12.33H1043.88V14.50M782.19 15.23V13.33H808.36V16.05M1199.34 12.99V11.23H1240.78V18.60M924.56 13.47V10.68H969.11V12.86M847.30 15.50V12.66H887.49V17.20M1101.05 13.18V11.18H1151.68V17.15M745.43 13.47V11.85H795.27V13.33M1220.06 11.23V10.07H1275.98V14.92M867.40 12.66V6.38H946.84V10.68M1024.72 12.33V8.77H1126.36V11.18M770.35 11.85V4.92H907.12V6.38M1075.54 8.77V4.48H1248.02V10.07M838.73 4.92V1.80H1161.78V4.48" stroke="#111" stroke-width="0.95" fill="none"/>
<path d="M729.85 382.79H719.83V387.87H729.85M729.85 92.89H710.30V97.97H729.85M729.85 586.23H715.37V591.31H729.85M729.85 443.82H711.13V448.91H729.85M729.85 489.59H719.92V494.68H729.85M729.85 164.09H711.57V169.18H729.85M729.85 291.24H714.70V296.33H729.85M729.85 326.84H710.09V331.93H729.85M729.85 596.40H712.27V601.49H729.85M729.85 479.42H715.11V484.51H729.85M729.85 270.90H721.50V275.98H729.85M729.85 52.20H712.27V57.29H729.85M729.85 138.66H717.11V143.75H729.85M729.85 464.16H719.27V469.25H729.85M729.85 418.39H712.13V423.48H729.85M729.85 225.12H719.09V230.21H729.85M729.85 535.37H712.96V540.45H729.85M729.85 209.87H715.72V214.95H729.85M729.85 560.80H721.93V565.88H729.85M729.85 179.35H722.85V184.44H729.85M729.85 570.97H723.28V576.06H729.85M729.85 545.54H715.40V550.63H729.85M729.85 606.57H721.56V611.66H729.85M729.85 347.19H722.98V352.27H729.85M729.85 499.77H713.72V504.85H729.85M729.85 245.47H714.67V250.55H729.85M729.85 194.61H710.96V199.69H729.85M729.85 357.36H721.70V362.44H729.85M729.85 453.99H722.31V459.08H729.85M729.85 301.41H719.13V306.50H729.85M729.85 113.23H724.33V118.32H729.85M729.85 433.65H714.77V438.73H729.85M729.85 520.11H714.35V525.20H729.85M729.85 72.54H711.25V77.63H729.85M729.85 123.40H717.97V128.49H729.85M729.85 311.59H721.90V316.67H729.85M729.85 255.64H710.45V260.73H729.85M729.85 408.22H712.46V413.30H729.85M729.85 281.07H716.28V286.16H729.85M729.85 235.30H719.71V240.38H729.85M729.85 372.62H723.62V377.70H729.85M729.85 42.03H721.92V47.11H729.85M729.85 148.83H715.23V153.92H729.85M729.85 392.96H714.87V398.05H729.85M729.85 62.37H720.79V67.46H729.85M729.85 509.94H718.36V515.02H729.85M729.85 82.72H722.42V87.80H729.85M729.85 337.01H722.48V342.10H729.85M729.85 103.06H718.34V108.15H729.85M723.28 573.51H713.08V581.14H729.85M729.85 174.26H716.89V181.89H722.85M729.85 555.71H717.24V563.34H721.93M729.85 265.81H713.97V273.44H721.50M722.48 339.56H707.14V349.73H722.98M721.90 314.13H715.38V321.76H729.85M721.70 359.90H711.93V367.53H729.85M729.85 36.94H711.36V44.57H721.92M723.62 375.16H712.55V385.33H719.83M719.27 466.71H708.73V474.34H729.85M717.97 125.95H711.49V133.58H729.85M729.85 220.04H715.15V227.67H719.09M729.85 428.56H712.72V436.19H714.77M729.85 530.28H710.67V537.91H712.96M729.85 204.78H709.07V212.41H715.72M719.71 237.84H712.07V248.01H714.67M718.34 105.60H714.74V115.78H724.33M714.87 395.50H709.92V403.13H729.85M715.40 548.08H707.99V559.53H717.24M715.11 481.96H712.76V492.14H719.92M713.97 269.63H708.20V283.61H716.28M715.23 151.38H711.36V159.01H729.85M716.89 178.08H711.74V189.52H729.85M713.72 502.31H712.43V512.48H718.36M712.46 410.76H710.95V420.93H712.13M714.70 293.78H708.77V303.96H719.13M713.08 577.33H710.20V588.77H715.37M711.49 129.76H709.85V141.21H717.11M712.27 54.74H709.87V64.92H720.79M711.13 446.36H709.04V456.54H722.31M711.36 40.76H707.20V59.83H709.87M722.42 85.26H707.56V95.43H710.30M711.36 155.19H708.91V166.64H711.57M712.27 598.94H707.76V609.11H721.56M712.43 507.39H706.98V522.65H714.35M712.55 380.25H707.51V399.32H709.92M710.96 197.15H707.04V208.59H709.07M712.72 432.38H705.01V451.45H709.04M715.38 317.94H707.69V329.39H710.09M712.07 242.92H704.93V258.18H710.45M707.14 344.64H703.56V363.72H711.93M711.25 75.09H705.92V90.35H707.56M708.73 470.52H705.03V487.05H712.76M710.67 534.10H705.60V553.80H707.99M707.51 389.78H703.76V415.85H710.95M714.74 110.69H704.44V135.48H709.85M708.91 160.91H705.30V183.80H711.74M707.04 202.87H704.86V223.85H715.15M710.20 583.05H705.88V604.03H707.76M708.20 276.62H702.64V298.87H708.77M702.64 287.74H701.12V323.66H707.69M707.20 50.29H703.48V82.72H705.92M705.60 543.95H700.57V593.54H705.88M705.01 441.91H702.01V478.79H705.03M704.86 213.36H702.36V250.55H704.93M703.56 354.18H701.30V402.81H703.76M704.44 123.09H699.36V172.36H705.30M702.01 460.35H699.53V515.02H706.98M702.36 231.96H699.96V305.70H701.12M703.48 66.51H695.93V147.72H699.36M701.30 378.50H696.02V487.69H699.53M696.02 433.09H694.52V568.74H700.57M695.93 107.11H694.83V268.83H699.96M694.83 187.97H692.85V500.92H694.52" stroke="#111" stroke-width="0.95" fill="none"/>
<defs><linearGradient id="cbg" x1="0" y1="0" x2="0" y2="1"><stop offset="0" stop-color="#ff0000"/><stop offset="0.5" stop-color="#ffffff"/><stop offset="1" stop-color="#2e7ec7"/></linearGradient></defs>
<rect x="1301.6" y="38.0" width="13.6" height="198.2" fill="url(#cbg)"/>
<g font-family="Liberation Sans, sans-serif" font-weight="bold" font-size="20.3" fill="#111"><text x="1320.2" y="56.8">1</text><text x="1320.2" y="91.9">0.8</text><text x="1320.2" y="125.9">0.6</text><text x="1320.2" y="160.0">0.4</text><text x="1320.2" y="193.6">0.2</text><text x="1320.2" y="227.3">0</text></g></g>
<g id="pc"><rect x="1504.10" y="45.07" width="45.8" height="494.53" fill="#3080c2" stroke="#0a0605" stroke-width="1.7"/>
<text x="1528.60" y="40.67" font-size="22.7" text-anchor="middle" font-family="DejaVu Sans, sans-serif" textLength="52.5" lengthAdjust="spacingAndGlyphs">64.2%</text>
<line x1="1527.00" y1="539.6" x2="1527.00" y2="544.8000000000001" stroke="#000" stroke-width="1.2"/>
<text x="1527.00" y="566.90" font-size="22.8" text-anchor="middle" font-family="DejaVu Sans, sans-serif" textLength="66.3" lengthAdjust="spacingAndGlyphs">0.5-0.8</text>
<rect x="1594.48" y="362.43" width="45.8" height="177.17" fill="#3080c2" stroke="#0a0605" stroke-width="1.7"/>
<text x="1618.98" y="358.03" font-size="22.7" text-anchor="middle" font-family="DejaVu Sans, sans-serif" textLength="52.5" lengthAdjust="spacingAndGlyphs">23.0%</text>
<line x1="1617.38" y1="539.6" x2="1617.38" y2="544.8000000000001" stroke="#000" stroke-width="1.2"/>
<text x="1617.38" y="566.90" font-size="22.8" text-anchor="middle" font-family="DejaVu Sans, sans-serif" textLength="66.3" lengthAdjust="spacingAndGlyphs">0.8-1.1</text>
<rect x="1684.86" y="455.64" width="45.8" height="83.96" fill="#3080c2" stroke="#0a0605" stroke-width="1.7"/>
<text x="1709.36" y="451.24" font-size="22.7" text-anchor="middle" font-family="DejaVu Sans, sans-serif" textLength="52.5" lengthAdjust="spacingAndGlyphs">10.9%</text>
<line x1="1707.76" y1="539.6" x2="1707.76" y2="544.8000000000001" stroke="#000" stroke-width="1.2"/>
<text x="1708.36" y="566.90" font-size="22.8" text-anchor="middle" font-family="DejaVu Sans, sans-serif" textLength="66.3" lengthAdjust="spacingAndGlyphs">1.1-1.4</text>
<rect x="1775.24" y="534.98" width="45.8" height="4.62" fill="#3080c2" stroke="#0a0605" stroke-width="1.7"/>
<text x="1799.74" y="530.58" font-size="22.7" text-anchor="middle" font-family="DejaVu Sans, sans-serif" textLength="53" lengthAdjust="spacingAndGlyphs">0.6%</text>
<line x1="1798.14" y1="539.6" x2="1798.14" y2="544.8000000000001" stroke="#000" stroke-width="1.2"/>
<text x="1800.14" y="566.90" font-size="22.8" text-anchor="middle" font-family="DejaVu Sans, sans-serif" textLength="66.3" lengthAdjust="spacingAndGlyphs">1.4-1.7</text>
<rect x="1865.62" y="533.44" width="45.8" height="6.16" fill="#3080c2" stroke="#0a0605" stroke-width="1.7"/>
<text x="1890.12" y="529.04" font-size="22.7" text-anchor="middle" font-family="DejaVu Sans, sans-serif" textLength="53" lengthAdjust="spacingAndGlyphs">0.8%</text>
<line x1="1888.52" y1="539.6" x2="1888.52" y2="544.8000000000001" stroke="#000" stroke-width="1.2"/>
<text x="1889.72" y="566.90" font-size="22.8" text-anchor="middle" font-family="DejaVu Sans, sans-serif" textLength="49.5" lengthAdjust="spacingAndGlyphs">1.7-2</text>
<rect x="1956.00" y="536.52" width="45.8" height="3.08" fill="#3080c2" stroke="#0a0605" stroke-width="1.7"/>
<text x="1980.50" y="532.12" font-size="22.7" text-anchor="middle" font-family="DejaVu Sans, sans-serif" textLength="53" lengthAdjust="spacingAndGlyphs">0.4%</text>
<line x1="1978.90" y1="539.6" x2="1978.90" y2="544.8000000000001" stroke="#000" stroke-width="1.2"/>
<text x="1981.30" y="566.90" font-size="22.8" text-anchor="middle" font-family="DejaVu Sans, sans-serif" textLength="29.5" lengthAdjust="spacingAndGlyphs">2-3</text>
<line x1="1474.3" y1="539.60" x2="1479.5" y2="539.60" stroke="#000" stroke-width="1.2"/>
<text x="1470.00" y="546.30" font-size="24.5" text-anchor="end" font-family="DejaVu Sans, sans-serif">0</text>
<line x1="1474.3" y1="462.57" x2="1479.5" y2="462.57" stroke="#000" stroke-width="1.2"/>
<text x="1470.00" y="469.27" font-size="24.5" text-anchor="end" font-family="DejaVu Sans, sans-serif">10</text>
<line x1="1474.3" y1="385.54" x2="1479.5" y2="385.54" stroke="#000" stroke-width="1.2"/>
<text x="1470.00" y="392.24" font-size="24.5" text-anchor="end" font-family="DejaVu Sans, sans-serif">20</text>
<line x1="1474.3" y1="308.51" x2="1479.5" y2="308.51" stroke="#000" stroke-width="1.2"/>
<text x="1470.00" y="315.21" font-size="24.5" text-anchor="end" font-family="DejaVu Sans, sans-serif">30</text>
<line x1="1474.3" y1="231.48" x2="1479.5" y2="231.48" stroke="#000" stroke-width="1.2"/>
<text x="1470.00" y="238.18" font-size="24.5" text-anchor="end" font-family="DejaVu Sans, sans-serif">40</text>
<line x1="1474.3" y1="154.45" x2="1479.5" y2="154.45" stroke="#000" stroke-width="1.2"/>
<text x="1470.00" y="161.15" font-size="24.5" text-anchor="end" font-family="DejaVu Sans, sans-serif">50</text>
<line x1="1474.3" y1="77.42" x2="1479.5" y2="77.42" stroke="#000" stroke-width="1.2"/>
<text x="1470.00" y="84.12" font-size="24.5" text-anchor="end" font-family="DejaVu Sans, sans-serif">60</text>
<rect x="1479.5" y="19.9" width="546.60" height="519.70" fill="none" stroke="#000" stroke-width="1.5"/>
<text x="1610.6" y="613.9" font-size="24.5" textLength="271.3" lengthAdjust="spacingAndGlyphs" font-family="Liberation Sans, Noto Sans CJK SC, sans-serif">ROH Length Range (Mb)</text>
<text transform="translate(1428.5,393) rotate(-90)" font-size="24.3" font-family="Liberation Sans, Noto Sans CJK SC, sans-serif">Percentage（%）</text></g>
<g id="pd"><rect x="146.58" y="1073.77" width="30.4" height="7.33" fill="#f8e1ee" stroke="#000" stroke-width="1.7"/>
<text x="161.78" y="1072.87" font-size="19.9" text-anchor="middle" font-family="DejaVu Sans, sans-serif">5</text>
<line x1="161.78" y1="1081.1" x2="161.78" y2="1085.8999999999999" stroke="#000" stroke-width="1.1"/>
<text x="161.78" y="1106.60" font-size="22.4" text-anchor="middle" font-family="DejaVu Sans, sans-serif" textLength="14.7" lengthAdjust="spacingAndGlyphs">1</text>
<rect x="197.24" y="1009.26" width="30.4" height="71.84" fill="#f8e1ee" stroke="#000" stroke-width="1.7"/>
<text x="212.44" y="1008.36" font-size="19.9" text-anchor="middle" font-family="DejaVu Sans, sans-serif">49</text>
<line x1="212.44" y1="1081.1" x2="212.44" y2="1085.8999999999999" stroke="#000" stroke-width="1.1"/>
<text x="212.44" y="1106.60" font-size="22.4" text-anchor="middle" font-family="DejaVu Sans, sans-serif" textLength="14.7" lengthAdjust="spacingAndGlyphs">2</text>
<rect x="247.90" y="934.48" width="30.4" height="146.62" fill="#f8e1ee" stroke="#000" stroke-width="1.7"/>
<text x="263.10" y="933.58" font-size="19.9" text-anchor="middle" font-family="DejaVu Sans, sans-serif">100</text>
<line x1="263.10" y1="1081.1" x2="263.10" y2="1085.8999999999999" stroke="#000" stroke-width="1.1"/>
<text x="263.10" y="1106.60" font-size="22.4" text-anchor="middle" font-family="DejaVu Sans, sans-serif" textLength="14.7" lengthAdjust="spacingAndGlyphs">3</text>
<rect x="298.56" y="985.80" width="30.4" height="95.30" fill="#f8e1ee" stroke="#000" stroke-width="1.7"/>
<text x="313.76" y="984.90" font-size="19.9" text-anchor="middle" font-family="DejaVu Sans, sans-serif">65</text>
<line x1="313.76" y1="1081.1" x2="313.76" y2="1085.8999999999999" stroke="#000" stroke-width="1.1"/>
<text x="313.76" y="1106.60" font-size="22.4" text-anchor="middle" font-family="DejaVu Sans, sans-serif" textLength="14.7" lengthAdjust="spacingAndGlyphs">4</text>
<rect x="349.22" y="963.80" width="30.4" height="117.30" fill="#f8e1ee" stroke="#000" stroke-width="1.7"/>
<text x="364.42" y="962.90" font-size="19.9" text-anchor="middle" font-family="DejaVu Sans, sans-serif">80</text>
<line x1="364.42" y1="1081.1" x2="364.42" y2="1085.8999999999999" stroke="#000" stroke-width="1.1"/>
<text x="364.42" y="1106.60" font-size="22.4" text-anchor="middle" font-family="DejaVu Sans, sans-serif" textLength="14.7" lengthAdjust="spacingAndGlyphs">5</text>
<rect x="399.88" y="868.50" width="30.4" height="212.60" fill="#f8e1ee" stroke="#000" stroke-width="1.7"/>
<text x="415.08" y="867.60" font-size="19.9" text-anchor="middle" font-family="DejaVu Sans, sans-serif">145</text>
<line x1="415.08" y1="1081.1" x2="415.08" y2="1085.8999999999999" stroke="#000" stroke-width="1.1"/>
<text x="415.08" y="1106.60" font-size="22.4" text-anchor="middle" font-family="DejaVu Sans, sans-serif" textLength="14.7" lengthAdjust="spacingAndGlyphs">6</text>
<rect x="450.54" y="695.49" width="30.4" height="385.61" fill="#f8e1ee" stroke="#000" stroke-width="1.7"/>
<text x="465.74" y="694.59" font-size="19.9" text-anchor="middle" font-family="DejaVu Sans, sans-serif">263</text>
<line x1="465.74" y1="1081.1" x2="465.74" y2="1085.8999999999999" stroke="#000" stroke-width="1.1"/>
<text x="465.74" y="1106.60" font-size="22.4" text-anchor="middle" font-family="DejaVu Sans, sans-serif" textLength="14.7" lengthAdjust="spacingAndGlyphs">7</text>
<rect x="501.20" y="1081.10" width="30.4" height="0.00" fill="#f8e1ee" stroke="#000" stroke-width="1.7"/>
<text x="516.40" y="1080.20" font-size="19.9" text-anchor="middle" font-family="DejaVu Sans, sans-serif">0</text>
<line x1="516.40" y1="1081.1" x2="516.40" y2="1085.8999999999999" stroke="#000" stroke-width="1.1"/>
<text x="516.40" y="1106.60" font-size="22.4" text-anchor="middle" font-family="DejaVu Sans, sans-serif" textLength="14.7" lengthAdjust="spacingAndGlyphs">8</text>
<rect x="551.86" y="927.15" width="30.4" height="153.95" fill="#f8e1ee" stroke="#000" stroke-width="1.7"/>
<text x="567.06" y="926.25" font-size="19.9" text-anchor="middle" font-family="DejaVu Sans, sans-serif">105</text>
<line x1="567.06" y1="1081.1" x2="567.06" y2="1085.8999999999999" stroke="#000" stroke-width="1.1"/>
<text x="567.06" y="1106.60" font-size="22.4" text-anchor="middle" font-family="DejaVu Sans, sans-serif" textLength="14.7" lengthAdjust="spacingAndGlyphs">9</text>
<rect x="602.52" y="1064.97" width="30.4" height="16.13" fill="#f8e1ee" stroke="#000" stroke-width="1.7"/>
<text x="617.72" y="1064.07" font-size="19.9" text-anchor="middle" font-family="DejaVu Sans, sans-serif">11</text>
<line x1="617.72" y1="1081.1" x2="617.72" y2="1085.8999999999999" stroke="#000" stroke-width="1.1"/>
<text x="617.72" y="1106.60" font-size="22.4" text-anchor="middle" font-family="DejaVu Sans, sans-serif" textLength="29.4" lengthAdjust="spacingAndGlyphs">10</text>
<rect x="653.18" y="1081.10" width="30.4" height="0.00" fill="#f8e1ee" stroke="#000" stroke-width="1.7"/>
<text x="668.38" y="1080.20" font-size="19.9" text-anchor="middle" font-family="DejaVu Sans, sans-serif">0</text>
<line x1="668.38" y1="1081.1" x2="668.38" y2="1085.8999999999999" stroke="#000" stroke-width="1.1"/>
<text x="668.38" y="1106.60" font-size="22.4" text-anchor="middle" font-family="DejaVu Sans, sans-serif" textLength="29.4" lengthAdjust="spacingAndGlyphs">11</text>
<rect x="703.84" y="1081.10" width="30.4" height="0.00" fill="#f8e1ee" stroke="#000" stroke-width="1.7"/>
<text x="719.04" y="1080.20" font-size="19.9" text-anchor="middle" font-family="DejaVu Sans, sans-serif">0</text>
<line x1="719.04" y1="1081.1" x2="719.04" y2="1085.8999999999999" stroke="#000" stroke-width="1.1"/>
<text x="719.04" y="1106.60" font-size="22.4" text-anchor="middle" font-family="DejaVu Sans, sans-serif" textLength="29.4" lengthAdjust="spacingAndGlyphs">12</text>
<rect x="754.50" y="779.06" width="30.4" height="302.04" fill="#f8e1ee" stroke="#000" stroke-width="1.7"/>
<text x="769.70" y="778.16" font-size="19.9" text-anchor="middle" font-family="DejaVu Sans, sans-serif">206</text>
<line x1="769.70" y1="1081.1" x2="769.70" y2="1085.8999999999999" stroke="#000" stroke-width="1.1"/>
<text x="769.70" y="1106.60" font-size="22.4" text-anchor="middle" font-family="DejaVu Sans, sans-serif" textLength="29.4" lengthAdjust="spacingAndGlyphs">13</text>
<rect x="805.16" y="960.87" width="30.4" height="120.23" fill="#f8e1ee" stroke="#000" stroke-width="1.7"/>
<text x="820.36" y="959.97" font-size="19.9" text-anchor="middle" font-family="DejaVu Sans, sans-serif">82</text>
<line x1="820.36" y1="1081.1" x2="820.36" y2="1085.8999999999999" stroke="#000" stroke-width="1.1"/>
<text x="820.36" y="1106.60" font-size="22.4" text-anchor="middle" font-family="DejaVu Sans, sans-serif" textLength="29.4" lengthAdjust="spacingAndGlyphs">14</text>
<rect x="855.82" y="1081.10" width="30.4" height="0.00" fill="#f8e1ee" stroke="#000" stroke-width="1.7"/>
<text x="871.02" y="1080.20" font-size="19.9" text-anchor="middle" font-family="DejaVu Sans, sans-serif">0</text>
<line x1="871.02" y1="1081.1" x2="871.02" y2="1085.8999999999999" stroke="#000" stroke-width="1.1"/>
<text x="871.02" y="1106.60" font-size="22.4" text-anchor="middle" font-family="DejaVu Sans, sans-serif" textLength="29.4" lengthAdjust="spacingAndGlyphs">15</text>
<rect x="906.48" y="1081.10" width="30.4" height="0.00" fill="#f8e1ee" stroke="#000" stroke-width="1.7"/>
<text x="921.68" y="1080.20" font-size="19.9" text-anchor="middle" font-family="DejaVu Sans, sans-serif">0</text>
<line x1="921.68" y1="1081.1" x2="921.68" y2="1085.8999999999999" stroke="#000" stroke-width="1.1"/>
<text x="921.68" y="1106.60" font-size="22.4" text-anchor="middle" font-family="DejaVu Sans, sans-serif" textLength="29.4" lengthAdjust="spacingAndGlyphs">16</text>
<rect x="957.14" y="1081.10" width="30.4" height="0.00" fill="#f8e1ee" stroke="#000" stroke-width="1.7"/>
<text x="972.34" y="1080.20" font-size="19.9" text-anchor="middle" font-family="DejaVu Sans, sans-serif">0</text>
<line x1="972.34" y1="1081.1" x2="972.34" y2="1085.8999999999999" stroke="#000" stroke-width="1.1"/>
<text x="972.34" y="1106.60" font-size="22.4" text-anchor="middle" font-family="DejaVu Sans, sans-serif" textLength="29.4" lengthAdjust="spacingAndGlyphs">17</text>
<rect x="1007.80" y="1060.57" width="30.4" height="20.53" fill="#f8e1ee" stroke="#000" stroke-width="1.7"/>
<text x="1023.00" y="1059.67" font-size="19.9" text-anchor="middle" font-family="DejaVu Sans, sans-serif">14</text>
<line x1="1023.00" y1="1081.1" x2="1023.00" y2="1085.8999999999999" stroke="#000" stroke-width="1.1"/>
<text x="1023.00" y="1106.60" font-size="22.4" text-anchor="middle" font-family="DejaVu Sans, sans-serif" textLength="29.4" lengthAdjust="spacingAndGlyphs">18</text>
<line x1="97.2" y1="1081.10" x2="102.0" y2="1081.10" stroke="#000" stroke-width="1.1"/>
<text x="92.80" y="1089.30" font-size="22.0" text-anchor="end" font-family="DejaVu Sans, sans-serif" textLength="14.4" lengthAdjust="spacingAndGlyphs">0</text>
<line x1="97.2" y1="1007.79" x2="102.0" y2="1007.79" stroke="#000" stroke-width="1.1"/>
<text x="92.80" y="1015.99" font-size="22.0" text-anchor="end" font-family="DejaVu Sans, sans-serif" textLength="28.9" lengthAdjust="spacingAndGlyphs">50</text>
<line x1="97.2" y1="934.48" x2="102.0" y2="934.48" stroke="#000" stroke-width="1.1"/>
<text x="92.80" y="942.68" font-size="22.0" text-anchor="end" font-family="DejaVu Sans, sans-serif" textLength="43.3" lengthAdjust="spacingAndGlyphs">100</text>
<line x1="97.2" y1="861.17" x2="102.0" y2="861.17" stroke="#000" stroke-width="1.1"/>
<text x="92.80" y="869.37" font-size="22.0" text-anchor="end" font-family="DejaVu Sans, sans-serif" textLength="43.3" lengthAdjust="spacingAndGlyphs">150</text>
<line x1="97.2" y1="787.86" x2="102.0" y2="787.86" stroke="#000" stroke-width="1.1"/>
<text x="92.80" y="796.06" font-size="22.0" text-anchor="end" font-family="DejaVu Sans, sans-serif" textLength="43.3" lengthAdjust="spacingAndGlyphs">200</text>
<line x1="97.2" y1="714.55" x2="102.0" y2="714.55" stroke="#000" stroke-width="1.1"/>
<text x="92.80" y="722.75" font-size="22.0" text-anchor="end" font-family="DejaVu Sans, sans-serif" textLength="43.3" lengthAdjust="spacingAndGlyphs">250</text>
<rect x="102.0" y="675.6" width="980.80" height="405.50" fill="none" stroke="#111" stroke-width="1.6"/>
<text x="592.40" y="1133.30" font-size="23.8" text-anchor="middle" font-family="DejaVu Sans, sans-serif" textLength="167.6" lengthAdjust="spacingAndGlyphs">Chromosome</text>
<text transform="translate(39.7,878) rotate(-90)" font-size="25.2" text-anchor="middle" font-family="DejaVu Sans, sans-serif" textLength="196.4" lengthAdjust="spacingAndGlyphs">Number of ROHs</text></g>
<g id="pe"><path d="M1327.60 664.6V1088.5M1441.30 664.6V1088.5M1555.00 664.6V1088.5M1668.70 664.6V1088.5M1782.40 664.6V1088.5M1896.10 664.6V1088.5M2009.80 664.6V1088.5M1234.3 1064.00H2047.0M1234.3 995.16H2047.0M1234.3 926.32H2047.0M1234.3 857.48H2047.0M1234.3 788.64H2047.0M1234.3 719.80H2047.0" stroke="#b0b0b0" stroke-opacity="0.38" stroke-width="1.3" fill="none"/>
<g fill="#2f7fc6" fill-opacity="0.72" stroke="#000" stroke-opacity="0.78" stroke-width="1.45"><circle cx="1270.8" cy="1045.1" r="4.55"/><circle cx="1270.8" cy="1057.8" r="4.55"/><circle cx="1270.8" cy="1069.5" r="4.55"/><circle cx="1327.6" cy="1003.6" r="4.55"/><circle cx="1384.4" cy="980.7" r="4.55"/><circle cx="1384.4" cy="997.9" r="4.55"/><circle cx="1384.4" cy="999.3" r="4.55"/><circle cx="1441.3" cy="906.4" r="4.55"/><circle cx="1441.3" cy="951.8" r="4.55"/><circle cx="1441.3" cy="954.2" r="4.55"/><circle cx="1441.3" cy="969.0" r="4.55"/><circle cx="1441.3" cy="979.7" r="4.55"/><circle cx="1441.3" cy="983.1" r="4.55"/><circle cx="1441.3" cy="1019.6" r="4.55"/><circle cx="1498.1" cy="892.9" r="4.55"/><circle cx="1498.1" cy="927.0" r="4.55"/><circle cx="1498.1" cy="935.6" r="4.55"/><circle cx="1498.1" cy="938.0" r="4.55"/><circle cx="1498.1" cy="945.9" r="4.55"/><circle cx="1498.1" cy="952.5" r="4.55"/><circle cx="1498.1" cy="958.0" r="4.55"/><circle cx="1498.1" cy="964.2" r="4.55"/><circle cx="1498.1" cy="966.2" r="4.55"/><circle cx="1498.1" cy="971.4" r="4.55"/><circle cx="1498.1" cy="974.2" r="4.55"/><circle cx="1498.1" cy="978.0" r="4.55"/><circle cx="1498.1" cy="983.5" r="4.55"/><circle cx="1555.0" cy="871.6" r="4.55"/><circle cx="1555.0" cy="893.3" r="4.55"/><circle cx="1555.0" cy="902.9" r="4.55"/><circle cx="1555.0" cy="903.6" r="4.55"/><circle cx="1555.0" cy="913.6" r="4.55"/><circle cx="1555.0" cy="916.0" r="4.55"/><circle cx="1555.0" cy="919.1" r="4.55"/><circle cx="1555.0" cy="921.8" r="4.55"/><circle cx="1555.0" cy="923.9" r="4.55"/><circle cx="1555.0" cy="929.8" r="4.55"/><circle cx="1555.0" cy="930.8" r="4.55"/><circle cx="1555.0" cy="939.4" r="4.55"/><circle cx="1555.0" cy="963.5" r="4.55"/><circle cx="1611.8" cy="798.6" r="4.55"/><circle cx="1611.8" cy="861.3" r="4.55"/><circle cx="1611.8" cy="870.2" r="4.55"/><circle cx="1611.8" cy="874.7" r="4.55"/><circle cx="1611.8" cy="883.6" r="4.55"/><circle cx="1611.8" cy="887.4" r="4.55"/><circle cx="1611.8" cy="897.8" r="4.55"/><circle cx="1611.8" cy="903.9" r="4.55"/><circle cx="1611.8" cy="906.2" r="4.55"/><circle cx="1611.8" cy="907.0" r="4.55"/><circle cx="1611.8" cy="916.0" r="4.55"/><circle cx="1611.8" cy="922.9" r="4.55"/><circle cx="1611.8" cy="926.3" r="4.55"/><circle cx="1668.7" cy="795.5" r="4.55"/><circle cx="1668.7" cy="814.5" r="4.55"/><circle cx="1668.7" cy="843.4" r="4.55"/><circle cx="1668.7" cy="849.9" r="4.55"/><circle cx="1668.7" cy="852.0" r="4.55"/><circle cx="1668.7" cy="859.0" r="4.55"/><circle cx="1668.7" cy="859.9" r="4.55"/><circle cx="1668.7" cy="869.9" r="4.55"/><circle cx="1668.7" cy="870.6" r="4.55"/><circle cx="1668.7" cy="887.4" r="4.55"/><circle cx="1668.7" cy="890.5" r="4.55"/><circle cx="1668.7" cy="901.9" r="4.55"/><circle cx="1725.5" cy="789.0" r="4.55"/><circle cx="1725.5" cy="800.3" r="4.55"/><circle cx="1725.5" cy="801.0" r="4.55"/><circle cx="1725.5" cy="807.9" r="4.55"/><circle cx="1725.5" cy="808.6" r="4.55"/><circle cx="1725.5" cy="816.5" r="4.55"/><circle cx="1725.5" cy="822.4" r="4.55"/><circle cx="1725.5" cy="830.3" r="4.55"/><circle cx="1725.5" cy="837.5" r="4.55"/><circle cx="1725.5" cy="849.9" r="4.55"/><circle cx="1725.5" cy="852.0" r="4.55"/><circle cx="1725.5" cy="860.9" r="4.55"/><circle cx="1725.5" cy="865.4" r="4.55"/><circle cx="1725.5" cy="891.4" r="4.55"/><circle cx="1725.5" cy="898.4" r="4.55"/><circle cx="1782.4" cy="730.1" r="4.55"/><circle cx="1782.4" cy="759.0" r="4.55"/><circle cx="1782.4" cy="759.7" r="4.55"/><circle cx="1782.4" cy="765.6" r="4.55"/><circle cx="1782.4" cy="784.5" r="4.55"/><circle cx="1782.4" cy="796.9" r="4.55"/><circle cx="1782.4" cy="805.8" r="4.55"/><circle cx="1782.4" cy="809.3" r="4.55"/><circle cx="1782.4" cy="812.4" r="4.55"/><circle cx="1782.4" cy="818.6" r="4.55"/><circle cx="1782.4" cy="819.3" r="4.55"/><circle cx="1782.4" cy="829.3" r="4.55"/><circle cx="1839.2" cy="726.3" r="4.55"/><circle cx="1839.2" cy="758.7" r="4.55"/><circle cx="1839.2" cy="765.6" r="4.55"/><circle cx="1839.2" cy="769.7" r="4.55"/><circle cx="1839.2" cy="777.6" r="4.55"/><circle cx="1839.2" cy="780.7" r="4.55"/><circle cx="1839.2" cy="784.9" r="4.55"/><circle cx="1839.2" cy="786.9" r="4.55"/><circle cx="1839.2" cy="791.4" r="4.55"/><circle cx="1839.2" cy="799.3" r="4.55"/><circle cx="1839.2" cy="800.0" r="4.55"/><circle cx="1839.2" cy="810.7" r="4.55"/><circle cx="1839.2" cy="825.1" r="4.55"/><circle cx="1839.2" cy="825.8" r="4.55"/><circle cx="1896.1" cy="684.0" r="4.55"/><circle cx="1896.1" cy="736.3" r="4.55"/><circle cx="1896.1" cy="763.2" r="4.55"/><circle cx="1896.1" cy="777.6" r="4.55"/><circle cx="1952.9" cy="738.4" r="4.55"/><circle cx="2009.8" cy="714.3" r="4.55"/><circle cx="2009.8" cy="715.0" r="4.55"/></g>
<line x1="1327.60" y1="1088.5" x2="1327.60" y2="1093.3" stroke="#000" stroke-width="1.1"/>
<text x="1327.60" y="1114.90" font-size="23.3" text-anchor="middle" font-family="DejaVu Sans, sans-serif">4</text>
<line x1="1441.30" y1="1088.5" x2="1441.30" y2="1093.3" stroke="#000" stroke-width="1.1"/>
<text x="1441.30" y="1114.90" font-size="23.3" text-anchor="middle" font-family="DejaVu Sans, sans-serif">6</text>
<line x1="1555.00" y1="1088.5" x2="1555.00" y2="1093.3" stroke="#000" stroke-width="1.1"/>
<text x="1555.00" y="1114.90" font-size="23.3" text-anchor="middle" font-family="DejaVu Sans, sans-serif">8</text>
<line x1="1668.70" y1="1088.5" x2="1668.70" y2="1093.3" stroke="#000" stroke-width="1.1"/>
<text x="1668.70" y="1114.90" font-size="23.3" text-anchor="middle" font-family="DejaVu Sans, sans-serif">10</text>
<line x1="1782.40" y1="1088.5" x2="1782.40" y2="1093.3" stroke="#000" stroke-width="1.1"/>
<text x="1782.40" y="1114.90" font-size="23.3" text-anchor="middle" font-family="DejaVu Sans, sans-serif">12</text>
<line x1="1896.10" y1="1088.5" x2="1896.10" y2="1093.3" stroke="#000" stroke-width="1.1"/>
<text x="1896.10" y="1114.90" font-size="23.3" text-anchor="middle" font-family="DejaVu Sans, sans-serif">14</text>
<line x1="2009.80" y1="1088.5" x2="2009.80" y2="1093.3" stroke="#000" stroke-width="1.1"/>
<text x="2009.80" y="1114.90" font-size="23.3" text-anchor="middle" font-family="DejaVu Sans, sans-serif">16</text>
<line x1="1229.5" y1="1064.00" x2="1234.3" y2="1064.00" stroke="#000" stroke-width="1.1"/>
<text x="1225.10" y="1073.30" font-size="23.3" text-anchor="end" font-family="DejaVu Sans, sans-serif">2</text>
<line x1="1229.5" y1="995.16" x2="1234.3" y2="995.16" stroke="#000" stroke-width="1.1"/>
<text x="1225.10" y="1004.46" font-size="23.3" text-anchor="end" font-family="DejaVu Sans, sans-serif">4</text>
<line x1="1229.5" y1="926.32" x2="1234.3" y2="926.32" stroke="#000" stroke-width="1.1"/>
<text x="1225.10" y="935.62" font-size="23.3" text-anchor="end" font-family="DejaVu Sans, sans-serif">6</text>
<line x1="1229.5" y1="857.48" x2="1234.3" y2="857.48" stroke="#000" stroke-width="1.1"/>
<text x="1225.10" y="866.78" font-size="23.3" text-anchor="end" font-family="DejaVu Sans, sans-serif">8</text>
<line x1="1229.5" y1="788.64" x2="1234.3" y2="788.64" stroke="#000" stroke-width="1.1"/>
<text x="1225.10" y="797.94" font-size="23.3" text-anchor="end" font-family="DejaVu Sans, sans-serif">10</text>
<line x1="1229.5" y1="719.80" x2="1234.3" y2="719.80" stroke="#000" stroke-width="1.1"/>
<text x="1225.10" y="729.10" font-size="23.3" text-anchor="end" font-family="DejaVu Sans, sans-serif">12</text>
<rect x="1234.3" y="664.6" width="812.70" height="423.90" fill="none" stroke="#111" stroke-width="1.8"/>
<text x="1483.20" y="1142.65" font-size="25.6" text-anchor="start" font-family="DejaVu Sans, sans-serif" textLength="315.3" lengthAdjust="spacingAndGlyphs">NROH (Number of ROHs)</text>
<text transform="translate(1186.3,876.5) rotate(-90)" font-size="25.4" text-anchor="middle" font-family="DejaVu Sans, sans-serif" textLength="386.9" lengthAdjust="spacingAndGlyphs">SROH (Total ROH Length in Mb)</text></g>
</svg>
</body></html>
